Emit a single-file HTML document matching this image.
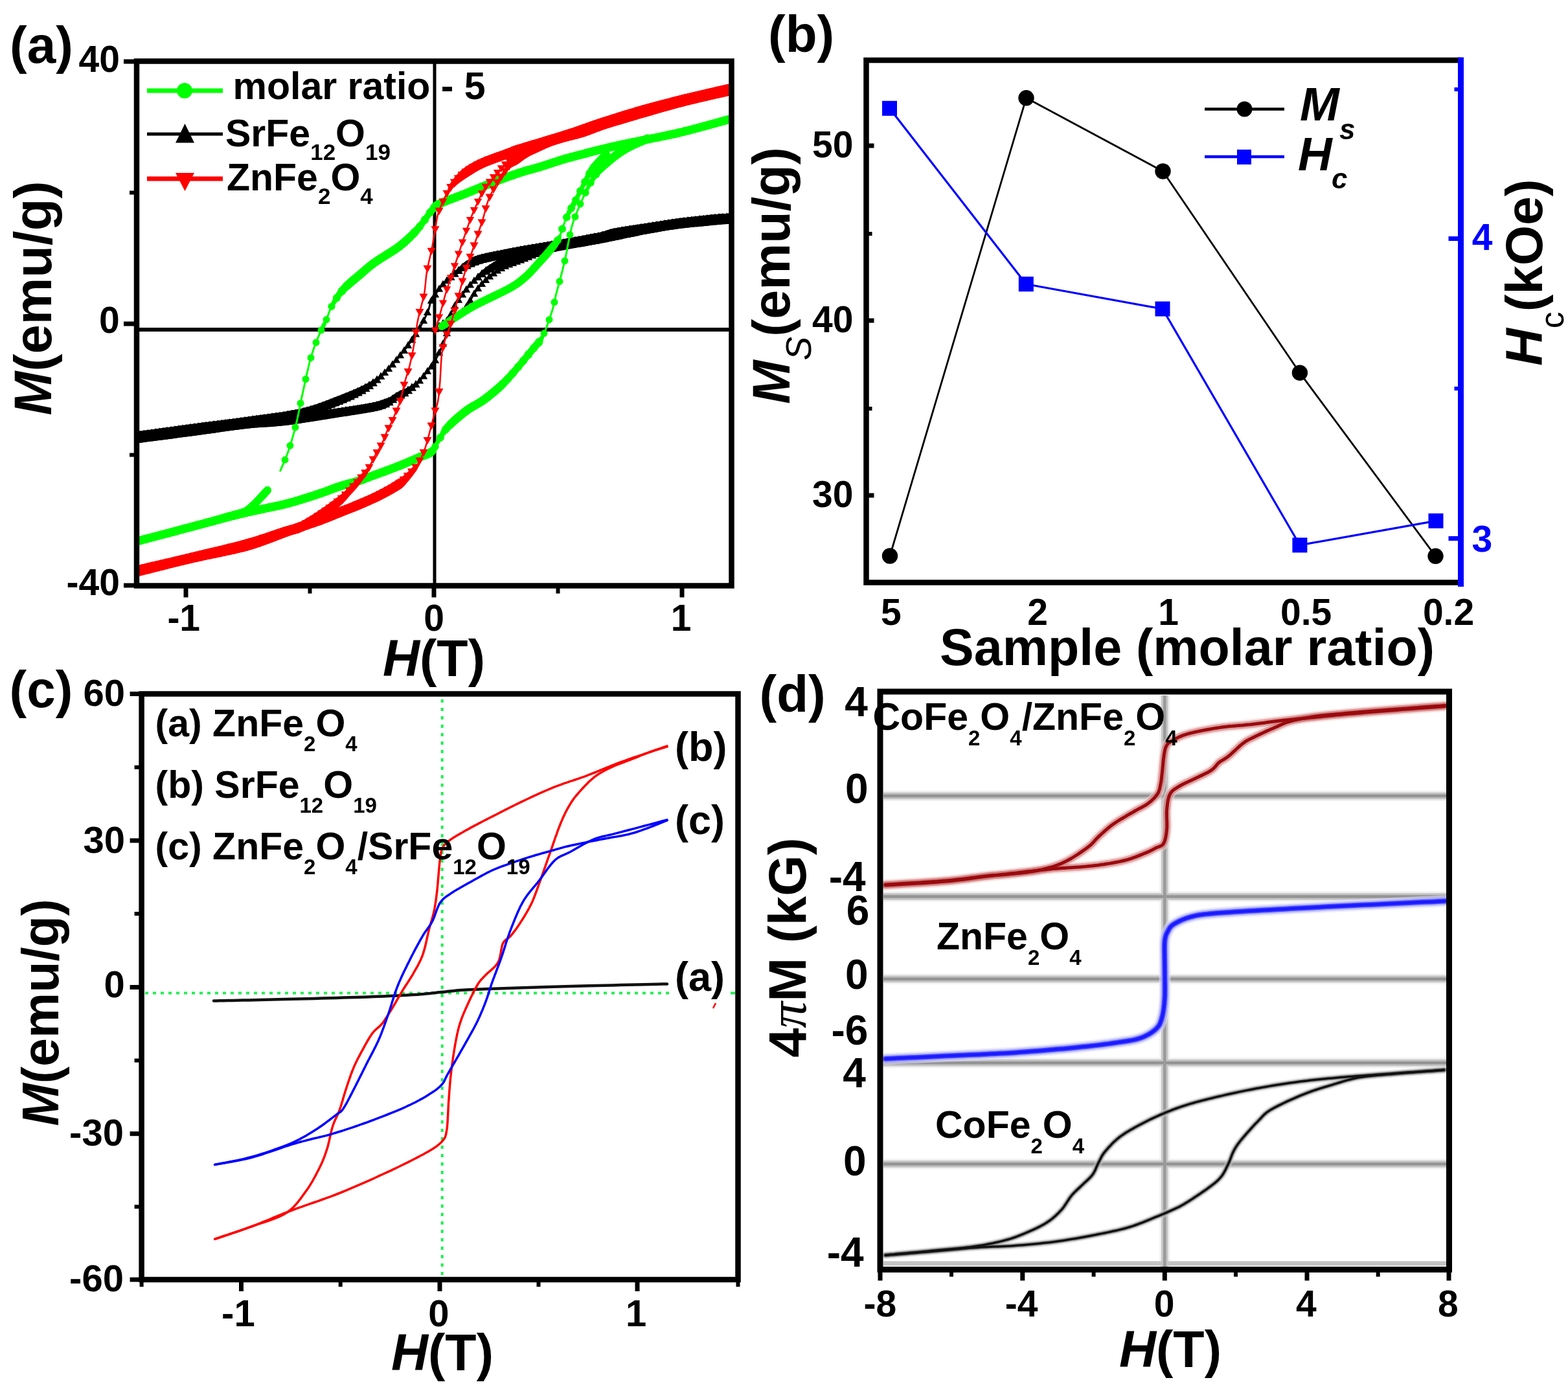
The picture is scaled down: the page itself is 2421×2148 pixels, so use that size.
<!DOCTYPE html>
<html><head><meta charset="utf-8"><title>Magnetic hysteresis figure</title>
<style>
html,body{margin:0;padding:0;background:#fff;}
body{width:2421px;height:2148px;overflow:hidden;}
svg{display:block;}
text{font-family:'Liberation Sans',Arial,sans-serif;font-weight:bold;}
</style></head><body>
<svg width="2421" height="2148" viewBox="0 0 2421 2148">
<rect width="2421" height="2148" fill="#fff"/>
<line x1="671.0" y1="94.5" x2="671.0" y2="904.5" stroke="#000" stroke-width="5" />
<line x1="211.0" y1="509.0" x2="1129.5" y2="509.0" stroke="#000" stroke-width="6" />
<defs><clipPath id="ca"><rect x="211" y="94.5" width="918.5" height="810"/></clipPath></defs><g clip-path="url(#ca)">
<path d="M1127.0,336.5 L1125.8,336.6 L1124.3,336.7 L1122.7,336.8 L1120.9,336.9 L1118.8,337.0 L1116.6,337.2 L1114.2,337.3 L1111.7,337.5 L1109.0,337.7 L1106.1,337.9 L1103.1,338.2 L1100.0,338.5 L1096.6,338.8 L1093.0,339.2 L1089.1,339.6 L1085.0,340.0 L1080.8,340.4 L1076.4,340.9 L1072.0,341.4 L1067.5,341.9 L1063.0,342.4 L1058.6,342.9 L1054.2,343.5 L1050.0,344.0 L1045.8,344.6 L1041.7,345.1 L1037.5,345.7 L1033.3,346.4 L1029.2,347.0 L1025.0,347.6 L1020.8,348.3 L1016.7,349.0 L1012.5,349.6 L1008.3,350.3 L1004.2,350.9 L1000.0,351.6 L995.8,352.3 L991.4,352.9 L986.9,353.6 L982.4,354.3 L977.9,354.9 L973.4,355.6 L969.0,356.3 L964.7,357.0 L960.7,357.6 L956.8,358.3 L953.3,358.9 L950.0,359.5 L947.2,360.1 L945.0,360.6 L943.2,361.1 L941.6,361.6 L940.3,362.0 L939.0,362.5 L937.7,363.0 L936.1,363.5 L934.3,364.0 L932.1,364.6 L929.4,365.3 L926.0,366.0 L921.9,366.8 L917.2,367.7 L912.1,368.7 L906.5,369.7 L900.7,370.8 L894.6,371.9 L888.5,373.0 L882.4,374.1 L876.4,375.1 L870.6,376.1 L865.1,377.1 L860.0,378.0 L855.2,378.8 L850.6,379.6 L846.0,380.4 L841.6,381.2 L837.2,381.9 L833.0,382.6 L828.9,383.3 L824.9,383.9 L821.0,384.6 L817.2,385.2 L813.6,385.9 L810.0,386.5 L806.6,387.1 L803.4,387.7 L800.4,388.3 L797.4,388.8 L794.6,389.3 L791.9,389.8 L789.3,390.4 L786.7,390.9 L784.1,391.4 L781.4,391.9 L778.7,392.4 L776.0,393.0 L773.2,393.6 L770.3,394.1 L767.3,394.7 L764.3,395.3 L761.3,395.9 L758.4,396.5 L755.5,397.1 L752.7,397.7 L750.1,398.3 L747.5,398.9 L745.2,399.4 L743.0,400.0 L741.0,400.5 L739.3,401.1 L737.7,401.6 L736.3,402.1 L735.0,402.6 L733.7,403.1 L732.5,403.6 L731.4,404.1 L730.2,404.6 L729.1,405.2 L727.8,405.8 L726.5,406.5 L725.2,407.2 L723.8,407.8 L722.6,408.5 L721.3,409.1 L720.1,409.8 L718.8,410.5 L717.5,411.3 L716.1,412.1 L714.7,413.0 L713.2,414.0 L711.7,415.2 L710.0,416.4 L708.2,417.8 L706.2,419.4 L704.0,421.1 L701.8,423.0 L699.5,424.9 L697.2,426.9 L694.9,428.9 L692.7,430.9 L690.5,432.8 L688.5,434.6 L686.6,436.4 L685.0,438.0 L683.5,439.5 L682.2,440.9 L681.1,442.3 L680.0,443.6 L679.0,444.8 L678.1,446.0 L677.3,447.2 L676.5,448.4 L675.7,449.5 L674.9,450.7 L674.1,451.8 L673.3,453.0 L672.5,454.2 L671.7,455.3 L670.9,456.4 L670.1,457.5 L669.4,458.6 L668.7,459.7 L668.0,460.8 L667.3,461.9 L666.7,463.0 L666.1,464.1 L665.5,465.2 L665.0,466.3 L664.5,467.4 L664.2,468.5 L663.9,469.5 L663.6,470.5 L663.4,471.5 L663.2,472.6 L662.9,473.6 L662.7,474.8 L662.4,475.9 L662.0,477.2 L661.6,478.5 L661.0,480.0 L660.3,481.6 L659.6,483.3 L658.8,485.0 L658.0,486.9 L657.1,488.8 L656.1,490.8 L655.2,492.8 L654.2,494.8 L653.2,496.8 L652.1,498.8 L651.1,500.8 L650.0,502.7 L648.9,504.6 L647.8,506.5 L646.7,508.4 L645.5,510.3 L644.4,512.2 L643.2,514.1 L642.0,515.9 L640.7,517.8 L639.5,519.7 L638.2,521.6 L636.9,523.5 L635.6,525.4 L634.3,527.3 L633.0,529.1 L631.7,530.9 L630.4,532.7 L629.1,534.5 L627.8,536.3 L626.4,538.2 L625.0,540.0 L623.5,541.9 L622.0,543.9 L620.3,545.9 L618.6,548.0 L616.8,550.2 L614.9,552.5 L612.9,554.9 L610.8,557.3 L608.7,559.8 L606.5,562.3 L604.3,564.8 L602.1,567.2 L599.8,569.7 L597.5,572.0 L595.3,574.3 L593.0,576.5 L590.8,578.6 L588.6,580.6 L586.5,582.6 L584.3,584.5 L582.1,586.4 L579.9,588.3 L577.6,590.1 L575.3,591.9 L572.9,593.7 L570.3,595.5 L567.6,597.2 L564.7,599.0 L561.7,600.8 L558.6,602.5 L555.4,604.2 L552.1,605.9 L548.7,607.6 L545.1,609.2 L541.5,610.9 L537.8,612.5 L534.0,614.1 L530.1,615.8 L526.1,617.4 L522.0,619.0 L517.8,620.6 L513.7,622.3 L509.4,624.0 L505.1,625.6 L500.7,627.3 L496.1,628.9 L491.5,630.6 L486.6,632.1 L481.6,633.7 L476.3,635.2 L470.8,636.6 L465.0,638.0 L458.9,639.3 L452.5,640.5 L445.7,641.7 L438.7,642.9 L431.6,643.9 L424.2,645.0 L416.8,646.0 L409.4,647.0 L401.9,648.0 L394.5,649.0 L387.2,650.0 L380.0,651.0 L372.9,652.0 L365.8,652.9 L358.6,653.9 L351.5,654.8 L344.3,655.7 L337.2,656.6 L330.1,657.5 L323.0,658.4 L315.9,659.3 L308.9,660.2 L301.9,661.1 L295.0,662.0 L287.9,663.0 L280.5,664.0 L272.8,665.0 L265.0,666.1 L257.3,667.1 L249.7,668.2 L242.4,669.2 L235.6,670.1 L229.3,671.0 L223.6,671.8 L218.8,672.5 L215.0,673.0" fill="none" stroke="#000000" stroke-width="3" stroke-linejoin="round" stroke-linecap="round" />
<g stroke="#000000" stroke-linecap="round"><line x1="1127.0" y1="336.5" x2="1125.8" y2="336.6" stroke-width="14.0"/><line x1="1125.8" y1="336.6" x2="1124.3" y2="336.7" stroke-width="14.0"/><line x1="1124.3" y1="336.7" x2="1122.7" y2="336.8" stroke-width="14.0"/><line x1="1122.7" y1="336.8" x2="1120.9" y2="336.9" stroke-width="14.0"/><line x1="1120.9" y1="336.9" x2="1118.8" y2="337.0" stroke-width="14.0"/><line x1="1118.8" y1="337.0" x2="1116.6" y2="337.2" stroke-width="14.0"/><line x1="1116.6" y1="337.2" x2="1114.2" y2="337.3" stroke-width="14.0"/><line x1="1114.2" y1="337.3" x2="1111.7" y2="337.5" stroke-width="14.0"/><line x1="1111.7" y1="337.5" x2="1109.0" y2="337.7" stroke-width="14.0"/><line x1="1109.0" y1="337.7" x2="1106.1" y2="337.9" stroke-width="14.0"/><line x1="1106.1" y1="337.9" x2="1103.1" y2="338.2" stroke-width="14.0"/><line x1="1103.1" y1="338.2" x2="1100.0" y2="338.5" stroke-width="14.0"/><line x1="1100.0" y1="338.5" x2="1096.6" y2="338.8" stroke-width="14.0"/><line x1="1096.6" y1="338.8" x2="1093.0" y2="339.2" stroke-width="14.0"/><line x1="1093.0" y1="339.2" x2="1089.1" y2="339.6" stroke-width="14.0"/><line x1="1089.1" y1="339.6" x2="1085.0" y2="340.0" stroke-width="14.0"/><line x1="1085.0" y1="340.0" x2="1080.8" y2="340.4" stroke-width="14.0"/><line x1="1080.8" y1="340.4" x2="1076.4" y2="340.9" stroke-width="14.0"/><line x1="1076.4" y1="340.9" x2="1072.0" y2="341.4" stroke-width="14.0"/><line x1="1072.0" y1="341.4" x2="1067.5" y2="341.9" stroke-width="14.0"/><line x1="1067.5" y1="341.9" x2="1063.0" y2="342.4" stroke-width="14.0"/><line x1="1063.0" y1="342.4" x2="1058.6" y2="342.9" stroke-width="14.0"/><line x1="1058.6" y1="342.9" x2="1054.2" y2="343.5" stroke-width="14.0"/><line x1="1054.2" y1="343.5" x2="1050.0" y2="344.0" stroke-width="14.0"/><line x1="1050.0" y1="344.0" x2="1045.8" y2="344.6" stroke-width="14.0"/><line x1="1045.8" y1="344.6" x2="1041.7" y2="345.1" stroke-width="14.0"/><line x1="1041.7" y1="345.1" x2="1037.5" y2="345.7" stroke-width="14.0"/><line x1="1037.5" y1="345.7" x2="1033.3" y2="346.4" stroke-width="14.0"/><line x1="1033.3" y1="346.4" x2="1029.2" y2="347.0" stroke-width="14.0"/><line x1="1029.2" y1="347.0" x2="1025.0" y2="347.6" stroke-width="14.0"/><line x1="1025.0" y1="347.6" x2="1020.8" y2="348.3" stroke-width="14.0"/><line x1="1020.8" y1="348.3" x2="1016.7" y2="349.0" stroke-width="14.0"/><line x1="1016.7" y1="349.0" x2="1012.5" y2="349.6" stroke-width="14.0"/><line x1="1012.5" y1="349.6" x2="1008.3" y2="350.3" stroke-width="14.0"/><line x1="1008.3" y1="350.3" x2="1004.2" y2="350.9" stroke-width="14.0"/><line x1="1004.2" y1="350.9" x2="1000.0" y2="351.6" stroke-width="14.0"/><line x1="1000.0" y1="351.6" x2="995.8" y2="352.3" stroke-width="14.0"/><line x1="995.8" y1="352.3" x2="991.4" y2="352.9" stroke-width="14.0"/><line x1="991.4" y1="352.9" x2="986.9" y2="353.6" stroke-width="14.0"/><line x1="986.9" y1="353.6" x2="982.4" y2="354.3" stroke-width="14.0"/><line x1="982.4" y1="354.3" x2="977.9" y2="354.9" stroke-width="14.0"/><line x1="977.9" y1="354.9" x2="973.4" y2="355.6" stroke-width="14.0"/><line x1="973.4" y1="355.6" x2="969.0" y2="356.3" stroke-width="14.0"/><line x1="969.0" y1="356.3" x2="964.7" y2="357.0" stroke-width="14.0"/><line x1="964.7" y1="357.0" x2="960.7" y2="357.6" stroke-width="14.0"/><line x1="960.7" y1="357.6" x2="956.8" y2="358.3" stroke-width="14.0"/><line x1="956.8" y1="358.3" x2="953.3" y2="358.9" stroke-width="14.0"/><line x1="953.3" y1="358.9" x2="950.0" y2="359.5" stroke-width="14.0"/><line x1="950.0" y1="359.5" x2="947.2" y2="360.1" stroke-width="14.0"/><line x1="947.2" y1="360.1" x2="945.0" y2="360.6" stroke-width="14.0"/><line x1="945.0" y1="360.6" x2="943.2" y2="361.1" stroke-width="14.0"/><line x1="943.2" y1="361.1" x2="941.6" y2="361.6" stroke-width="14.0"/><line x1="941.6" y1="361.6" x2="940.3" y2="362.0" stroke-width="14.0"/><line x1="940.3" y1="362.0" x2="939.0" y2="362.5" stroke-width="14.0"/><line x1="939.0" y1="362.5" x2="937.7" y2="363.0" stroke-width="14.0"/><line x1="937.7" y1="363.0" x2="936.1" y2="363.5" stroke-width="14.0"/><line x1="936.1" y1="363.5" x2="934.3" y2="364.0" stroke-width="14.0"/><line x1="934.3" y1="364.0" x2="932.1" y2="364.6" stroke-width="14.0"/><line x1="932.1" y1="364.6" x2="929.4" y2="365.3" stroke-width="14.0"/><line x1="929.4" y1="365.3" x2="926.0" y2="366.0" stroke-width="14.0"/><line x1="926.0" y1="366.0" x2="921.9" y2="366.8" stroke-width="14.0"/><line x1="921.9" y1="366.8" x2="917.2" y2="367.7" stroke-width="14.0"/><line x1="917.2" y1="367.7" x2="912.1" y2="368.7" stroke-width="14.0"/><line x1="912.1" y1="368.7" x2="906.5" y2="369.7" stroke-width="14.0"/><line x1="906.5" y1="369.7" x2="900.7" y2="370.8" stroke-width="14.0"/><line x1="900.7" y1="370.8" x2="894.6" y2="371.9" stroke-width="14.0"/><line x1="894.6" y1="371.9" x2="888.5" y2="373.0" stroke-width="14.0"/><line x1="888.5" y1="373.0" x2="882.4" y2="374.1" stroke-width="14.0"/><line x1="882.4" y1="374.1" x2="876.4" y2="375.1" stroke-width="14.0"/><line x1="876.4" y1="375.1" x2="870.6" y2="376.1" stroke-width="14.0"/><line x1="870.6" y1="376.1" x2="865.1" y2="377.1" stroke-width="14.0"/><line x1="865.1" y1="377.1" x2="860.0" y2="378.0" stroke-width="14.0"/><line x1="860.0" y1="378.0" x2="855.2" y2="378.8" stroke-width="14.0"/><line x1="855.2" y1="378.8" x2="850.6" y2="379.6" stroke-width="14.0"/><line x1="850.6" y1="379.6" x2="846.0" y2="380.4" stroke-width="14.0"/><line x1="846.0" y1="380.4" x2="841.6" y2="381.2" stroke-width="14.0"/><line x1="841.6" y1="381.2" x2="837.2" y2="381.9" stroke-width="14.0"/><line x1="837.2" y1="381.9" x2="833.0" y2="382.6" stroke-width="14.0"/><line x1="833.0" y1="382.6" x2="828.9" y2="383.3" stroke-width="14.0"/><line x1="828.9" y1="383.3" x2="824.9" y2="383.9" stroke-width="14.0"/><line x1="824.9" y1="383.9" x2="821.0" y2="384.6" stroke-width="14.0"/><line x1="821.0" y1="384.6" x2="817.2" y2="385.2" stroke-width="14.0"/><line x1="817.2" y1="385.2" x2="813.6" y2="385.9" stroke-width="14.0"/><line x1="813.6" y1="385.9" x2="810.0" y2="386.5" stroke-width="14.0"/><line x1="810.0" y1="386.5" x2="806.6" y2="387.1" stroke-width="14.0"/><line x1="806.6" y1="387.1" x2="803.4" y2="387.7" stroke-width="14.0"/><line x1="803.4" y1="387.7" x2="800.4" y2="388.3" stroke-width="14.0"/><line x1="800.4" y1="388.3" x2="797.4" y2="388.8" stroke-width="14.0"/><line x1="797.4" y1="388.8" x2="794.6" y2="389.3" stroke-width="14.0"/><line x1="794.6" y1="389.3" x2="791.9" y2="389.8" stroke-width="14.0"/><line x1="791.9" y1="389.8" x2="789.3" y2="390.4" stroke-width="14.0"/><line x1="789.3" y1="390.4" x2="786.7" y2="390.9" stroke-width="14.0"/><line x1="786.7" y1="390.9" x2="784.1" y2="391.4" stroke-width="14.0"/><line x1="784.1" y1="391.4" x2="781.4" y2="391.9" stroke-width="14.0"/><line x1="781.4" y1="391.9" x2="778.7" y2="392.4" stroke-width="14.0"/><line x1="778.7" y1="392.4" x2="776.0" y2="393.0" stroke-width="14.0"/><line x1="776.0" y1="393.0" x2="773.2" y2="393.6" stroke-width="14.0"/><line x1="773.2" y1="393.6" x2="770.3" y2="394.1" stroke-width="14.0"/><line x1="770.3" y1="394.1" x2="767.3" y2="394.7" stroke-width="14.0"/><line x1="767.3" y1="394.7" x2="764.3" y2="395.3" stroke-width="14.0"/><line x1="764.3" y1="395.3" x2="761.3" y2="395.9" stroke-width="14.0"/><line x1="761.3" y1="395.9" x2="758.4" y2="396.5" stroke-width="14.0"/><line x1="758.4" y1="396.5" x2="755.5" y2="397.1" stroke-width="14.0"/><line x1="755.5" y1="397.1" x2="752.7" y2="397.7" stroke-width="14.0"/><line x1="752.7" y1="397.7" x2="750.1" y2="398.3" stroke-width="14.0"/><line x1="750.1" y1="398.3" x2="747.5" y2="398.9" stroke-width="14.0"/><line x1="747.5" y1="398.9" x2="745.2" y2="399.4" stroke-width="14.0"/><line x1="745.2" y1="399.4" x2="743.0" y2="400.0" stroke-width="14.0"/><line x1="743.0" y1="400.0" x2="741.0" y2="400.5" stroke-width="14.0"/><line x1="741.0" y1="400.5" x2="739.3" y2="401.1" stroke-width="14.0"/><line x1="739.3" y1="401.1" x2="737.7" y2="401.6" stroke-width="14.0"/><line x1="737.7" y1="401.6" x2="736.3" y2="402.1" stroke-width="14.0"/><line x1="736.3" y1="402.1" x2="735.0" y2="402.6" stroke-width="14.0"/><line x1="735.0" y1="402.6" x2="733.7" y2="403.1" stroke-width="14.0"/><line x1="733.7" y1="403.1" x2="732.5" y2="403.6" stroke-width="13.6"/><line x1="732.5" y1="403.6" x2="731.4" y2="404.1" stroke-width="13.2"/><line x1="731.4" y1="404.1" x2="730.2" y2="404.6" stroke-width="12.8"/><line x1="730.2" y1="404.6" x2="729.1" y2="405.2" stroke-width="12.6"/><line x1="729.1" y1="405.2" x2="727.8" y2="405.8" stroke-width="12.4"/><line x1="727.8" y1="405.8" x2="726.5" y2="406.5" stroke-width="12.3"/><line x1="726.5" y1="406.5" x2="725.2" y2="407.2" stroke-width="12.2"/><line x1="725.2" y1="407.2" x2="723.8" y2="407.8" stroke-width="12.0"/><line x1="723.8" y1="407.8" x2="722.6" y2="408.5" stroke-width="11.9"/><line x1="722.6" y1="408.5" x2="721.3" y2="409.1" stroke-width="11.6"/><line x1="721.3" y1="409.1" x2="720.1" y2="409.8" stroke-width="11.3"/><line x1="720.1" y1="409.8" x2="718.8" y2="410.5" stroke-width="10.9"/><line x1="718.8" y1="410.5" x2="717.5" y2="411.3" stroke-width="10.4"/><line x1="717.5" y1="411.3" x2="716.1" y2="412.1" stroke-width="9.8"/><line x1="716.1" y1="412.1" x2="714.7" y2="413.0" stroke-width="9.3"/><line x1="714.7" y1="413.0" x2="713.2" y2="414.0" stroke-width="8.7"/><line x1="713.2" y1="414.0" x2="711.7" y2="415.2" stroke-width="8.2"/><line x1="711.7" y1="415.2" x2="710.0" y2="416.4" stroke-width="7.7"/><line x1="710.0" y1="416.4" x2="708.2" y2="417.8" stroke-width="7.2"/><line x1="708.2" y1="417.8" x2="706.2" y2="419.4" stroke-width="6.8"/><line x1="706.2" y1="419.4" x2="704.0" y2="421.1" stroke-width="6.5"/><line x1="704.0" y1="421.1" x2="701.8" y2="423.0" stroke-width="6.2"/><line x1="701.8" y1="423.0" x2="699.5" y2="424.9" stroke-width="5.9"/><line x1="699.5" y1="424.9" x2="697.2" y2="426.9" stroke-width="5.7"/><line x1="697.2" y1="426.9" x2="694.9" y2="428.9" stroke-width="5.4"/><line x1="694.9" y1="428.9" x2="692.7" y2="430.9" stroke-width="5.1"/><line x1="692.7" y1="430.9" x2="690.5" y2="432.8" stroke-width="4.8"/><line x1="690.5" y1="432.8" x2="688.5" y2="434.6" stroke-width="4.4"/><line x1="688.5" y1="434.6" x2="686.6" y2="436.4" stroke-width="3.9"/><line x1="686.6" y1="436.4" x2="685.0" y2="438.0" stroke-width="3.3"/><line x1="593.0" y1="576.5" x2="590.8" y2="578.6" stroke-width="3.7"/><line x1="590.8" y1="578.6" x2="588.6" y2="580.6" stroke-width="4.2"/><line x1="588.6" y1="580.6" x2="586.5" y2="582.6" stroke-width="4.6"/><line x1="586.5" y1="582.6" x2="584.3" y2="584.5" stroke-width="5.1"/><line x1="584.3" y1="584.5" x2="582.1" y2="586.4" stroke-width="5.6"/><line x1="582.1" y1="586.4" x2="579.9" y2="588.3" stroke-width="6.1"/><line x1="579.9" y1="588.3" x2="577.6" y2="590.1" stroke-width="6.8"/><line x1="577.6" y1="590.1" x2="575.3" y2="591.9" stroke-width="7.4"/><line x1="575.3" y1="591.9" x2="572.9" y2="593.7" stroke-width="8.1"/><line x1="572.9" y1="593.7" x2="570.3" y2="595.5" stroke-width="8.8"/><line x1="570.3" y1="595.5" x2="567.6" y2="597.2" stroke-width="9.4"/><line x1="567.6" y1="597.2" x2="564.7" y2="599.0" stroke-width="10.0"/><line x1="564.7" y1="599.0" x2="561.7" y2="600.8" stroke-width="10.6"/><line x1="561.7" y1="600.8" x2="558.6" y2="602.5" stroke-width="11.1"/><line x1="558.6" y1="602.5" x2="555.4" y2="604.2" stroke-width="11.5"/><line x1="555.4" y1="604.2" x2="552.1" y2="605.9" stroke-width="11.9"/><line x1="552.1" y1="605.9" x2="548.7" y2="607.6" stroke-width="12.3"/><line x1="548.7" y1="607.6" x2="545.1" y2="609.2" stroke-width="12.6"/><line x1="545.1" y1="609.2" x2="541.5" y2="610.9" stroke-width="12.9"/><line x1="541.5" y1="610.9" x2="537.8" y2="612.5" stroke-width="13.2"/><line x1="537.8" y1="612.5" x2="534.0" y2="614.1" stroke-width="13.5"/><line x1="534.0" y1="614.1" x2="530.1" y2="615.8" stroke-width="13.7"/><line x1="530.1" y1="615.8" x2="526.1" y2="617.4" stroke-width="13.8"/><line x1="526.1" y1="617.4" x2="522.0" y2="619.0" stroke-width="13.9"/><line x1="522.0" y1="619.0" x2="517.8" y2="620.6" stroke-width="14.0"/><line x1="517.8" y1="620.6" x2="513.7" y2="622.3" stroke-width="14.0"/><line x1="513.7" y1="622.3" x2="509.4" y2="624.0" stroke-width="14.0"/><line x1="509.4" y1="624.0" x2="505.1" y2="625.6" stroke-width="14.0"/><line x1="505.1" y1="625.6" x2="500.7" y2="627.3" stroke-width="14.0"/><line x1="500.7" y1="627.3" x2="496.1" y2="628.9" stroke-width="14.0"/><line x1="496.1" y1="628.9" x2="491.5" y2="630.6" stroke-width="14.0"/><line x1="491.5" y1="630.6" x2="486.6" y2="632.1" stroke-width="14.0"/><line x1="486.6" y1="632.1" x2="481.6" y2="633.7" stroke-width="14.0"/><line x1="481.6" y1="633.7" x2="476.3" y2="635.2" stroke-width="14.0"/><line x1="476.3" y1="635.2" x2="470.8" y2="636.6" stroke-width="14.0"/><line x1="470.8" y1="636.6" x2="465.0" y2="638.0" stroke-width="14.0"/><line x1="465.0" y1="638.0" x2="458.9" y2="639.3" stroke-width="14.0"/><line x1="458.9" y1="639.3" x2="452.5" y2="640.5" stroke-width="14.0"/><line x1="452.5" y1="640.5" x2="445.7" y2="641.7" stroke-width="14.0"/><line x1="445.7" y1="641.7" x2="438.7" y2="642.9" stroke-width="14.0"/><line x1="438.7" y1="642.9" x2="431.6" y2="643.9" stroke-width="14.0"/><line x1="431.6" y1="643.9" x2="424.2" y2="645.0" stroke-width="14.0"/><line x1="424.2" y1="645.0" x2="416.8" y2="646.0" stroke-width="14.0"/><line x1="416.8" y1="646.0" x2="409.4" y2="647.0" stroke-width="14.0"/><line x1="409.4" y1="647.0" x2="401.9" y2="648.0" stroke-width="14.0"/><line x1="401.9" y1="648.0" x2="394.5" y2="649.0" stroke-width="14.0"/><line x1="394.5" y1="649.0" x2="387.2" y2="650.0" stroke-width="14.0"/><line x1="387.2" y1="650.0" x2="380.0" y2="651.0" stroke-width="14.0"/><line x1="380.0" y1="651.0" x2="372.9" y2="652.0" stroke-width="14.0"/><line x1="372.9" y1="652.0" x2="365.8" y2="652.9" stroke-width="14.0"/><line x1="365.8" y1="652.9" x2="358.6" y2="653.9" stroke-width="14.0"/><line x1="358.6" y1="653.9" x2="351.5" y2="654.8" stroke-width="14.0"/><line x1="351.5" y1="654.8" x2="344.3" y2="655.7" stroke-width="14.0"/><line x1="344.3" y1="655.7" x2="337.2" y2="656.6" stroke-width="14.0"/><line x1="337.2" y1="656.6" x2="330.1" y2="657.5" stroke-width="14.0"/><line x1="330.1" y1="657.5" x2="323.0" y2="658.4" stroke-width="14.0"/><line x1="323.0" y1="658.4" x2="315.9" y2="659.3" stroke-width="14.0"/><line x1="315.9" y1="659.3" x2="308.9" y2="660.2" stroke-width="14.0"/><line x1="308.9" y1="660.2" x2="301.9" y2="661.1" stroke-width="14.0"/><line x1="301.9" y1="661.1" x2="295.0" y2="662.0" stroke-width="14.0"/><line x1="295.0" y1="662.0" x2="287.9" y2="663.0" stroke-width="14.0"/><line x1="287.9" y1="663.0" x2="280.5" y2="664.0" stroke-width="14.0"/><line x1="280.5" y1="664.0" x2="272.8" y2="665.0" stroke-width="14.0"/><line x1="272.8" y1="665.0" x2="265.0" y2="666.1" stroke-width="14.0"/><line x1="265.0" y1="666.1" x2="257.3" y2="667.1" stroke-width="14.0"/><line x1="257.3" y1="667.1" x2="249.7" y2="668.2" stroke-width="14.0"/><line x1="249.7" y1="668.2" x2="242.4" y2="669.2" stroke-width="14.0"/><line x1="242.4" y1="669.2" x2="235.6" y2="670.1" stroke-width="14.0"/><line x1="235.6" y1="670.1" x2="229.3" y2="671.0" stroke-width="14.0"/><line x1="229.3" y1="671.0" x2="223.6" y2="671.8" stroke-width="14.0"/><line x1="223.6" y1="671.8" x2="218.8" y2="672.5" stroke-width="14.0"/><line x1="218.8" y1="672.5" x2="215.0" y2="673.0" stroke-width="14.0"/></g>
<path d="M1122.0,328.3L1130.1,342.8L1113.9,342.8zM1116.0,328.7L1124.1,343.1L1107.9,343.1zM1110.0,329.1L1118.1,343.6L1101.9,343.6zM1104.0,329.6L1112.1,344.1L1095.9,344.1zM1098.0,330.2L1106.1,344.6L1089.9,344.6zM1092.0,330.8L1100.1,345.2L1083.9,345.2zM1086.0,331.4L1094.1,345.8L1077.9,345.8zM1080.0,332.0L1088.1,346.5L1071.9,346.5zM1074.0,332.7L1082.1,347.1L1065.9,347.1zM1068.0,333.3L1076.1,347.8L1059.9,347.8zM1062.0,334.0L1070.1,348.5L1053.9,348.5zM1056.0,334.7L1064.1,349.2L1047.9,349.2zM1050.0,335.5L1058.1,349.9L1041.9,349.9zM1044.0,336.3L1052.1,350.8L1035.9,350.8zM1038.0,337.2L1046.1,351.6L1029.9,351.6zM1032.0,338.1L1040.1,352.5L1023.9,352.5zM1026.0,339.0L1034.1,353.4L1017.9,353.4zM1020.0,339.9L1028.1,354.4L1011.9,354.4zM1014.0,340.9L1022.1,355.3L1005.9,355.3zM1008.0,341.8L1016.1,356.3L999.9,356.3zM1002.0,342.8L1010.1,357.2L993.9,357.2zM996.0,343.7L1004.1,358.2L987.9,358.2zM990.0,344.6L998.1,359.1L981.9,359.1zM984.0,345.5L992.1,360.0L975.9,360.0zM978.0,346.4L986.1,360.9L969.9,360.9zM972.0,347.3L980.1,361.8L963.9,361.8zM966.0,348.3L974.1,362.7L957.9,362.7zM960.0,349.2L968.1,363.7L951.9,363.7zM954.0,350.3L962.1,364.7L945.9,364.7zM948.0,351.4L956.1,365.9L939.9,365.9zM942.0,352.9L950.1,367.4L933.9,367.4zM936.0,355.0L944.1,369.5L927.9,369.5zM930.0,356.6L938.1,371.1L921.9,371.1zM924.0,357.9L932.1,372.4L915.9,372.4zM918.0,359.1L926.1,373.5L909.9,373.5zM912.0,360.2L920.1,374.7L903.9,374.7zM906.0,361.3L914.1,375.8L897.9,375.8zM900.0,362.4L908.1,376.9L891.9,376.9zM894.0,363.5L902.1,377.9L885.9,377.9zM888.0,364.6L896.1,379.0L879.9,379.0zM882.0,365.6L890.1,380.1L873.9,380.1zM876.0,366.7L884.1,381.1L867.9,381.1zM870.0,367.7L878.1,382.2L861.9,382.2zM864.0,368.8L872.1,383.2L855.9,383.2zM858.0,369.9L866.1,384.3L849.9,384.3zM852.0,370.9L860.1,385.3L843.9,385.3zM846.0,371.9L854.1,386.4L837.9,386.4zM840.0,372.9L848.1,387.4L831.9,387.4zM834.0,373.9L842.1,388.4L825.9,388.4zM828.0,374.9L836.1,389.4L819.9,389.4zM822.0,375.9L830.1,390.4L813.9,390.4zM816.0,376.9L824.1,391.4L807.9,391.4zM810.0,378.0L818.1,392.4L801.9,392.4zM804.0,379.1L812.1,393.5L795.9,393.5zM798.0,380.2L806.1,394.6L789.9,394.6zM792.0,381.3L800.1,395.8L783.9,395.8zM786.0,382.5L794.1,397.0L777.9,397.0zM780.0,383.7L788.1,398.1L771.9,398.1zM774.0,384.9L782.1,399.4L765.9,399.4zM768.0,386.1L776.1,400.5L759.9,400.5zM762.0,387.3L770.1,401.7L753.9,401.7zM756.0,388.5L764.1,402.9L747.9,402.9zM750.0,389.8L758.1,404.2L741.9,404.2zM744.0,391.2L752.1,405.7L735.9,405.7zM738.0,393.0L746.1,407.4L729.9,407.4zM732.0,395.5L739.9,409.7L724.1,409.7zM726.0,398.6L733.8,412.5L718.2,412.5zM720.0,401.8L727.6,415.4L712.4,415.4zM714.0,405.9L721.2,418.8L706.8,418.8zM708.0,410.7L714.9,423.0L701.1,423.0zM702.0,415.8L708.7,427.8L695.3,427.8zM696.0,421.0L702.6,432.8L689.4,432.8zM690.0,426.5L696.4,438.0L683.6,438.0zM684.0,432.5L690.2,443.6L677.8,443.6zM678.0,439.7L684.2,450.7L671.8,450.7zM672.0,448.3L678.2,459.4L665.8,459.4zM666.0,457.8L672.2,468.8L659.8,468.8zM660.0,475.9L666.2,486.9L653.8,486.9zM654.0,488.7L660.2,499.7L647.8,499.7zM648.0,499.7L654.2,510.7L641.8,510.7zM642.0,509.4L648.2,520.4L635.8,520.4zM636.0,518.3L642.2,529.4L629.8,529.4zM630.0,526.8L636.2,537.9L623.8,537.9zM624.0,534.8L630.2,545.9L617.8,545.9zM618.0,542.2L624.2,553.3L611.8,553.3zM612.0,549.4L618.2,560.4L605.8,560.4zM606.0,556.3L612.2,567.4L599.8,567.4zM600.0,562.9L606.2,574.0L593.8,574.0zM594.0,569.0L600.2,580.1L587.8,580.1zM588.0,574.4L594.4,585.9L581.6,585.9zM582.0,579.5L588.7,591.4L575.3,591.4zM576.0,584.1L582.9,596.5L569.1,596.5zM570.0,588.1L577.2,601.0L562.8,601.0zM564.0,591.6L571.5,604.9L556.5,604.9zM558.0,594.8L565.6,608.4L550.4,608.4zM552.0,597.8L559.7,611.6L544.3,611.6zM546.0,600.5L553.9,614.6L538.1,614.6zM540.0,603.2L547.9,617.4L532.1,617.4zM534.0,605.7L542.0,620.0L526.0,620.0zM528.0,608.1L536.1,622.5L519.9,622.5zM522.0,610.5L530.1,624.9L513.9,624.9zM516.0,612.9L524.1,627.3L507.9,627.3zM510.0,615.2L518.1,629.7L501.9,629.7zM504.0,617.5L512.1,632.0L495.9,632.0zM498.0,619.8L506.1,634.2L489.9,634.2zM492.0,621.9L500.1,636.3L483.9,636.3zM486.0,623.8L494.1,638.3L477.9,638.3zM480.0,625.6L488.1,640.1L471.9,640.1zM474.0,627.3L482.1,641.7L465.9,641.7zM468.0,628.8L476.1,643.3L459.9,643.3zM462.0,630.2L470.1,644.6L453.9,644.6zM456.0,631.4L464.1,645.8L447.9,645.8zM450.0,632.5L458.1,646.9L441.9,646.9zM444.0,633.5L452.1,648.0L435.9,648.0zM438.0,634.5L446.1,648.9L429.9,648.9zM432.0,635.4L440.1,649.8L423.9,649.8zM426.0,636.2L434.1,650.7L417.9,650.7zM420.0,637.1L428.1,651.5L411.9,651.5zM414.0,637.9L422.1,652.4L405.9,652.4zM408.0,638.7L416.1,653.2L399.9,653.2zM402.0,639.5L410.1,654.0L393.9,654.0zM396.0,640.3L404.1,654.8L387.9,654.8zM390.0,641.1L398.1,655.6L381.9,655.6zM384.0,641.9L392.1,656.4L375.9,656.4zM378.0,642.8L386.1,657.2L369.9,657.2zM372.0,643.6L380.1,658.1L363.9,658.1zM366.0,644.4L374.1,658.9L357.9,658.9zM360.0,645.2L368.1,659.7L351.9,659.7zM354.0,646.0L362.1,660.4L345.9,660.4zM348.0,646.8L356.1,661.2L339.9,661.2zM342.0,647.5L350.1,662.0L333.9,662.0zM336.0,648.3L344.1,662.7L327.9,662.7zM330.0,649.0L338.1,663.5L321.9,663.5zM324.0,649.8L332.1,664.2L315.9,664.2zM318.0,650.5L326.1,665.0L309.9,665.0zM312.0,651.3L320.1,665.7L303.9,665.7zM306.0,652.1L314.1,666.5L297.9,666.5zM300.0,652.8L308.1,667.3L291.9,667.3zM294.0,653.6L302.1,668.1L285.9,668.1zM288.0,654.4L296.1,668.9L279.9,668.9zM282.0,655.3L290.1,669.7L273.9,669.7zM276.0,656.1L284.1,670.5L267.9,670.5zM270.0,656.9L278.1,671.3L261.9,671.3zM264.0,657.7L272.1,672.2L255.9,672.2zM258.0,658.5L266.1,673.0L249.9,673.0zM252.0,659.4L260.1,673.8L243.9,673.8zM246.0,660.2L254.1,674.6L237.9,674.6zM240.0,661.0L248.1,675.5L231.9,675.5zM234.0,661.9L242.1,676.3L225.9,676.3zM228.0,662.7L236.1,677.1L219.9,677.1zM222.0,663.5L230.1,678.0L213.9,678.0zM216.0,664.4L224.1,678.8L207.9,678.8z" fill="#000000" stroke="none"/>
<path d="M215.0,677.0 L218.8,676.5 L223.6,675.9 L229.3,675.1 L235.6,674.3 L242.4,673.4 L249.7,672.5 L257.3,671.5 L265.0,670.5 L272.8,669.4 L280.5,668.4 L287.9,667.4 L295.0,666.5 L302.0,665.6 L309.2,664.6 L316.5,663.5 L323.9,662.5 L331.3,661.5 L338.8,660.4 L346.1,659.4 L353.3,658.4 L360.4,657.4 L367.2,656.6 L373.8,655.7 L380.0,655.0 L385.8,654.4 L391.3,653.9 L396.5,653.4 L401.4,653.1 L406.2,652.8 L410.8,652.5 L415.4,652.2 L420.1,651.9 L424.8,651.5 L429.6,651.1 L434.7,650.6 L440.0,650.0 L445.6,649.3 L451.3,648.5 L457.1,647.7 L463.0,646.8 L469.0,645.9 L475.1,644.9 L481.2,644.0 L487.3,643.0 L493.4,642.0 L499.5,641.0 L505.6,640.0 L511.6,639.0 L517.7,638.0 L524.0,637.1 L530.5,636.1 L537.0,635.2 L543.6,634.2 L550.1,633.2 L556.4,632.2 L562.5,631.2 L568.3,630.2 L573.8,629.2 L578.8,628.1 L583.3,627.0 L587.3,625.9 L590.8,624.7 L594.0,623.4 L596.8,622.2 L599.3,620.9 L601.6,619.6 L603.7,618.3 L605.6,617.1 L607.5,615.8 L609.3,614.7 L611.1,613.5 L613.0,612.5 L614.9,611.5 L616.6,610.7 L618.1,609.9 L619.6,609.1 L621.0,608.4 L622.3,607.7 L623.6,607.0 L624.8,606.3 L626.0,605.6 L627.3,604.8 L628.6,603.9 L630.0,603.0 L631.4,602.0 L632.9,601.0 L634.3,599.9 L635.8,598.8 L637.2,597.6 L638.7,596.5 L640.1,595.3 L641.6,594.1 L643.0,592.8 L644.3,591.6 L645.7,590.3 L647.0,589.0 L648.3,587.7 L649.6,586.3 L650.8,584.8 L652.1,583.4 L653.3,581.9 L654.5,580.4 L655.7,578.9 L656.8,577.4 L657.9,576.0 L659.0,574.6 L660.0,573.3 L661.0,572.0 L661.9,570.9 L662.8,569.8 L663.6,568.9 L664.3,568.0 L665.0,567.2 L665.7,566.3 L666.4,565.5 L667.0,564.6 L667.7,563.6 L668.4,562.5 L669.2,561.3 L670.0,560.0 L670.8,558.5 L671.7,557.0 L672.6,555.4 L673.5,553.7 L674.4,551.9 L675.4,550.1 L676.3,548.2 L677.3,546.3 L678.2,544.3 L679.1,542.2 L680.1,540.1 L681.0,538.0 L681.9,535.8 L682.9,533.5 L683.9,531.1 L684.9,528.7 L685.8,526.1 L686.8,523.6 L687.8,521.0 L688.7,518.5 L689.6,515.9 L690.5,513.4 L691.3,510.8 L692.0,508.4 L692.6,506.0 L693.1,503.6 L693.5,501.3 L693.9,498.9 L694.1,496.6 L694.4,494.2 L694.8,491.9 L695.1,489.6 L695.6,487.2 L696.2,484.8 L697.0,482.4 L698.0,480.0 L699.2,477.5 L700.5,475.0 L702.0,472.4 L703.6,469.7 L705.3,467.1 L707.1,464.4 L709.0,461.8 L710.8,459.2 L712.7,456.7 L714.5,454.3 L716.3,451.9 L718.0,449.7 L719.7,447.6 L721.3,445.5 L723.0,443.5 L724.6,441.6 L726.2,439.7 L727.9,437.9 L729.5,436.1 L731.2,434.4 L732.9,432.8 L734.6,431.1 L736.3,429.5 L738.0,428.0 L739.7,426.5 L741.5,425.1 L743.3,423.7 L745.0,422.4 L746.8,421.1 L748.6,419.9 L750.4,418.7 L752.2,417.5 L754.1,416.3 L756.0,415.2 L757.9,414.1 L759.8,413.0 L761.8,411.9 L763.8,410.9 L765.8,409.8 L767.9,408.8 L769.9,407.9 L772.0,406.9 L774.1,406.0 L776.3,405.1 L778.4,404.2 L780.5,403.3 L782.6,402.4 L784.7,401.5 L786.7,400.6 L788.6,399.8 L790.4,399.0 L792.2,398.2 L794.0,397.5 L795.8,396.7 L797.7,396.0 L799.7,395.2 L801.9,394.4 L804.3,393.6 L807.0,392.8 L810.0,392.0 L813.3,391.1 L816.7,390.3 L820.4,389.4 L824.2,388.5 L828.3,387.6 L832.5,386.7 L836.8,385.7 L841.2,384.8 L845.8,383.9 L850.5,382.9 L855.2,382.0 L860.0,381.0 L864.9,380.0 L870.0,379.1 L875.2,378.1 L880.5,377.2 L886.0,376.2 L891.5,375.2 L897.1,374.3 L902.8,373.3 L908.6,372.2 L914.4,371.2 L920.2,370.1 L926.0,369.0 L932.0,367.8 L938.1,366.6 L944.5,365.3 L951.0,364.0 L957.5,362.6 L964.0,361.2 L970.5,359.9 L976.8,358.6 L983.0,357.3 L989.0,356.1 L994.6,355.0 L1000.0,354.0 L1004.9,353.1 L1009.4,352.3 L1013.6,351.5 L1017.4,350.8 L1021.2,350.1 L1024.8,349.5 L1028.5,348.9 L1032.2,348.4 L1036.2,347.8 L1040.4,347.2 L1045.0,346.6 L1050.0,346.0 L1055.7,345.3 L1062.2,344.6 L1069.2,343.9 L1076.5,343.2 L1084.1,342.5 L1091.6,341.8 L1099.0,341.1 L1106.0,340.4 L1112.5,339.8 L1118.3,339.3 L1123.2,338.9 L1127.0,338.5" fill="none" stroke="#000000" stroke-width="3" stroke-linejoin="round" stroke-linecap="round" />
<g stroke="#000000" stroke-linecap="round"><line x1="215.0" y1="677.0" x2="218.8" y2="676.5" stroke-width="14.0"/><line x1="218.8" y1="676.5" x2="223.6" y2="675.9" stroke-width="14.0"/><line x1="223.6" y1="675.9" x2="229.3" y2="675.1" stroke-width="14.0"/><line x1="229.3" y1="675.1" x2="235.6" y2="674.3" stroke-width="14.0"/><line x1="235.6" y1="674.3" x2="242.4" y2="673.4" stroke-width="14.0"/><line x1="242.4" y1="673.4" x2="249.7" y2="672.5" stroke-width="14.0"/><line x1="249.7" y1="672.5" x2="257.3" y2="671.5" stroke-width="14.0"/><line x1="257.3" y1="671.5" x2="265.0" y2="670.5" stroke-width="14.0"/><line x1="265.0" y1="670.5" x2="272.8" y2="669.4" stroke-width="14.0"/><line x1="272.8" y1="669.4" x2="280.5" y2="668.4" stroke-width="14.0"/><line x1="280.5" y1="668.4" x2="287.9" y2="667.4" stroke-width="14.0"/><line x1="287.9" y1="667.4" x2="295.0" y2="666.5" stroke-width="14.0"/><line x1="295.0" y1="666.5" x2="302.0" y2="665.6" stroke-width="14.0"/><line x1="302.0" y1="665.6" x2="309.2" y2="664.6" stroke-width="14.0"/><line x1="309.2" y1="664.6" x2="316.5" y2="663.5" stroke-width="14.0"/><line x1="316.5" y1="663.5" x2="323.9" y2="662.5" stroke-width="14.0"/><line x1="323.9" y1="662.5" x2="331.3" y2="661.5" stroke-width="14.0"/><line x1="331.3" y1="661.5" x2="338.8" y2="660.4" stroke-width="14.0"/><line x1="338.8" y1="660.4" x2="346.1" y2="659.4" stroke-width="14.0"/><line x1="346.1" y1="659.4" x2="353.3" y2="658.4" stroke-width="14.0"/><line x1="353.3" y1="658.4" x2="360.4" y2="657.4" stroke-width="14.0"/><line x1="360.4" y1="657.4" x2="367.2" y2="656.6" stroke-width="14.0"/><line x1="367.2" y1="656.6" x2="373.8" y2="655.7" stroke-width="14.0"/><line x1="373.8" y1="655.7" x2="380.0" y2="655.0" stroke-width="14.0"/><line x1="380.0" y1="655.0" x2="385.8" y2="654.4" stroke-width="14.0"/><line x1="385.8" y1="654.4" x2="391.3" y2="653.9" stroke-width="14.0"/><line x1="391.3" y1="653.9" x2="396.5" y2="653.4" stroke-width="14.0"/><line x1="396.5" y1="653.4" x2="401.4" y2="653.1" stroke-width="14.0"/><line x1="401.4" y1="653.1" x2="406.2" y2="652.8" stroke-width="14.0"/><line x1="406.2" y1="652.8" x2="410.8" y2="652.5" stroke-width="14.0"/><line x1="410.8" y1="652.5" x2="415.4" y2="652.2" stroke-width="14.0"/><line x1="415.4" y1="652.2" x2="420.1" y2="651.9" stroke-width="14.0"/><line x1="420.1" y1="651.9" x2="424.8" y2="651.5" stroke-width="14.0"/><line x1="424.8" y1="651.5" x2="429.6" y2="651.1" stroke-width="14.0"/><line x1="429.6" y1="651.1" x2="434.7" y2="650.6" stroke-width="14.0"/><line x1="434.7" y1="650.6" x2="440.0" y2="650.0" stroke-width="14.0"/><line x1="440.0" y1="650.0" x2="445.6" y2="649.3" stroke-width="14.0"/><line x1="445.6" y1="649.3" x2="451.3" y2="648.5" stroke-width="14.0"/><line x1="451.3" y1="648.5" x2="457.1" y2="647.7" stroke-width="14.0"/><line x1="457.1" y1="647.7" x2="463.0" y2="646.8" stroke-width="14.0"/><line x1="463.0" y1="646.8" x2="469.0" y2="645.9" stroke-width="14.0"/><line x1="469.0" y1="645.9" x2="475.1" y2="644.9" stroke-width="14.0"/><line x1="475.1" y1="644.9" x2="481.2" y2="644.0" stroke-width="14.0"/><line x1="481.2" y1="644.0" x2="487.3" y2="643.0" stroke-width="14.0"/><line x1="487.3" y1="643.0" x2="493.4" y2="642.0" stroke-width="14.0"/><line x1="493.4" y1="642.0" x2="499.5" y2="641.0" stroke-width="14.0"/><line x1="499.5" y1="641.0" x2="505.6" y2="640.0" stroke-width="14.0"/><line x1="505.6" y1="640.0" x2="511.6" y2="639.0" stroke-width="14.0"/><line x1="511.6" y1="639.0" x2="517.7" y2="638.0" stroke-width="14.0"/><line x1="517.7" y1="638.0" x2="524.0" y2="637.1" stroke-width="14.0"/><line x1="524.0" y1="637.1" x2="530.5" y2="636.1" stroke-width="14.0"/><line x1="530.5" y1="636.1" x2="537.0" y2="635.2" stroke-width="14.0"/><line x1="537.0" y1="635.2" x2="543.6" y2="634.2" stroke-width="14.0"/><line x1="543.6" y1="634.2" x2="550.1" y2="633.2" stroke-width="14.0"/><line x1="550.1" y1="633.2" x2="556.4" y2="632.2" stroke-width="14.0"/><line x1="556.4" y1="632.2" x2="562.5" y2="631.2" stroke-width="14.0"/><line x1="562.5" y1="631.2" x2="568.3" y2="630.2" stroke-width="14.0"/><line x1="568.3" y1="630.2" x2="573.8" y2="629.2" stroke-width="14.0"/><line x1="573.8" y1="629.2" x2="578.8" y2="628.1" stroke-width="14.0"/><line x1="578.8" y1="628.1" x2="583.3" y2="627.0" stroke-width="14.0"/><line x1="583.3" y1="627.0" x2="587.3" y2="625.9" stroke-width="14.0"/><line x1="587.3" y1="625.9" x2="590.8" y2="624.7" stroke-width="14.0"/><line x1="590.8" y1="624.7" x2="594.0" y2="623.4" stroke-width="14.0"/><line x1="594.0" y1="623.4" x2="596.8" y2="622.2" stroke-width="13.5"/><line x1="596.8" y1="622.2" x2="599.3" y2="620.9" stroke-width="12.5"/><line x1="599.3" y1="620.9" x2="601.6" y2="619.6" stroke-width="11.6"/><line x1="601.6" y1="619.6" x2="603.7" y2="618.3" stroke-width="10.8"/><line x1="603.7" y1="618.3" x2="605.6" y2="617.1" stroke-width="10.3"/><line x1="605.6" y1="617.1" x2="607.5" y2="615.8" stroke-width="10.1"/><line x1="607.5" y1="615.8" x2="609.3" y2="614.7" stroke-width="10.2"/><line x1="609.3" y1="614.7" x2="611.1" y2="613.5" stroke-width="10.5"/><line x1="611.1" y1="613.5" x2="613.0" y2="612.5" stroke-width="10.8"/><line x1="613.0" y1="612.5" x2="614.9" y2="611.5" stroke-width="11.2"/><line x1="614.9" y1="611.5" x2="616.6" y2="610.7" stroke-width="11.6"/><line x1="616.6" y1="610.7" x2="618.1" y2="609.9" stroke-width="11.8"/><line x1="618.1" y1="609.9" x2="619.6" y2="609.1" stroke-width="11.8"/><line x1="619.6" y1="609.1" x2="621.0" y2="608.4" stroke-width="11.7"/><line x1="621.0" y1="608.4" x2="622.3" y2="607.7" stroke-width="11.5"/><line x1="622.3" y1="607.7" x2="623.6" y2="607.0" stroke-width="11.2"/><line x1="623.6" y1="607.0" x2="624.8" y2="606.3" stroke-width="10.8"/><line x1="624.8" y1="606.3" x2="626.0" y2="605.6" stroke-width="10.3"/><line x1="626.0" y1="605.6" x2="627.3" y2="604.8" stroke-width="9.9"/><line x1="627.3" y1="604.8" x2="628.6" y2="603.9" stroke-width="9.4"/><line x1="628.6" y1="603.9" x2="630.0" y2="603.0" stroke-width="8.9"/><line x1="630.0" y1="603.0" x2="631.4" y2="602.0" stroke-width="8.5"/><line x1="631.4" y1="602.0" x2="632.9" y2="601.0" stroke-width="8.1"/><line x1="632.9" y1="601.0" x2="634.3" y2="599.9" stroke-width="7.7"/><line x1="634.3" y1="599.9" x2="635.8" y2="598.8" stroke-width="7.3"/><line x1="635.8" y1="598.8" x2="637.2" y2="597.6" stroke-width="7.0"/><line x1="637.2" y1="597.6" x2="638.7" y2="596.5" stroke-width="6.5"/><line x1="638.7" y1="596.5" x2="640.1" y2="595.3" stroke-width="6.1"/><line x1="640.1" y1="595.3" x2="641.6" y2="594.1" stroke-width="5.6"/><line x1="641.6" y1="594.1" x2="643.0" y2="592.8" stroke-width="5.1"/><line x1="643.0" y1="592.8" x2="644.3" y2="591.6" stroke-width="4.5"/><line x1="644.3" y1="591.6" x2="645.7" y2="590.3" stroke-width="3.9"/><line x1="732.9" y1="432.8" x2="734.6" y2="431.1" stroke-width="3.7"/><line x1="734.6" y1="431.1" x2="736.3" y2="429.5" stroke-width="4.4"/><line x1="736.3" y1="429.5" x2="738.0" y2="428.0" stroke-width="5.0"/><line x1="738.0" y1="428.0" x2="739.7" y2="426.5" stroke-width="5.7"/><line x1="739.7" y1="426.5" x2="741.5" y2="425.1" stroke-width="6.3"/><line x1="741.5" y1="425.1" x2="743.3" y2="423.7" stroke-width="6.9"/><line x1="743.3" y1="423.7" x2="745.0" y2="422.4" stroke-width="7.5"/><line x1="745.0" y1="422.4" x2="746.8" y2="421.1" stroke-width="8.1"/><line x1="746.8" y1="421.1" x2="748.6" y2="419.9" stroke-width="8.6"/><line x1="748.6" y1="419.9" x2="750.4" y2="418.7" stroke-width="9.1"/><line x1="750.4" y1="418.7" x2="752.2" y2="417.5" stroke-width="9.5"/><line x1="752.2" y1="417.5" x2="754.1" y2="416.3" stroke-width="9.9"/><line x1="754.1" y1="416.3" x2="756.0" y2="415.2" stroke-width="10.3"/><line x1="756.0" y1="415.2" x2="757.9" y2="414.1" stroke-width="10.6"/><line x1="757.9" y1="414.1" x2="759.8" y2="413.0" stroke-width="11.0"/><line x1="759.8" y1="413.0" x2="761.8" y2="411.9" stroke-width="11.3"/><line x1="761.8" y1="411.9" x2="763.8" y2="410.9" stroke-width="11.7"/><line x1="763.8" y1="410.9" x2="765.8" y2="409.8" stroke-width="12.0"/><line x1="765.8" y1="409.8" x2="767.9" y2="408.8" stroke-width="12.3"/><line x1="767.9" y1="408.8" x2="769.9" y2="407.9" stroke-width="12.7"/><line x1="769.9" y1="407.9" x2="772.0" y2="406.9" stroke-width="12.9"/><line x1="772.0" y1="406.9" x2="774.1" y2="406.0" stroke-width="13.1"/><line x1="774.1" y1="406.0" x2="776.3" y2="405.1" stroke-width="13.3"/><line x1="776.3" y1="405.1" x2="778.4" y2="404.2" stroke-width="13.4"/><line x1="778.4" y1="404.2" x2="780.5" y2="403.3" stroke-width="13.5"/><line x1="780.5" y1="403.3" x2="782.6" y2="402.4" stroke-width="13.5"/><line x1="782.6" y1="402.4" x2="784.7" y2="401.5" stroke-width="13.5"/><line x1="784.7" y1="401.5" x2="786.7" y2="400.6" stroke-width="13.5"/><line x1="786.7" y1="400.6" x2="788.6" y2="399.8" stroke-width="13.5"/><line x1="788.6" y1="399.8" x2="790.4" y2="399.0" stroke-width="13.5"/><line x1="790.4" y1="399.0" x2="792.2" y2="398.2" stroke-width="13.5"/><line x1="792.2" y1="398.2" x2="794.0" y2="397.5" stroke-width="13.7"/><line x1="794.0" y1="397.5" x2="795.8" y2="396.7" stroke-width="13.9"/><line x1="795.8" y1="396.7" x2="797.7" y2="396.0" stroke-width="14.0"/><line x1="797.7" y1="396.0" x2="799.7" y2="395.2" stroke-width="14.0"/><line x1="799.7" y1="395.2" x2="801.9" y2="394.4" stroke-width="14.0"/><line x1="801.9" y1="394.4" x2="804.3" y2="393.6" stroke-width="14.0"/><line x1="804.3" y1="393.6" x2="807.0" y2="392.8" stroke-width="14.0"/><line x1="807.0" y1="392.8" x2="810.0" y2="392.0" stroke-width="14.0"/><line x1="810.0" y1="392.0" x2="813.3" y2="391.1" stroke-width="14.0"/><line x1="813.3" y1="391.1" x2="816.7" y2="390.3" stroke-width="14.0"/><line x1="816.7" y1="390.3" x2="820.4" y2="389.4" stroke-width="14.0"/><line x1="820.4" y1="389.4" x2="824.2" y2="388.5" stroke-width="14.0"/><line x1="824.2" y1="388.5" x2="828.3" y2="387.6" stroke-width="14.0"/><line x1="828.3" y1="387.6" x2="832.5" y2="386.7" stroke-width="14.0"/><line x1="832.5" y1="386.7" x2="836.8" y2="385.7" stroke-width="14.0"/><line x1="836.8" y1="385.7" x2="841.2" y2="384.8" stroke-width="14.0"/><line x1="841.2" y1="384.8" x2="845.8" y2="383.9" stroke-width="14.0"/><line x1="845.8" y1="383.9" x2="850.5" y2="382.9" stroke-width="14.0"/><line x1="850.5" y1="382.9" x2="855.2" y2="382.0" stroke-width="14.0"/><line x1="855.2" y1="382.0" x2="860.0" y2="381.0" stroke-width="14.0"/><line x1="860.0" y1="381.0" x2="864.9" y2="380.0" stroke-width="14.0"/><line x1="864.9" y1="380.0" x2="870.0" y2="379.1" stroke-width="14.0"/><line x1="870.0" y1="379.1" x2="875.2" y2="378.1" stroke-width="14.0"/><line x1="875.2" y1="378.1" x2="880.5" y2="377.2" stroke-width="14.0"/><line x1="880.5" y1="377.2" x2="886.0" y2="376.2" stroke-width="14.0"/><line x1="886.0" y1="376.2" x2="891.5" y2="375.2" stroke-width="14.0"/><line x1="891.5" y1="375.2" x2="897.1" y2="374.3" stroke-width="14.0"/><line x1="897.1" y1="374.3" x2="902.8" y2="373.3" stroke-width="14.0"/><line x1="902.8" y1="373.3" x2="908.6" y2="372.2" stroke-width="14.0"/><line x1="908.6" y1="372.2" x2="914.4" y2="371.2" stroke-width="14.0"/><line x1="914.4" y1="371.2" x2="920.2" y2="370.1" stroke-width="14.0"/><line x1="920.2" y1="370.1" x2="926.0" y2="369.0" stroke-width="14.0"/><line x1="926.0" y1="369.0" x2="932.0" y2="367.8" stroke-width="14.0"/><line x1="932.0" y1="367.8" x2="938.1" y2="366.6" stroke-width="14.0"/><line x1="938.1" y1="366.6" x2="944.5" y2="365.3" stroke-width="14.0"/><line x1="944.5" y1="365.3" x2="951.0" y2="364.0" stroke-width="14.0"/><line x1="951.0" y1="364.0" x2="957.5" y2="362.6" stroke-width="14.0"/><line x1="957.5" y1="362.6" x2="964.0" y2="361.2" stroke-width="14.0"/><line x1="964.0" y1="361.2" x2="970.5" y2="359.9" stroke-width="14.0"/><line x1="970.5" y1="359.9" x2="976.8" y2="358.6" stroke-width="14.0"/><line x1="976.8" y1="358.6" x2="983.0" y2="357.3" stroke-width="14.0"/><line x1="983.0" y1="357.3" x2="989.0" y2="356.1" stroke-width="14.0"/><line x1="989.0" y1="356.1" x2="994.6" y2="355.0" stroke-width="14.0"/><line x1="994.6" y1="355.0" x2="1000.0" y2="354.0" stroke-width="14.0"/><line x1="1000.0" y1="354.0" x2="1004.9" y2="353.1" stroke-width="14.0"/><line x1="1004.9" y1="353.1" x2="1009.4" y2="352.3" stroke-width="14.0"/><line x1="1009.4" y1="352.3" x2="1013.6" y2="351.5" stroke-width="14.0"/><line x1="1013.6" y1="351.5" x2="1017.4" y2="350.8" stroke-width="14.0"/><line x1="1017.4" y1="350.8" x2="1021.2" y2="350.1" stroke-width="14.0"/><line x1="1021.2" y1="350.1" x2="1024.8" y2="349.5" stroke-width="14.0"/><line x1="1024.8" y1="349.5" x2="1028.5" y2="348.9" stroke-width="14.0"/><line x1="1028.5" y1="348.9" x2="1032.2" y2="348.4" stroke-width="14.0"/><line x1="1032.2" y1="348.4" x2="1036.2" y2="347.8" stroke-width="14.0"/><line x1="1036.2" y1="347.8" x2="1040.4" y2="347.2" stroke-width="14.0"/><line x1="1040.4" y1="347.2" x2="1045.0" y2="346.6" stroke-width="14.0"/><line x1="1045.0" y1="346.6" x2="1050.0" y2="346.0" stroke-width="14.0"/><line x1="1050.0" y1="346.0" x2="1055.7" y2="345.3" stroke-width="14.0"/><line x1="1055.7" y1="345.3" x2="1062.2" y2="344.6" stroke-width="14.0"/><line x1="1062.2" y1="344.6" x2="1069.2" y2="343.9" stroke-width="14.0"/><line x1="1069.2" y1="343.9" x2="1076.5" y2="343.2" stroke-width="14.0"/><line x1="1076.5" y1="343.2" x2="1084.1" y2="342.5" stroke-width="14.0"/><line x1="1084.1" y1="342.5" x2="1091.6" y2="341.8" stroke-width="14.0"/><line x1="1091.6" y1="341.8" x2="1099.0" y2="341.1" stroke-width="14.0"/><line x1="1099.0" y1="341.1" x2="1106.0" y2="340.4" stroke-width="14.0"/><line x1="1106.0" y1="340.4" x2="1112.5" y2="339.8" stroke-width="14.0"/><line x1="1112.5" y1="339.8" x2="1118.3" y2="339.3" stroke-width="14.0"/><line x1="1118.3" y1="339.3" x2="1123.2" y2="338.9" stroke-width="14.0"/><line x1="1123.2" y1="338.9" x2="1127.0" y2="338.5" stroke-width="14.0"/></g>
<path d="M216.0,668.4L224.1,682.8L207.9,682.8zM222.0,667.6L230.1,682.0L213.9,682.0zM228.0,666.8L236.1,681.3L219.9,681.3zM234.0,666.0L242.1,680.5L225.9,680.5zM240.0,665.2L248.1,679.7L231.9,679.7zM246.0,664.5L254.1,678.9L237.9,678.9zM252.0,663.7L260.1,678.1L243.9,678.1zM258.0,662.9L266.1,677.3L249.9,677.3zM264.0,662.1L272.1,676.5L255.9,676.5zM270.0,661.3L278.1,675.8L261.9,675.8zM276.0,660.5L284.1,675.0L267.9,675.0zM282.0,659.7L290.1,674.2L273.9,674.2zM288.0,658.9L296.1,673.4L279.9,673.4zM294.0,658.1L302.1,672.6L285.9,672.6zM300.0,657.3L308.1,671.8L291.9,671.8zM306.0,656.5L314.1,671.0L297.9,671.0zM312.0,655.7L320.1,670.1L303.9,670.1zM318.0,654.8L326.1,669.3L309.9,669.3zM324.0,654.0L332.1,668.4L315.9,668.4zM330.0,653.1L338.1,667.6L321.9,667.6zM336.0,652.3L344.1,666.7L327.9,666.7zM342.0,651.5L350.1,665.9L333.9,665.9zM348.0,650.6L356.1,665.1L339.9,665.1zM354.0,649.8L362.1,664.2L345.9,664.2zM360.0,649.0L368.1,663.4L351.9,663.4zM366.0,648.2L374.1,662.7L357.9,662.7zM372.0,647.5L380.1,661.9L363.9,661.9zM378.0,646.7L386.1,661.2L369.9,661.2zM384.0,646.1L392.1,660.5L375.9,660.5zM390.0,645.5L398.1,659.9L381.9,659.9zM396.0,645.0L404.1,659.4L387.9,659.4zM402.0,644.5L410.1,659.0L393.9,659.0zM408.0,644.1L416.1,658.6L399.9,658.6zM414.0,643.8L422.1,658.2L405.9,658.2zM420.0,643.4L428.1,657.8L411.9,657.8zM426.0,642.9L434.1,657.4L417.9,657.4zM432.0,642.4L440.1,656.8L423.9,656.8zM438.0,641.7L446.1,656.2L429.9,656.2zM444.0,641.0L452.1,655.4L435.9,655.4zM450.0,640.2L458.1,654.6L441.9,654.6zM456.0,639.4L464.1,653.8L447.9,653.8zM462.0,638.5L470.1,652.9L453.9,652.9zM468.0,637.5L476.1,652.0L459.9,652.0zM474.0,636.6L482.1,651.1L465.9,651.1zM480.0,635.6L488.1,650.1L471.9,650.1zM486.0,634.7L494.1,649.1L477.9,649.1zM492.0,633.7L500.1,648.1L483.9,648.1zM498.0,632.7L506.1,647.2L489.9,647.2zM504.0,631.7L512.1,646.2L495.9,646.2zM510.0,630.8L518.1,645.2L501.9,645.2zM516.0,629.8L524.1,644.3L507.9,644.3zM522.0,628.9L530.1,643.3L513.9,643.3zM528.0,628.0L536.1,642.4L519.9,642.4zM534.0,627.1L542.1,641.6L525.9,641.6zM540.0,626.2L548.1,640.7L531.9,640.7zM546.0,625.3L554.1,639.8L537.9,639.8zM552.0,624.4L560.1,638.9L543.9,638.9zM558.0,623.5L566.1,637.9L549.9,637.9zM564.0,622.5L572.1,636.9L555.9,636.9zM570.0,621.4L578.1,635.8L561.9,635.8zM576.0,620.2L584.1,634.6L567.9,634.6zM582.0,618.8L590.1,633.3L573.9,633.3zM588.0,617.1L596.1,631.6L579.9,631.6zM594.0,615.0L602.0,629.3L586.0,629.3zM600.0,612.4L607.7,626.2L592.3,626.2zM606.0,609.1L613.3,622.2L598.7,622.2zM612.0,605.1L619.6,618.6L604.4,618.6zM618.0,601.8L625.7,615.6L610.3,615.6zM624.0,598.9L631.5,612.3L616.5,612.3zM630.0,595.4L637.2,608.3L622.8,608.3zM630.0,595.5L637.1,608.3L622.9,608.3zM636.0,591.3L642.9,603.7L629.1,603.7zM642.0,586.7L648.6,598.5L635.4,598.5zM648.0,581.5L654.2,592.5L641.8,592.5zM654.0,574.5L660.2,585.6L647.8,585.6zM660.0,566.8L666.2,577.8L653.8,577.8zM666.0,559.4L672.2,570.5L659.8,570.5zM672.0,550.0L678.2,561.0L665.8,561.0zM678.0,538.2L684.2,549.3L671.8,549.3zM684.0,524.3L690.2,535.3L677.8,535.3zM690.0,508.2L696.2,519.3L683.8,519.3zM696.0,479.2L702.2,490.3L689.8,490.3zM702.0,465.9L708.2,476.9L695.8,476.9zM708.0,456.7L714.2,467.7L701.8,467.7zM714.0,448.4L720.2,459.5L707.8,459.5zM720.0,440.6L726.2,451.7L713.8,451.7zM726.0,433.5L732.2,444.5L719.8,444.5zM732.0,427.1L738.2,438.2L725.8,438.2zM738.0,421.1L744.5,432.8L731.5,432.8zM738.0,421.0L744.6,432.9L731.4,432.9zM744.0,415.8L750.9,428.2L737.1,428.2zM750.0,411.3L757.3,424.3L742.7,424.3zM756.0,407.4L763.5,420.7L748.5,420.7zM762.0,403.8L769.6,417.4L754.4,417.4zM768.0,400.5L775.8,414.5L760.2,414.5zM774.0,397.7L781.9,411.9L766.1,411.9zM780.0,395.0L788.0,409.4L772.0,409.4zM786.0,392.5L794.0,406.8L778.0,406.8zM792.0,389.9L800.0,404.2L784.0,404.2zM798.0,387.3L806.1,401.8L789.9,401.8zM804.0,385.3L812.1,399.7L795.9,399.7zM810.0,383.5L818.1,397.9L801.9,397.9zM810.0,383.5L818.1,397.9L801.9,397.9zM816.0,381.9L824.1,396.4L807.9,396.4zM822.0,380.5L830.1,395.0L813.9,395.0zM828.0,379.1L836.1,393.6L819.9,393.6zM834.0,377.8L842.1,392.3L825.9,392.3zM840.0,376.6L848.1,391.0L831.9,391.0zM846.0,375.3L854.1,389.8L837.9,389.8zM852.0,374.1L860.1,388.5L843.9,388.5zM858.0,372.9L866.1,387.3L849.9,387.3zM864.0,371.7L872.1,386.2L855.9,386.2zM870.0,370.6L878.1,385.0L861.9,385.0zM876.0,369.5L884.1,383.9L867.9,383.9zM882.0,368.4L890.1,382.9L873.9,382.9zM888.0,367.4L896.1,381.8L879.9,381.8zM894.0,366.3L902.1,380.8L885.9,380.8zM900.0,365.3L908.1,379.7L891.9,379.7zM906.0,364.2L914.1,378.6L897.9,378.6zM912.0,363.1L920.1,377.6L903.9,377.6zM918.0,362.0L926.1,376.5L909.9,376.5zM924.0,360.9L932.1,375.3L915.9,375.3zM930.0,359.7L938.1,374.2L921.9,374.2zM936.0,358.5L944.1,373.0L927.9,373.0zM942.0,357.3L950.1,371.8L933.9,371.8zM948.0,356.1L956.1,370.5L939.9,370.5zM954.0,354.8L962.1,369.3L945.9,369.3zM960.0,353.6L968.1,368.0L951.9,368.0zM966.0,352.3L974.1,366.8L957.9,366.8zM972.0,351.1L980.1,365.5L963.9,365.5zM978.0,349.8L986.1,364.3L969.9,364.3zM984.0,348.6L992.1,363.1L975.9,363.1zM990.0,347.4L998.1,361.9L981.9,361.9zM996.0,346.3L1004.1,360.7L987.9,360.7zM1002.0,345.1L1010.1,359.6L993.9,359.6zM1008.0,344.0L1016.1,358.5L999.9,358.5zM1014.0,342.9L1022.1,357.4L1005.9,357.4zM1020.0,341.8L1028.1,356.3L1011.9,356.3zM1026.0,340.8L1034.1,355.3L1017.9,355.3zM1032.0,339.9L1040.1,354.4L1023.9,354.4zM1038.0,339.0L1046.1,353.5L1029.9,353.5zM1044.0,338.3L1052.1,352.7L1035.9,352.7zM1050.0,337.5L1058.1,351.9L1041.9,351.9zM1050.0,337.5L1058.1,351.9L1041.9,351.9zM1056.0,336.8L1064.1,351.3L1047.9,351.3zM1062.0,336.2L1070.1,350.6L1053.9,350.6zM1068.0,335.5L1076.1,350.0L1059.9,350.0zM1074.0,334.9L1082.1,349.4L1065.9,349.4zM1080.0,334.3L1088.1,348.8L1071.9,348.8zM1086.0,333.8L1094.1,348.2L1077.9,348.2zM1092.0,333.2L1100.1,347.7L1083.9,347.7zM1098.0,332.7L1106.1,347.1L1089.9,347.1zM1104.0,332.1L1112.1,346.6L1095.9,346.6zM1110.0,331.6L1118.1,346.0L1101.9,346.0zM1116.0,331.0L1124.1,345.5L1107.9,345.5zM1122.0,330.5L1130.1,344.9L1113.9,344.9z" fill="#000000" stroke="none"/>
<path d="M671.0,509.0 L671.9,508.3 L673.0,507.5 L674.3,506.5 L675.7,505.4 L677.3,504.2 L678.9,502.9 L680.7,501.6 L682.5,500.3 L684.4,498.9 L686.3,497.6 L688.1,496.2 L690.0,495.0 L691.9,493.8 L693.9,492.7 L696.0,491.7 L698.1,490.6 L700.3,489.6 L702.4,488.5 L704.6,487.4 L706.8,486.2 L709.0,484.8 L711.1,483.4 L713.1,481.8 L715.0,480.0 L716.8,478.0 L718.6,475.7 L720.4,473.3 L722.0,470.7 L723.7,467.9 L725.3,465.2 L726.9,462.4 L728.5,459.6 L730.1,456.9 L731.7,454.3 L733.2,451.9 L734.8,449.7 L736.4,447.7 L737.9,445.7 L739.3,443.9 L740.8,442.1 L742.2,440.5 L743.7,438.9 L745.1,437.3 L746.6,435.7 L748.1,434.2 L749.7,432.7 L751.3,431.2 L753.0,429.7 L754.7,428.2 L756.5,426.7 L758.3,425.2 L760.0,423.8 L761.9,422.3 L763.8,420.9 L765.7,419.5 L767.7,418.2 L769.7,416.9 L771.9,415.5 L774.1,414.3 L776.4,413.0 L778.8,411.8 L781.4,410.6 L784.0,409.5 L786.8,408.3 L789.6,407.3 L792.4,406.2 L795.3,405.1 L798.2,404.1 L801.1,403.0 L804.0,402.0 L806.9,400.9 L809.7,399.8 L812.5,398.7 L815.3,397.6 L818.0,396.4 L820.8,395.3 L823.6,394.1 L826.4,393.0 L829.1,391.8 L831.9,390.7 L834.7,389.6 L837.5,388.6 L840.2,387.5 L843.0,386.5 L845.7,385.5 L848.3,384.6 L850.9,383.6 L853.4,382.7 L855.9,381.8 L858.5,380.9 L861.1,380.1 L863.8,379.2 L866.6,378.4 L869.5,377.6 L872.7,376.8 L876.0,376.0 L879.7,375.2 L883.9,374.4 L888.5,373.6 L893.3,372.9 L898.2,372.1 L903.1,371.3 L907.9,370.6 L912.4,370.0 L916.6,369.4 L920.4,368.8 L923.5,368.4 L926.0,368.0" fill="none" stroke="#000000" stroke-width="3" stroke-linejoin="round" stroke-linecap="round" />
<path d="M672.0,501.7L678.2,512.8L665.8,512.8zM678.0,497.1L684.2,508.2L671.8,508.2zM684.0,492.7L690.2,503.7L677.8,503.7zM690.0,488.5L696.2,499.6L683.8,499.6zM690.0,488.5L696.2,499.6L683.8,499.6zM696.0,485.2L702.2,496.2L689.8,496.2zM702.0,482.2L708.2,493.3L695.8,493.3zM708.0,479.0L714.2,490.0L701.8,490.0zM714.0,474.5L720.2,485.5L707.8,485.5zM720.0,467.3L726.2,478.3L713.8,478.3zM726.0,457.5L732.2,468.5L719.8,468.5zM732.0,447.3L738.2,458.3L725.8,458.3zM738.0,439.1L744.2,450.1L731.8,450.1zM744.0,432.0L750.2,443.0L737.8,443.0zM750.0,425.9L756.2,437.0L743.8,437.0zM756.0,420.6L762.2,431.6L749.8,431.6zM762.0,415.7L768.2,426.8L755.8,426.8zM768.0,411.5L774.2,422.5L761.8,422.5zM774.0,407.8L780.2,418.9L767.8,418.9zM780.0,404.7L786.2,415.8L773.8,415.8zM786.0,402.2L792.2,413.2L779.8,413.2zM792.0,399.8L798.2,410.9L785.8,410.9zM798.0,397.7L804.2,408.7L791.8,408.7zM804.0,395.5L810.2,406.5L797.8,406.5zM810.0,393.2L816.2,404.2L803.8,404.2zM816.0,390.8L822.2,401.8L809.8,401.8zM822.0,388.3L828.2,399.3L815.8,399.3zM828.0,385.8L834.2,396.9L821.8,396.9zM834.0,383.4L840.2,394.5L827.8,394.5zM840.0,381.1L846.2,392.1L833.8,392.1zM846.0,378.9L852.2,390.0L839.8,390.0zM852.0,376.7L858.2,387.8L845.8,387.8zM858.0,374.6L864.2,385.6L851.8,385.6zM864.0,372.6L870.2,383.7L857.8,383.7zM870.0,370.9L876.2,382.0L863.8,382.0zM876.0,369.5L882.2,380.6L869.8,380.6zM876.0,369.5L882.2,380.6L869.8,380.6zM882.0,368.3L888.2,379.3L875.8,379.3zM888.0,367.2L894.2,378.3L881.8,378.3zM894.0,366.2L900.2,377.3L887.8,377.3zM900.0,365.3L906.2,376.4L893.8,376.4zM906.0,364.4L912.2,375.5L899.8,375.5zM912.0,363.5L918.2,374.6L905.8,374.6zM918.0,362.7L924.2,373.7L911.8,373.7zM924.0,361.8L930.2,372.9L917.8,372.9z" fill="#000000" stroke="none"/>
<path d="M682.0,504.0 L684.3,502.5 L687.1,500.7 L690.4,498.5 L694.1,496.0 L698.1,493.4 L702.4,490.5 L706.9,487.6 L711.6,484.6 L716.2,481.7 L720.9,478.8 L725.5,476.1 L730.0,473.5 L734.5,471.0 L739.3,468.5 L744.4,466.0 L749.5,463.5 L754.7,461.0 L759.9,458.5 L765.1,456.0 L770.0,453.6 L774.8,451.3 L779.2,449.1 L783.3,447.0 L787.0,445.0 L790.2,443.1 L793.1,441.4 L795.7,439.8 L798.0,438.3 L800.0,436.8 L801.9,435.4 L803.7,434.0 L805.4,432.7 L807.0,431.3 L808.6,429.9 L810.3,428.5 L812.0,427.0 L813.8,425.4 L815.4,423.9 L817.0,422.3 L818.6,420.7 L820.1,419.1 L821.5,417.5 L823.0,415.9 L824.4,414.3 L825.8,412.7 L827.2,411.1 L828.6,409.6 L830.0,408.0 L831.4,406.5 L832.8,404.9 L834.2,403.4 L835.6,401.9 L837.0,400.5 L838.3,399.0 L839.7,397.5 L841.0,396.0 L842.3,394.5 L843.7,392.9 L845.0,391.4 L846.3,389.8 L847.6,388.2 L849.0,386.6 L850.4,384.9 L851.8,383.3 L853.2,381.6 L854.5,379.9 L855.9,378.2 L857.2,376.5 L858.4,374.8 L859.6,373.2 L860.7,371.5 L861.7,369.8 L862.6,368.1 L863.4,366.4 L864.2,364.7 L864.8,363.1 L865.5,361.4 L866.0,359.7 L866.6,358.0 L867.1,356.3 L867.7,354.6 L868.2,353.0 L868.8,351.3 L869.4,349.7 L870.0,348.1 L870.6,346.6 L871.2,345.0 L871.8,343.5 L872.3,342.0 L872.9,340.5 L873.5,339.0 L874.1,337.5 L874.8,335.9 L875.5,334.3 L876.2,332.7 L877.0,331.0 L877.9,329.2 L878.8,327.4 L879.8,325.5 L880.9,323.6 L881.9,321.7 L883.0,319.7 L884.2,317.7 L885.3,315.7 L886.4,313.8 L887.5,311.8 L888.5,309.9 L889.5,308.0 L890.5,306.1 L891.4,304.3 L892.3,302.5 L893.2,300.6 L894.1,298.8 L895.0,297.0 L895.9,295.2 L896.8,293.4 L897.6,291.7 L898.5,289.9 L899.4,288.1 L900.3,286.4 L901.2,284.7 L902.1,282.9 L902.9,281.2 L903.8,279.4 L904.7,277.7 L905.5,276.0 L906.4,274.3 L907.3,272.7 L908.2,271.0 L909.1,269.4 L910.0,267.9 L911.0,266.4 L912.0,264.9 L913.0,263.5 L914.0,262.2 L915.0,260.8 L916.1,259.5 L917.1,258.3 L918.2,257.0 L919.3,255.8 L920.3,254.6 L921.4,253.4 L922.5,252.2 L923.5,251.0 L924.6,249.8 L925.7,248.5 L926.9,247.3 L928.1,246.0 L929.3,244.8 L930.5,243.5 L931.7,242.4 L932.8,241.3 L933.8,240.3 L934.6,239.4 L935.4,238.6 L936.0,238.0" fill="none" stroke="#00ff00" stroke-width="3" stroke-linejoin="round" stroke-linecap="round" />
<g stroke="#00ff00" stroke-linecap="round"><line x1="682.0" y1="504.0" x2="684.3" y2="502.5" stroke-width="12.0"/><line x1="684.3" y1="502.5" x2="687.1" y2="500.7" stroke-width="12.0"/><line x1="687.1" y1="500.7" x2="690.4" y2="498.5" stroke-width="12.0"/><line x1="690.4" y1="498.5" x2="694.1" y2="496.0" stroke-width="12.0"/><line x1="694.1" y1="496.0" x2="698.1" y2="493.4" stroke-width="12.0"/><line x1="698.1" y1="493.4" x2="702.4" y2="490.5" stroke-width="12.0"/><line x1="702.4" y1="490.5" x2="706.9" y2="487.6" stroke-width="12.0"/><line x1="706.9" y1="487.6" x2="711.6" y2="484.6" stroke-width="12.0"/><line x1="711.6" y1="484.6" x2="716.2" y2="481.7" stroke-width="12.0"/><line x1="716.2" y1="481.7" x2="720.9" y2="478.8" stroke-width="12.0"/><line x1="720.9" y1="478.8" x2="725.5" y2="476.1" stroke-width="12.0"/><line x1="725.5" y1="476.1" x2="730.0" y2="473.5" stroke-width="12.0"/><line x1="730.0" y1="473.5" x2="734.5" y2="471.0" stroke-width="12.0"/><line x1="734.5" y1="471.0" x2="739.3" y2="468.5" stroke-width="12.0"/><line x1="739.3" y1="468.5" x2="744.4" y2="466.0" stroke-width="12.0"/><line x1="744.4" y1="466.0" x2="749.5" y2="463.5" stroke-width="12.0"/><line x1="749.5" y1="463.5" x2="754.7" y2="461.0" stroke-width="12.0"/><line x1="754.7" y1="461.0" x2="759.9" y2="458.5" stroke-width="12.0"/><line x1="759.9" y1="458.5" x2="765.1" y2="456.0" stroke-width="12.0"/><line x1="765.1" y1="456.0" x2="770.0" y2="453.6" stroke-width="12.0"/><line x1="770.0" y1="453.6" x2="774.8" y2="451.3" stroke-width="12.0"/><line x1="774.8" y1="451.3" x2="779.2" y2="449.1" stroke-width="12.0"/><line x1="779.2" y1="449.1" x2="783.3" y2="447.0" stroke-width="12.0"/><line x1="783.3" y1="447.0" x2="787.0" y2="445.0" stroke-width="12.0"/><line x1="787.0" y1="445.0" x2="790.2" y2="443.1" stroke-width="12.0"/><line x1="790.2" y1="443.1" x2="793.1" y2="441.4" stroke-width="12.0"/><line x1="793.1" y1="441.4" x2="795.7" y2="439.8" stroke-width="12.0"/><line x1="795.7" y1="439.8" x2="798.0" y2="438.3" stroke-width="12.0"/><line x1="798.0" y1="438.3" x2="800.0" y2="436.8" stroke-width="12.0"/><line x1="800.0" y1="436.8" x2="801.9" y2="435.4" stroke-width="12.0"/><line x1="801.9" y1="435.4" x2="803.7" y2="434.0" stroke-width="12.0"/><line x1="803.7" y1="434.0" x2="805.4" y2="432.7" stroke-width="12.0"/><line x1="805.4" y1="432.7" x2="807.0" y2="431.3" stroke-width="12.0"/><line x1="807.0" y1="431.3" x2="808.6" y2="429.9" stroke-width="12.0"/><line x1="808.6" y1="429.9" x2="810.3" y2="428.5" stroke-width="12.0"/><line x1="810.3" y1="428.5" x2="812.0" y2="427.0" stroke-width="12.0"/><line x1="812.0" y1="427.0" x2="813.8" y2="425.4" stroke-width="12.0"/><line x1="813.8" y1="425.4" x2="815.4" y2="423.9" stroke-width="12.0"/><line x1="815.4" y1="423.9" x2="817.0" y2="422.3" stroke-width="12.0"/><line x1="817.0" y1="422.3" x2="818.6" y2="420.7" stroke-width="12.0"/><line x1="818.6" y1="420.7" x2="820.1" y2="419.1" stroke-width="12.0"/><line x1="820.1" y1="419.1" x2="821.5" y2="417.5" stroke-width="12.0"/><line x1="821.5" y1="417.5" x2="823.0" y2="415.9" stroke-width="12.0"/><line x1="823.0" y1="415.9" x2="824.4" y2="414.3" stroke-width="12.0"/><line x1="824.4" y1="414.3" x2="825.8" y2="412.7" stroke-width="12.0"/><line x1="825.8" y1="412.7" x2="827.2" y2="411.1" stroke-width="12.0"/><line x1="827.2" y1="411.1" x2="828.6" y2="409.6" stroke-width="12.0"/><line x1="828.6" y1="409.6" x2="830.0" y2="408.0" stroke-width="12.0"/><line x1="830.0" y1="408.0" x2="831.4" y2="406.5" stroke-width="12.0"/><line x1="831.4" y1="406.5" x2="832.8" y2="404.9" stroke-width="12.0"/><line x1="832.8" y1="404.9" x2="834.2" y2="403.4" stroke-width="12.0"/><line x1="834.2" y1="403.4" x2="835.6" y2="401.9" stroke-width="12.0"/><line x1="835.6" y1="401.9" x2="837.0" y2="400.5" stroke-width="12.0"/><line x1="837.0" y1="400.5" x2="838.3" y2="399.0" stroke-width="12.0"/><line x1="838.3" y1="399.0" x2="839.7" y2="397.5" stroke-width="12.0"/><line x1="839.7" y1="397.5" x2="841.0" y2="396.0" stroke-width="12.0"/><line x1="841.0" y1="396.0" x2="842.3" y2="394.5" stroke-width="12.0"/><line x1="842.3" y1="394.5" x2="843.7" y2="392.9" stroke-width="12.0"/><line x1="843.7" y1="392.9" x2="845.0" y2="391.4" stroke-width="12.0"/><line x1="845.0" y1="391.4" x2="846.3" y2="389.8" stroke-width="12.0"/><line x1="846.3" y1="389.8" x2="847.6" y2="388.2" stroke-width="12.0"/><line x1="847.6" y1="388.2" x2="849.0" y2="386.6" stroke-width="12.0"/><line x1="849.0" y1="386.6" x2="850.4" y2="384.9" stroke-width="12.0"/><line x1="850.4" y1="384.9" x2="851.8" y2="383.3" stroke-width="11.9"/><line x1="851.8" y1="383.3" x2="853.2" y2="381.6" stroke-width="11.8"/><line x1="853.2" y1="381.6" x2="854.5" y2="379.9" stroke-width="11.7"/><line x1="854.5" y1="379.9" x2="855.9" y2="378.2" stroke-width="11.4"/><line x1="855.9" y1="378.2" x2="857.2" y2="376.5" stroke-width="11.1"/><line x1="857.2" y1="376.5" x2="858.4" y2="374.8" stroke-width="10.7"/><line x1="858.4" y1="374.8" x2="859.6" y2="373.2" stroke-width="10.2"/><line x1="859.6" y1="373.2" x2="860.7" y2="371.5" stroke-width="9.5"/><line x1="860.7" y1="371.5" x2="861.7" y2="369.8" stroke-width="8.6"/><line x1="861.7" y1="369.8" x2="862.6" y2="368.1" stroke-width="7.6"/><line x1="862.6" y1="368.1" x2="863.4" y2="366.4" stroke-width="6.4"/><line x1="863.4" y1="366.4" x2="864.2" y2="364.7" stroke-width="5.0"/><line x1="864.2" y1="364.7" x2="864.8" y2="363.1" stroke-width="3.6"/><line x1="873.5" y1="339.0" x2="874.1" y2="337.5" stroke-width="3.4"/><line x1="874.1" y1="337.5" x2="874.8" y2="335.9" stroke-width="4.0"/><line x1="874.8" y1="335.9" x2="875.5" y2="334.3" stroke-width="4.6"/><line x1="875.5" y1="334.3" x2="876.2" y2="332.7" stroke-width="5.2"/><line x1="876.2" y1="332.7" x2="877.0" y2="331.0" stroke-width="5.8"/><line x1="877.0" y1="331.0" x2="877.9" y2="329.2" stroke-width="6.3"/><line x1="877.9" y1="329.2" x2="878.8" y2="327.4" stroke-width="6.8"/><line x1="878.8" y1="327.4" x2="879.8" y2="325.5" stroke-width="7.2"/><line x1="879.8" y1="325.5" x2="880.9" y2="323.6" stroke-width="7.5"/><line x1="880.9" y1="323.6" x2="881.9" y2="321.7" stroke-width="7.7"/><line x1="881.9" y1="321.7" x2="883.0" y2="319.7" stroke-width="7.8"/><line x1="883.0" y1="319.7" x2="884.2" y2="317.7" stroke-width="7.9"/><line x1="884.2" y1="317.7" x2="885.3" y2="315.7" stroke-width="7.9"/><line x1="885.3" y1="315.7" x2="886.4" y2="313.8" stroke-width="7.8"/><line x1="886.4" y1="313.8" x2="887.5" y2="311.8" stroke-width="7.7"/><line x1="887.5" y1="311.8" x2="888.5" y2="309.9" stroke-width="7.5"/><line x1="888.5" y1="309.9" x2="889.5" y2="308.0" stroke-width="7.3"/><line x1="889.5" y1="308.0" x2="890.5" y2="306.1" stroke-width="7.1"/><line x1="890.5" y1="306.1" x2="891.4" y2="304.3" stroke-width="6.8"/><line x1="891.4" y1="304.3" x2="892.3" y2="302.5" stroke-width="6.6"/><line x1="892.3" y1="302.5" x2="893.2" y2="300.6" stroke-width="6.5"/><line x1="893.2" y1="300.6" x2="894.1" y2="298.8" stroke-width="6.4"/><line x1="894.1" y1="298.8" x2="895.0" y2="297.0" stroke-width="6.3"/><line x1="895.0" y1="297.0" x2="895.9" y2="295.2" stroke-width="6.3"/><line x1="895.9" y1="295.2" x2="896.8" y2="293.4" stroke-width="6.3"/><line x1="896.8" y1="293.4" x2="897.6" y2="291.7" stroke-width="6.4"/><line x1="897.6" y1="291.7" x2="898.5" y2="289.9" stroke-width="6.5"/><line x1="898.5" y1="289.9" x2="899.4" y2="288.1" stroke-width="6.5"/><line x1="899.4" y1="288.1" x2="900.3" y2="286.4" stroke-width="6.6"/><line x1="900.3" y1="286.4" x2="901.2" y2="284.7" stroke-width="6.6"/><line x1="901.2" y1="284.7" x2="902.1" y2="282.9" stroke-width="6.6"/><line x1="902.1" y1="282.9" x2="902.9" y2="281.2" stroke-width="6.6"/><line x1="902.9" y1="281.2" x2="903.8" y2="279.4" stroke-width="6.6"/><line x1="903.8" y1="279.4" x2="904.7" y2="277.7" stroke-width="6.7"/><line x1="904.7" y1="277.7" x2="905.5" y2="276.0" stroke-width="6.9"/><line x1="905.5" y1="276.0" x2="906.4" y2="274.3" stroke-width="7.2"/><line x1="906.4" y1="274.3" x2="907.3" y2="272.7" stroke-width="7.5"/><line x1="907.3" y1="272.7" x2="908.2" y2="271.0" stroke-width="7.9"/><line x1="908.2" y1="271.0" x2="909.1" y2="269.4" stroke-width="8.4"/><line x1="909.1" y1="269.4" x2="910.0" y2="267.9" stroke-width="8.9"/><line x1="910.0" y1="267.9" x2="911.0" y2="266.4" stroke-width="9.5"/><line x1="911.0" y1="266.4" x2="912.0" y2="264.9" stroke-width="10.0"/><line x1="912.0" y1="264.9" x2="913.0" y2="263.5" stroke-width="10.5"/><line x1="913.0" y1="263.5" x2="914.0" y2="262.2" stroke-width="10.9"/><line x1="914.0" y1="262.2" x2="915.0" y2="260.8" stroke-width="11.3"/><line x1="915.0" y1="260.8" x2="916.1" y2="259.5" stroke-width="11.6"/><line x1="916.1" y1="259.5" x2="917.1" y2="258.3" stroke-width="11.9"/><line x1="917.1" y1="258.3" x2="918.2" y2="257.0" stroke-width="12.0"/><line x1="918.2" y1="257.0" x2="919.3" y2="255.8" stroke-width="12.0"/><line x1="919.3" y1="255.8" x2="920.3" y2="254.6" stroke-width="12.0"/><line x1="920.3" y1="254.6" x2="921.4" y2="253.4" stroke-width="12.0"/><line x1="921.4" y1="253.4" x2="922.5" y2="252.2" stroke-width="12.0"/><line x1="922.5" y1="252.2" x2="923.5" y2="251.0" stroke-width="12.0"/><line x1="923.5" y1="251.0" x2="924.6" y2="249.8" stroke-width="12.0"/><line x1="924.6" y1="249.8" x2="925.7" y2="248.5" stroke-width="12.0"/><line x1="925.7" y1="248.5" x2="926.9" y2="247.3" stroke-width="12.0"/><line x1="926.9" y1="247.3" x2="928.1" y2="246.0" stroke-width="12.0"/><line x1="928.1" y1="246.0" x2="929.3" y2="244.8" stroke-width="12.0"/><line x1="929.3" y1="244.8" x2="930.5" y2="243.5" stroke-width="12.0"/><line x1="930.5" y1="243.5" x2="931.7" y2="242.4" stroke-width="12.0"/><line x1="931.7" y1="242.4" x2="932.8" y2="241.3" stroke-width="12.0"/><line x1="932.8" y1="241.3" x2="933.8" y2="240.3" stroke-width="12.0"/><line x1="933.8" y1="240.3" x2="934.6" y2="239.4" stroke-width="12.0"/><line x1="934.6" y1="239.4" x2="935.4" y2="238.6" stroke-width="12.0"/><line x1="935.4" y1="238.6" x2="936.0" y2="238.0" stroke-width="12.0"/></g>
<path d="M680.0,501.4a6.00,6.00 0 1,0 12.00,0a6.00,6.00 0 1,0 -12.00,0zM687.0,496.8a6.00,6.00 0 1,0 12.00,0a6.00,6.00 0 1,0 -12.00,0zM694.0,492.1a6.00,6.00 0 1,0 12.00,0a6.00,6.00 0 1,0 -12.00,0zM701.0,487.6a6.00,6.00 0 1,0 12.00,0a6.00,6.00 0 1,0 -12.00,0zM708.0,483.1a6.00,6.00 0 1,0 12.00,0a6.00,6.00 0 1,0 -12.00,0zM715.0,478.8a6.00,6.00 0 1,0 12.00,0a6.00,6.00 0 1,0 -12.00,0zM722.0,474.6a6.00,6.00 0 1,0 12.00,0a6.00,6.00 0 1,0 -12.00,0zM729.0,470.8a6.00,6.00 0 1,0 12.00,0a6.00,6.00 0 1,0 -12.00,0zM736.0,467.2a6.00,6.00 0 1,0 12.00,0a6.00,6.00 0 1,0 -12.00,0zM743.0,463.7a6.00,6.00 0 1,0 12.00,0a6.00,6.00 0 1,0 -12.00,0zM750.0,460.3a6.00,6.00 0 1,0 12.00,0a6.00,6.00 0 1,0 -12.00,0zM757.0,457.0a6.00,6.00 0 1,0 12.00,0a6.00,6.00 0 1,0 -12.00,0zM764.0,453.7a6.00,6.00 0 1,0 12.00,0a6.00,6.00 0 1,0 -12.00,0zM771.0,450.2a6.00,6.00 0 1,0 12.00,0a6.00,6.00 0 1,0 -12.00,0zM778.0,446.6a6.00,6.00 0 1,0 12.00,0a6.00,6.00 0 1,0 -12.00,0zM785.0,442.7a6.00,6.00 0 1,0 12.00,0a6.00,6.00 0 1,0 -12.00,0zM792.0,438.2a6.00,6.00 0 1,0 12.00,0a6.00,6.00 0 1,0 -12.00,0zM799.0,433.0a6.00,6.00 0 1,0 12.00,0a6.00,6.00 0 1,0 -12.00,0zM806.0,427.0a6.00,6.00 0 1,0 12.00,0a6.00,6.00 0 1,0 -12.00,0zM806.0,427.0a6.00,6.00 0 1,0 12.00,0a6.00,6.00 0 1,0 -12.00,0zM813.0,420.3a6.00,6.00 0 1,0 12.00,0a6.00,6.00 0 1,0 -12.00,0zM820.0,412.5a6.00,6.00 0 1,0 12.00,0a6.00,6.00 0 1,0 -12.00,0zM827.0,404.8a6.00,6.00 0 1,0 12.00,0a6.00,6.00 0 1,0 -12.00,0zM834.0,397.1a6.00,6.00 0 1,0 12.00,0a6.00,6.00 0 1,0 -12.00,0zM841.0,389.0a6.00,6.00 0 1,0 12.00,0a6.00,6.00 0 1,0 -12.00,0zM848.0,380.6a6.00,6.00 0 1,0 12.00,0a6.00,6.00 0 1,0 -12.00,0zM855.0,371.0a6.00,6.00 0 1,0 12.00,0a6.00,6.00 0 1,0 -12.00,0zM862.0,353.6a6.00,6.00 0 1,0 12.00,0a6.00,6.00 0 1,0 -12.00,0zM869.0,335.4a6.00,6.00 0 1,0 12.00,0a6.00,6.00 0 1,0 -12.00,0zM876.0,321.6a6.00,6.00 0 1,0 12.00,0a6.00,6.00 0 1,0 -12.00,0zM883.0,308.9a6.00,6.00 0 1,0 12.00,0a6.00,6.00 0 1,0 -12.00,0zM890.0,295.0a6.00,6.00 0 1,0 12.00,0a6.00,6.00 0 1,0 -12.00,0zM897.0,281.1a6.00,6.00 0 1,0 12.00,0a6.00,6.00 0 1,0 -12.00,0zM904.0,268.0a6.00,6.00 0 1,0 12.00,0a6.00,6.00 0 1,0 -12.00,0zM911.0,258.4a6.00,6.00 0 1,0 12.00,0a6.00,6.00 0 1,0 -12.00,0zM918.0,250.4a6.00,6.00 0 1,0 12.00,0a6.00,6.00 0 1,0 -12.00,0zM925.0,243.1a6.00,6.00 0 1,0 12.00,0a6.00,6.00 0 1,0 -12.00,0z" fill="#00ff00" stroke="none"/>
<path d="M1127.0,184.0 L1123.3,185.0 L1118.6,186.3 L1113.2,187.8 L1107.1,189.5 L1100.5,191.3 L1093.5,193.3 L1086.1,195.3 L1078.6,197.3 L1071.1,199.3 L1063.7,201.2 L1056.4,203.0 L1049.5,204.7 L1042.6,206.3 L1035.4,207.9 L1028.1,209.4 L1020.5,211.0 L1013.0,212.5 L1005.5,214.0 L998.1,215.5 L990.9,216.9 L984.0,218.3 L977.5,219.6 L971.5,220.8 L966.0,222.0 L961.0,223.1 L956.5,224.1 L952.4,225.0 L948.6,225.9 L945.1,226.7 L941.8,227.4 L938.8,228.1 L935.9,228.8 L933.1,229.5 L930.4,230.2 L927.7,230.8 L925.0,231.5 L922.4,232.1 L920.0,232.7 L917.7,233.3 L915.7,233.8 L913.7,234.3 L911.8,234.8 L910.0,235.3 L908.1,235.8 L906.2,236.3 L904.3,236.9 L902.2,237.4 L900.0,238.0 L897.7,238.6 L895.3,239.2 L892.9,239.8 L890.5,240.4 L888.1,241.1 L885.6,241.7 L883.0,242.4 L880.5,243.1 L877.9,243.8 L875.3,244.5 L872.7,245.2 L870.0,246.0 L867.3,246.8 L864.6,247.7 L861.8,248.6 L859.0,249.5 L856.2,250.4 L853.4,251.3 L850.5,252.3 L847.6,253.3 L844.7,254.2 L841.8,255.2 L838.9,256.1 L836.0,257.0 L833.1,257.9 L830.2,258.7 L827.3,259.5 L824.4,260.4 L821.4,261.2 L818.5,262.0 L815.5,262.8 L812.5,263.6 L809.5,264.5 L806.4,265.5 L803.2,266.5 L800.0,267.5 L796.7,268.6 L793.3,269.8 L789.9,271.0 L786.4,272.2 L782.9,273.5 L779.4,274.8 L775.8,276.2 L772.2,277.5 L768.6,278.9 L765.1,280.3 L761.5,281.6 L758.0,283.0 L754.5,284.4 L750.9,285.8 L747.4,287.2 L743.8,288.6 L740.2,290.1 L736.7,291.6 L733.1,293.0 L729.6,294.5 L726.1,295.9 L722.7,297.3 L719.3,298.7 L716.0,300.0 L712.7,301.3 L709.3,302.6 L705.8,303.9 L702.4,305.2 L699.0,306.5 L695.6,307.7 L692.4,309.0 L689.3,310.2 L686.4,311.3 L683.7,312.5 L681.2,313.6 L679.0,314.6 L677.1,315.6 L675.6,316.4 L674.3,317.2 L673.2,317.9 L672.4,318.6 L671.6,319.3 L670.9,320.0 L670.3,320.7 L669.6,321.5 L668.9,322.4 L668.0,323.5 L667.0,324.6 L665.9,325.9 L664.7,327.3 L663.5,328.9 L662.3,330.5 L661.0,332.2 L659.8,334.0 L658.5,335.8 L657.3,337.5 L656.0,339.2 L654.8,340.9 L653.6,342.5 L652.5,344.0 L651.4,345.4 L650.4,346.7 L649.5,347.9 L648.6,349.1 L647.7,350.2 L646.9,351.3 L645.9,352.5 L645.0,353.6 L643.9,354.9 L642.7,356.1 L641.4,357.5 L640.0,359.0 L638.4,360.6 L636.8,362.2 L635.1,364.0 L633.3,365.7 L631.4,367.6 L629.4,369.4 L627.4,371.3 L625.2,373.3 L623.0,375.2 L620.7,377.1 L618.3,379.1 L615.8,381.0 L613.1,382.9 L610.3,384.9 L607.2,387.0 L604.0,389.0 L600.7,391.1 L597.4,393.1 L594.1,395.2 L590.8,397.2 L587.6,399.2 L584.6,401.2 L581.7,403.1 L579.0,405.0 L576.5,406.8 L574.2,408.5 L572.1,410.2 L570.0,411.9 L568.0,413.5 L566.1,415.1 L564.2,416.7 L562.4,418.3 L560.5,420.0 L558.6,421.6 L556.7,423.3 L554.7,425.0 L552.6,426.8 L550.5,428.5 L548.4,430.3 L546.2,432.1 L544.0,433.9 L541.9,435.7 L539.8,437.6 L537.7,439.4 L535.6,441.3 L533.7,443.2 L531.8,445.1 L530.0,447.0 L528.3,448.9 L526.6,450.9 L525.0,452.9 L523.5,454.9 L522.0,457.0 L520.6,459.0 L519.2,461.1 L517.9,463.2 L516.6,465.2 L515.3,467.3 L514.1,469.4 L513.0,471.4 L511.9,473.5 L510.9,475.6 L509.9,477.8 L509.0,480.0 L508.2,482.3 L507.3,484.4 L506.6,486.6 L505.8,488.7 L505.1,490.7 L504.4,492.6 L503.7,494.4 L503.0,496.0 L502.4,497.4 L501.8,498.6 L501.3,499.6 L500.8,500.4 L500.3,501.2 L499.9,502.0 L499.5,502.7 L499.0,503.5 L498.5,504.5 L497.9,505.5 L497.3,506.8 L496.6,508.4 L495.8,510.2 L494.9,512.2 L494.0,514.4 L493.0,516.7 L492.0,519.1 L490.9,521.6 L489.9,524.2 L488.8,526.8 L487.8,529.3 L486.8,531.9 L485.9,534.4 L485.0,536.8 L484.2,539.1 L483.5,541.2 L482.8,543.3 L482.1,545.4 L481.5,547.4 L480.8,549.5 L480.2,551.6 L479.6,553.9 L478.9,556.4 L478.2,559.0 L477.5,561.9 L476.7,565.0 L475.9,568.5 L475.0,572.3 L474.0,576.4 L473.0,580.7 L472.1,585.2 L471.1,589.8 L470.1,594.4 L469.1,599.0 L468.1,603.5 L467.2,607.9 L466.2,612.1 L465.4,616.0 L464.6,619.7 L463.9,623.3 L463.2,626.8 L462.5,630.2 L461.9,633.5 L461.2,636.7 L460.6,639.9 L459.9,643.1 L459.2,646.3 L458.5,649.5 L457.8,652.7 L457.0,656.0 L456.2,659.3 L455.3,662.7 L454.4,666.1 L453.4,669.6 L452.5,673.0 L451.5,676.4 L450.5,679.8 L449.5,683.1 L448.5,686.4 L447.5,689.6 L446.5,692.7 L445.5,695.7 L444.4,698.7 L443.3,701.8 L442.1,704.8 L440.9,707.9 L439.7,710.9 L438.4,713.8 L437.3,716.6 L436.1,719.2 L435.1,721.6 L434.2,723.7 L433.4,725.5 L432.8,727.0" fill="none" stroke="#00ff00" stroke-width="3" stroke-linejoin="round" stroke-linecap="round" />
<g stroke="#00ff00" stroke-linecap="round"><line x1="1127.0" y1="184.0" x2="1123.3" y2="185.0" stroke-width="13.0"/><line x1="1123.3" y1="185.0" x2="1118.6" y2="186.3" stroke-width="13.0"/><line x1="1118.6" y1="186.3" x2="1113.2" y2="187.8" stroke-width="13.0"/><line x1="1113.2" y1="187.8" x2="1107.1" y2="189.5" stroke-width="13.0"/><line x1="1107.1" y1="189.5" x2="1100.5" y2="191.3" stroke-width="13.0"/><line x1="1100.5" y1="191.3" x2="1093.5" y2="193.3" stroke-width="13.0"/><line x1="1093.5" y1="193.3" x2="1086.1" y2="195.3" stroke-width="13.0"/><line x1="1086.1" y1="195.3" x2="1078.6" y2="197.3" stroke-width="13.0"/><line x1="1078.6" y1="197.3" x2="1071.1" y2="199.3" stroke-width="13.0"/><line x1="1071.1" y1="199.3" x2="1063.7" y2="201.2" stroke-width="13.0"/><line x1="1063.7" y1="201.2" x2="1056.4" y2="203.0" stroke-width="13.0"/><line x1="1056.4" y1="203.0" x2="1049.5" y2="204.7" stroke-width="13.0"/><line x1="1049.5" y1="204.7" x2="1042.6" y2="206.3" stroke-width="13.0"/><line x1="1042.6" y1="206.3" x2="1035.4" y2="207.9" stroke-width="13.0"/><line x1="1035.4" y1="207.9" x2="1028.1" y2="209.4" stroke-width="13.0"/><line x1="1028.1" y1="209.4" x2="1020.5" y2="211.0" stroke-width="13.0"/><line x1="1020.5" y1="211.0" x2="1013.0" y2="212.5" stroke-width="13.0"/><line x1="1013.0" y1="212.5" x2="1005.5" y2="214.0" stroke-width="13.0"/><line x1="1005.5" y1="214.0" x2="998.1" y2="215.5" stroke-width="13.0"/><line x1="998.1" y1="215.5" x2="990.9" y2="216.9" stroke-width="13.0"/><line x1="990.9" y1="216.9" x2="984.0" y2="218.3" stroke-width="13.0"/><line x1="984.0" y1="218.3" x2="977.5" y2="219.6" stroke-width="13.0"/><line x1="977.5" y1="219.6" x2="971.5" y2="220.8" stroke-width="13.0"/><line x1="971.5" y1="220.8" x2="966.0" y2="222.0" stroke-width="13.0"/><line x1="966.0" y1="222.0" x2="961.0" y2="223.1" stroke-width="13.0"/><line x1="961.0" y1="223.1" x2="956.5" y2="224.1" stroke-width="13.0"/><line x1="956.5" y1="224.1" x2="952.4" y2="225.0" stroke-width="13.0"/><line x1="952.4" y1="225.0" x2="948.6" y2="225.9" stroke-width="13.0"/><line x1="948.6" y1="225.9" x2="945.1" y2="226.7" stroke-width="13.0"/><line x1="945.1" y1="226.7" x2="941.8" y2="227.4" stroke-width="13.0"/><line x1="941.8" y1="227.4" x2="938.8" y2="228.1" stroke-width="13.0"/><line x1="938.8" y1="228.1" x2="935.9" y2="228.8" stroke-width="13.0"/><line x1="935.9" y1="228.8" x2="933.1" y2="229.5" stroke-width="13.0"/><line x1="933.1" y1="229.5" x2="930.4" y2="230.2" stroke-width="13.0"/><line x1="930.4" y1="230.2" x2="927.7" y2="230.8" stroke-width="13.0"/><line x1="927.7" y1="230.8" x2="925.0" y2="231.5" stroke-width="13.0"/><line x1="925.0" y1="231.5" x2="922.4" y2="232.1" stroke-width="13.0"/><line x1="922.4" y1="232.1" x2="920.0" y2="232.7" stroke-width="13.0"/><line x1="920.0" y1="232.7" x2="917.7" y2="233.3" stroke-width="13.0"/><line x1="917.7" y1="233.3" x2="915.7" y2="233.8" stroke-width="13.0"/><line x1="915.7" y1="233.8" x2="913.7" y2="234.3" stroke-width="13.0"/><line x1="913.7" y1="234.3" x2="911.8" y2="234.8" stroke-width="13.0"/><line x1="911.8" y1="234.8" x2="910.0" y2="235.3" stroke-width="13.0"/><line x1="910.0" y1="235.3" x2="908.1" y2="235.8" stroke-width="13.0"/><line x1="908.1" y1="235.8" x2="906.2" y2="236.3" stroke-width="13.0"/><line x1="906.2" y1="236.3" x2="904.3" y2="236.9" stroke-width="13.0"/><line x1="904.3" y1="236.9" x2="902.2" y2="237.4" stroke-width="13.0"/><line x1="902.2" y1="237.4" x2="900.0" y2="238.0" stroke-width="13.0"/><line x1="900.0" y1="238.0" x2="897.7" y2="238.6" stroke-width="13.0"/><line x1="897.7" y1="238.6" x2="895.3" y2="239.2" stroke-width="13.0"/><line x1="895.3" y1="239.2" x2="892.9" y2="239.8" stroke-width="13.0"/><line x1="892.9" y1="239.8" x2="890.5" y2="240.4" stroke-width="13.0"/><line x1="890.5" y1="240.4" x2="888.1" y2="241.1" stroke-width="13.0"/><line x1="888.1" y1="241.1" x2="885.6" y2="241.7" stroke-width="13.0"/><line x1="885.6" y1="241.7" x2="883.0" y2="242.4" stroke-width="13.0"/><line x1="883.0" y1="242.4" x2="880.5" y2="243.1" stroke-width="13.0"/><line x1="880.5" y1="243.1" x2="877.9" y2="243.8" stroke-width="13.0"/><line x1="877.9" y1="243.8" x2="875.3" y2="244.5" stroke-width="13.0"/><line x1="875.3" y1="244.5" x2="872.7" y2="245.2" stroke-width="13.0"/><line x1="872.7" y1="245.2" x2="870.0" y2="246.0" stroke-width="13.0"/><line x1="870.0" y1="246.0" x2="867.3" y2="246.8" stroke-width="13.0"/><line x1="867.3" y1="246.8" x2="864.6" y2="247.7" stroke-width="13.0"/><line x1="864.6" y1="247.7" x2="861.8" y2="248.6" stroke-width="13.0"/><line x1="861.8" y1="248.6" x2="859.0" y2="249.5" stroke-width="13.0"/><line x1="859.0" y1="249.5" x2="856.2" y2="250.4" stroke-width="13.0"/><line x1="856.2" y1="250.4" x2="853.4" y2="251.3" stroke-width="13.0"/><line x1="853.4" y1="251.3" x2="850.5" y2="252.3" stroke-width="13.0"/><line x1="850.5" y1="252.3" x2="847.6" y2="253.3" stroke-width="13.0"/><line x1="847.6" y1="253.3" x2="844.7" y2="254.2" stroke-width="13.0"/><line x1="844.7" y1="254.2" x2="841.8" y2="255.2" stroke-width="13.0"/><line x1="841.8" y1="255.2" x2="838.9" y2="256.1" stroke-width="13.0"/><line x1="838.9" y1="256.1" x2="836.0" y2="257.0" stroke-width="13.0"/><line x1="836.0" y1="257.0" x2="833.1" y2="257.9" stroke-width="13.0"/><line x1="833.1" y1="257.9" x2="830.2" y2="258.7" stroke-width="13.0"/><line x1="830.2" y1="258.7" x2="827.3" y2="259.5" stroke-width="13.0"/><line x1="827.3" y1="259.5" x2="824.4" y2="260.4" stroke-width="13.0"/><line x1="824.4" y1="260.4" x2="821.4" y2="261.2" stroke-width="13.0"/><line x1="821.4" y1="261.2" x2="818.5" y2="262.0" stroke-width="13.0"/><line x1="818.5" y1="262.0" x2="815.5" y2="262.8" stroke-width="13.0"/><line x1="815.5" y1="262.8" x2="812.5" y2="263.6" stroke-width="13.0"/><line x1="812.5" y1="263.6" x2="809.5" y2="264.5" stroke-width="13.0"/><line x1="809.5" y1="264.5" x2="806.4" y2="265.5" stroke-width="13.0"/><line x1="806.4" y1="265.5" x2="803.2" y2="266.5" stroke-width="13.0"/><line x1="803.2" y1="266.5" x2="800.0" y2="267.5" stroke-width="13.0"/><line x1="800.0" y1="267.5" x2="796.7" y2="268.6" stroke-width="13.0"/><line x1="796.7" y1="268.6" x2="793.3" y2="269.8" stroke-width="13.0"/><line x1="793.3" y1="269.8" x2="789.9" y2="271.0" stroke-width="13.0"/><line x1="789.9" y1="271.0" x2="786.4" y2="272.2" stroke-width="13.0"/><line x1="786.4" y1="272.2" x2="782.9" y2="273.5" stroke-width="13.0"/><line x1="782.9" y1="273.5" x2="779.4" y2="274.8" stroke-width="13.0"/><line x1="779.4" y1="274.8" x2="775.8" y2="276.2" stroke-width="13.0"/><line x1="775.8" y1="276.2" x2="772.2" y2="277.5" stroke-width="13.0"/><line x1="772.2" y1="277.5" x2="768.6" y2="278.9" stroke-width="13.0"/><line x1="768.6" y1="278.9" x2="765.1" y2="280.3" stroke-width="13.0"/><line x1="765.1" y1="280.3" x2="761.5" y2="281.6" stroke-width="13.0"/><line x1="761.5" y1="281.6" x2="758.0" y2="283.0" stroke-width="13.0"/><line x1="758.0" y1="283.0" x2="754.5" y2="284.4" stroke-width="13.0"/><line x1="754.5" y1="284.4" x2="750.9" y2="285.8" stroke-width="13.0"/><line x1="750.9" y1="285.8" x2="747.4" y2="287.2" stroke-width="13.0"/><line x1="747.4" y1="287.2" x2="743.8" y2="288.6" stroke-width="13.0"/><line x1="743.8" y1="288.6" x2="740.2" y2="290.1" stroke-width="13.0"/><line x1="740.2" y1="290.1" x2="736.7" y2="291.6" stroke-width="13.0"/><line x1="736.7" y1="291.6" x2="733.1" y2="293.0" stroke-width="13.0"/><line x1="733.1" y1="293.0" x2="729.6" y2="294.5" stroke-width="13.0"/><line x1="729.6" y1="294.5" x2="726.1" y2="295.9" stroke-width="13.0"/><line x1="726.1" y1="295.9" x2="722.7" y2="297.3" stroke-width="13.0"/><line x1="722.7" y1="297.3" x2="719.3" y2="298.7" stroke-width="13.0"/><line x1="719.3" y1="298.7" x2="716.0" y2="300.0" stroke-width="13.0"/><line x1="716.0" y1="300.0" x2="712.7" y2="301.3" stroke-width="13.0"/><line x1="712.7" y1="301.3" x2="709.3" y2="302.6" stroke-width="13.0"/><line x1="709.3" y1="302.6" x2="705.8" y2="303.9" stroke-width="13.0"/><line x1="705.8" y1="303.9" x2="702.4" y2="305.2" stroke-width="13.0"/><line x1="702.4" y1="305.2" x2="699.0" y2="306.5" stroke-width="13.0"/><line x1="699.0" y1="306.5" x2="695.6" y2="307.7" stroke-width="13.0"/><line x1="695.6" y1="307.7" x2="692.4" y2="309.0" stroke-width="13.0"/><line x1="692.4" y1="309.0" x2="689.3" y2="310.2" stroke-width="13.0"/><line x1="689.3" y1="310.2" x2="686.4" y2="311.3" stroke-width="13.0"/><line x1="686.4" y1="311.3" x2="683.7" y2="312.5" stroke-width="13.0"/><line x1="683.7" y1="312.5" x2="681.2" y2="313.6" stroke-width="13.0"/><line x1="681.2" y1="313.6" x2="679.0" y2="314.6" stroke-width="13.0"/><line x1="679.0" y1="314.6" x2="677.1" y2="315.6" stroke-width="13.0"/><line x1="677.1" y1="315.6" x2="675.6" y2="316.4" stroke-width="13.0"/><line x1="675.6" y1="316.4" x2="674.3" y2="317.2" stroke-width="13.0"/><line x1="674.3" y1="317.2" x2="673.2" y2="317.9" stroke-width="13.0"/><line x1="673.2" y1="317.9" x2="672.4" y2="318.6" stroke-width="13.0"/><line x1="672.4" y1="318.6" x2="671.6" y2="319.3" stroke-width="13.0"/><line x1="671.6" y1="319.3" x2="670.9" y2="320.0" stroke-width="12.5"/><line x1="670.9" y1="320.0" x2="670.3" y2="320.7" stroke-width="11.8"/><line x1="670.3" y1="320.7" x2="669.6" y2="321.5" stroke-width="11.3"/><line x1="669.6" y1="321.5" x2="668.9" y2="322.4" stroke-width="11.0"/><line x1="668.9" y1="322.4" x2="668.0" y2="323.5" stroke-width="10.8"/><line x1="668.0" y1="323.5" x2="667.0" y2="324.6" stroke-width="10.6"/><line x1="667.0" y1="324.6" x2="665.9" y2="325.9" stroke-width="10.5"/><line x1="665.9" y1="325.9" x2="664.7" y2="327.3" stroke-width="10.3"/><line x1="664.7" y1="327.3" x2="663.5" y2="328.9" stroke-width="10.1"/><line x1="663.5" y1="328.9" x2="662.3" y2="330.5" stroke-width="9.8"/><line x1="662.3" y1="330.5" x2="661.0" y2="332.2" stroke-width="9.5"/><line x1="661.0" y1="332.2" x2="659.8" y2="334.0" stroke-width="9.4"/><line x1="659.8" y1="334.0" x2="658.5" y2="335.8" stroke-width="9.3"/><line x1="658.5" y1="335.8" x2="657.3" y2="337.5" stroke-width="9.3"/><line x1="657.3" y1="337.5" x2="656.0" y2="339.2" stroke-width="9.3"/><line x1="656.0" y1="339.2" x2="654.8" y2="340.9" stroke-width="9.4"/><line x1="654.8" y1="340.9" x2="653.6" y2="342.5" stroke-width="9.5"/><line x1="653.6" y1="342.5" x2="652.5" y2="344.0" stroke-width="9.6"/><line x1="652.5" y1="344.0" x2="651.4" y2="345.4" stroke-width="9.7"/><line x1="651.4" y1="345.4" x2="650.4" y2="346.7" stroke-width="9.8"/><line x1="650.4" y1="346.7" x2="649.5" y2="347.9" stroke-width="9.9"/><line x1="649.5" y1="347.9" x2="648.6" y2="349.1" stroke-width="10.0"/><line x1="648.6" y1="349.1" x2="647.7" y2="350.2" stroke-width="10.1"/><line x1="647.7" y1="350.2" x2="646.9" y2="351.3" stroke-width="10.3"/><line x1="646.9" y1="351.3" x2="645.9" y2="352.5" stroke-width="10.6"/><line x1="645.9" y1="352.5" x2="645.0" y2="353.6" stroke-width="10.9"/><line x1="645.0" y1="353.6" x2="643.9" y2="354.9" stroke-width="11.2"/><line x1="643.9" y1="354.9" x2="642.7" y2="356.1" stroke-width="11.5"/><line x1="642.7" y1="356.1" x2="641.4" y2="357.5" stroke-width="11.7"/><line x1="641.4" y1="357.5" x2="640.0" y2="359.0" stroke-width="11.9"/><line x1="640.0" y1="359.0" x2="638.4" y2="360.6" stroke-width="12.1"/><line x1="638.4" y1="360.6" x2="636.8" y2="362.2" stroke-width="12.2"/><line x1="636.8" y1="362.2" x2="635.1" y2="364.0" stroke-width="12.3"/><line x1="635.1" y1="364.0" x2="633.3" y2="365.7" stroke-width="12.4"/><line x1="633.3" y1="365.7" x2="631.4" y2="367.6" stroke-width="12.5"/><line x1="631.4" y1="367.6" x2="629.4" y2="369.4" stroke-width="12.7"/><line x1="629.4" y1="369.4" x2="627.4" y2="371.3" stroke-width="12.9"/><line x1="627.4" y1="371.3" x2="625.2" y2="373.3" stroke-width="13.0"/><line x1="625.2" y1="373.3" x2="623.0" y2="375.2" stroke-width="13.0"/><line x1="623.0" y1="375.2" x2="620.7" y2="377.1" stroke-width="13.0"/><line x1="620.7" y1="377.1" x2="618.3" y2="379.1" stroke-width="13.0"/><line x1="618.3" y1="379.1" x2="615.8" y2="381.0" stroke-width="13.0"/><line x1="615.8" y1="381.0" x2="613.1" y2="382.9" stroke-width="13.0"/><line x1="613.1" y1="382.9" x2="610.3" y2="384.9" stroke-width="13.0"/><line x1="610.3" y1="384.9" x2="607.2" y2="387.0" stroke-width="13.0"/><line x1="607.2" y1="387.0" x2="604.0" y2="389.0" stroke-width="13.0"/><line x1="604.0" y1="389.0" x2="600.7" y2="391.1" stroke-width="13.0"/><line x1="600.7" y1="391.1" x2="597.4" y2="393.1" stroke-width="13.0"/><line x1="597.4" y1="393.1" x2="594.1" y2="395.2" stroke-width="13.0"/><line x1="594.1" y1="395.2" x2="590.8" y2="397.2" stroke-width="13.0"/><line x1="590.8" y1="397.2" x2="587.6" y2="399.2" stroke-width="13.0"/><line x1="587.6" y1="399.2" x2="584.6" y2="401.2" stroke-width="13.0"/><line x1="584.6" y1="401.2" x2="581.7" y2="403.1" stroke-width="13.0"/><line x1="581.7" y1="403.1" x2="579.0" y2="405.0" stroke-width="13.0"/><line x1="579.0" y1="405.0" x2="576.5" y2="406.8" stroke-width="13.0"/><line x1="576.5" y1="406.8" x2="574.2" y2="408.5" stroke-width="13.0"/><line x1="574.2" y1="408.5" x2="572.1" y2="410.2" stroke-width="13.0"/><line x1="572.1" y1="410.2" x2="570.0" y2="411.9" stroke-width="13.0"/><line x1="570.0" y1="411.9" x2="568.0" y2="413.5" stroke-width="13.0"/><line x1="568.0" y1="413.5" x2="566.1" y2="415.1" stroke-width="13.0"/><line x1="566.1" y1="415.1" x2="564.2" y2="416.7" stroke-width="13.0"/><line x1="564.2" y1="416.7" x2="562.4" y2="418.3" stroke-width="13.0"/><line x1="562.4" y1="418.3" x2="560.5" y2="420.0" stroke-width="13.0"/><line x1="560.5" y1="420.0" x2="558.6" y2="421.6" stroke-width="13.0"/><line x1="558.6" y1="421.6" x2="556.7" y2="423.3" stroke-width="13.0"/><line x1="556.7" y1="423.3" x2="554.7" y2="425.0" stroke-width="13.0"/><line x1="554.7" y1="425.0" x2="552.6" y2="426.8" stroke-width="13.0"/><line x1="552.6" y1="426.8" x2="550.5" y2="428.5" stroke-width="13.0"/><line x1="550.5" y1="428.5" x2="548.4" y2="430.3" stroke-width="13.0"/><line x1="548.4" y1="430.3" x2="546.2" y2="432.1" stroke-width="13.0"/><line x1="546.2" y1="432.1" x2="544.0" y2="433.9" stroke-width="13.0"/><line x1="544.0" y1="433.9" x2="541.9" y2="435.7" stroke-width="13.0"/><line x1="541.9" y1="435.7" x2="539.8" y2="437.6" stroke-width="13.0"/><line x1="539.8" y1="437.6" x2="537.7" y2="439.4" stroke-width="13.0"/><line x1="537.7" y1="439.4" x2="535.6" y2="441.3" stroke-width="12.8"/><line x1="535.6" y1="441.3" x2="533.7" y2="443.2" stroke-width="12.4"/><line x1="533.7" y1="443.2" x2="531.8" y2="445.1" stroke-width="12.1"/><line x1="531.8" y1="445.1" x2="530.0" y2="447.0" stroke-width="11.7"/><line x1="530.0" y1="447.0" x2="528.3" y2="448.9" stroke-width="11.3"/><line x1="528.3" y1="448.9" x2="526.6" y2="450.9" stroke-width="10.8"/><line x1="526.6" y1="450.9" x2="525.0" y2="452.9" stroke-width="10.3"/><line x1="525.0" y1="452.9" x2="523.5" y2="454.9" stroke-width="9.9"/><line x1="523.5" y1="454.9" x2="522.0" y2="457.0" stroke-width="9.4"/><line x1="522.0" y1="457.0" x2="520.6" y2="459.0" stroke-width="9.0"/><line x1="520.6" y1="459.0" x2="519.2" y2="461.1" stroke-width="8.5"/><line x1="519.2" y1="461.1" x2="517.9" y2="463.2" stroke-width="8.1"/><line x1="517.9" y1="463.2" x2="516.6" y2="465.2" stroke-width="7.6"/><line x1="516.6" y1="465.2" x2="515.3" y2="467.3" stroke-width="7.1"/><line x1="515.3" y1="467.3" x2="514.1" y2="469.4" stroke-width="6.5"/><line x1="514.1" y1="469.4" x2="513.0" y2="471.4" stroke-width="5.7"/><line x1="513.0" y1="471.4" x2="511.9" y2="473.5" stroke-width="4.9"/><line x1="511.9" y1="473.5" x2="510.9" y2="475.6" stroke-width="3.9"/><line x1="502.4" y1="497.4" x2="501.8" y2="498.6" stroke-width="3.5"/><line x1="501.8" y1="498.6" x2="501.3" y2="499.6" stroke-width="4.5"/><line x1="501.3" y1="499.6" x2="500.8" y2="500.4" stroke-width="5.4"/><line x1="500.8" y1="500.4" x2="500.3" y2="501.2" stroke-width="6.0"/><line x1="500.3" y1="501.2" x2="499.9" y2="502.0" stroke-width="6.2"/><line x1="499.9" y1="502.0" x2="499.5" y2="502.7" stroke-width="6.2"/><line x1="499.5" y1="502.7" x2="499.0" y2="503.5" stroke-width="5.8"/><line x1="499.0" y1="503.5" x2="498.5" y2="504.5" stroke-width="5.2"/><line x1="498.5" y1="504.5" x2="497.9" y2="505.5" stroke-width="4.4"/><line x1="497.9" y1="505.5" x2="497.3" y2="506.8" stroke-width="3.8"/></g>
<path d="M1113.5,185.9a6.50,6.50 0 1,0 13.00,0a6.50,6.50 0 1,0 -13.00,0zM1105.5,188.1a6.50,6.50 0 1,0 13.00,0a6.50,6.50 0 1,0 -13.00,0zM1097.5,190.4a6.50,6.50 0 1,0 13.00,0a6.50,6.50 0 1,0 -13.00,0zM1089.5,192.6a6.50,6.50 0 1,0 13.00,0a6.50,6.50 0 1,0 -13.00,0zM1081.5,194.8a6.50,6.50 0 1,0 13.00,0a6.50,6.50 0 1,0 -13.00,0zM1073.5,196.9a6.50,6.50 0 1,0 13.00,0a6.50,6.50 0 1,0 -13.00,0zM1065.5,199.0a6.50,6.50 0 1,0 13.00,0a6.50,6.50 0 1,0 -13.00,0zM1057.5,201.1a6.50,6.50 0 1,0 13.00,0a6.50,6.50 0 1,0 -13.00,0zM1049.5,203.1a6.50,6.50 0 1,0 13.00,0a6.50,6.50 0 1,0 -13.00,0zM1041.5,205.0a6.50,6.50 0 1,0 13.00,0a6.50,6.50 0 1,0 -13.00,0zM1033.5,206.9a6.50,6.50 0 1,0 13.00,0a6.50,6.50 0 1,0 -13.00,0zM1025.5,208.6a6.50,6.50 0 1,0 13.00,0a6.50,6.50 0 1,0 -13.00,0zM1017.5,210.3a6.50,6.50 0 1,0 13.00,0a6.50,6.50 0 1,0 -13.00,0zM1009.5,211.9a6.50,6.50 0 1,0 13.00,0a6.50,6.50 0 1,0 -13.00,0zM1001.5,213.5a6.50,6.50 0 1,0 13.00,0a6.50,6.50 0 1,0 -13.00,0zM993.5,215.1a6.50,6.50 0 1,0 13.00,0a6.50,6.50 0 1,0 -13.00,0zM985.5,216.7a6.50,6.50 0 1,0 13.00,0a6.50,6.50 0 1,0 -13.00,0zM977.5,218.3a6.50,6.50 0 1,0 13.00,0a6.50,6.50 0 1,0 -13.00,0zM969.5,219.9a6.50,6.50 0 1,0 13.00,0a6.50,6.50 0 1,0 -13.00,0zM961.5,221.6a6.50,6.50 0 1,0 13.00,0a6.50,6.50 0 1,0 -13.00,0zM953.5,223.3a6.50,6.50 0 1,0 13.00,0a6.50,6.50 0 1,0 -13.00,0zM945.5,225.1a6.50,6.50 0 1,0 13.00,0a6.50,6.50 0 1,0 -13.00,0zM937.5,226.9a6.50,6.50 0 1,0 13.00,0a6.50,6.50 0 1,0 -13.00,0zM929.5,228.8a6.50,6.50 0 1,0 13.00,0a6.50,6.50 0 1,0 -13.00,0zM921.5,230.8a6.50,6.50 0 1,0 13.00,0a6.50,6.50 0 1,0 -13.00,0zM913.5,232.7a6.50,6.50 0 1,0 13.00,0a6.50,6.50 0 1,0 -13.00,0zM905.5,234.8a6.50,6.50 0 1,0 13.00,0a6.50,6.50 0 1,0 -13.00,0zM897.5,236.9a6.50,6.50 0 1,0 13.00,0a6.50,6.50 0 1,0 -13.00,0zM889.5,239.0a6.50,6.50 0 1,0 13.00,0a6.50,6.50 0 1,0 -13.00,0zM881.5,241.1a6.50,6.50 0 1,0 13.00,0a6.50,6.50 0 1,0 -13.00,0zM873.5,243.2a6.50,6.50 0 1,0 13.00,0a6.50,6.50 0 1,0 -13.00,0zM865.5,245.4a6.50,6.50 0 1,0 13.00,0a6.50,6.50 0 1,0 -13.00,0zM857.5,247.9a6.50,6.50 0 1,0 13.00,0a6.50,6.50 0 1,0 -13.00,0zM849.5,250.5a6.50,6.50 0 1,0 13.00,0a6.50,6.50 0 1,0 -13.00,0zM841.5,253.1a6.50,6.50 0 1,0 13.00,0a6.50,6.50 0 1,0 -13.00,0zM833.5,255.7a6.50,6.50 0 1,0 13.00,0a6.50,6.50 0 1,0 -13.00,0zM825.5,258.2a6.50,6.50 0 1,0 13.00,0a6.50,6.50 0 1,0 -13.00,0zM817.5,260.5a6.50,6.50 0 1,0 13.00,0a6.50,6.50 0 1,0 -13.00,0zM809.5,262.7a6.50,6.50 0 1,0 13.00,0a6.50,6.50 0 1,0 -13.00,0zM801.5,265.0a6.50,6.50 0 1,0 13.00,0a6.50,6.50 0 1,0 -13.00,0zM793.5,267.5a6.50,6.50 0 1,0 13.00,0a6.50,6.50 0 1,0 -13.00,0zM785.5,270.3a6.50,6.50 0 1,0 13.00,0a6.50,6.50 0 1,0 -13.00,0zM777.5,273.1a6.50,6.50 0 1,0 13.00,0a6.50,6.50 0 1,0 -13.00,0zM769.5,276.1a6.50,6.50 0 1,0 13.00,0a6.50,6.50 0 1,0 -13.00,0zM761.5,279.1a6.50,6.50 0 1,0 13.00,0a6.50,6.50 0 1,0 -13.00,0zM753.5,282.2a6.50,6.50 0 1,0 13.00,0a6.50,6.50 0 1,0 -13.00,0zM745.5,285.4a6.50,6.50 0 1,0 13.00,0a6.50,6.50 0 1,0 -13.00,0zM737.5,288.6a6.50,6.50 0 1,0 13.00,0a6.50,6.50 0 1,0 -13.00,0zM729.5,291.8a6.50,6.50 0 1,0 13.00,0a6.50,6.50 0 1,0 -13.00,0zM721.5,295.1a6.50,6.50 0 1,0 13.00,0a6.50,6.50 0 1,0 -13.00,0zM713.5,298.4a6.50,6.50 0 1,0 13.00,0a6.50,6.50 0 1,0 -13.00,0zM705.5,301.6a6.50,6.50 0 1,0 13.00,0a6.50,6.50 0 1,0 -13.00,0zM697.5,304.6a6.50,6.50 0 1,0 13.00,0a6.50,6.50 0 1,0 -13.00,0zM689.5,307.6a6.50,6.50 0 1,0 13.00,0a6.50,6.50 0 1,0 -13.00,0zM681.5,310.7a6.50,6.50 0 1,0 13.00,0a6.50,6.50 0 1,0 -13.00,0zM673.5,314.1a6.50,6.50 0 1,0 13.00,0a6.50,6.50 0 1,0 -13.00,0zM665.5,318.9a6.50,6.50 0 1,0 13.00,0a6.50,6.50 0 1,0 -13.00,0zM657.8,328.2a6.20,6.20 0 1,0 12.40,0a6.20,6.20 0 1,0 -12.40,0zM649.9,339.3a6.14,6.14 0 1,0 12.27,0a6.14,6.14 0 1,0 -12.27,0zM641.8,349.9a6.20,6.20 0 1,0 12.40,0a6.20,6.20 0 1,0 -12.40,0zM633.6,359.0a6.40,6.40 0 1,0 12.79,0a6.40,6.40 0 1,0 -12.79,0zM625.5,367.0a6.45,6.45 0 1,0 12.90,0a6.45,6.45 0 1,0 -12.90,0zM617.5,374.3a6.50,6.50 0 1,0 13.00,0a6.50,6.50 0 1,0 -13.00,0zM609.5,380.8a6.50,6.50 0 1,0 13.00,0a6.50,6.50 0 1,0 -13.00,0zM601.5,386.4a6.50,6.50 0 1,0 13.00,0a6.50,6.50 0 1,0 -13.00,0zM593.5,391.5a6.50,6.50 0 1,0 13.00,0a6.50,6.50 0 1,0 -13.00,0zM585.5,396.5a6.50,6.50 0 1,0 13.00,0a6.50,6.50 0 1,0 -13.00,0zM577.5,401.6a6.50,6.50 0 1,0 13.00,0a6.50,6.50 0 1,0 -13.00,0zM569.5,407.2a6.50,6.50 0 1,0 13.00,0a6.50,6.50 0 1,0 -13.00,0zM561.5,413.5a6.50,6.50 0 1,0 13.00,0a6.50,6.50 0 1,0 -13.00,0zM553.5,420.4a6.50,6.50 0 1,0 13.00,0a6.50,6.50 0 1,0 -13.00,0zM545.5,427.3a6.50,6.50 0 1,0 13.00,0a6.50,6.50 0 1,0 -13.00,0zM537.5,433.9a6.50,6.50 0 1,0 13.00,0a6.50,6.50 0 1,0 -13.00,0zM529.5,441.0a6.47,6.47 0 1,0 12.95,0a6.47,6.47 0 1,0 -12.95,0zM521.7,449.3a6.31,6.31 0 1,0 12.61,0a6.31,6.31 0 1,0 -12.61,0zM513.9,459.9a6.06,6.06 0 1,0 12.12,0a6.06,6.06 0 1,0 -12.12,0zM506.3,473.3a5.65,5.65 0 1,0 11.31,0a5.65,5.65 0 1,0 -11.31,0zM498.5,493.6a5.50,5.50 0 1,0 11.00,0a5.50,5.50 0 1,0 -11.00,0zM490.5,509.8a5.50,5.50 0 1,0 11.00,0a5.50,5.50 0 1,0 -11.00,0zM482.5,528.8a5.50,5.50 0 1,0 11.00,0a5.50,5.50 0 1,0 -11.00,0zM474.5,552.4a5.50,5.50 0 1,0 11.00,0a5.50,5.50 0 1,0 -11.00,0zM466.5,585.5a5.50,5.50 0 1,0 11.00,0a5.50,5.50 0 1,0 -11.00,0zM458.5,622.7a5.50,5.50 0 1,0 11.00,0a5.50,5.50 0 1,0 -11.00,0zM450.5,659.9a5.50,5.50 0 1,0 11.00,0a5.50,5.50 0 1,0 -11.00,0zM442.5,688.1a5.50,5.50 0 1,0 11.00,0a5.50,5.50 0 1,0 -11.00,0zM434.5,710.1a5.50,5.50 0 1,0 11.00,0a5.50,5.50 0 1,0 -11.00,0z" fill="#00ff00" stroke="none"/>
<path d="M413.0,757.0 L412.4,757.7 L411.6,758.6 L410.6,759.6 L409.5,760.8 L408.4,762.0 L407.1,763.4 L405.9,764.7 L404.6,766.1 L403.3,767.5 L402.1,768.7 L401.0,769.9 L400.0,771.0 L399.1,772.0 L398.2,772.9 L397.3,773.8 L396.5,774.7 L395.7,775.5 L394.9,776.3 L394.2,777.1 L393.4,777.9 L392.6,778.7 L391.7,779.4 L390.9,780.2 L390.0,781.0 L389.1,781.8 L388.3,782.6 L387.5,783.4 L386.7,784.1 L385.9,784.9 L385.0,785.7 L384.1,786.4 L383.1,787.1 L382.0,787.9 L380.8,788.6 L379.5,789.3 L378.0,790.0 L376.4,790.6 L374.8,791.2 L373.2,791.8 L371.5,792.3 L369.7,792.8 L367.8,793.3 L365.7,793.8 L363.5,794.4 L361.0,795.0 L358.3,795.7 L355.3,796.6 L352.0,797.5 L348.4,798.5 L344.6,799.7 L340.5,800.9 L336.1,802.2 L331.6,803.5 L326.9,804.9 L322.0,806.4 L316.9,807.9 L311.6,809.4 L306.2,810.9 L300.7,812.5 L295.0,814.0 L288.9,815.6 L282.1,817.4 L274.7,819.3 L267.1,821.3 L259.2,823.3 L251.4,825.3 L243.8,827.2 L236.6,829.0 L229.9,830.7 L224.0,832.2 L218.9,833.5 L215.0,834.5" fill="none" stroke="#00ff00" stroke-width="3" stroke-linejoin="round" stroke-linecap="round" />
<g stroke="#00ff00" stroke-linecap="round"><line x1="413.0" y1="757.0" x2="412.4" y2="757.7" stroke-width="12.0"/><line x1="412.4" y1="757.7" x2="411.6" y2="758.6" stroke-width="12.0"/><line x1="411.6" y1="758.6" x2="410.6" y2="759.6" stroke-width="12.0"/><line x1="410.6" y1="759.6" x2="409.5" y2="760.8" stroke-width="12.0"/><line x1="409.5" y1="760.8" x2="408.4" y2="762.0" stroke-width="12.0"/><line x1="408.4" y1="762.0" x2="407.1" y2="763.4" stroke-width="12.0"/><line x1="407.1" y1="763.4" x2="405.9" y2="764.7" stroke-width="12.0"/><line x1="405.9" y1="764.7" x2="404.6" y2="766.1" stroke-width="12.0"/><line x1="404.6" y1="766.1" x2="403.3" y2="767.5" stroke-width="12.0"/><line x1="403.3" y1="767.5" x2="402.1" y2="768.7" stroke-width="12.0"/><line x1="402.1" y1="768.7" x2="401.0" y2="769.9" stroke-width="12.0"/><line x1="401.0" y1="769.9" x2="400.0" y2="771.0" stroke-width="12.0"/><line x1="400.0" y1="771.0" x2="399.1" y2="772.0" stroke-width="12.0"/><line x1="399.1" y1="772.0" x2="398.2" y2="772.9" stroke-width="12.0"/><line x1="398.2" y1="772.9" x2="397.3" y2="773.8" stroke-width="12.0"/><line x1="397.3" y1="773.8" x2="396.5" y2="774.7" stroke-width="12.0"/><line x1="396.5" y1="774.7" x2="395.7" y2="775.5" stroke-width="12.0"/><line x1="395.7" y1="775.5" x2="394.9" y2="776.3" stroke-width="12.0"/><line x1="394.9" y1="776.3" x2="394.2" y2="777.1" stroke-width="12.0"/><line x1="394.2" y1="777.1" x2="393.4" y2="777.9" stroke-width="12.0"/><line x1="393.4" y1="777.9" x2="392.6" y2="778.7" stroke-width="12.0"/><line x1="392.6" y1="778.7" x2="391.7" y2="779.4" stroke-width="12.0"/><line x1="391.7" y1="779.4" x2="390.9" y2="780.2" stroke-width="12.0"/><line x1="390.9" y1="780.2" x2="390.0" y2="781.0" stroke-width="12.0"/><line x1="390.0" y1="781.0" x2="389.1" y2="781.8" stroke-width="12.0"/><line x1="389.1" y1="781.8" x2="388.3" y2="782.6" stroke-width="12.0"/><line x1="388.3" y1="782.6" x2="387.5" y2="783.4" stroke-width="12.0"/><line x1="387.5" y1="783.4" x2="386.7" y2="784.1" stroke-width="12.0"/><line x1="386.7" y1="784.1" x2="385.9" y2="784.9" stroke-width="12.0"/><line x1="385.9" y1="784.9" x2="385.0" y2="785.7" stroke-width="12.0"/><line x1="385.0" y1="785.7" x2="384.1" y2="786.4" stroke-width="12.0"/><line x1="384.1" y1="786.4" x2="383.1" y2="787.1" stroke-width="12.0"/><line x1="383.1" y1="787.1" x2="382.0" y2="787.9" stroke-width="12.0"/><line x1="382.0" y1="787.9" x2="380.8" y2="788.6" stroke-width="12.0"/><line x1="380.8" y1="788.6" x2="379.5" y2="789.3" stroke-width="12.0"/><line x1="379.5" y1="789.3" x2="378.0" y2="790.0" stroke-width="12.0"/><line x1="378.0" y1="790.0" x2="376.4" y2="790.6" stroke-width="12.0"/><line x1="376.4" y1="790.6" x2="374.8" y2="791.2" stroke-width="12.0"/><line x1="374.8" y1="791.2" x2="373.2" y2="791.8" stroke-width="12.0"/><line x1="373.2" y1="791.8" x2="371.5" y2="792.3" stroke-width="12.0"/><line x1="371.5" y1="792.3" x2="369.7" y2="792.8" stroke-width="12.0"/><line x1="369.7" y1="792.8" x2="367.8" y2="793.3" stroke-width="12.0"/><line x1="367.8" y1="793.3" x2="365.7" y2="793.8" stroke-width="12.0"/><line x1="365.7" y1="793.8" x2="363.5" y2="794.4" stroke-width="12.0"/><line x1="363.5" y1="794.4" x2="361.0" y2="795.0" stroke-width="12.0"/><line x1="361.0" y1="795.0" x2="358.3" y2="795.7" stroke-width="12.0"/><line x1="358.3" y1="795.7" x2="355.3" y2="796.6" stroke-width="12.0"/><line x1="355.3" y1="796.6" x2="352.0" y2="797.5" stroke-width="12.0"/><line x1="352.0" y1="797.5" x2="348.4" y2="798.5" stroke-width="12.0"/><line x1="348.4" y1="798.5" x2="344.6" y2="799.7" stroke-width="12.0"/><line x1="344.6" y1="799.7" x2="340.5" y2="800.9" stroke-width="12.0"/><line x1="340.5" y1="800.9" x2="336.1" y2="802.2" stroke-width="12.0"/><line x1="336.1" y1="802.2" x2="331.6" y2="803.5" stroke-width="12.0"/><line x1="331.6" y1="803.5" x2="326.9" y2="804.9" stroke-width="12.0"/><line x1="326.9" y1="804.9" x2="322.0" y2="806.4" stroke-width="12.0"/><line x1="322.0" y1="806.4" x2="316.9" y2="807.9" stroke-width="12.0"/><line x1="316.9" y1="807.9" x2="311.6" y2="809.4" stroke-width="12.0"/><line x1="311.6" y1="809.4" x2="306.2" y2="810.9" stroke-width="12.0"/><line x1="306.2" y1="810.9" x2="300.7" y2="812.5" stroke-width="12.0"/><line x1="300.7" y1="812.5" x2="295.0" y2="814.0" stroke-width="12.0"/><line x1="295.0" y1="814.0" x2="288.9" y2="815.6" stroke-width="12.0"/><line x1="288.9" y1="815.6" x2="282.1" y2="817.4" stroke-width="12.0"/><line x1="282.1" y1="817.4" x2="274.7" y2="819.3" stroke-width="12.0"/><line x1="274.7" y1="819.3" x2="267.1" y2="821.3" stroke-width="12.0"/><line x1="267.1" y1="821.3" x2="259.2" y2="823.3" stroke-width="12.0"/><line x1="259.2" y1="823.3" x2="251.4" y2="825.3" stroke-width="12.0"/><line x1="251.4" y1="825.3" x2="243.8" y2="827.2" stroke-width="12.0"/><line x1="243.8" y1="827.2" x2="236.6" y2="829.0" stroke-width="12.0"/><line x1="236.6" y1="829.0" x2="229.9" y2="830.7" stroke-width="12.0"/><line x1="229.9" y1="830.7" x2="224.0" y2="832.2" stroke-width="12.0"/><line x1="224.0" y1="832.2" x2="218.9" y2="833.5" stroke-width="12.0"/><line x1="218.9" y1="833.5" x2="215.0" y2="834.5" stroke-width="12.0"/></g>
<path d="M402.0,762.4a6.00,6.00 0 1,0 12.00,0a6.00,6.00 0 1,0 -12.00,0zM396.0,768.9a6.00,6.00 0 1,0 12.00,0a6.00,6.00 0 1,0 -12.00,0zM390.0,775.2a6.00,6.00 0 1,0 12.00,0a6.00,6.00 0 1,0 -12.00,0zM384.0,781.0a6.00,6.00 0 1,0 12.00,0a6.00,6.00 0 1,0 -12.00,0zM378.0,786.5a6.00,6.00 0 1,0 12.00,0a6.00,6.00 0 1,0 -12.00,0zM372.0,790.0a6.00,6.00 0 1,0 12.00,0a6.00,6.00 0 1,0 -12.00,0zM366.0,792.1a6.00,6.00 0 1,0 12.00,0a6.00,6.00 0 1,0 -12.00,0zM360.0,793.7a6.00,6.00 0 1,0 12.00,0a6.00,6.00 0 1,0 -12.00,0zM354.0,795.3a6.00,6.00 0 1,0 12.00,0a6.00,6.00 0 1,0 -12.00,0zM348.0,796.9a6.00,6.00 0 1,0 12.00,0a6.00,6.00 0 1,0 -12.00,0zM342.0,798.7a6.00,6.00 0 1,0 12.00,0a6.00,6.00 0 1,0 -12.00,0zM336.0,800.4a6.00,6.00 0 1,0 12.00,0a6.00,6.00 0 1,0 -12.00,0zM330.0,802.2a6.00,6.00 0 1,0 12.00,0a6.00,6.00 0 1,0 -12.00,0zM324.0,804.0a6.00,6.00 0 1,0 12.00,0a6.00,6.00 0 1,0 -12.00,0zM318.0,805.8a6.00,6.00 0 1,0 12.00,0a6.00,6.00 0 1,0 -12.00,0zM312.0,807.5a6.00,6.00 0 1,0 12.00,0a6.00,6.00 0 1,0 -12.00,0zM306.0,809.3a6.00,6.00 0 1,0 12.00,0a6.00,6.00 0 1,0 -12.00,0zM300.0,811.0a6.00,6.00 0 1,0 12.00,0a6.00,6.00 0 1,0 -12.00,0zM294.0,812.6a6.00,6.00 0 1,0 12.00,0a6.00,6.00 0 1,0 -12.00,0zM288.0,814.3a6.00,6.00 0 1,0 12.00,0a6.00,6.00 0 1,0 -12.00,0zM282.0,815.9a6.00,6.00 0 1,0 12.00,0a6.00,6.00 0 1,0 -12.00,0zM276.0,817.4a6.00,6.00 0 1,0 12.00,0a6.00,6.00 0 1,0 -12.00,0zM270.0,819.0a6.00,6.00 0 1,0 12.00,0a6.00,6.00 0 1,0 -12.00,0zM264.0,820.5a6.00,6.00 0 1,0 12.00,0a6.00,6.00 0 1,0 -12.00,0zM258.0,822.1a6.00,6.00 0 1,0 12.00,0a6.00,6.00 0 1,0 -12.00,0zM252.0,823.6a6.00,6.00 0 1,0 12.00,0a6.00,6.00 0 1,0 -12.00,0zM246.0,825.1a6.00,6.00 0 1,0 12.00,0a6.00,6.00 0 1,0 -12.00,0zM240.0,826.7a6.00,6.00 0 1,0 12.00,0a6.00,6.00 0 1,0 -12.00,0zM234.0,828.2a6.00,6.00 0 1,0 12.00,0a6.00,6.00 0 1,0 -12.00,0zM228.0,829.7a6.00,6.00 0 1,0 12.00,0a6.00,6.00 0 1,0 -12.00,0zM222.0,831.2a6.00,6.00 0 1,0 12.00,0a6.00,6.00 0 1,0 -12.00,0zM216.0,832.7a6.00,6.00 0 1,0 12.00,0a6.00,6.00 0 1,0 -12.00,0zM210.0,834.2a6.00,6.00 0 1,0 12.00,0a6.00,6.00 0 1,0 -12.00,0z" fill="#00ff00" stroke="none"/>
<path d="M215.0,835.0 L219.0,833.9 L224.0,832.6 L230.0,831.0 L236.8,829.2 L244.1,827.3 L251.8,825.2 L259.7,823.2 L267.5,821.1 L275.3,819.0 L282.6,817.0 L289.5,815.2 L295.6,813.6 L301.2,812.1 L306.7,810.6 L312.0,809.2 L317.2,807.8 L322.2,806.5 L327.0,805.2 L331.7,803.9 L336.1,802.7 L340.4,801.6 L344.5,800.5 L348.3,799.5 L352.0,798.5 L355.4,797.6 L358.4,796.8 L361.2,796.1 L363.7,795.5 L366.0,794.9 L368.2,794.3 L370.3,793.8 L372.3,793.3 L374.4,792.9 L376.5,792.4 L378.7,791.8 L381.0,791.3 L383.4,790.7 L385.8,790.2 L388.2,789.7 L390.6,789.1 L393.0,788.6 L395.4,788.1 L397.8,787.6 L400.3,787.1 L402.7,786.6 L405.1,786.1 L407.5,785.5 L410.0,785.0 L412.5,784.5 L415.0,783.9 L417.5,783.4 L420.0,782.9 L422.6,782.4 L425.1,781.8 L427.7,781.3 L430.2,780.8 L432.7,780.2 L435.2,779.7 L437.6,779.1 L440.0,778.5 L442.3,777.9 L444.6,777.3 L446.9,776.7 L449.1,776.1 L451.3,775.5 L453.5,774.9 L455.7,774.2 L457.9,773.6 L460.1,772.9 L462.4,772.2 L464.7,771.5 L467.0,770.8 L469.4,770.1 L471.8,769.3 L474.3,768.5 L476.8,767.7 L479.3,766.9 L481.9,766.1 L484.4,765.2 L487.0,764.4 L489.5,763.5 L492.0,762.7 L494.5,761.8 L497.0,761.0 L499.5,760.1 L501.9,759.3 L504.4,758.4 L506.8,757.4 L509.3,756.5 L511.7,755.6 L514.1,754.7 L516.6,753.8 L518.9,752.9 L521.3,752.1 L523.7,751.3 L526.0,750.5 L528.3,749.8 L530.7,749.1 L533.0,748.4 L535.4,747.7 L537.7,747.1 L540.0,746.5 L542.3,745.9 L544.5,745.3 L546.6,744.7 L548.7,744.1 L550.6,743.6 L552.5,743.0 L554.1,742.5 L555.5,742.0 L556.7,741.6 L557.8,741.3 L558.7,740.9 L559.7,740.5 L560.8,740.1 L561.9,739.7 L563.2,739.2 L564.8,738.6 L566.7,737.8 L569.0,737.0 L571.7,736.0 L574.7,734.9 L578.1,733.7 L581.6,732.4 L585.4,731.0 L589.3,729.6 L593.3,728.1 L597.2,726.6 L601.1,725.2 L604.9,723.7 L608.6,722.3 L612.0,721.0 L615.3,719.7 L618.6,718.4 L621.9,717.0 L625.1,715.7 L628.3,714.4 L631.4,713.0 L634.5,711.7 L637.4,710.5 L640.2,709.3 L642.9,708.1 L645.4,707.0 L647.8,706.0 L650.0,705.1 L652.0,704.3 L653.9,703.6 L655.6,702.9 L657.2,702.3 L658.7,701.8 L660.1,701.2 L661.5,700.6 L662.8,699.9 L664.0,699.2 L665.2,698.3 L666.4,697.4 L667.5,696.4 L668.5,695.3 L669.4,694.1 L670.2,692.9 L671.0,691.6 L671.7,690.3 L672.4,689.0 L673.1,687.6 L673.8,686.1 L674.6,684.7 L675.4,683.1 L676.4,681.6 L677.4,680.0 L678.4,678.4 L679.3,676.7 L680.3,675.0 L681.3,673.2 L682.4,671.4 L683.5,669.6 L684.7,667.7 L686.1,665.8 L687.5,663.9 L689.1,662.0 L690.8,660.0 L692.7,658.0 L694.8,655.9 L697.1,653.7 L699.4,651.5 L701.9,649.2 L704.5,646.9 L707.1,644.7 L709.7,642.5 L712.4,640.3 L715.0,638.2 L717.5,636.2 L720.0,634.3 L722.4,632.5 L724.8,630.9 L727.2,629.5 L729.5,628.0 L731.9,626.7 L734.3,625.4 L736.6,624.0 L739.0,622.6 L741.5,621.2 L743.9,619.6 L746.4,617.9 L749.0,616.0 L751.6,614.0 L754.2,612.0 L756.8,609.9 L759.4,607.8 L762.1,605.6 L764.8,603.3 L767.6,600.9 L770.3,598.4 L773.2,595.8 L776.0,593.0 L779.0,590.1 L782.0,587.0 L785.2,583.6 L788.5,579.9 L792.1,575.9 L795.7,571.7 L799.4,567.4 L803.1,563.0 L806.7,558.7 L810.2,554.4 L813.5,550.3 L816.6,546.5 L819.5,543.1 L822.0,540.0 L824.2,537.4 L826.1,535.2 L827.7,533.3 L829.2,531.7 L830.4,530.3 L831.6,529.0 L832.7,527.7 L833.7,526.4 L834.7,524.9 L835.7,523.2 L836.8,521.3 L838.0,519.0 L839.3,516.3 L840.6,513.4 L841.9,510.2 L843.3,506.8 L844.6,503.3 L845.9,499.8 L847.1,496.2 L848.3,492.7 L849.5,489.2 L850.6,485.9 L851.6,482.8 L852.5,480.0 L853.3,477.4 L854.0,475.0 L854.6,472.6 L855.2,470.4 L855.6,468.3 L856.1,466.3 L856.5,464.3 L856.9,462.4 L857.3,460.5 L857.7,458.5 L858.1,456.6 L858.6,454.6 L859.1,452.6 L859.6,450.7 L860.1,448.8 L860.6,447.0 L861.1,445.2 L861.6,443.4 L862.1,441.6 L862.6,439.7 L863.1,437.8 L863.7,435.8 L864.2,433.7 L864.8,431.5 L865.4,429.2 L866.0,426.7 L866.7,424.1 L867.4,421.5 L868.1,418.8 L868.8,416.1 L869.4,413.3 L870.1,410.6 L870.8,408.0 L871.4,405.4 L872.0,402.9 L872.5,400.6 L873.0,398.4 L873.4,396.3 L873.8,394.3 L874.2,392.3 L874.6,390.4 L874.9,388.6 L875.3,386.7 L875.6,384.9 L875.9,383.1 L876.3,381.3 L876.6,379.4 L877.0,377.5 L877.4,375.5 L877.8,373.5 L878.2,371.5 L878.6,369.5 L879.0,367.4 L879.4,365.4 L879.8,363.4 L880.2,361.5 L880.6,359.5 L881.0,357.7 L881.4,356.0 L881.8,354.3 L882.2,352.8 L882.5,351.4 L882.9,350.1 L883.2,348.9 L883.5,347.8 L883.8,346.7 L884.2,345.5 L884.5,344.4 L884.9,343.2 L885.4,341.9 L885.9,340.5 L886.4,339.0 L887.0,337.3 L887.6,335.6 L888.3,333.8 L889.0,331.9 L889.8,330.0 L890.6,328.0 L891.4,326.0 L892.2,324.0 L893.1,321.9 L893.9,319.8 L894.8,317.8 L895.7,315.7 L896.6,313.6 L897.5,311.5 L898.5,309.3 L899.5,307.1 L900.5,304.9 L901.5,302.7 L902.5,300.5 L903.6,298.2 L904.6,296.0 L905.7,293.8 L906.9,291.6 L908.0,289.5 L909.2,287.4 L910.3,285.3 L911.5,283.1 L912.6,281.0 L913.8,278.9 L915.1,276.9 L916.3,274.8 L917.7,272.7 L919.0,270.7 L920.4,268.7 L921.9,266.7 L923.5,264.8 L925.2,262.9 L926.9,260.9 L928.7,259.0 L930.6,257.1 L932.6,255.3 L934.6,253.4 L936.6,251.6 L938.6,249.8 L940.6,248.1 L942.7,246.4 L944.6,244.8 L946.6,243.2 L948.5,241.7 L950.4,240.3 L952.2,238.9 L954.1,237.5 L955.9,236.3 L957.8,235.0 L959.6,233.8 L961.5,232.6 L963.5,231.4 L965.5,230.2 L967.6,229.0 L969.8,227.8 L972.2,226.6 L974.8,225.2 L977.6,223.9 L980.5,222.6 L983.4,221.2 L986.3,219.9 L989.2,218.7 L991.9,217.5 L994.4,216.4 L996.6,215.5 L998.5,214.7 L1000.0,214.0" fill="none" stroke="#00ff00" stroke-width="3" stroke-linejoin="round" stroke-linecap="round" />
<g stroke="#00ff00" stroke-linecap="round"><line x1="215.0" y1="835.0" x2="219.0" y2="833.9" stroke-width="13.0"/><line x1="219.0" y1="833.9" x2="224.0" y2="832.6" stroke-width="13.0"/><line x1="224.0" y1="832.6" x2="230.0" y2="831.0" stroke-width="13.0"/><line x1="230.0" y1="831.0" x2="236.8" y2="829.2" stroke-width="13.0"/><line x1="236.8" y1="829.2" x2="244.1" y2="827.3" stroke-width="13.0"/><line x1="244.1" y1="827.3" x2="251.8" y2="825.2" stroke-width="13.0"/><line x1="251.8" y1="825.2" x2="259.7" y2="823.2" stroke-width="13.0"/><line x1="259.7" y1="823.2" x2="267.5" y2="821.1" stroke-width="13.0"/><line x1="267.5" y1="821.1" x2="275.3" y2="819.0" stroke-width="13.0"/><line x1="275.3" y1="819.0" x2="282.6" y2="817.0" stroke-width="13.0"/><line x1="282.6" y1="817.0" x2="289.5" y2="815.2" stroke-width="13.0"/><line x1="289.5" y1="815.2" x2="295.6" y2="813.6" stroke-width="13.0"/><line x1="295.6" y1="813.6" x2="301.2" y2="812.1" stroke-width="13.0"/><line x1="301.2" y1="812.1" x2="306.7" y2="810.6" stroke-width="13.0"/><line x1="306.7" y1="810.6" x2="312.0" y2="809.2" stroke-width="13.0"/><line x1="312.0" y1="809.2" x2="317.2" y2="807.8" stroke-width="13.0"/><line x1="317.2" y1="807.8" x2="322.2" y2="806.5" stroke-width="13.0"/><line x1="322.2" y1="806.5" x2="327.0" y2="805.2" stroke-width="13.0"/><line x1="327.0" y1="805.2" x2="331.7" y2="803.9" stroke-width="13.0"/><line x1="331.7" y1="803.9" x2="336.1" y2="802.7" stroke-width="13.0"/><line x1="336.1" y1="802.7" x2="340.4" y2="801.6" stroke-width="13.0"/><line x1="340.4" y1="801.6" x2="344.5" y2="800.5" stroke-width="13.0"/><line x1="344.5" y1="800.5" x2="348.3" y2="799.5" stroke-width="13.0"/><line x1="348.3" y1="799.5" x2="352.0" y2="798.5" stroke-width="13.0"/><line x1="352.0" y1="798.5" x2="355.4" y2="797.6" stroke-width="13.0"/><line x1="355.4" y1="797.6" x2="358.4" y2="796.8" stroke-width="13.0"/><line x1="358.4" y1="796.8" x2="361.2" y2="796.1" stroke-width="13.0"/><line x1="361.2" y1="796.1" x2="363.7" y2="795.5" stroke-width="13.0"/><line x1="363.7" y1="795.5" x2="366.0" y2="794.9" stroke-width="13.0"/><line x1="366.0" y1="794.9" x2="368.2" y2="794.3" stroke-width="13.0"/><line x1="368.2" y1="794.3" x2="370.3" y2="793.8" stroke-width="13.0"/><line x1="370.3" y1="793.8" x2="372.3" y2="793.3" stroke-width="13.0"/><line x1="372.3" y1="793.3" x2="374.4" y2="792.9" stroke-width="13.0"/><line x1="374.4" y1="792.9" x2="376.5" y2="792.4" stroke-width="13.0"/><line x1="376.5" y1="792.4" x2="378.7" y2="791.8" stroke-width="13.0"/><line x1="378.7" y1="791.8" x2="381.0" y2="791.3" stroke-width="13.0"/><line x1="381.0" y1="791.3" x2="383.4" y2="790.7" stroke-width="13.0"/><line x1="383.4" y1="790.7" x2="385.8" y2="790.2" stroke-width="13.0"/><line x1="385.8" y1="790.2" x2="388.2" y2="789.7" stroke-width="13.0"/><line x1="388.2" y1="789.7" x2="390.6" y2="789.1" stroke-width="13.0"/><line x1="390.6" y1="789.1" x2="393.0" y2="788.6" stroke-width="13.0"/><line x1="393.0" y1="788.6" x2="395.4" y2="788.1" stroke-width="13.0"/><line x1="395.4" y1="788.1" x2="397.8" y2="787.6" stroke-width="13.0"/><line x1="397.8" y1="787.6" x2="400.3" y2="787.1" stroke-width="13.0"/><line x1="400.3" y1="787.1" x2="402.7" y2="786.6" stroke-width="13.0"/><line x1="402.7" y1="786.6" x2="405.1" y2="786.1" stroke-width="13.0"/><line x1="405.1" y1="786.1" x2="407.5" y2="785.5" stroke-width="13.0"/><line x1="407.5" y1="785.5" x2="410.0" y2="785.0" stroke-width="13.0"/><line x1="410.0" y1="785.0" x2="412.5" y2="784.5" stroke-width="13.0"/><line x1="412.5" y1="784.5" x2="415.0" y2="783.9" stroke-width="13.0"/><line x1="415.0" y1="783.9" x2="417.5" y2="783.4" stroke-width="13.0"/><line x1="417.5" y1="783.4" x2="420.0" y2="782.9" stroke-width="13.0"/><line x1="420.0" y1="782.9" x2="422.6" y2="782.4" stroke-width="13.0"/><line x1="422.6" y1="782.4" x2="425.1" y2="781.8" stroke-width="13.0"/><line x1="425.1" y1="781.8" x2="427.7" y2="781.3" stroke-width="13.0"/><line x1="427.7" y1="781.3" x2="430.2" y2="780.8" stroke-width="13.0"/><line x1="430.2" y1="780.8" x2="432.7" y2="780.2" stroke-width="13.0"/><line x1="432.7" y1="780.2" x2="435.2" y2="779.7" stroke-width="13.0"/><line x1="435.2" y1="779.7" x2="437.6" y2="779.1" stroke-width="13.0"/><line x1="437.6" y1="779.1" x2="440.0" y2="778.5" stroke-width="13.0"/><line x1="440.0" y1="778.5" x2="442.3" y2="777.9" stroke-width="13.0"/><line x1="442.3" y1="777.9" x2="444.6" y2="777.3" stroke-width="13.0"/><line x1="444.6" y1="777.3" x2="446.9" y2="776.7" stroke-width="13.0"/><line x1="446.9" y1="776.7" x2="449.1" y2="776.1" stroke-width="13.0"/><line x1="449.1" y1="776.1" x2="451.3" y2="775.5" stroke-width="13.0"/><line x1="451.3" y1="775.5" x2="453.5" y2="774.9" stroke-width="13.0"/><line x1="453.5" y1="774.9" x2="455.7" y2="774.2" stroke-width="13.0"/><line x1="455.7" y1="774.2" x2="457.9" y2="773.6" stroke-width="13.0"/><line x1="457.9" y1="773.6" x2="460.1" y2="772.9" stroke-width="13.0"/><line x1="460.1" y1="772.9" x2="462.4" y2="772.2" stroke-width="13.0"/><line x1="462.4" y1="772.2" x2="464.7" y2="771.5" stroke-width="13.0"/><line x1="464.7" y1="771.5" x2="467.0" y2="770.8" stroke-width="13.0"/><line x1="467.0" y1="770.8" x2="469.4" y2="770.1" stroke-width="13.0"/><line x1="469.4" y1="770.1" x2="471.8" y2="769.3" stroke-width="13.0"/><line x1="471.8" y1="769.3" x2="474.3" y2="768.5" stroke-width="13.0"/><line x1="474.3" y1="768.5" x2="476.8" y2="767.7" stroke-width="13.0"/><line x1="476.8" y1="767.7" x2="479.3" y2="766.9" stroke-width="13.0"/><line x1="479.3" y1="766.9" x2="481.9" y2="766.1" stroke-width="13.0"/><line x1="481.9" y1="766.1" x2="484.4" y2="765.2" stroke-width="13.0"/><line x1="484.4" y1="765.2" x2="487.0" y2="764.4" stroke-width="13.0"/><line x1="487.0" y1="764.4" x2="489.5" y2="763.5" stroke-width="13.0"/><line x1="489.5" y1="763.5" x2="492.0" y2="762.7" stroke-width="13.0"/><line x1="492.0" y1="762.7" x2="494.5" y2="761.8" stroke-width="13.0"/><line x1="494.5" y1="761.8" x2="497.0" y2="761.0" stroke-width="13.0"/><line x1="497.0" y1="761.0" x2="499.5" y2="760.1" stroke-width="13.0"/><line x1="499.5" y1="760.1" x2="501.9" y2="759.3" stroke-width="13.0"/><line x1="501.9" y1="759.3" x2="504.4" y2="758.4" stroke-width="13.0"/><line x1="504.4" y1="758.4" x2="506.8" y2="757.4" stroke-width="13.0"/><line x1="506.8" y1="757.4" x2="509.3" y2="756.5" stroke-width="13.0"/><line x1="509.3" y1="756.5" x2="511.7" y2="755.6" stroke-width="13.0"/><line x1="511.7" y1="755.6" x2="514.1" y2="754.7" stroke-width="13.0"/><line x1="514.1" y1="754.7" x2="516.6" y2="753.8" stroke-width="13.0"/><line x1="516.6" y1="753.8" x2="518.9" y2="752.9" stroke-width="13.0"/><line x1="518.9" y1="752.9" x2="521.3" y2="752.1" stroke-width="13.0"/><line x1="521.3" y1="752.1" x2="523.7" y2="751.3" stroke-width="13.0"/><line x1="523.7" y1="751.3" x2="526.0" y2="750.5" stroke-width="13.0"/><line x1="526.0" y1="750.5" x2="528.3" y2="749.8" stroke-width="13.0"/><line x1="528.3" y1="749.8" x2="530.7" y2="749.1" stroke-width="13.0"/><line x1="530.7" y1="749.1" x2="533.0" y2="748.4" stroke-width="13.0"/><line x1="533.0" y1="748.4" x2="535.4" y2="747.7" stroke-width="13.0"/><line x1="535.4" y1="747.7" x2="537.7" y2="747.1" stroke-width="13.0"/><line x1="537.7" y1="747.1" x2="540.0" y2="746.5" stroke-width="13.0"/><line x1="540.0" y1="746.5" x2="542.3" y2="745.9" stroke-width="13.0"/><line x1="542.3" y1="745.9" x2="544.5" y2="745.3" stroke-width="13.0"/><line x1="544.5" y1="745.3" x2="546.6" y2="744.7" stroke-width="13.0"/><line x1="546.6" y1="744.7" x2="548.7" y2="744.1" stroke-width="13.0"/><line x1="548.7" y1="744.1" x2="550.6" y2="743.6" stroke-width="13.0"/><line x1="550.6" y1="743.6" x2="552.5" y2="743.0" stroke-width="13.0"/><line x1="552.5" y1="743.0" x2="554.1" y2="742.5" stroke-width="13.0"/><line x1="554.1" y1="742.5" x2="555.5" y2="742.0" stroke-width="13.0"/><line x1="555.5" y1="742.0" x2="556.7" y2="741.6" stroke-width="13.0"/><line x1="556.7" y1="741.6" x2="557.8" y2="741.3" stroke-width="13.0"/><line x1="557.8" y1="741.3" x2="558.7" y2="740.9" stroke-width="13.0"/><line x1="558.7" y1="740.9" x2="559.7" y2="740.5" stroke-width="13.0"/><line x1="559.7" y1="740.5" x2="560.8" y2="740.1" stroke-width="13.0"/><line x1="560.8" y1="740.1" x2="561.9" y2="739.7" stroke-width="13.0"/><line x1="561.9" y1="739.7" x2="563.2" y2="739.2" stroke-width="13.0"/><line x1="563.2" y1="739.2" x2="564.8" y2="738.6" stroke-width="13.0"/><line x1="564.8" y1="738.6" x2="566.7" y2="737.8" stroke-width="13.0"/><line x1="566.7" y1="737.8" x2="569.0" y2="737.0" stroke-width="13.0"/><line x1="569.0" y1="737.0" x2="571.7" y2="736.0" stroke-width="13.0"/><line x1="571.7" y1="736.0" x2="574.7" y2="734.9" stroke-width="13.0"/><line x1="574.7" y1="734.9" x2="578.1" y2="733.7" stroke-width="13.0"/><line x1="578.1" y1="733.7" x2="581.6" y2="732.4" stroke-width="13.0"/><line x1="581.6" y1="732.4" x2="585.4" y2="731.0" stroke-width="13.0"/><line x1="585.4" y1="731.0" x2="589.3" y2="729.6" stroke-width="13.0"/><line x1="589.3" y1="729.6" x2="593.3" y2="728.1" stroke-width="13.0"/><line x1="593.3" y1="728.1" x2="597.2" y2="726.6" stroke-width="13.0"/><line x1="597.2" y1="726.6" x2="601.1" y2="725.2" stroke-width="13.0"/><line x1="601.1" y1="725.2" x2="604.9" y2="723.7" stroke-width="13.0"/><line x1="604.9" y1="723.7" x2="608.6" y2="722.3" stroke-width="13.0"/><line x1="608.6" y1="722.3" x2="612.0" y2="721.0" stroke-width="13.0"/><line x1="612.0" y1="721.0" x2="615.3" y2="719.7" stroke-width="13.0"/><line x1="615.3" y1="719.7" x2="618.6" y2="718.4" stroke-width="13.0"/><line x1="618.6" y1="718.4" x2="621.9" y2="717.0" stroke-width="13.0"/><line x1="621.9" y1="717.0" x2="625.1" y2="715.7" stroke-width="13.0"/><line x1="625.1" y1="715.7" x2="628.3" y2="714.4" stroke-width="13.0"/><line x1="628.3" y1="714.4" x2="631.4" y2="713.0" stroke-width="13.0"/><line x1="631.4" y1="713.0" x2="634.5" y2="711.7" stroke-width="13.0"/><line x1="634.5" y1="711.7" x2="637.4" y2="710.5" stroke-width="13.0"/><line x1="637.4" y1="710.5" x2="640.2" y2="709.3" stroke-width="13.0"/><line x1="640.2" y1="709.3" x2="642.9" y2="708.1" stroke-width="13.0"/><line x1="642.9" y1="708.1" x2="645.4" y2="707.0" stroke-width="13.0"/><line x1="645.4" y1="707.0" x2="647.8" y2="706.0" stroke-width="13.0"/><line x1="647.8" y1="706.0" x2="650.0" y2="705.1" stroke-width="13.0"/><line x1="650.0" y1="705.1" x2="652.0" y2="704.3" stroke-width="13.0"/><line x1="652.0" y1="704.3" x2="653.9" y2="703.6" stroke-width="13.0"/><line x1="653.9" y1="703.6" x2="655.6" y2="702.9" stroke-width="13.0"/><line x1="655.6" y1="702.9" x2="657.2" y2="702.3" stroke-width="13.0"/><line x1="657.2" y1="702.3" x2="658.7" y2="701.8" stroke-width="13.0"/><line x1="658.7" y1="701.8" x2="660.1" y2="701.2" stroke-width="13.0"/><line x1="660.1" y1="701.2" x2="661.5" y2="700.6" stroke-width="13.0"/><line x1="661.5" y1="700.6" x2="662.8" y2="699.9" stroke-width="13.0"/><line x1="662.8" y1="699.9" x2="664.0" y2="699.2" stroke-width="13.0"/><line x1="664.0" y1="699.2" x2="665.2" y2="698.3" stroke-width="13.0"/><line x1="665.2" y1="698.3" x2="666.4" y2="697.4" stroke-width="13.0"/><line x1="666.4" y1="697.4" x2="667.5" y2="696.4" stroke-width="12.7"/><line x1="667.5" y1="696.4" x2="668.5" y2="695.3" stroke-width="11.6"/><line x1="668.5" y1="695.3" x2="669.4" y2="694.1" stroke-width="10.3"/><line x1="669.4" y1="694.1" x2="670.2" y2="692.9" stroke-width="9.0"/><line x1="670.2" y1="692.9" x2="671.0" y2="691.6" stroke-width="7.7"/><line x1="671.0" y1="691.6" x2="671.7" y2="690.3" stroke-width="6.6"/><line x1="671.7" y1="690.3" x2="672.4" y2="689.0" stroke-width="5.9"/><line x1="672.4" y1="689.0" x2="673.1" y2="687.6" stroke-width="5.6"/><line x1="673.1" y1="687.6" x2="673.8" y2="686.1" stroke-width="5.8"/><line x1="673.8" y1="686.1" x2="674.6" y2="684.7" stroke-width="6.1"/><line x1="674.6" y1="684.7" x2="675.4" y2="683.1" stroke-width="6.4"/><line x1="675.4" y1="683.1" x2="676.4" y2="681.6" stroke-width="6.6"/><line x1="676.4" y1="681.6" x2="677.4" y2="680.0" stroke-width="6.8"/><line x1="677.4" y1="680.0" x2="678.4" y2="678.4" stroke-width="6.9"/><line x1="678.4" y1="678.4" x2="679.3" y2="676.7" stroke-width="7.0"/><line x1="679.3" y1="676.7" x2="680.3" y2="675.0" stroke-width="7.0"/><line x1="680.3" y1="675.0" x2="681.3" y2="673.2" stroke-width="7.0"/><line x1="681.3" y1="673.2" x2="682.4" y2="671.4" stroke-width="7.3"/><line x1="682.4" y1="671.4" x2="683.5" y2="669.6" stroke-width="7.8"/><line x1="683.5" y1="669.6" x2="684.7" y2="667.7" stroke-width="8.5"/><line x1="684.7" y1="667.7" x2="686.1" y2="665.8" stroke-width="9.2"/><line x1="686.1" y1="665.8" x2="687.5" y2="663.9" stroke-width="9.9"/><line x1="687.5" y1="663.9" x2="689.1" y2="662.0" stroke-width="10.6"/><line x1="689.1" y1="662.0" x2="690.8" y2="660.0" stroke-width="11.2"/><line x1="690.8" y1="660.0" x2="692.7" y2="658.0" stroke-width="11.7"/><line x1="692.7" y1="658.0" x2="694.8" y2="655.9" stroke-width="12.1"/><line x1="694.8" y1="655.9" x2="697.1" y2="653.7" stroke-width="12.4"/><line x1="697.1" y1="653.7" x2="699.4" y2="651.5" stroke-width="12.7"/><line x1="699.4" y1="651.5" x2="701.9" y2="649.2" stroke-width="12.9"/><line x1="701.9" y1="649.2" x2="704.5" y2="646.9" stroke-width="13.0"/><line x1="704.5" y1="646.9" x2="707.1" y2="644.7" stroke-width="13.0"/><line x1="707.1" y1="644.7" x2="709.7" y2="642.5" stroke-width="13.0"/><line x1="709.7" y1="642.5" x2="712.4" y2="640.3" stroke-width="13.0"/><line x1="712.4" y1="640.3" x2="715.0" y2="638.2" stroke-width="13.0"/><line x1="715.0" y1="638.2" x2="717.5" y2="636.2" stroke-width="13.0"/><line x1="717.5" y1="636.2" x2="720.0" y2="634.3" stroke-width="13.0"/><line x1="720.0" y1="634.3" x2="722.4" y2="632.5" stroke-width="13.0"/><line x1="722.4" y1="632.5" x2="724.8" y2="630.9" stroke-width="13.0"/><line x1="724.8" y1="630.9" x2="727.2" y2="629.5" stroke-width="13.0"/><line x1="727.2" y1="629.5" x2="729.5" y2="628.0" stroke-width="13.0"/><line x1="729.5" y1="628.0" x2="731.9" y2="626.7" stroke-width="13.0"/><line x1="731.9" y1="626.7" x2="734.3" y2="625.4" stroke-width="13.0"/><line x1="734.3" y1="625.4" x2="736.6" y2="624.0" stroke-width="13.0"/><line x1="736.6" y1="624.0" x2="739.0" y2="622.6" stroke-width="13.0"/><line x1="739.0" y1="622.6" x2="741.5" y2="621.2" stroke-width="13.0"/><line x1="741.5" y1="621.2" x2="743.9" y2="619.6" stroke-width="13.0"/><line x1="743.9" y1="619.6" x2="746.4" y2="617.9" stroke-width="13.0"/><line x1="746.4" y1="617.9" x2="749.0" y2="616.0" stroke-width="13.0"/><line x1="749.0" y1="616.0" x2="751.6" y2="614.0" stroke-width="13.0"/><line x1="751.6" y1="614.0" x2="754.2" y2="612.0" stroke-width="13.0"/><line x1="754.2" y1="612.0" x2="756.8" y2="609.9" stroke-width="13.0"/><line x1="756.8" y1="609.9" x2="759.4" y2="607.8" stroke-width="13.0"/><line x1="759.4" y1="607.8" x2="762.1" y2="605.6" stroke-width="13.0"/><line x1="762.1" y1="605.6" x2="764.8" y2="603.3" stroke-width="13.0"/><line x1="764.8" y1="603.3" x2="767.6" y2="600.9" stroke-width="13.0"/><line x1="767.6" y1="600.9" x2="770.3" y2="598.4" stroke-width="13.0"/><line x1="770.3" y1="598.4" x2="773.2" y2="595.8" stroke-width="12.7"/><line x1="773.2" y1="595.8" x2="776.0" y2="593.0" stroke-width="12.5"/><line x1="776.0" y1="593.0" x2="779.0" y2="590.1" stroke-width="12.2"/><line x1="779.0" y1="590.1" x2="782.0" y2="587.0" stroke-width="12.0"/><line x1="782.0" y1="587.0" x2="785.2" y2="583.6" stroke-width="11.7"/><line x1="785.2" y1="583.6" x2="788.5" y2="579.9" stroke-width="11.5"/><line x1="788.5" y1="579.9" x2="792.1" y2="575.9" stroke-width="11.3"/><line x1="792.1" y1="575.9" x2="795.7" y2="571.7" stroke-width="11.1"/><line x1="795.7" y1="571.7" x2="799.4" y2="567.4" stroke-width="10.9"/><line x1="799.4" y1="567.4" x2="803.1" y2="563.0" stroke-width="10.8"/><line x1="803.1" y1="563.0" x2="806.7" y2="558.7" stroke-width="10.7"/><line x1="806.7" y1="558.7" x2="810.2" y2="554.4" stroke-width="10.7"/><line x1="810.2" y1="554.4" x2="813.5" y2="550.3" stroke-width="10.6"/><line x1="813.5" y1="550.3" x2="816.6" y2="546.5" stroke-width="10.6"/><line x1="816.6" y1="546.5" x2="819.5" y2="543.1" stroke-width="10.6"/><line x1="819.5" y1="543.1" x2="822.0" y2="540.0" stroke-width="10.7"/><line x1="822.0" y1="540.0" x2="824.2" y2="537.4" stroke-width="10.8"/><line x1="824.2" y1="537.4" x2="826.1" y2="535.2" stroke-width="10.9"/><line x1="826.1" y1="535.2" x2="827.7" y2="533.3" stroke-width="11.0"/><line x1="827.7" y1="533.3" x2="829.2" y2="531.7" stroke-width="11.0"/><line x1="829.2" y1="531.7" x2="830.4" y2="530.3" stroke-width="11.0"/><line x1="830.4" y1="530.3" x2="831.6" y2="529.0" stroke-width="10.7"/><line x1="831.6" y1="529.0" x2="832.7" y2="527.7" stroke-width="10.2"/><line x1="832.7" y1="527.7" x2="833.7" y2="526.4" stroke-width="9.4"/><line x1="833.7" y1="526.4" x2="834.7" y2="524.9" stroke-width="8.4"/><line x1="834.7" y1="524.9" x2="835.7" y2="523.2" stroke-width="7.3"/><line x1="835.7" y1="523.2" x2="836.8" y2="521.3" stroke-width="6.1"/><line x1="836.8" y1="521.3" x2="838.0" y2="519.0" stroke-width="4.9"/><line x1="838.0" y1="519.0" x2="839.3" y2="516.3" stroke-width="3.7"/><line x1="901.5" y1="302.7" x2="902.5" y2="300.5" stroke-width="3.5"/><line x1="902.5" y1="300.5" x2="903.6" y2="298.2" stroke-width="3.8"/><line x1="903.6" y1="298.2" x2="904.6" y2="296.0" stroke-width="4.2"/><line x1="904.6" y1="296.0" x2="905.7" y2="293.8" stroke-width="4.6"/><line x1="905.7" y1="293.8" x2="906.9" y2="291.6" stroke-width="5.0"/><line x1="906.9" y1="291.6" x2="908.0" y2="289.5" stroke-width="5.3"/><line x1="908.0" y1="289.5" x2="909.2" y2="287.4" stroke-width="5.6"/><line x1="909.2" y1="287.4" x2="910.3" y2="285.3" stroke-width="5.8"/><line x1="910.3" y1="285.3" x2="911.5" y2="283.1" stroke-width="6.1"/><line x1="911.5" y1="283.1" x2="912.6" y2="281.0" stroke-width="6.4"/><line x1="912.6" y1="281.0" x2="913.8" y2="278.9" stroke-width="6.7"/><line x1="913.8" y1="278.9" x2="915.1" y2="276.9" stroke-width="7.1"/><line x1="915.1" y1="276.9" x2="916.3" y2="274.8" stroke-width="7.5"/><line x1="916.3" y1="274.8" x2="917.7" y2="272.7" stroke-width="8.1"/><line x1="917.7" y1="272.7" x2="919.0" y2="270.7" stroke-width="8.7"/><line x1="919.0" y1="270.7" x2="920.4" y2="268.7" stroke-width="9.3"/><line x1="920.4" y1="268.7" x2="921.9" y2="266.7" stroke-width="9.8"/><line x1="921.9" y1="266.7" x2="923.5" y2="264.8" stroke-width="10.4"/><line x1="923.5" y1="264.8" x2="925.2" y2="262.9" stroke-width="10.9"/><line x1="925.2" y1="262.9" x2="926.9" y2="260.9" stroke-width="11.4"/><line x1="926.9" y1="260.9" x2="928.7" y2="259.0" stroke-width="11.8"/><line x1="928.7" y1="259.0" x2="930.6" y2="257.1" stroke-width="12.2"/><line x1="930.6" y1="257.1" x2="932.6" y2="255.3" stroke-width="12.5"/><line x1="932.6" y1="255.3" x2="934.6" y2="253.4" stroke-width="12.7"/><line x1="934.6" y1="253.4" x2="936.6" y2="251.6" stroke-width="12.9"/><line x1="936.6" y1="251.6" x2="938.6" y2="249.8" stroke-width="13.0"/><line x1="938.6" y1="249.8" x2="940.6" y2="248.1" stroke-width="13.0"/><line x1="940.6" y1="248.1" x2="942.7" y2="246.4" stroke-width="13.0"/><line x1="942.7" y1="246.4" x2="944.6" y2="244.8" stroke-width="13.0"/><line x1="944.6" y1="244.8" x2="946.6" y2="243.2" stroke-width="13.0"/><line x1="946.6" y1="243.2" x2="948.5" y2="241.7" stroke-width="13.0"/><line x1="948.5" y1="241.7" x2="950.4" y2="240.3" stroke-width="13.0"/><line x1="950.4" y1="240.3" x2="952.2" y2="238.9" stroke-width="13.0"/><line x1="952.2" y1="238.9" x2="954.1" y2="237.5" stroke-width="13.0"/><line x1="954.1" y1="237.5" x2="955.9" y2="236.3" stroke-width="13.0"/><line x1="955.9" y1="236.3" x2="957.8" y2="235.0" stroke-width="13.0"/><line x1="957.8" y1="235.0" x2="959.6" y2="233.8" stroke-width="13.0"/><line x1="959.6" y1="233.8" x2="961.5" y2="232.6" stroke-width="13.0"/><line x1="961.5" y1="232.6" x2="963.5" y2="231.4" stroke-width="13.0"/><line x1="963.5" y1="231.4" x2="965.5" y2="230.2" stroke-width="13.0"/><line x1="965.5" y1="230.2" x2="967.6" y2="229.0" stroke-width="13.0"/><line x1="967.6" y1="229.0" x2="969.8" y2="227.8" stroke-width="13.0"/><line x1="969.8" y1="227.8" x2="972.2" y2="226.6" stroke-width="13.0"/><line x1="972.2" y1="226.6" x2="974.8" y2="225.2" stroke-width="13.0"/><line x1="974.8" y1="225.2" x2="977.6" y2="223.9" stroke-width="13.0"/><line x1="977.6" y1="223.9" x2="980.5" y2="222.6" stroke-width="13.0"/><line x1="980.5" y1="222.6" x2="983.4" y2="221.2" stroke-width="13.0"/><line x1="983.4" y1="221.2" x2="986.3" y2="219.9" stroke-width="13.0"/><line x1="986.3" y1="219.9" x2="989.2" y2="218.7" stroke-width="13.0"/><line x1="989.2" y1="218.7" x2="991.9" y2="217.5" stroke-width="13.0"/><line x1="991.9" y1="217.5" x2="994.4" y2="216.4" stroke-width="13.0"/><line x1="994.4" y1="216.4" x2="996.6" y2="215.5" stroke-width="13.0"/><line x1="996.6" y1="215.5" x2="998.5" y2="214.7" stroke-width="13.0"/><line x1="998.5" y1="214.7" x2="1000.0" y2="214.0" stroke-width="13.0"/></g>
<path d="M209.5,834.7a6.50,6.50 0 1,0 13.00,0a6.50,6.50 0 1,0 -13.00,0zM217.5,832.6a6.50,6.50 0 1,0 13.00,0a6.50,6.50 0 1,0 -13.00,0zM225.5,830.5a6.50,6.50 0 1,0 13.00,0a6.50,6.50 0 1,0 -13.00,0zM233.5,828.4a6.50,6.50 0 1,0 13.00,0a6.50,6.50 0 1,0 -13.00,0zM241.5,826.2a6.50,6.50 0 1,0 13.00,0a6.50,6.50 0 1,0 -13.00,0zM249.5,824.1a6.50,6.50 0 1,0 13.00,0a6.50,6.50 0 1,0 -13.00,0zM257.5,822.0a6.50,6.50 0 1,0 13.00,0a6.50,6.50 0 1,0 -13.00,0zM265.5,819.9a6.50,6.50 0 1,0 13.00,0a6.50,6.50 0 1,0 -13.00,0zM273.5,817.7a6.50,6.50 0 1,0 13.00,0a6.50,6.50 0 1,0 -13.00,0zM281.5,815.6a6.50,6.50 0 1,0 13.00,0a6.50,6.50 0 1,0 -13.00,0zM289.5,813.5a6.50,6.50 0 1,0 13.00,0a6.50,6.50 0 1,0 -13.00,0zM297.5,811.4a6.50,6.50 0 1,0 13.00,0a6.50,6.50 0 1,0 -13.00,0zM305.5,809.2a6.50,6.50 0 1,0 13.00,0a6.50,6.50 0 1,0 -13.00,0zM313.5,807.1a6.50,6.50 0 1,0 13.00,0a6.50,6.50 0 1,0 -13.00,0zM321.5,804.9a6.50,6.50 0 1,0 13.00,0a6.50,6.50 0 1,0 -13.00,0zM329.5,802.7a6.50,6.50 0 1,0 13.00,0a6.50,6.50 0 1,0 -13.00,0zM337.5,800.6a6.50,6.50 0 1,0 13.00,0a6.50,6.50 0 1,0 -13.00,0zM345.5,798.5a6.50,6.50 0 1,0 13.00,0a6.50,6.50 0 1,0 -13.00,0zM345.5,798.5a6.50,6.50 0 1,0 13.00,0a6.50,6.50 0 1,0 -13.00,0zM353.5,796.4a6.50,6.50 0 1,0 13.00,0a6.50,6.50 0 1,0 -13.00,0zM361.5,794.4a6.50,6.50 0 1,0 13.00,0a6.50,6.50 0 1,0 -13.00,0zM369.5,792.5a6.50,6.50 0 1,0 13.00,0a6.50,6.50 0 1,0 -13.00,0zM377.5,790.6a6.50,6.50 0 1,0 13.00,0a6.50,6.50 0 1,0 -13.00,0zM385.5,788.8a6.50,6.50 0 1,0 13.00,0a6.50,6.50 0 1,0 -13.00,0zM393.5,787.1a6.50,6.50 0 1,0 13.00,0a6.50,6.50 0 1,0 -13.00,0zM401.5,785.4a6.50,6.50 0 1,0 13.00,0a6.50,6.50 0 1,0 -13.00,0zM409.5,783.7a6.50,6.50 0 1,0 13.00,0a6.50,6.50 0 1,0 -13.00,0zM417.5,782.1a6.50,6.50 0 1,0 13.00,0a6.50,6.50 0 1,0 -13.00,0zM425.5,780.4a6.50,6.50 0 1,0 13.00,0a6.50,6.50 0 1,0 -13.00,0zM433.5,778.5a6.50,6.50 0 1,0 13.00,0a6.50,6.50 0 1,0 -13.00,0zM433.5,778.5a6.50,6.50 0 1,0 13.00,0a6.50,6.50 0 1,0 -13.00,0zM441.5,776.4a6.50,6.50 0 1,0 13.00,0a6.50,6.50 0 1,0 -13.00,0zM449.5,774.1a6.50,6.50 0 1,0 13.00,0a6.50,6.50 0 1,0 -13.00,0zM457.5,771.7a6.50,6.50 0 1,0 13.00,0a6.50,6.50 0 1,0 -13.00,0zM465.5,769.2a6.50,6.50 0 1,0 13.00,0a6.50,6.50 0 1,0 -13.00,0zM473.5,766.7a6.50,6.50 0 1,0 13.00,0a6.50,6.50 0 1,0 -13.00,0zM481.5,764.1a6.50,6.50 0 1,0 13.00,0a6.50,6.50 0 1,0 -13.00,0zM489.5,761.3a6.50,6.50 0 1,0 13.00,0a6.50,6.50 0 1,0 -13.00,0zM497.5,758.5a6.50,6.50 0 1,0 13.00,0a6.50,6.50 0 1,0 -13.00,0zM505.5,755.5a6.50,6.50 0 1,0 13.00,0a6.50,6.50 0 1,0 -13.00,0zM513.5,752.6a6.50,6.50 0 1,0 13.00,0a6.50,6.50 0 1,0 -13.00,0zM521.5,749.9a6.50,6.50 0 1,0 13.00,0a6.50,6.50 0 1,0 -13.00,0zM529.5,747.6a6.50,6.50 0 1,0 13.00,0a6.50,6.50 0 1,0 -13.00,0zM537.5,745.4a6.50,6.50 0 1,0 13.00,0a6.50,6.50 0 1,0 -13.00,0zM545.5,743.2a6.50,6.50 0 1,0 13.00,0a6.50,6.50 0 1,0 -13.00,0zM553.5,740.4a6.50,6.50 0 1,0 13.00,0a6.50,6.50 0 1,0 -13.00,0zM561.5,737.4a6.50,6.50 0 1,0 13.00,0a6.50,6.50 0 1,0 -13.00,0zM569.5,734.4a6.50,6.50 0 1,0 13.00,0a6.50,6.50 0 1,0 -13.00,0zM577.5,731.5a6.50,6.50 0 1,0 13.00,0a6.50,6.50 0 1,0 -13.00,0zM585.5,728.6a6.50,6.50 0 1,0 13.00,0a6.50,6.50 0 1,0 -13.00,0zM593.5,725.6a6.50,6.50 0 1,0 13.00,0a6.50,6.50 0 1,0 -13.00,0zM601.5,722.6a6.50,6.50 0 1,0 13.00,0a6.50,6.50 0 1,0 -13.00,0zM609.5,719.4a6.50,6.50 0 1,0 13.00,0a6.50,6.50 0 1,0 -13.00,0zM617.5,716.1a6.50,6.50 0 1,0 13.00,0a6.50,6.50 0 1,0 -13.00,0zM625.5,712.8a6.50,6.50 0 1,0 13.00,0a6.50,6.50 0 1,0 -13.00,0zM633.5,709.4a6.50,6.50 0 1,0 13.00,0a6.50,6.50 0 1,0 -13.00,0zM641.5,705.9a6.50,6.50 0 1,0 13.00,0a6.50,6.50 0 1,0 -13.00,0zM649.5,702.8a6.50,6.50 0 1,0 13.00,0a6.50,6.50 0 1,0 -13.00,0zM657.5,699.2a6.50,6.50 0 1,0 13.00,0a6.50,6.50 0 1,0 -13.00,0zM666.2,689.7a5.76,5.76 0 1,0 11.53,0a5.76,5.76 0 1,0 -11.53,0zM674.1,675.6a5.88,5.88 0 1,0 11.75,0a5.88,5.88 0 1,0 -11.75,0zM681.7,663.3a6.25,6.25 0 1,0 12.51,0a6.25,6.25 0 1,0 -12.51,0zM689.5,654.7a6.45,6.45 0 1,0 12.90,0a6.45,6.45 0 1,0 -12.90,0zM697.5,647.4a6.50,6.50 0 1,0 13.00,0a6.50,6.50 0 1,0 -13.00,0zM705.5,640.6a6.50,6.50 0 1,0 13.00,0a6.50,6.50 0 1,0 -13.00,0zM713.5,634.3a6.50,6.50 0 1,0 13.00,0a6.50,6.50 0 1,0 -13.00,0zM713.5,634.3a6.50,6.50 0 1,0 13.00,0a6.50,6.50 0 1,0 -13.00,0zM721.5,629.0a6.50,6.50 0 1,0 13.00,0a6.50,6.50 0 1,0 -13.00,0zM729.5,624.4a6.50,6.50 0 1,0 13.00,0a6.50,6.50 0 1,0 -13.00,0zM737.5,619.5a6.50,6.50 0 1,0 13.00,0a6.50,6.50 0 1,0 -13.00,0zM745.5,613.7a6.50,6.50 0 1,0 13.00,0a6.50,6.50 0 1,0 -13.00,0zM753.5,607.3a6.50,6.50 0 1,0 13.00,0a6.50,6.50 0 1,0 -13.00,0zM761.5,600.5a6.50,6.50 0 1,0 13.00,0a6.50,6.50 0 1,0 -13.00,0zM769.6,593.0a6.44,6.44 0 1,0 12.88,0a6.44,6.44 0 1,0 -12.88,0zM777.6,584.9a6.36,6.36 0 1,0 12.72,0a6.36,6.36 0 1,0 -12.72,0zM785.7,576.0a6.32,6.32 0 1,0 12.64,0a6.32,6.32 0 1,0 -12.64,0zM793.7,566.6a6.28,6.28 0 1,0 12.57,0a6.28,6.28 0 1,0 -12.57,0zM801.7,557.1a6.26,6.26 0 1,0 12.53,0a6.26,6.26 0 1,0 -12.53,0zM809.7,547.3a6.26,6.26 0 1,0 12.51,0a6.26,6.26 0 1,0 -12.51,0zM817.7,537.6a6.28,6.28 0 1,0 12.56,0a6.28,6.28 0 1,0 -12.56,0zM825.8,528.5a6.25,6.25 0 1,0 12.49,0a6.25,6.25 0 1,0 -12.49,0zM834.5,514.8a5.50,5.50 0 1,0 11.00,0a5.50,5.50 0 1,0 -11.00,0zM842.5,493.7a5.50,5.50 0 1,0 11.00,0a5.50,5.50 0 1,0 -11.00,0zM850.5,466.6a5.50,5.50 0 1,0 11.00,0a5.50,5.50 0 1,0 -11.00,0zM858.5,434.6a5.50,5.50 0 1,0 11.00,0a5.50,5.50 0 1,0 -11.00,0zM866.5,402.8a5.50,5.50 0 1,0 11.00,0a5.50,5.50 0 1,0 -11.00,0zM874.5,362.4a5.50,5.50 0 1,0 11.00,0a5.50,5.50 0 1,0 -11.00,0zM882.5,334.7a5.50,5.50 0 1,0 11.00,0a5.50,5.50 0 1,0 -11.00,0zM890.5,315.0a5.50,5.50 0 1,0 11.00,0a5.50,5.50 0 1,0 -11.00,0zM898.4,297.3a5.63,5.63 0 1,0 11.25,0a5.63,5.63 0 1,0 -11.25,0zM906.2,282.2a5.82,5.82 0 1,0 11.64,0a5.82,5.82 0 1,0 -11.64,0zM913.9,269.3a6.14,6.14 0 1,0 12.29,0a6.14,6.14 0 1,0 -12.29,0zM921.6,259.8a6.39,6.39 0 1,0 12.78,0a6.39,6.39 0 1,0 -12.78,0zM929.5,252.1a6.50,6.50 0 1,0 13.00,0a6.50,6.50 0 1,0 -13.00,0zM937.5,245.3a6.50,6.50 0 1,0 13.00,0a6.50,6.50 0 1,0 -13.00,0zM945.5,239.0a6.50,6.50 0 1,0 13.00,0a6.50,6.50 0 1,0 -13.00,0zM953.5,233.6a6.50,6.50 0 1,0 13.00,0a6.50,6.50 0 1,0 -13.00,0zM961.5,228.8a6.50,6.50 0 1,0 13.00,0a6.50,6.50 0 1,0 -13.00,0zM969.5,224.7a6.50,6.50 0 1,0 13.00,0a6.50,6.50 0 1,0 -13.00,0zM977.5,221.0a6.50,6.50 0 1,0 13.00,0a6.50,6.50 0 1,0 -13.00,0zM985.5,217.5a6.50,6.50 0 1,0 13.00,0a6.50,6.50 0 1,0 -13.00,0zM993.5,214.0a6.50,6.50 0 1,0 13.00,0a6.50,6.50 0 1,0 -13.00,0z" fill="#00ff00" stroke="none"/>
<path d="M672.0,510.0 L672.4,508.7 L672.9,507.1 L673.4,505.2 L674.1,503.1 L674.7,500.8 L675.5,498.4 L676.2,495.8 L677.0,493.2 L677.8,490.5 L678.5,487.9 L679.3,485.3 L680.0,482.8 L680.7,480.3 L681.4,477.8 L682.1,475.2 L682.8,472.6 L683.4,470.0 L684.2,467.4 L684.9,464.7 L685.6,462.0 L686.3,459.3 L687.1,456.7 L687.8,454.0 L688.6,451.4 L689.4,448.8 L690.2,446.3 L691.0,443.8 L691.8,441.3 L692.7,438.8 L693.5,436.2 L694.4,433.7 L695.3,431.1 L696.2,428.5 L697.1,425.7 L698.0,422.9 L699.0,420.0 L700.0,417.0 L701.0,413.8 L702.0,410.6 L703.1,407.3 L704.2,403.9 L705.3,400.5 L706.4,397.1 L707.5,393.7 L708.6,390.2 L709.8,386.8 L710.9,383.4 L712.0,380.0 L713.1,376.6 L714.3,373.2 L715.5,369.6 L716.7,366.1 L717.9,362.6 L719.1,359.1 L720.2,355.6 L721.4,352.2 L722.6,348.9 L723.7,345.8 L724.8,342.8 L725.8,340.0 L726.8,337.4 L727.7,334.9 L728.6,332.7 L729.5,330.5 L730.3,328.4 L731.2,326.5 L732.0,324.6 L732.8,322.7 L733.7,320.8 L734.5,318.9 L735.4,317.0 L736.3,315.0 L737.2,313.0 L738.2,310.9 L739.1,308.8 L740.1,306.7 L741.1,304.7 L742.1,302.6 L743.1,300.6 L744.0,298.7 L745.0,296.8 L746.0,294.9 L747.0,293.2 L748.0,291.5 L749.0,290.0 L749.9,288.5 L750.8,287.2 L751.7,286.0 L752.6,284.8 L753.5,283.7 L754.5,282.6 L755.4,281.4 L756.4,280.2 L757.5,279.0 L758.6,277.7 L759.8,276.3 L761.1,274.8 L762.4,273.2 L763.8,271.5 L765.2,269.8 L766.7,268.1 L768.2,266.3 L769.8,264.5 L771.3,262.8 L772.9,261.1 L774.4,259.4 L775.9,257.8 L777.4,256.3 L778.9,254.8 L780.3,253.4 L781.8,252.1 L783.3,250.7 L784.7,249.4 L786.2,248.1 L787.7,246.9 L789.1,245.7 L790.6,244.5 L792.1,243.3 L793.5,242.1 L795.0,241.0 L796.5,239.9 L797.9,238.8 L799.4,237.7 L800.9,236.7 L802.3,235.6 L803.8,234.7 L805.3,233.7 L806.7,232.7 L808.2,231.8 L809.7,231.0 L811.1,230.1 L812.6,229.3 L814.0,228.5 L815.5,227.8 L816.9,227.1 L818.3,226.5 L819.7,225.9 L821.2,225.3 L822.6,224.7 L824.0,224.2 L825.5,223.6 L827.0,223.1 L828.5,222.5 L830.0,222.0 L831.6,221.4 L833.4,220.9 L835.3,220.3 L837.2,219.7 L839.2,219.1 L841.1,218.5 L843.0,218.0 L844.7,217.5 L846.3,217.0 L847.8,216.6 L849.0,216.3 L850.0,216.0" fill="none" stroke="#ff0000" stroke-width="2.5" stroke-linejoin="round" stroke-linecap="round" />
<path d="M672.0,516.5L678.2,505.4L665.8,505.4zM678.0,496.2L684.2,485.2L671.8,485.2zM684.0,474.4L690.2,463.4L677.8,463.4zM690.0,453.4L696.2,442.3L683.8,442.3zM696.0,435.5L702.2,424.4L689.8,424.4zM702.0,417.3L708.2,406.2L695.8,406.2zM708.0,398.6L714.2,387.6L701.8,387.6zM714.0,380.5L720.2,369.5L707.8,369.5zM720.0,362.8L726.2,351.8L713.8,351.8zM726.0,346.0L732.2,334.9L719.8,334.9zM732.0,331.1L738.2,320.0L725.8,320.0zM738.0,317.8L744.2,306.7L731.8,306.7zM744.0,305.3L750.2,294.2L737.8,294.2zM750.0,294.9L756.2,283.8L743.8,283.8zM756.0,287.3L762.2,276.2L749.8,276.2zM762.0,280.2L768.2,269.1L755.8,269.1zM768.0,273.1L774.2,262.0L761.8,262.0zM774.0,266.3L780.2,255.3L767.8,255.3zM780.0,260.3L786.2,249.2L773.8,249.2zM786.0,254.8L792.2,243.8L779.8,243.8zM792.0,249.8L798.2,238.8L785.8,238.8zM798.0,245.2L804.2,234.2L791.8,234.2zM804.0,241.0L810.2,230.0L797.8,230.0zM810.0,237.3L816.2,226.2L803.8,226.2zM816.0,234.1L822.2,223.0L809.8,223.0zM822.0,231.5L828.2,220.4L815.8,220.4zM828.0,229.2L834.2,218.2L821.8,218.2zM834.0,227.2L840.2,216.1L827.8,216.1zM840.0,225.4L846.2,214.3L833.8,214.3zM846.0,223.6L852.2,212.6L839.8,212.6z" fill="#ff0000" stroke="none"/>
<path d="M1127.0,137.0 L1125.8,137.3 L1124.3,137.6 L1122.7,137.9 L1120.9,138.3 L1118.9,138.8 L1116.7,139.2 L1114.3,139.8 L1111.7,140.3 L1109.0,140.9 L1106.2,141.6 L1103.2,142.3 L1100.0,143.0 L1096.6,143.8 L1092.9,144.6 L1089.0,145.6 L1084.9,146.5 L1080.6,147.5 L1076.2,148.6 L1071.7,149.6 L1067.1,150.7 L1062.6,151.8 L1058.1,152.9 L1053.7,153.9 L1049.5,155.0 L1045.3,156.1 L1041.0,157.1 L1036.7,158.2 L1032.4,159.4 L1028.0,160.5 L1023.7,161.6 L1019.5,162.7 L1015.3,163.9 L1011.3,164.9 L1007.3,166.0 L1003.6,167.0 L1000.0,168.0 L996.6,168.9 L993.5,169.8 L990.6,170.6 L987.8,171.4 L985.1,172.2 L982.5,173.0 L979.9,173.8 L977.3,174.6 L974.6,175.4 L971.9,176.2 L969.0,177.1 L966.0,178.0 L962.8,179.0 L959.6,180.0 L956.3,181.0 L952.9,182.1 L949.5,183.1 L946.0,184.2 L942.5,185.3 L939.0,186.4 L935.5,187.6 L932.0,188.7 L928.5,189.9 L925.0,191.0 L921.5,192.2 L918.0,193.4 L914.5,194.6 L911.0,195.8 L907.5,197.1 L903.9,198.3 L900.4,199.6 L896.9,200.8 L893.4,202.1 L889.9,203.3 L886.4,204.5 L883.0,205.6 L879.6,206.7 L876.3,207.8 L872.9,208.8 L869.6,209.9 L866.3,210.9 L863.1,211.9 L859.8,212.9 L856.5,213.9 L853.2,214.9 L849.8,215.9 L846.4,217.0 L843.0,218.0 L839.4,219.1 L835.7,220.2 L831.8,221.4 L827.8,222.6 L823.8,223.8 L819.8,225.0 L815.9,226.1 L812.2,227.2 L808.7,228.3 L805.5,229.3 L802.5,230.2 L800.0,231.0 L798.0,231.7 L796.4,232.2 L795.3,232.6 L794.5,232.9 L794.0,233.1 L793.5,233.3 L793.0,233.5 L792.4,233.8 L791.6,234.2 L790.5,234.6 L789.0,235.2 L787.0,236.0 L784.4,236.9 L781.5,238.0 L778.1,239.2 L774.5,240.5 L770.7,241.8 L766.7,243.2 L762.7,244.7 L758.7,246.2 L754.8,247.7 L751.1,249.1 L747.6,250.6 L744.5,252.0 L741.6,253.4 L738.8,254.7 L736.2,256.1 L733.6,257.5 L731.2,258.9 L728.8,260.2 L726.6,261.7 L724.4,263.1 L722.2,264.5 L720.1,266.0 L718.0,267.5 L716.0,269.0 L714.0,270.6 L712.1,272.2 L710.2,273.8 L708.4,275.4 L706.6,277.1 L704.9,278.8 L703.3,280.5 L701.7,282.2 L700.2,283.9 L698.7,285.6 L697.3,287.3 L696.0,289.0 L694.8,290.7 L693.6,292.3 L692.6,293.9 L691.6,295.6 L690.7,297.2 L689.8,298.8 L689.0,300.5 L688.2,302.1 L687.4,303.8 L686.6,305.5 L685.8,307.2 L685.0,309.0 L684.2,310.8 L683.3,312.6 L682.5,314.5 L681.7,316.3 L680.9,318.2 L680.1,320.1 L679.3,322.1 L678.6,324.0 L677.9,325.9 L677.2,327.8 L676.6,329.7 L676.0,331.6 L675.5,333.4 L675.1,335.2 L674.7,337.0 L674.4,338.7 L674.1,340.5 L673.8,342.2 L673.5,344.0 L673.3,345.9 L673.0,347.8 L672.7,349.7 L672.4,351.8 L672.0,354.0 L671.6,356.3 L671.2,358.7 L670.8,361.2 L670.3,363.7 L669.9,366.3 L669.4,369.0 L668.9,371.7 L668.5,374.4 L668.0,377.2 L667.5,380.0 L666.9,382.7 L666.4,385.5 L665.8,388.3 L665.2,391.1 L664.6,393.9 L663.9,396.8 L663.3,399.7 L662.6,402.6 L661.9,405.5 L661.3,408.5 L660.7,411.4 L660.1,414.3 L659.5,417.2 L659.0,420.0 L658.6,422.8 L658.2,425.6 L657.9,428.4 L657.6,431.2 L657.3,434.0 L657.1,436.8 L656.8,439.6 L656.5,442.4 L656.2,445.1 L655.9,447.9 L655.5,450.7 L655.0,453.5 L654.4,456.3 L653.8,459.2 L653.1,462.1 L652.4,465.1 L651.6,468.0 L650.9,470.9 L650.1,473.8 L649.3,476.6 L648.6,479.4 L647.9,482.0 L647.3,484.6 L646.7,487.0 L646.2,489.3 L645.8,491.4 L645.4,493.4 L645.0,495.3 L644.7,497.1 L644.3,498.9 L644.0,500.6 L643.7,502.4 L643.5,504.2 L643.2,506.0 L642.8,508.0 L642.5,510.0 L642.2,512.1 L641.8,514.3 L641.5,516.5 L641.2,518.7 L640.9,521.0 L640.5,523.2 L640.2,525.6 L639.9,527.9 L639.5,530.2 L639.1,532.6 L638.7,534.9 L638.3,537.3 L637.8,539.7 L637.4,542.2 L636.9,544.7 L636.4,547.3 L635.8,549.8 L635.3,552.4 L634.7,554.9 L634.2,557.5 L633.6,559.9 L633.1,562.3 L632.5,564.5 L632.0,566.7 L631.5,568.7 L631.0,570.5 L630.5,572.3 L630.0,573.9 L629.5,575.4 L629.0,577.0 L628.4,578.5 L627.9,580.1 L627.4,581.8 L626.8,583.5 L626.3,585.5 L625.7,587.6 L625.1,590.0 L624.4,592.5 L623.8,595.3 L623.1,598.2 L622.4,601.2 L621.7,604.2 L621.0,607.2 L620.3,610.1 L619.6,612.9 L618.9,615.5 L618.3,617.9 L617.7,620.0 L617.1,621.8 L616.6,623.4 L616.1,624.8 L615.7,626.0 L615.2,627.1 L614.8,628.1 L614.4,629.1 L613.9,630.0 L613.5,630.9 L613.0,632.0 L612.5,633.1 L612.0,634.3 L611.5,635.6 L610.9,637.0 L610.3,638.5 L609.7,639.9 L609.1,641.4 L608.5,642.9 L607.9,644.4 L607.3,645.9 L606.6,647.3 L606.0,648.8 L605.4,650.2 L604.8,651.5 L604.2,652.8 L603.6,654.1 L603.0,655.3 L602.3,656.5 L601.7,657.7 L601.1,658.9 L600.5,660.0 L599.9,661.2 L599.3,662.4 L598.7,663.5 L598.1,664.7 L597.6,665.9 L597.1,667.1 L596.6,668.3 L596.1,669.5 L595.6,670.7 L595.2,671.9 L594.8,673.1 L594.3,674.2 L593.9,675.4 L593.4,676.6 L592.9,677.8 L592.4,679.0 L591.9,680.2 L591.4,681.4 L590.8,682.6 L590.2,683.8 L589.6,685.1 L589.0,686.3 L588.4,687.5 L587.8,688.7 L587.1,689.9 L586.5,691.1 L585.9,692.3 L585.3,693.4 L584.7,694.5 L584.1,695.5 L583.5,696.5 L583.0,697.4 L582.4,698.3 L581.8,699.2 L581.2,700.1 L580.7,700.9 L580.1,701.8 L579.5,702.8 L578.9,703.8 L578.2,704.9 L577.6,706.0 L577.0,707.2 L576.3,708.5 L575.7,709.9 L575.1,711.3 L574.4,712.7 L573.8,714.2 L573.1,715.6 L572.4,717.2 L571.6,718.7 L570.8,720.2 L569.9,721.7 L569.0,723.2 L568.0,724.7 L566.9,726.3 L565.8,727.8 L564.6,729.4 L563.4,731.0 L562.2,732.6 L560.9,734.2 L559.6,735.8 L558.3,737.3 L557.1,738.8 L555.8,740.3 L554.6,741.8 L553.4,743.2 L552.2,744.6 L551.0,746.0 L549.8,747.3 L548.6,748.7 L547.4,750.0 L546.3,751.3 L545.1,752.5 L543.9,753.8 L542.7,755.1 L541.5,756.3 L540.3,757.6 L539.1,758.8 L538.0,760.0 L536.9,761.2 L535.8,762.4 L534.7,763.5 L533.6,764.7 L532.5,765.8 L531.3,767.0 L530.1,768.2 L528.8,769.4 L527.4,770.6 L526.0,771.9 L524.5,773.2 L522.8,774.6 L521.1,776.0 L519.4,777.5 L517.6,779.0 L515.7,780.4 L513.8,781.9 L511.9,783.4 L510.0,784.8 L508.2,786.3 L506.3,787.7 L504.5,789.0 L502.7,790.3 L500.9,791.6 L499.1,792.9 L497.3,794.1 L495.5,795.3 L493.8,796.5 L492.0,797.7 L490.2,798.9 L488.4,800.1 L486.6,801.2 L484.8,802.3 L483.0,803.4 L481.2,804.5 L479.4,805.6 L477.6,806.6 L475.8,807.7 L474.0,808.7 L472.2,809.7 L470.5,810.7 L468.7,811.7 L466.9,812.6 L465.1,813.4 L463.3,814.2 L461.5,815.0 L459.8,815.7 L458.4,816.2 L457.0,816.6 L455.7,816.9 L454.4,817.2 L453.1,817.5 L451.6,817.9 L449.9,818.2 L448.0,818.7 L445.8,819.3 L443.1,820.1 L440.0,821.0 L436.5,822.1 L432.6,823.4 L428.5,824.8 L424.1,826.3 L419.4,827.9 L414.5,829.6 L409.4,831.3 L404.0,833.0 L398.5,834.8 L392.8,836.6 L387.0,838.3 L381.0,840.0 L374.8,841.7 L368.2,843.4 L361.4,845.2 L354.3,846.9 L347.0,848.7 L339.6,850.5 L332.2,852.3 L324.7,854.1 L317.2,855.8 L309.9,857.6 L302.6,859.3 L295.6,861.0 L288.5,862.7 L281.0,864.5 L273.2,866.3 L265.4,868.2 L257.6,870.0 L250.0,871.8 L242.6,873.5 L235.7,875.1 L229.4,876.6 L223.7,878.0 L218.9,879.1 L215.0,880.0" fill="none" stroke="#ff0000" stroke-width="2.5" stroke-linejoin="round" stroke-linecap="round" />
<g stroke="#ff0000" stroke-linecap="round"><line x1="1127.0" y1="137.0" x2="1125.8" y2="137.3" stroke-width="15.0"/><line x1="1125.8" y1="137.3" x2="1124.3" y2="137.6" stroke-width="15.0"/><line x1="1124.3" y1="137.6" x2="1122.7" y2="137.9" stroke-width="15.0"/><line x1="1122.7" y1="137.9" x2="1120.9" y2="138.3" stroke-width="15.0"/><line x1="1120.9" y1="138.3" x2="1118.9" y2="138.8" stroke-width="15.0"/><line x1="1118.9" y1="138.8" x2="1116.7" y2="139.2" stroke-width="15.0"/><line x1="1116.7" y1="139.2" x2="1114.3" y2="139.8" stroke-width="15.0"/><line x1="1114.3" y1="139.8" x2="1111.7" y2="140.3" stroke-width="15.0"/><line x1="1111.7" y1="140.3" x2="1109.0" y2="140.9" stroke-width="15.0"/><line x1="1109.0" y1="140.9" x2="1106.2" y2="141.6" stroke-width="15.0"/><line x1="1106.2" y1="141.6" x2="1103.2" y2="142.3" stroke-width="15.0"/><line x1="1103.2" y1="142.3" x2="1100.0" y2="143.0" stroke-width="15.0"/><line x1="1100.0" y1="143.0" x2="1096.6" y2="143.8" stroke-width="15.0"/><line x1="1096.6" y1="143.8" x2="1092.9" y2="144.6" stroke-width="15.0"/><line x1="1092.9" y1="144.6" x2="1089.0" y2="145.6" stroke-width="15.0"/><line x1="1089.0" y1="145.6" x2="1084.9" y2="146.5" stroke-width="15.0"/><line x1="1084.9" y1="146.5" x2="1080.6" y2="147.5" stroke-width="15.0"/><line x1="1080.6" y1="147.5" x2="1076.2" y2="148.6" stroke-width="15.0"/><line x1="1076.2" y1="148.6" x2="1071.7" y2="149.6" stroke-width="15.0"/><line x1="1071.7" y1="149.6" x2="1067.1" y2="150.7" stroke-width="15.0"/><line x1="1067.1" y1="150.7" x2="1062.6" y2="151.8" stroke-width="15.0"/><line x1="1062.6" y1="151.8" x2="1058.1" y2="152.9" stroke-width="15.0"/><line x1="1058.1" y1="152.9" x2="1053.7" y2="153.9" stroke-width="15.0"/><line x1="1053.7" y1="153.9" x2="1049.5" y2="155.0" stroke-width="15.0"/><line x1="1049.5" y1="155.0" x2="1045.3" y2="156.1" stroke-width="15.0"/><line x1="1045.3" y1="156.1" x2="1041.0" y2="157.1" stroke-width="15.0"/><line x1="1041.0" y1="157.1" x2="1036.7" y2="158.2" stroke-width="15.0"/><line x1="1036.7" y1="158.2" x2="1032.4" y2="159.4" stroke-width="15.0"/><line x1="1032.4" y1="159.4" x2="1028.0" y2="160.5" stroke-width="15.0"/><line x1="1028.0" y1="160.5" x2="1023.7" y2="161.6" stroke-width="15.0"/><line x1="1023.7" y1="161.6" x2="1019.5" y2="162.7" stroke-width="15.0"/><line x1="1019.5" y1="162.7" x2="1015.3" y2="163.9" stroke-width="15.0"/><line x1="1015.3" y1="163.9" x2="1011.3" y2="164.9" stroke-width="15.0"/><line x1="1011.3" y1="164.9" x2="1007.3" y2="166.0" stroke-width="15.0"/><line x1="1007.3" y1="166.0" x2="1003.6" y2="167.0" stroke-width="15.0"/><line x1="1003.6" y1="167.0" x2="1000.0" y2="168.0" stroke-width="15.0"/><line x1="1000.0" y1="168.0" x2="996.6" y2="168.9" stroke-width="15.0"/><line x1="996.6" y1="168.9" x2="993.5" y2="169.8" stroke-width="15.0"/><line x1="993.5" y1="169.8" x2="990.6" y2="170.6" stroke-width="15.0"/><line x1="990.6" y1="170.6" x2="987.8" y2="171.4" stroke-width="15.0"/><line x1="987.8" y1="171.4" x2="985.1" y2="172.2" stroke-width="15.0"/><line x1="985.1" y1="172.2" x2="982.5" y2="173.0" stroke-width="15.0"/><line x1="982.5" y1="173.0" x2="979.9" y2="173.8" stroke-width="15.0"/><line x1="979.9" y1="173.8" x2="977.3" y2="174.6" stroke-width="15.0"/><line x1="977.3" y1="174.6" x2="974.6" y2="175.4" stroke-width="15.0"/><line x1="974.6" y1="175.4" x2="971.9" y2="176.2" stroke-width="15.0"/><line x1="971.9" y1="176.2" x2="969.0" y2="177.1" stroke-width="15.0"/><line x1="969.0" y1="177.1" x2="966.0" y2="178.0" stroke-width="15.0"/><line x1="966.0" y1="178.0" x2="962.8" y2="179.0" stroke-width="15.0"/><line x1="962.8" y1="179.0" x2="959.6" y2="180.0" stroke-width="15.0"/><line x1="959.6" y1="180.0" x2="956.3" y2="181.0" stroke-width="15.0"/><line x1="956.3" y1="181.0" x2="952.9" y2="182.1" stroke-width="15.0"/><line x1="952.9" y1="182.1" x2="949.5" y2="183.1" stroke-width="15.0"/><line x1="949.5" y1="183.1" x2="946.0" y2="184.2" stroke-width="15.0"/><line x1="946.0" y1="184.2" x2="942.5" y2="185.3" stroke-width="15.0"/><line x1="942.5" y1="185.3" x2="939.0" y2="186.4" stroke-width="15.0"/><line x1="939.0" y1="186.4" x2="935.5" y2="187.6" stroke-width="15.0"/><line x1="935.5" y1="187.6" x2="932.0" y2="188.7" stroke-width="15.0"/><line x1="932.0" y1="188.7" x2="928.5" y2="189.9" stroke-width="15.0"/><line x1="928.5" y1="189.9" x2="925.0" y2="191.0" stroke-width="15.0"/><line x1="925.0" y1="191.0" x2="921.5" y2="192.2" stroke-width="15.0"/><line x1="921.5" y1="192.2" x2="918.0" y2="193.4" stroke-width="15.0"/><line x1="918.0" y1="193.4" x2="914.5" y2="194.6" stroke-width="15.0"/><line x1="914.5" y1="194.6" x2="911.0" y2="195.8" stroke-width="15.0"/><line x1="911.0" y1="195.8" x2="907.5" y2="197.1" stroke-width="15.0"/><line x1="907.5" y1="197.1" x2="903.9" y2="198.3" stroke-width="15.0"/><line x1="903.9" y1="198.3" x2="900.4" y2="199.6" stroke-width="15.0"/><line x1="900.4" y1="199.6" x2="896.9" y2="200.8" stroke-width="15.0"/><line x1="896.9" y1="200.8" x2="893.4" y2="202.1" stroke-width="15.0"/><line x1="893.4" y1="202.1" x2="889.9" y2="203.3" stroke-width="15.0"/><line x1="889.9" y1="203.3" x2="886.4" y2="204.5" stroke-width="15.0"/><line x1="886.4" y1="204.5" x2="883.0" y2="205.6" stroke-width="15.0"/><line x1="883.0" y1="205.6" x2="879.6" y2="206.7" stroke-width="15.0"/><line x1="879.6" y1="206.7" x2="876.3" y2="207.8" stroke-width="15.0"/><line x1="876.3" y1="207.8" x2="872.9" y2="208.8" stroke-width="15.0"/><line x1="872.9" y1="208.8" x2="869.6" y2="209.9" stroke-width="15.0"/><line x1="869.6" y1="209.9" x2="866.3" y2="210.9" stroke-width="15.0"/><line x1="866.3" y1="210.9" x2="863.1" y2="211.9" stroke-width="15.0"/><line x1="863.1" y1="211.9" x2="859.8" y2="212.9" stroke-width="15.0"/><line x1="859.8" y1="212.9" x2="856.5" y2="213.9" stroke-width="15.0"/><line x1="856.5" y1="213.9" x2="853.2" y2="214.9" stroke-width="15.0"/><line x1="853.2" y1="214.9" x2="849.8" y2="215.9" stroke-width="15.0"/><line x1="849.8" y1="215.9" x2="846.4" y2="217.0" stroke-width="15.0"/><line x1="846.4" y1="217.0" x2="843.0" y2="218.0" stroke-width="15.0"/><line x1="843.0" y1="218.0" x2="839.4" y2="219.1" stroke-width="15.0"/><line x1="839.4" y1="219.1" x2="835.7" y2="220.2" stroke-width="15.0"/><line x1="835.7" y1="220.2" x2="831.8" y2="221.4" stroke-width="15.0"/><line x1="831.8" y1="221.4" x2="827.8" y2="222.6" stroke-width="15.0"/><line x1="827.8" y1="222.6" x2="823.8" y2="223.8" stroke-width="15.0"/><line x1="823.8" y1="223.8" x2="819.8" y2="225.0" stroke-width="15.0"/><line x1="819.8" y1="225.0" x2="815.9" y2="226.1" stroke-width="15.0"/><line x1="815.9" y1="226.1" x2="812.2" y2="227.2" stroke-width="15.0"/><line x1="812.2" y1="227.2" x2="808.7" y2="228.3" stroke-width="15.0"/><line x1="808.7" y1="228.3" x2="805.5" y2="229.3" stroke-width="15.0"/><line x1="805.5" y1="229.3" x2="802.5" y2="230.2" stroke-width="15.0"/><line x1="802.5" y1="230.2" x2="800.0" y2="231.0" stroke-width="15.0"/><line x1="800.0" y1="231.0" x2="798.0" y2="231.7" stroke-width="15.0"/><line x1="798.0" y1="231.7" x2="796.4" y2="232.2" stroke-width="15.0"/><line x1="796.4" y1="232.2" x2="795.3" y2="232.6" stroke-width="15.0"/><line x1="795.3" y1="232.6" x2="794.5" y2="232.9" stroke-width="15.0"/><line x1="794.5" y1="232.9" x2="794.0" y2="233.1" stroke-width="15.0"/><line x1="794.0" y1="233.1" x2="793.5" y2="233.3" stroke-width="15.0"/><line x1="793.5" y1="233.3" x2="793.0" y2="233.5" stroke-width="15.0"/><line x1="793.0" y1="233.5" x2="792.4" y2="233.8" stroke-width="15.0"/><line x1="792.4" y1="233.8" x2="791.6" y2="234.2" stroke-width="15.0"/><line x1="791.6" y1="234.2" x2="790.5" y2="234.6" stroke-width="15.0"/><line x1="790.5" y1="234.6" x2="789.0" y2="235.2" stroke-width="15.0"/><line x1="789.0" y1="235.2" x2="787.0" y2="236.0" stroke-width="15.0"/><line x1="787.0" y1="236.0" x2="784.4" y2="236.9" stroke-width="15.0"/><line x1="784.4" y1="236.9" x2="781.5" y2="238.0" stroke-width="15.0"/><line x1="781.5" y1="238.0" x2="778.1" y2="239.2" stroke-width="15.0"/><line x1="778.1" y1="239.2" x2="774.5" y2="240.5" stroke-width="15.0"/><line x1="774.5" y1="240.5" x2="770.7" y2="241.8" stroke-width="15.0"/><line x1="770.7" y1="241.8" x2="766.7" y2="243.2" stroke-width="15.0"/><line x1="766.7" y1="243.2" x2="762.7" y2="244.7" stroke-width="15.0"/><line x1="762.7" y1="244.7" x2="758.7" y2="246.2" stroke-width="15.0"/><line x1="758.7" y1="246.2" x2="754.8" y2="247.7" stroke-width="15.0"/><line x1="754.8" y1="247.7" x2="751.1" y2="249.1" stroke-width="15.0"/><line x1="751.1" y1="249.1" x2="747.6" y2="250.6" stroke-width="15.0"/><line x1="747.6" y1="250.6" x2="744.5" y2="252.0" stroke-width="15.0"/><line x1="744.5" y1="252.0" x2="741.6" y2="253.4" stroke-width="15.0"/><line x1="741.6" y1="253.4" x2="738.8" y2="254.7" stroke-width="15.0"/><line x1="738.8" y1="254.7" x2="736.2" y2="256.1" stroke-width="15.0"/><line x1="736.2" y1="256.1" x2="733.6" y2="257.5" stroke-width="15.0"/><line x1="733.6" y1="257.5" x2="731.2" y2="258.9" stroke-width="15.0"/><line x1="731.2" y1="258.9" x2="728.8" y2="260.2" stroke-width="15.0"/><line x1="728.8" y1="260.2" x2="726.6" y2="261.7" stroke-width="15.0"/><line x1="726.6" y1="261.7" x2="724.4" y2="263.1" stroke-width="15.0"/><line x1="724.4" y1="263.1" x2="722.2" y2="264.5" stroke-width="15.0"/><line x1="722.2" y1="264.5" x2="720.1" y2="266.0" stroke-width="15.0"/><line x1="720.1" y1="266.0" x2="718.0" y2="267.5" stroke-width="14.7"/><line x1="718.0" y1="267.5" x2="716.0" y2="269.0" stroke-width="14.2"/><line x1="716.0" y1="269.0" x2="714.0" y2="270.6" stroke-width="13.7"/><line x1="714.0" y1="270.6" x2="712.1" y2="272.2" stroke-width="13.3"/><line x1="712.1" y1="272.2" x2="710.2" y2="273.8" stroke-width="12.7"/><line x1="710.2" y1="273.8" x2="708.4" y2="275.4" stroke-width="12.2"/><line x1="708.4" y1="275.4" x2="706.6" y2="277.1" stroke-width="11.6"/><line x1="706.6" y1="277.1" x2="704.9" y2="278.8" stroke-width="11.0"/><line x1="704.9" y1="278.8" x2="703.3" y2="280.5" stroke-width="10.4"/><line x1="703.3" y1="280.5" x2="701.7" y2="282.2" stroke-width="9.8"/><line x1="701.7" y1="282.2" x2="700.2" y2="283.9" stroke-width="9.2"/><line x1="700.2" y1="283.9" x2="698.7" y2="285.6" stroke-width="8.5"/><line x1="698.7" y1="285.6" x2="697.3" y2="287.3" stroke-width="7.7"/><line x1="697.3" y1="287.3" x2="696.0" y2="289.0" stroke-width="6.9"/><line x1="696.0" y1="289.0" x2="694.8" y2="290.7" stroke-width="5.9"/><line x1="694.8" y1="290.7" x2="693.6" y2="292.3" stroke-width="4.7"/><line x1="693.6" y1="292.3" x2="692.6" y2="293.9" stroke-width="3.4"/><line x1="582.4" y1="698.3" x2="581.8" y2="699.2" stroke-width="3.0"/><line x1="581.8" y1="699.2" x2="581.2" y2="700.1" stroke-width="3.2"/><line x1="581.2" y1="700.1" x2="580.7" y2="700.9" stroke-width="3.1"/><line x1="580.7" y1="700.9" x2="580.1" y2="701.8" stroke-width="2.8"/><line x1="569.0" y1="723.2" x2="568.0" y2="724.7" stroke-width="3.3"/><line x1="568.0" y1="724.7" x2="566.9" y2="726.3" stroke-width="4.4"/><line x1="566.9" y1="726.3" x2="565.8" y2="727.8" stroke-width="5.3"/><line x1="565.8" y1="727.8" x2="564.6" y2="729.4" stroke-width="5.9"/><line x1="564.6" y1="729.4" x2="563.4" y2="731.0" stroke-width="6.4"/><line x1="563.4" y1="731.0" x2="562.2" y2="732.6" stroke-width="6.9"/><line x1="562.2" y1="732.6" x2="560.9" y2="734.2" stroke-width="7.2"/><line x1="560.9" y1="734.2" x2="559.6" y2="735.8" stroke-width="7.5"/><line x1="559.6" y1="735.8" x2="558.3" y2="737.3" stroke-width="7.7"/><line x1="558.3" y1="737.3" x2="557.1" y2="738.8" stroke-width="7.8"/><line x1="557.1" y1="738.8" x2="555.8" y2="740.3" stroke-width="8.0"/><line x1="555.8" y1="740.3" x2="554.6" y2="741.8" stroke-width="8.2"/><line x1="554.6" y1="741.8" x2="553.4" y2="743.2" stroke-width="8.4"/><line x1="553.4" y1="743.2" x2="552.2" y2="744.6" stroke-width="8.6"/><line x1="552.2" y1="744.6" x2="551.0" y2="746.0" stroke-width="8.8"/><line x1="551.0" y1="746.0" x2="549.8" y2="747.3" stroke-width="9.0"/><line x1="549.8" y1="747.3" x2="548.6" y2="748.7" stroke-width="9.2"/><line x1="548.6" y1="748.7" x2="547.4" y2="750.0" stroke-width="9.4"/><line x1="547.4" y1="750.0" x2="546.3" y2="751.3" stroke-width="9.6"/><line x1="546.3" y1="751.3" x2="545.1" y2="752.5" stroke-width="9.7"/><line x1="545.1" y1="752.5" x2="543.9" y2="753.8" stroke-width="9.8"/><line x1="543.9" y1="753.8" x2="542.7" y2="755.1" stroke-width="9.9"/><line x1="542.7" y1="755.1" x2="541.5" y2="756.3" stroke-width="10.0"/><line x1="541.5" y1="756.3" x2="540.3" y2="757.6" stroke-width="10.0"/><line x1="540.3" y1="757.6" x2="539.1" y2="758.8" stroke-width="10.0"/><line x1="539.1" y1="758.8" x2="538.0" y2="760.0" stroke-width="10.0"/><line x1="538.0" y1="760.0" x2="536.9" y2="761.2" stroke-width="10.1"/><line x1="536.9" y1="761.2" x2="535.8" y2="762.4" stroke-width="10.1"/><line x1="535.8" y1="762.4" x2="534.7" y2="763.5" stroke-width="10.3"/><line x1="534.7" y1="763.5" x2="533.6" y2="764.7" stroke-width="10.5"/><line x1="533.6" y1="764.7" x2="532.5" y2="765.8" stroke-width="10.7"/><line x1="532.5" y1="765.8" x2="531.3" y2="767.0" stroke-width="11.0"/><line x1="531.3" y1="767.0" x2="530.1" y2="768.2" stroke-width="11.4"/><line x1="530.1" y1="768.2" x2="528.8" y2="769.4" stroke-width="11.7"/><line x1="528.8" y1="769.4" x2="527.4" y2="770.6" stroke-width="12.0"/><line x1="527.4" y1="770.6" x2="526.0" y2="771.9" stroke-width="12.3"/><line x1="526.0" y1="771.9" x2="524.5" y2="773.2" stroke-width="12.6"/><line x1="524.5" y1="773.2" x2="522.8" y2="774.6" stroke-width="12.9"/><line x1="522.8" y1="774.6" x2="521.1" y2="776.0" stroke-width="13.1"/><line x1="521.1" y1="776.0" x2="519.4" y2="777.5" stroke-width="13.3"/><line x1="519.4" y1="777.5" x2="517.6" y2="779.0" stroke-width="13.5"/><line x1="517.6" y1="779.0" x2="515.7" y2="780.4" stroke-width="13.6"/><line x1="515.7" y1="780.4" x2="513.8" y2="781.9" stroke-width="13.8"/><line x1="513.8" y1="781.9" x2="511.9" y2="783.4" stroke-width="13.9"/><line x1="511.9" y1="783.4" x2="510.0" y2="784.8" stroke-width="14.0"/><line x1="510.0" y1="784.8" x2="508.2" y2="786.3" stroke-width="14.2"/><line x1="508.2" y1="786.3" x2="506.3" y2="787.7" stroke-width="14.3"/><line x1="506.3" y1="787.7" x2="504.5" y2="789.0" stroke-width="14.5"/><line x1="504.5" y1="789.0" x2="502.7" y2="790.3" stroke-width="14.6"/><line x1="502.7" y1="790.3" x2="500.9" y2="791.6" stroke-width="14.8"/><line x1="500.9" y1="791.6" x2="499.1" y2="792.9" stroke-width="14.9"/><line x1="499.1" y1="792.9" x2="497.3" y2="794.1" stroke-width="15.0"/><line x1="497.3" y1="794.1" x2="495.5" y2="795.3" stroke-width="15.0"/><line x1="495.5" y1="795.3" x2="493.8" y2="796.5" stroke-width="15.0"/><line x1="493.8" y1="796.5" x2="492.0" y2="797.7" stroke-width="15.0"/><line x1="492.0" y1="797.7" x2="490.2" y2="798.9" stroke-width="15.0"/><line x1="490.2" y1="798.9" x2="488.4" y2="800.1" stroke-width="15.0"/><line x1="488.4" y1="800.1" x2="486.6" y2="801.2" stroke-width="15.0"/><line x1="486.6" y1="801.2" x2="484.8" y2="802.3" stroke-width="15.0"/><line x1="484.8" y1="802.3" x2="483.0" y2="803.4" stroke-width="15.0"/><line x1="483.0" y1="803.4" x2="481.2" y2="804.5" stroke-width="15.0"/><line x1="481.2" y1="804.5" x2="479.4" y2="805.6" stroke-width="15.0"/><line x1="479.4" y1="805.6" x2="477.6" y2="806.6" stroke-width="15.0"/><line x1="477.6" y1="806.6" x2="475.8" y2="807.7" stroke-width="15.0"/><line x1="475.8" y1="807.7" x2="474.0" y2="808.7" stroke-width="15.0"/><line x1="474.0" y1="808.7" x2="472.2" y2="809.7" stroke-width="15.0"/><line x1="472.2" y1="809.7" x2="470.5" y2="810.7" stroke-width="15.0"/><line x1="470.5" y1="810.7" x2="468.7" y2="811.7" stroke-width="15.0"/><line x1="468.7" y1="811.7" x2="466.9" y2="812.6" stroke-width="15.0"/><line x1="466.9" y1="812.6" x2="465.1" y2="813.4" stroke-width="15.0"/><line x1="465.1" y1="813.4" x2="463.3" y2="814.2" stroke-width="15.0"/><line x1="463.3" y1="814.2" x2="461.5" y2="815.0" stroke-width="15.0"/><line x1="461.5" y1="815.0" x2="459.8" y2="815.7" stroke-width="15.0"/><line x1="459.8" y1="815.7" x2="458.4" y2="816.2" stroke-width="15.0"/><line x1="458.4" y1="816.2" x2="457.0" y2="816.6" stroke-width="15.0"/><line x1="457.0" y1="816.6" x2="455.7" y2="816.9" stroke-width="15.0"/><line x1="455.7" y1="816.9" x2="454.4" y2="817.2" stroke-width="15.0"/><line x1="454.4" y1="817.2" x2="453.1" y2="817.5" stroke-width="15.0"/><line x1="453.1" y1="817.5" x2="451.6" y2="817.9" stroke-width="15.0"/><line x1="451.6" y1="817.9" x2="449.9" y2="818.2" stroke-width="15.0"/><line x1="449.9" y1="818.2" x2="448.0" y2="818.7" stroke-width="15.0"/><line x1="448.0" y1="818.7" x2="445.8" y2="819.3" stroke-width="15.0"/><line x1="445.8" y1="819.3" x2="443.1" y2="820.1" stroke-width="15.0"/><line x1="443.1" y1="820.1" x2="440.0" y2="821.0" stroke-width="15.0"/><line x1="440.0" y1="821.0" x2="436.5" y2="822.1" stroke-width="15.0"/><line x1="436.5" y1="822.1" x2="432.6" y2="823.4" stroke-width="15.0"/><line x1="432.6" y1="823.4" x2="428.5" y2="824.8" stroke-width="15.0"/><line x1="428.5" y1="824.8" x2="424.1" y2="826.3" stroke-width="15.0"/><line x1="424.1" y1="826.3" x2="419.4" y2="827.9" stroke-width="15.0"/><line x1="419.4" y1="827.9" x2="414.5" y2="829.6" stroke-width="15.0"/><line x1="414.5" y1="829.6" x2="409.4" y2="831.3" stroke-width="15.0"/><line x1="409.4" y1="831.3" x2="404.0" y2="833.0" stroke-width="15.0"/><line x1="404.0" y1="833.0" x2="398.5" y2="834.8" stroke-width="15.0"/><line x1="398.5" y1="834.8" x2="392.8" y2="836.6" stroke-width="15.0"/><line x1="392.8" y1="836.6" x2="387.0" y2="838.3" stroke-width="15.0"/><line x1="387.0" y1="838.3" x2="381.0" y2="840.0" stroke-width="15.0"/><line x1="381.0" y1="840.0" x2="374.8" y2="841.7" stroke-width="15.0"/><line x1="374.8" y1="841.7" x2="368.2" y2="843.4" stroke-width="15.0"/><line x1="368.2" y1="843.4" x2="361.4" y2="845.2" stroke-width="15.0"/><line x1="361.4" y1="845.2" x2="354.3" y2="846.9" stroke-width="15.0"/><line x1="354.3" y1="846.9" x2="347.0" y2="848.7" stroke-width="15.0"/><line x1="347.0" y1="848.7" x2="339.6" y2="850.5" stroke-width="15.0"/><line x1="339.6" y1="850.5" x2="332.2" y2="852.3" stroke-width="15.0"/><line x1="332.2" y1="852.3" x2="324.7" y2="854.1" stroke-width="15.0"/><line x1="324.7" y1="854.1" x2="317.2" y2="855.8" stroke-width="15.0"/><line x1="317.2" y1="855.8" x2="309.9" y2="857.6" stroke-width="15.0"/><line x1="309.9" y1="857.6" x2="302.6" y2="859.3" stroke-width="15.0"/><line x1="302.6" y1="859.3" x2="295.6" y2="861.0" stroke-width="15.0"/><line x1="295.6" y1="861.0" x2="288.5" y2="862.7" stroke-width="15.0"/><line x1="288.5" y1="862.7" x2="281.0" y2="864.5" stroke-width="15.0"/><line x1="281.0" y1="864.5" x2="273.2" y2="866.3" stroke-width="15.0"/><line x1="273.2" y1="866.3" x2="265.4" y2="868.2" stroke-width="15.0"/><line x1="265.4" y1="868.2" x2="257.6" y2="870.0" stroke-width="15.0"/><line x1="257.6" y1="870.0" x2="250.0" y2="871.8" stroke-width="15.0"/><line x1="250.0" y1="871.8" x2="242.6" y2="873.5" stroke-width="15.0"/><line x1="242.6" y1="873.5" x2="235.7" y2="875.1" stroke-width="15.0"/><line x1="235.7" y1="875.1" x2="229.4" y2="876.6" stroke-width="15.0"/><line x1="229.4" y1="876.6" x2="223.7" y2="878.0" stroke-width="15.0"/><line x1="223.7" y1="878.0" x2="218.9" y2="879.1" stroke-width="15.0"/><line x1="218.9" y1="879.1" x2="215.0" y2="880.0" stroke-width="15.0"/></g>
<path d="M1122.0,146.1L1129.6,132.5L1114.4,132.5zM1116.0,147.4L1123.6,133.8L1108.4,133.8zM1110.0,148.7L1117.6,135.1L1102.4,135.1zM1104.0,150.1L1111.6,136.5L1096.4,136.5zM1098.0,151.5L1105.6,137.9L1090.4,137.9zM1092.0,152.9L1099.6,139.3L1084.4,139.3zM1086.0,154.3L1093.6,140.7L1078.4,140.7zM1080.0,155.7L1087.6,142.1L1072.4,142.1zM1074.0,157.1L1081.6,143.5L1066.4,143.5zM1068.0,158.5L1075.6,144.9L1060.4,144.9zM1062.0,159.9L1069.6,146.3L1054.4,146.3zM1056.0,161.4L1063.6,147.8L1048.4,147.8zM1050.0,162.9L1057.6,149.3L1042.4,149.3zM1044.0,164.4L1051.6,150.8L1036.4,150.8zM1038.0,165.9L1045.6,152.3L1030.4,152.3zM1032.0,167.5L1039.6,153.9L1024.4,153.9zM1026.0,169.0L1033.6,155.4L1018.4,155.4zM1020.0,170.6L1027.6,157.0L1012.4,157.0zM1014.0,172.2L1021.6,158.6L1006.4,158.6zM1008.0,173.8L1015.6,160.2L1000.4,160.2zM1002.0,175.5L1009.6,161.9L994.4,161.9zM996.0,177.1L1003.6,163.5L988.4,163.5zM990.0,178.8L997.6,165.2L982.4,165.2zM984.0,180.5L991.6,166.9L976.4,166.9zM978.0,182.3L985.6,168.7L970.4,168.7zM972.0,184.2L979.6,170.6L964.4,170.6zM966.0,186.0L973.6,172.4L958.4,172.4zM960.0,187.8L967.6,174.2L952.4,174.2zM954.0,189.7L961.6,176.1L946.4,176.1zM948.0,191.6L955.6,178.0L940.4,178.0zM942.0,193.5L949.6,179.9L934.4,179.9zM936.0,195.4L943.6,181.8L928.4,181.8zM930.0,197.4L937.6,183.8L922.4,183.8zM924.0,199.3L931.6,185.7L916.4,185.7zM918.0,201.4L925.6,187.8L910.4,187.8zM912.0,203.5L919.6,189.9L904.4,189.9zM906.0,205.6L913.6,192.0L898.4,192.0zM900.0,207.7L907.6,194.1L892.4,194.1zM894.0,209.9L901.6,196.3L886.4,196.3zM888.0,211.9L895.6,198.3L880.4,198.3zM882.0,213.9L889.6,200.3L874.4,200.3zM876.0,215.9L883.6,202.3L868.4,202.3zM870.0,217.8L877.6,204.2L862.4,204.2zM864.0,219.6L871.6,206.0L856.4,206.0zM858.0,221.4L865.6,207.8L850.4,207.8zM852.0,223.3L859.6,209.7L844.4,209.7zM846.0,225.1L853.6,211.5L838.4,211.5zM840.0,226.9L847.6,213.3L832.4,213.3zM834.0,228.7L841.6,215.1L826.4,215.1zM828.0,230.5L835.6,216.9L820.4,216.9zM822.0,232.3L829.6,218.7L814.4,218.7zM816.0,234.1L823.6,220.5L808.4,220.5zM810.0,235.9L817.6,222.3L802.4,222.3zM804.0,237.7L811.6,224.1L796.4,224.1zM798.0,239.6L805.6,226.0L790.4,226.0zM792.0,242.0L799.6,228.4L784.4,228.4zM786.0,244.4L793.6,230.8L778.4,230.8zM780.0,246.5L787.6,232.9L772.4,232.9zM774.0,248.7L781.6,235.1L766.4,235.1zM768.0,250.8L775.6,237.2L760.4,237.2zM762.0,253.0L769.6,239.4L754.4,239.4zM756.0,255.2L763.6,241.6L748.4,241.6zM750.0,257.6L757.6,244.0L742.4,244.0zM744.0,260.2L751.6,246.6L736.4,246.6zM738.0,263.2L745.6,249.6L730.4,249.6zM732.0,266.4L739.6,252.8L724.4,252.8zM726.0,270.0L733.6,256.4L718.4,256.4zM720.0,274.0L727.6,260.5L712.4,260.5zM714.0,278.4L721.5,265.1L706.5,265.1zM708.0,283.5L715.3,270.4L700.7,270.4zM702.0,289.4L709.1,276.6L694.9,276.6zM696.0,296.2L702.8,284.0L689.2,284.0zM690.0,305.3L696.5,293.7L683.5,293.7zM684.0,317.9L690.5,306.4L677.5,306.4zM678.0,332.3L684.5,320.7L671.5,320.7zM672.0,360.8L678.5,349.2L665.5,349.2zM666.0,394.3L672.5,382.7L659.5,382.7zM660.0,421.4L666.5,409.8L653.5,409.8zM654.0,465.2L660.5,453.6L647.5,453.6zM648.0,488.4L654.5,476.9L641.5,476.9zM642.0,519.9L648.5,508.4L635.5,508.4zM636.0,555.8L642.5,544.2L629.5,544.2zM630.0,580.6L636.5,569.0L623.5,569.0zM624.0,601.1L630.5,589.6L617.5,589.6zM618.0,625.8L624.5,614.2L611.5,614.2zM612.0,641.1L618.5,629.5L605.5,629.5zM606.0,655.6L612.5,644.0L599.5,644.0zM600.0,667.8L606.5,656.2L593.5,656.2zM594.0,681.9L600.5,670.3L587.5,670.3zM588.0,695.1L594.5,683.5L581.5,683.5zM582.0,705.8L588.5,694.1L575.5,694.1zM576.0,716.0L582.5,704.4L569.5,704.4zM570.0,728.4L576.5,716.8L563.5,716.8zM564.0,737.4L570.8,725.2L557.2,725.2zM558.0,745.0L564.9,732.6L551.1,732.6zM552.0,752.2L559.0,739.7L545.0,739.7zM546.0,759.0L553.1,746.3L538.9,746.3zM540.0,765.4L547.1,752.7L532.9,752.7zM534.0,771.8L541.2,759.0L526.8,759.0zM528.0,777.8L535.3,764.7L520.7,764.7zM522.0,783.1L529.4,769.8L514.6,769.8zM516.0,788.1L523.5,774.7L508.5,774.7zM510.0,792.8L517.5,779.3L502.5,779.3zM504.0,797.3L511.6,783.8L496.4,783.8zM498.0,801.6L505.6,788.0L490.4,788.0zM492.0,805.7L499.6,792.1L484.4,792.1zM486.0,809.6L493.6,796.0L478.4,796.0zM480.0,813.2L487.6,799.6L472.4,799.6zM474.0,816.7L481.6,803.1L466.4,803.1zM468.0,820.0L475.6,806.4L460.4,806.4zM462.0,822.8L469.6,809.2L454.4,809.2zM456.0,824.9L463.6,811.3L448.4,811.3zM450.0,826.2L457.6,812.6L442.4,812.6zM444.0,827.8L451.6,814.2L436.4,814.2zM438.0,829.6L445.6,816.0L430.4,816.0zM432.0,831.6L439.6,818.0L424.4,818.0zM426.0,833.6L433.6,820.0L418.4,820.0zM420.0,835.7L427.6,822.1L412.4,822.1zM414.0,837.7L421.6,824.1L406.4,824.1zM408.0,839.7L415.6,826.1L400.4,826.1zM402.0,841.7L409.6,828.1L394.4,828.1zM396.0,843.6L403.6,830.0L388.4,830.0zM390.0,845.4L397.6,831.8L382.4,831.8zM384.0,847.2L391.6,833.6L376.4,833.6zM378.0,848.8L385.6,835.2L370.4,835.2zM372.0,850.4L379.6,836.8L364.4,836.8zM366.0,852.0L373.6,838.4L358.4,838.4zM360.0,853.5L367.6,839.9L352.4,839.9zM354.0,855.0L361.6,841.4L346.4,841.4zM348.0,856.5L355.6,842.9L340.4,842.9zM342.0,857.9L349.6,844.3L334.4,844.3zM336.0,859.4L343.6,845.8L328.4,845.8zM330.0,860.8L337.6,847.2L322.4,847.2zM324.0,862.2L331.6,848.6L316.4,848.6zM318.0,863.7L325.6,850.1L310.4,850.1zM312.0,865.1L319.6,851.5L304.4,851.5zM306.0,866.5L313.6,852.9L298.4,852.9zM300.0,867.9L307.6,854.3L292.4,854.3zM294.0,869.4L301.6,855.8L286.4,855.8zM288.0,870.8L295.6,857.2L280.4,857.2zM282.0,872.3L289.6,858.7L274.4,858.7zM276.0,873.7L283.6,860.1L268.4,860.1zM270.0,875.1L277.6,861.5L262.4,861.5zM264.0,876.5L271.6,862.9L256.4,862.9zM258.0,877.9L265.6,864.3L250.4,864.3zM252.0,879.3L259.6,865.7L244.4,865.7zM246.0,880.7L253.6,867.1L238.4,867.1zM240.0,882.1L247.6,868.5L232.4,868.5zM234.0,883.6L241.6,870.0L226.4,870.0zM228.0,885.0L235.6,871.4L220.4,871.4zM222.0,886.4L229.6,872.8L214.4,872.8zM216.0,887.8L223.6,874.2L208.4,874.2z" fill="#ff0000" stroke="none"/>
<path d="M215.0,882.0 L218.9,881.0 L223.7,879.8 L229.4,878.4 L235.7,876.8 L242.6,875.0 L250.0,873.2 L257.6,871.3 L265.4,869.3 L273.2,867.4 L281.0,865.5 L288.5,863.7 L295.6,862.0 L302.6,860.4 L309.9,858.8 L317.2,857.2 L324.7,855.7 L332.2,854.1 L339.7,852.6 L347.0,851.0 L354.3,849.4 L361.4,847.9 L368.2,846.3 L374.8,844.7 L381.0,843.0 L386.9,841.3 L392.7,839.5 L398.3,837.6 L403.7,835.7 L409.0,833.8 L414.0,831.9 L418.9,830.1 L423.6,828.3 L428.0,826.5 L432.2,824.9 L436.2,823.4 L440.0,822.0 L443.5,820.8 L446.5,819.7 L449.3,818.7 L451.8,817.9 L454.1,817.1 L456.2,816.3 L458.3,815.6 L460.3,814.9 L462.2,814.2 L464.3,813.5 L466.4,812.8 L468.7,812.0 L471.1,811.2 L473.5,810.4 L475.9,809.5 L478.2,808.7 L480.6,807.9 L483.0,807.1 L485.4,806.3 L487.8,805.4 L490.1,804.6 L492.5,803.8 L494.9,802.9 L497.3,802.0 L499.7,801.1 L502.1,800.2 L504.5,799.2 L506.9,798.3 L509.3,797.3 L511.7,796.3 L514.0,795.4 L516.4,794.4 L518.8,793.4 L521.2,792.4 L523.6,791.5 L526.0,790.5 L528.4,789.5 L530.8,788.6 L533.2,787.7 L535.5,786.7 L537.9,785.8 L540.3,784.8 L542.7,783.9 L545.1,782.9 L547.4,782.0 L549.8,781.0 L552.2,780.0 L554.6,779.0 L557.0,778.0 L559.4,777.0 L561.8,776.0 L564.2,774.9 L566.6,773.9 L568.9,772.9 L571.3,771.8 L573.7,770.7 L576.1,769.6 L578.5,768.5 L580.9,767.4 L583.3,766.2 L585.7,765.0 L588.2,763.7 L590.8,762.4 L593.4,761.0 L596.0,759.6 L598.6,758.2 L601.1,756.8 L603.5,755.5 L605.8,754.1 L608.0,752.8 L610.1,751.6 L612.0,750.4 L613.7,749.3 L615.2,748.3 L616.6,747.3 L617.8,746.4 L619.0,745.6 L620.0,744.7 L621.1,743.8 L622.1,743.0 L623.1,742.1 L624.1,741.1 L625.2,740.1 L626.3,739.0 L627.5,737.8 L628.8,736.6 L630.0,735.3 L631.3,733.9 L632.6,732.5 L633.9,731.1 L635.1,729.7 L636.4,728.3 L637.5,727.0 L638.6,725.6 L639.7,724.4 L640.6,723.2 L641.4,722.1 L642.2,721.1 L642.9,720.1 L643.5,719.2 L644.1,718.3 L644.6,717.4 L645.2,716.6 L645.7,715.7 L646.2,714.8 L646.7,713.8 L647.2,712.8 L647.8,711.7 L648.4,710.5 L649.0,709.4 L649.6,708.1 L650.3,706.9 L650.9,705.6 L651.5,704.3 L652.1,703.0 L652.7,701.6 L653.3,700.2 L653.9,698.8 L654.5,697.4 L655.0,696.0 L655.5,694.6 L656.0,693.1 L656.5,691.6 L657.0,690.1 L657.5,688.6 L657.9,687.0 L658.4,685.4 L658.9,683.9 L659.3,682.2 L659.8,680.6 L660.2,679.0 L660.7,677.3 L661.2,675.6 L661.7,673.9 L662.1,672.1 L662.6,670.3 L663.1,668.5 L663.6,666.7 L664.0,664.9 L664.5,663.1 L665.0,661.2 L665.5,659.4 L665.9,657.6 L666.4,655.8 L666.9,654.0 L667.4,652.2 L667.8,650.3 L668.3,648.4 L668.8,646.6 L669.3,644.7 L669.8,642.9 L670.2,641.1 L670.7,639.3 L671.1,637.6 L671.6,635.9 L672.0,634.3 L672.4,632.8 L672.8,631.4 L673.2,630.2 L673.6,629.0 L674.0,627.9 L674.4,626.7 L674.7,625.5 L675.1,624.3 L675.4,622.9 L675.8,621.5 L676.1,619.8 L676.4,618.0 L676.7,616.0 L677.0,613.9 L677.3,611.7 L677.5,609.3 L677.8,606.9 L678.0,604.4 L678.3,601.8 L678.5,599.1 L678.8,596.3 L679.0,593.5 L679.3,590.6 L679.5,587.6 L679.7,584.5 L679.9,581.1 L680.1,577.5 L680.3,573.9 L680.5,570.1 L680.7,566.3 L680.9,562.5 L681.1,558.8 L681.4,555.3 L681.6,551.8 L681.9,548.6 L682.3,545.7 L682.7,543.0 L683.1,540.4 L683.6,538.0 L684.1,535.8 L684.7,533.6 L685.2,531.6 L685.8,529.6 L686.4,527.7 L686.9,525.9 L687.5,524.1 L688.1,522.3 L688.6,520.6 L689.1,518.9 L689.6,517.4 L690.2,515.9 L690.7,514.5 L691.2,513.2 L691.7,511.9 L692.2,510.7 L692.7,509.4 L693.3,508.1 L693.8,506.7 L694.3,505.3 L694.8,503.8 L695.3,502.2 L695.8,500.7 L696.3,499.1 L696.8,497.5 L697.3,495.9 L697.8,494.2 L698.3,492.5 L698.8,490.7 L699.3,488.9 L699.8,487.0 L700.4,484.9 L701.0,482.8 L701.6,480.5 L702.3,478.2 L703.0,475.7 L703.7,473.1 L704.4,470.5 L705.1,467.8 L705.8,465.0 L706.6,462.3 L707.3,459.5 L708.1,456.8 L708.8,454.0 L709.5,451.4 L710.2,448.8 L710.9,446.2 L711.5,443.6 L712.2,441.1 L712.9,438.5 L713.5,435.9 L714.2,433.3 L714.9,430.7 L715.6,428.1 L716.4,425.4 L717.2,422.7 L718.0,420.0 L718.9,417.2 L719.8,414.5 L720.7,411.7 L721.6,409.0 L722.6,406.2 L723.6,403.4 L724.6,400.5 L725.6,397.5 L726.7,394.5 L727.8,391.5 L728.9,388.3 L730.0,385.0 L731.2,381.6 L732.4,377.9 L733.7,374.1 L735.0,370.2 L736.3,366.2 L737.7,362.2 L739.0,358.3 L740.3,354.3 L741.6,350.5 L742.8,346.8 L744.0,343.3 L745.0,340.0 L746.0,336.9 L746.8,333.9 L747.6,331.1 L748.3,328.3 L749.0,325.7 L749.7,323.1 L750.4,320.7 L751.0,318.2 L751.7,315.9 L752.4,313.6 L753.2,311.3 L754.0,309.0 L754.9,306.8 L755.8,304.6 L756.7,302.5 L757.7,300.5 L758.7,298.5 L759.7,296.5 L760.7,294.6 L761.7,292.8 L762.7,291.0 L763.7,289.2 L764.7,287.4 L765.7,285.7 L766.7,284.0 L767.7,282.4 L768.6,280.8 L769.6,279.3 L770.6,277.8 L771.6,276.3 L772.5,274.9 L773.5,273.5 L774.5,272.1 L775.5,270.7 L776.4,269.4 L777.4,268.0 L778.4,266.6 L779.3,265.3 L780.3,263.9 L781.3,262.5 L782.2,261.2 L783.2,259.9 L784.1,258.6 L785.1,257.3 L786.1,256.1 L787.0,255.0 L788.0,253.9 L789.0,252.8 L790.0,251.8 L791.0,250.9 L792.0,250.0 L793.0,249.2 L794.0,248.4 L795.0,247.7 L796.0,246.9 L797.0,246.2 L798.0,245.5 L799.0,244.8 L800.0,244.1 L801.0,243.4 L802.0,242.7 L802.9,242.0 L803.8,241.3 L804.7,240.6 L805.6,239.9 L806.5,239.2 L807.4,238.6 L808.3,237.9 L809.3,237.2 L810.3,236.6 L811.4,235.9 L812.6,235.2 L813.8,234.5 L815.2,233.8 L816.5,233.1 L817.9,232.5 L819.4,231.8 L820.9,231.1 L822.4,230.4 L823.9,229.7 L825.5,229.0 L827.0,228.4 L828.5,227.7 L830.0,227.0 L831.5,226.3 L832.9,225.6 L834.4,225.0 L835.8,224.3 L837.3,223.6 L838.7,222.9 L840.2,222.3 L841.7,221.6 L843.2,220.9 L844.8,220.3 L846.4,219.6 L848.0,219.0 L849.7,218.4 L851.3,217.8 L853.0,217.2 L854.7,216.6 L856.5,216.1 L858.2,215.5 L860.1,214.9 L861.9,214.4 L863.8,213.8 L865.8,213.2 L867.9,212.6 L870.0,212.0 L872.2,211.4 L874.5,210.8 L876.9,210.1 L879.4,209.5 L881.9,208.9 L884.5,208.2 L887.1,207.6 L889.7,206.9 L892.3,206.2 L894.9,205.5 L897.5,204.8 L900.0,204.0 L902.5,203.2 L904.9,202.3 L907.4,201.5 L909.8,200.6 L912.2,199.6 L914.6,198.7 L917.1,197.7 L919.6,196.8 L922.1,195.8 L924.7,194.9 L927.3,193.9 L930.0,193.0 L932.8,192.1 L935.7,191.2 L938.6,190.2 L941.6,189.3 L944.7,188.4 L947.8,187.4 L950.8,186.5 L953.9,185.6 L957.0,184.7 L960.0,183.8 L963.1,182.9 L966.0,182.0 L968.9,181.1 L971.6,180.3 L974.3,179.5 L976.9,178.7 L979.5,178.0 L982.1,177.2 L984.8,176.4 L987.6,175.6 L990.4,174.8 L993.4,173.9 L996.6,173.0 L1000.0,172.0 L1003.6,171.0 L1007.4,169.9 L1011.4,168.7 L1015.5,167.6 L1019.7,166.3 L1024.0,165.1 L1028.4,163.9 L1032.7,162.7 L1037.1,161.5 L1041.5,160.3 L1045.8,159.1 L1050.0,158.0 L1054.2,156.9 L1058.6,155.8 L1063.0,154.7 L1067.5,153.6 L1072.0,152.6 L1076.4,151.5 L1080.8,150.5 L1085.0,149.5 L1089.1,148.5 L1093.0,147.6 L1096.6,146.8 L1100.0,146.0 L1103.1,145.3 L1106.1,144.6 L1109.0,143.9 L1111.7,143.3 L1114.2,142.8 L1116.6,142.2 L1118.8,141.8 L1120.9,141.3 L1122.7,140.9 L1124.3,140.6 L1125.8,140.3 L1127.0,140.0" fill="none" stroke="#ff0000" stroke-width="2.5" stroke-linejoin="round" stroke-linecap="round" />
<g stroke="#ff0000" stroke-linecap="round"><line x1="215.0" y1="882.0" x2="218.9" y2="881.0" stroke-width="15.0"/><line x1="218.9" y1="881.0" x2="223.7" y2="879.8" stroke-width="15.0"/><line x1="223.7" y1="879.8" x2="229.4" y2="878.4" stroke-width="15.0"/><line x1="229.4" y1="878.4" x2="235.7" y2="876.8" stroke-width="15.0"/><line x1="235.7" y1="876.8" x2="242.6" y2="875.0" stroke-width="15.0"/><line x1="242.6" y1="875.0" x2="250.0" y2="873.2" stroke-width="15.0"/><line x1="250.0" y1="873.2" x2="257.6" y2="871.3" stroke-width="15.0"/><line x1="257.6" y1="871.3" x2="265.4" y2="869.3" stroke-width="15.0"/><line x1="265.4" y1="869.3" x2="273.2" y2="867.4" stroke-width="15.0"/><line x1="273.2" y1="867.4" x2="281.0" y2="865.5" stroke-width="15.0"/><line x1="281.0" y1="865.5" x2="288.5" y2="863.7" stroke-width="15.0"/><line x1="288.5" y1="863.7" x2="295.6" y2="862.0" stroke-width="15.0"/><line x1="295.6" y1="862.0" x2="302.6" y2="860.4" stroke-width="15.0"/><line x1="302.6" y1="860.4" x2="309.9" y2="858.8" stroke-width="15.0"/><line x1="309.9" y1="858.8" x2="317.2" y2="857.2" stroke-width="15.0"/><line x1="317.2" y1="857.2" x2="324.7" y2="855.7" stroke-width="15.0"/><line x1="324.7" y1="855.7" x2="332.2" y2="854.1" stroke-width="15.0"/><line x1="332.2" y1="854.1" x2="339.7" y2="852.6" stroke-width="15.0"/><line x1="339.7" y1="852.6" x2="347.0" y2="851.0" stroke-width="15.0"/><line x1="347.0" y1="851.0" x2="354.3" y2="849.4" stroke-width="15.0"/><line x1="354.3" y1="849.4" x2="361.4" y2="847.9" stroke-width="15.0"/><line x1="361.4" y1="847.9" x2="368.2" y2="846.3" stroke-width="15.0"/><line x1="368.2" y1="846.3" x2="374.8" y2="844.7" stroke-width="15.0"/><line x1="374.8" y1="844.7" x2="381.0" y2="843.0" stroke-width="15.0"/><line x1="381.0" y1="843.0" x2="386.9" y2="841.3" stroke-width="15.0"/><line x1="386.9" y1="841.3" x2="392.7" y2="839.5" stroke-width="15.0"/><line x1="392.7" y1="839.5" x2="398.3" y2="837.6" stroke-width="15.0"/><line x1="398.3" y1="837.6" x2="403.7" y2="835.7" stroke-width="15.0"/><line x1="403.7" y1="835.7" x2="409.0" y2="833.8" stroke-width="15.0"/><line x1="409.0" y1="833.8" x2="414.0" y2="831.9" stroke-width="15.0"/><line x1="414.0" y1="831.9" x2="418.9" y2="830.1" stroke-width="15.0"/><line x1="418.9" y1="830.1" x2="423.6" y2="828.3" stroke-width="15.0"/><line x1="423.6" y1="828.3" x2="428.0" y2="826.5" stroke-width="15.0"/><line x1="428.0" y1="826.5" x2="432.2" y2="824.9" stroke-width="15.0"/><line x1="432.2" y1="824.9" x2="436.2" y2="823.4" stroke-width="15.0"/><line x1="436.2" y1="823.4" x2="440.0" y2="822.0" stroke-width="15.0"/><line x1="440.0" y1="822.0" x2="443.5" y2="820.8" stroke-width="15.0"/><line x1="443.5" y1="820.8" x2="446.5" y2="819.7" stroke-width="15.0"/><line x1="446.5" y1="819.7" x2="449.3" y2="818.7" stroke-width="15.0"/><line x1="449.3" y1="818.7" x2="451.8" y2="817.9" stroke-width="15.0"/><line x1="451.8" y1="817.9" x2="454.1" y2="817.1" stroke-width="15.0"/><line x1="454.1" y1="817.1" x2="456.2" y2="816.3" stroke-width="15.0"/><line x1="456.2" y1="816.3" x2="458.3" y2="815.6" stroke-width="15.0"/><line x1="458.3" y1="815.6" x2="460.3" y2="814.9" stroke-width="15.0"/><line x1="460.3" y1="814.9" x2="462.2" y2="814.2" stroke-width="15.0"/><line x1="462.2" y1="814.2" x2="464.3" y2="813.5" stroke-width="15.0"/><line x1="464.3" y1="813.5" x2="466.4" y2="812.8" stroke-width="15.0"/><line x1="466.4" y1="812.8" x2="468.7" y2="812.0" stroke-width="15.0"/><line x1="468.7" y1="812.0" x2="471.1" y2="811.2" stroke-width="15.0"/><line x1="471.1" y1="811.2" x2="473.5" y2="810.4" stroke-width="15.0"/><line x1="473.5" y1="810.4" x2="475.9" y2="809.5" stroke-width="15.0"/><line x1="475.9" y1="809.5" x2="478.2" y2="808.7" stroke-width="15.0"/><line x1="478.2" y1="808.7" x2="480.6" y2="807.9" stroke-width="15.0"/><line x1="480.6" y1="807.9" x2="483.0" y2="807.1" stroke-width="15.0"/><line x1="483.0" y1="807.1" x2="485.4" y2="806.3" stroke-width="15.0"/><line x1="485.4" y1="806.3" x2="487.8" y2="805.4" stroke-width="15.0"/><line x1="487.8" y1="805.4" x2="490.1" y2="804.6" stroke-width="15.0"/><line x1="490.1" y1="804.6" x2="492.5" y2="803.8" stroke-width="15.0"/><line x1="492.5" y1="803.8" x2="494.9" y2="802.9" stroke-width="15.0"/><line x1="494.9" y1="802.9" x2="497.3" y2="802.0" stroke-width="15.0"/><line x1="497.3" y1="802.0" x2="499.7" y2="801.1" stroke-width="15.0"/><line x1="499.7" y1="801.1" x2="502.1" y2="800.2" stroke-width="15.0"/><line x1="502.1" y1="800.2" x2="504.5" y2="799.2" stroke-width="15.0"/><line x1="504.5" y1="799.2" x2="506.9" y2="798.3" stroke-width="15.0"/><line x1="506.9" y1="798.3" x2="509.3" y2="797.3" stroke-width="15.0"/><line x1="509.3" y1="797.3" x2="511.7" y2="796.3" stroke-width="15.0"/><line x1="511.7" y1="796.3" x2="514.0" y2="795.4" stroke-width="15.0"/><line x1="514.0" y1="795.4" x2="516.4" y2="794.4" stroke-width="15.0"/><line x1="516.4" y1="794.4" x2="518.8" y2="793.4" stroke-width="15.0"/><line x1="518.8" y1="793.4" x2="521.2" y2="792.4" stroke-width="15.0"/><line x1="521.2" y1="792.4" x2="523.6" y2="791.5" stroke-width="15.0"/><line x1="523.6" y1="791.5" x2="526.0" y2="790.5" stroke-width="15.0"/><line x1="526.0" y1="790.5" x2="528.4" y2="789.5" stroke-width="15.0"/><line x1="528.4" y1="789.5" x2="530.8" y2="788.6" stroke-width="15.0"/><line x1="530.8" y1="788.6" x2="533.2" y2="787.7" stroke-width="15.0"/><line x1="533.2" y1="787.7" x2="535.5" y2="786.7" stroke-width="15.0"/><line x1="535.5" y1="786.7" x2="537.9" y2="785.8" stroke-width="15.0"/><line x1="537.9" y1="785.8" x2="540.3" y2="784.8" stroke-width="15.0"/><line x1="540.3" y1="784.8" x2="542.7" y2="783.9" stroke-width="15.0"/><line x1="542.7" y1="783.9" x2="545.1" y2="782.9" stroke-width="15.0"/><line x1="545.1" y1="782.9" x2="547.4" y2="782.0" stroke-width="15.0"/><line x1="547.4" y1="782.0" x2="549.8" y2="781.0" stroke-width="15.0"/><line x1="549.8" y1="781.0" x2="552.2" y2="780.0" stroke-width="15.0"/><line x1="552.2" y1="780.0" x2="554.6" y2="779.0" stroke-width="15.0"/><line x1="554.6" y1="779.0" x2="557.0" y2="778.0" stroke-width="15.0"/><line x1="557.0" y1="778.0" x2="559.4" y2="777.0" stroke-width="15.0"/><line x1="559.4" y1="777.0" x2="561.8" y2="776.0" stroke-width="15.0"/><line x1="561.8" y1="776.0" x2="564.2" y2="774.9" stroke-width="15.0"/><line x1="564.2" y1="774.9" x2="566.6" y2="773.9" stroke-width="15.0"/><line x1="566.6" y1="773.9" x2="568.9" y2="772.9" stroke-width="15.0"/><line x1="568.9" y1="772.9" x2="571.3" y2="771.8" stroke-width="15.0"/><line x1="571.3" y1="771.8" x2="573.7" y2="770.7" stroke-width="15.0"/><line x1="573.7" y1="770.7" x2="576.1" y2="769.6" stroke-width="15.0"/><line x1="576.1" y1="769.6" x2="578.5" y2="768.5" stroke-width="15.0"/><line x1="578.5" y1="768.5" x2="580.9" y2="767.4" stroke-width="15.0"/><line x1="580.9" y1="767.4" x2="583.3" y2="766.2" stroke-width="15.0"/><line x1="583.3" y1="766.2" x2="585.7" y2="765.0" stroke-width="15.0"/><line x1="585.7" y1="765.0" x2="588.2" y2="763.7" stroke-width="15.0"/><line x1="588.2" y1="763.7" x2="590.8" y2="762.4" stroke-width="15.0"/><line x1="590.8" y1="762.4" x2="593.4" y2="761.0" stroke-width="15.0"/><line x1="593.4" y1="761.0" x2="596.0" y2="759.6" stroke-width="15.0"/><line x1="596.0" y1="759.6" x2="598.6" y2="758.2" stroke-width="15.0"/><line x1="598.6" y1="758.2" x2="601.1" y2="756.8" stroke-width="15.0"/><line x1="601.1" y1="756.8" x2="603.5" y2="755.5" stroke-width="15.0"/><line x1="603.5" y1="755.5" x2="605.8" y2="754.1" stroke-width="15.0"/><line x1="605.8" y1="754.1" x2="608.0" y2="752.8" stroke-width="15.0"/><line x1="608.0" y1="752.8" x2="610.1" y2="751.6" stroke-width="15.0"/><line x1="610.1" y1="751.6" x2="612.0" y2="750.4" stroke-width="15.0"/><line x1="612.0" y1="750.4" x2="613.7" y2="749.3" stroke-width="15.0"/><line x1="613.7" y1="749.3" x2="615.2" y2="748.3" stroke-width="15.0"/><line x1="615.2" y1="748.3" x2="616.6" y2="747.3" stroke-width="15.0"/><line x1="616.6" y1="747.3" x2="617.8" y2="746.4" stroke-width="14.7"/><line x1="617.8" y1="746.4" x2="619.0" y2="745.6" stroke-width="14.2"/><line x1="619.0" y1="745.6" x2="620.0" y2="744.7" stroke-width="13.7"/><line x1="620.0" y1="744.7" x2="621.1" y2="743.8" stroke-width="13.2"/><line x1="621.1" y1="743.8" x2="622.1" y2="743.0" stroke-width="12.7"/><line x1="622.1" y1="743.0" x2="623.1" y2="742.1" stroke-width="12.3"/><line x1="623.1" y1="742.1" x2="624.1" y2="741.1" stroke-width="11.9"/><line x1="624.1" y1="741.1" x2="625.2" y2="740.1" stroke-width="11.6"/><line x1="625.2" y1="740.1" x2="626.3" y2="739.0" stroke-width="11.3"/><line x1="626.3" y1="739.0" x2="627.5" y2="737.8" stroke-width="11.0"/><line x1="627.5" y1="737.8" x2="628.8" y2="736.6" stroke-width="10.7"/><line x1="628.8" y1="736.6" x2="630.0" y2="735.3" stroke-width="10.4"/><line x1="630.0" y1="735.3" x2="631.3" y2="733.9" stroke-width="10.1"/><line x1="631.3" y1="733.9" x2="632.6" y2="732.5" stroke-width="9.8"/><line x1="632.6" y1="732.5" x2="633.9" y2="731.1" stroke-width="9.5"/><line x1="633.9" y1="731.1" x2="635.1" y2="729.7" stroke-width="9.2"/><line x1="635.1" y1="729.7" x2="636.4" y2="728.3" stroke-width="8.8"/><line x1="636.4" y1="728.3" x2="637.5" y2="727.0" stroke-width="8.5"/><line x1="637.5" y1="727.0" x2="638.6" y2="725.6" stroke-width="8.2"/><line x1="638.6" y1="725.6" x2="639.7" y2="724.4" stroke-width="7.8"/><line x1="639.7" y1="724.4" x2="640.6" y2="723.2" stroke-width="7.3"/><line x1="640.6" y1="723.2" x2="641.4" y2="722.1" stroke-width="6.8"/><line x1="641.4" y1="722.1" x2="642.2" y2="721.1" stroke-width="6.2"/><line x1="642.2" y1="721.1" x2="642.9" y2="720.1" stroke-width="5.4"/><line x1="642.9" y1="720.1" x2="643.5" y2="719.2" stroke-width="4.5"/><line x1="643.5" y1="719.2" x2="644.1" y2="718.3" stroke-width="3.6"/><line x1="769.6" y1="279.3" x2="770.6" y2="277.8" stroke-width="3.3"/><line x1="770.6" y1="277.8" x2="771.6" y2="276.3" stroke-width="3.8"/><line x1="771.6" y1="276.3" x2="772.5" y2="274.9" stroke-width="4.2"/><line x1="772.5" y1="274.9" x2="773.5" y2="273.5" stroke-width="4.5"/><line x1="773.5" y1="273.5" x2="774.5" y2="272.1" stroke-width="4.8"/><line x1="774.5" y1="272.1" x2="775.5" y2="270.7" stroke-width="4.9"/><line x1="775.5" y1="270.7" x2="776.4" y2="269.4" stroke-width="5.0"/><line x1="776.4" y1="269.4" x2="777.4" y2="268.0" stroke-width="5.0"/><line x1="777.4" y1="268.0" x2="778.4" y2="266.6" stroke-width="5.1"/><line x1="778.4" y1="266.6" x2="779.3" y2="265.3" stroke-width="5.1"/><line x1="779.3" y1="265.3" x2="780.3" y2="263.9" stroke-width="5.2"/><line x1="780.3" y1="263.9" x2="781.3" y2="262.5" stroke-width="5.4"/><line x1="781.3" y1="262.5" x2="782.2" y2="261.2" stroke-width="5.6"/><line x1="782.2" y1="261.2" x2="783.2" y2="259.9" stroke-width="5.9"/><line x1="783.2" y1="259.9" x2="784.1" y2="258.6" stroke-width="6.4"/><line x1="784.1" y1="258.6" x2="785.1" y2="257.3" stroke-width="6.9"/><line x1="785.1" y1="257.3" x2="786.1" y2="256.1" stroke-width="7.5"/><line x1="786.1" y1="256.1" x2="787.0" y2="255.0" stroke-width="8.3"/><line x1="787.0" y1="255.0" x2="788.0" y2="253.9" stroke-width="9.1"/><line x1="788.0" y1="253.9" x2="789.0" y2="252.8" stroke-width="9.9"/><line x1="789.0" y1="252.8" x2="790.0" y2="251.8" stroke-width="10.8"/><line x1="790.0" y1="251.8" x2="791.0" y2="250.9" stroke-width="11.6"/><line x1="791.0" y1="250.9" x2="792.0" y2="250.0" stroke-width="12.4"/><line x1="792.0" y1="250.0" x2="793.0" y2="249.2" stroke-width="13.1"/><line x1="793.0" y1="249.2" x2="794.0" y2="248.4" stroke-width="13.7"/><line x1="794.0" y1="248.4" x2="795.0" y2="247.7" stroke-width="14.2"/><line x1="795.0" y1="247.7" x2="796.0" y2="246.9" stroke-width="14.5"/><line x1="796.0" y1="246.9" x2="797.0" y2="246.2" stroke-width="14.7"/><line x1="797.0" y1="246.2" x2="798.0" y2="245.5" stroke-width="14.8"/><line x1="798.0" y1="245.5" x2="799.0" y2="244.8" stroke-width="14.8"/><line x1="799.0" y1="244.8" x2="800.0" y2="244.1" stroke-width="14.7"/><line x1="800.0" y1="244.1" x2="801.0" y2="243.4" stroke-width="14.5"/><line x1="801.0" y1="243.4" x2="802.0" y2="242.7" stroke-width="14.4"/><line x1="802.0" y1="242.7" x2="802.9" y2="242.0" stroke-width="14.3"/><line x1="802.9" y1="242.0" x2="803.8" y2="241.3" stroke-width="14.2"/><line x1="803.8" y1="241.3" x2="804.7" y2="240.6" stroke-width="14.2"/><line x1="804.7" y1="240.6" x2="805.6" y2="239.9" stroke-width="14.3"/><line x1="805.6" y1="239.9" x2="806.5" y2="239.2" stroke-width="14.5"/><line x1="806.5" y1="239.2" x2="807.4" y2="238.6" stroke-width="14.7"/><line x1="807.4" y1="238.6" x2="808.3" y2="237.9" stroke-width="15.0"/><line x1="808.3" y1="237.9" x2="809.3" y2="237.2" stroke-width="15.0"/><line x1="809.3" y1="237.2" x2="810.3" y2="236.6" stroke-width="15.0"/><line x1="810.3" y1="236.6" x2="811.4" y2="235.9" stroke-width="15.0"/><line x1="811.4" y1="235.9" x2="812.6" y2="235.2" stroke-width="15.0"/><line x1="812.6" y1="235.2" x2="813.8" y2="234.5" stroke-width="15.0"/><line x1="813.8" y1="234.5" x2="815.2" y2="233.8" stroke-width="15.0"/><line x1="815.2" y1="233.8" x2="816.5" y2="233.1" stroke-width="15.0"/><line x1="816.5" y1="233.1" x2="817.9" y2="232.5" stroke-width="15.0"/><line x1="817.9" y1="232.5" x2="819.4" y2="231.8" stroke-width="15.0"/><line x1="819.4" y1="231.8" x2="820.9" y2="231.1" stroke-width="15.0"/><line x1="820.9" y1="231.1" x2="822.4" y2="230.4" stroke-width="15.0"/><line x1="822.4" y1="230.4" x2="823.9" y2="229.7" stroke-width="15.0"/><line x1="823.9" y1="229.7" x2="825.5" y2="229.0" stroke-width="15.0"/><line x1="825.5" y1="229.0" x2="827.0" y2="228.4" stroke-width="15.0"/><line x1="827.0" y1="228.4" x2="828.5" y2="227.7" stroke-width="15.0"/><line x1="828.5" y1="227.7" x2="830.0" y2="227.0" stroke-width="15.0"/><line x1="830.0" y1="227.0" x2="831.5" y2="226.3" stroke-width="15.0"/><line x1="831.5" y1="226.3" x2="832.9" y2="225.6" stroke-width="15.0"/><line x1="832.9" y1="225.6" x2="834.4" y2="225.0" stroke-width="15.0"/><line x1="834.4" y1="225.0" x2="835.8" y2="224.3" stroke-width="15.0"/><line x1="835.8" y1="224.3" x2="837.3" y2="223.6" stroke-width="15.0"/><line x1="837.3" y1="223.6" x2="838.7" y2="222.9" stroke-width="15.0"/><line x1="838.7" y1="222.9" x2="840.2" y2="222.3" stroke-width="15.0"/><line x1="840.2" y1="222.3" x2="841.7" y2="221.6" stroke-width="15.0"/><line x1="841.7" y1="221.6" x2="843.2" y2="220.9" stroke-width="15.0"/><line x1="843.2" y1="220.9" x2="844.8" y2="220.3" stroke-width="15.0"/><line x1="844.8" y1="220.3" x2="846.4" y2="219.6" stroke-width="15.0"/><line x1="846.4" y1="219.6" x2="848.0" y2="219.0" stroke-width="15.0"/><line x1="848.0" y1="219.0" x2="849.7" y2="218.4" stroke-width="15.0"/><line x1="849.7" y1="218.4" x2="851.3" y2="217.8" stroke-width="15.0"/><line x1="851.3" y1="217.8" x2="853.0" y2="217.2" stroke-width="15.0"/><line x1="853.0" y1="217.2" x2="854.7" y2="216.6" stroke-width="15.0"/><line x1="854.7" y1="216.6" x2="856.5" y2="216.1" stroke-width="15.0"/><line x1="856.5" y1="216.1" x2="858.2" y2="215.5" stroke-width="15.0"/><line x1="858.2" y1="215.5" x2="860.1" y2="214.9" stroke-width="15.0"/><line x1="860.1" y1="214.9" x2="861.9" y2="214.4" stroke-width="15.0"/><line x1="861.9" y1="214.4" x2="863.8" y2="213.8" stroke-width="15.0"/><line x1="863.8" y1="213.8" x2="865.8" y2="213.2" stroke-width="15.0"/><line x1="865.8" y1="213.2" x2="867.9" y2="212.6" stroke-width="15.0"/><line x1="867.9" y1="212.6" x2="870.0" y2="212.0" stroke-width="15.0"/><line x1="870.0" y1="212.0" x2="872.2" y2="211.4" stroke-width="15.0"/><line x1="872.2" y1="211.4" x2="874.5" y2="210.8" stroke-width="15.0"/><line x1="874.5" y1="210.8" x2="876.9" y2="210.1" stroke-width="15.0"/><line x1="876.9" y1="210.1" x2="879.4" y2="209.5" stroke-width="15.0"/><line x1="879.4" y1="209.5" x2="881.9" y2="208.9" stroke-width="15.0"/><line x1="881.9" y1="208.9" x2="884.5" y2="208.2" stroke-width="15.0"/><line x1="884.5" y1="208.2" x2="887.1" y2="207.6" stroke-width="15.0"/><line x1="887.1" y1="207.6" x2="889.7" y2="206.9" stroke-width="15.0"/><line x1="889.7" y1="206.9" x2="892.3" y2="206.2" stroke-width="15.0"/><line x1="892.3" y1="206.2" x2="894.9" y2="205.5" stroke-width="15.0"/><line x1="894.9" y1="205.5" x2="897.5" y2="204.8" stroke-width="15.0"/><line x1="897.5" y1="204.8" x2="900.0" y2="204.0" stroke-width="15.0"/><line x1="900.0" y1="204.0" x2="902.5" y2="203.2" stroke-width="15.0"/><line x1="902.5" y1="203.2" x2="904.9" y2="202.3" stroke-width="15.0"/><line x1="904.9" y1="202.3" x2="907.4" y2="201.5" stroke-width="15.0"/><line x1="907.4" y1="201.5" x2="909.8" y2="200.6" stroke-width="15.0"/><line x1="909.8" y1="200.6" x2="912.2" y2="199.6" stroke-width="15.0"/><line x1="912.2" y1="199.6" x2="914.6" y2="198.7" stroke-width="15.0"/><line x1="914.6" y1="198.7" x2="917.1" y2="197.7" stroke-width="15.0"/><line x1="917.1" y1="197.7" x2="919.6" y2="196.8" stroke-width="15.0"/><line x1="919.6" y1="196.8" x2="922.1" y2="195.8" stroke-width="15.0"/><line x1="922.1" y1="195.8" x2="924.7" y2="194.9" stroke-width="15.0"/><line x1="924.7" y1="194.9" x2="927.3" y2="193.9" stroke-width="15.0"/><line x1="927.3" y1="193.9" x2="930.0" y2="193.0" stroke-width="15.0"/><line x1="930.0" y1="193.0" x2="932.8" y2="192.1" stroke-width="15.0"/><line x1="932.8" y1="192.1" x2="935.7" y2="191.2" stroke-width="15.0"/><line x1="935.7" y1="191.2" x2="938.6" y2="190.2" stroke-width="15.0"/><line x1="938.6" y1="190.2" x2="941.6" y2="189.3" stroke-width="15.0"/><line x1="941.6" y1="189.3" x2="944.7" y2="188.4" stroke-width="15.0"/><line x1="944.7" y1="188.4" x2="947.8" y2="187.4" stroke-width="15.0"/><line x1="947.8" y1="187.4" x2="950.8" y2="186.5" stroke-width="15.0"/><line x1="950.8" y1="186.5" x2="953.9" y2="185.6" stroke-width="15.0"/><line x1="953.9" y1="185.6" x2="957.0" y2="184.7" stroke-width="15.0"/><line x1="957.0" y1="184.7" x2="960.0" y2="183.8" stroke-width="15.0"/><line x1="960.0" y1="183.8" x2="963.1" y2="182.9" stroke-width="15.0"/><line x1="963.1" y1="182.9" x2="966.0" y2="182.0" stroke-width="15.0"/><line x1="966.0" y1="182.0" x2="968.9" y2="181.1" stroke-width="15.0"/><line x1="968.9" y1="181.1" x2="971.6" y2="180.3" stroke-width="15.0"/><line x1="971.6" y1="180.3" x2="974.3" y2="179.5" stroke-width="15.0"/><line x1="974.3" y1="179.5" x2="976.9" y2="178.7" stroke-width="15.0"/><line x1="976.9" y1="178.7" x2="979.5" y2="178.0" stroke-width="15.0"/><line x1="979.5" y1="178.0" x2="982.1" y2="177.2" stroke-width="15.0"/><line x1="982.1" y1="177.2" x2="984.8" y2="176.4" stroke-width="15.0"/><line x1="984.8" y1="176.4" x2="987.6" y2="175.6" stroke-width="15.0"/><line x1="987.6" y1="175.6" x2="990.4" y2="174.8" stroke-width="15.0"/><line x1="990.4" y1="174.8" x2="993.4" y2="173.9" stroke-width="15.0"/><line x1="993.4" y1="173.9" x2="996.6" y2="173.0" stroke-width="15.0"/><line x1="996.6" y1="173.0" x2="1000.0" y2="172.0" stroke-width="15.0"/><line x1="1000.0" y1="172.0" x2="1003.6" y2="171.0" stroke-width="15.0"/><line x1="1003.6" y1="171.0" x2="1007.4" y2="169.9" stroke-width="15.0"/><line x1="1007.4" y1="169.9" x2="1011.4" y2="168.7" stroke-width="15.0"/><line x1="1011.4" y1="168.7" x2="1015.5" y2="167.6" stroke-width="15.0"/><line x1="1015.5" y1="167.6" x2="1019.7" y2="166.3" stroke-width="15.0"/><line x1="1019.7" y1="166.3" x2="1024.0" y2="165.1" stroke-width="15.0"/><line x1="1024.0" y1="165.1" x2="1028.4" y2="163.9" stroke-width="15.0"/><line x1="1028.4" y1="163.9" x2="1032.7" y2="162.7" stroke-width="15.0"/><line x1="1032.7" y1="162.7" x2="1037.1" y2="161.5" stroke-width="15.0"/><line x1="1037.1" y1="161.5" x2="1041.5" y2="160.3" stroke-width="15.0"/><line x1="1041.5" y1="160.3" x2="1045.8" y2="159.1" stroke-width="15.0"/><line x1="1045.8" y1="159.1" x2="1050.0" y2="158.0" stroke-width="15.0"/><line x1="1050.0" y1="158.0" x2="1054.2" y2="156.9" stroke-width="15.0"/><line x1="1054.2" y1="156.9" x2="1058.6" y2="155.8" stroke-width="15.0"/><line x1="1058.6" y1="155.8" x2="1063.0" y2="154.7" stroke-width="15.0"/><line x1="1063.0" y1="154.7" x2="1067.5" y2="153.6" stroke-width="15.0"/><line x1="1067.5" y1="153.6" x2="1072.0" y2="152.6" stroke-width="15.0"/><line x1="1072.0" y1="152.6" x2="1076.4" y2="151.5" stroke-width="15.0"/><line x1="1076.4" y1="151.5" x2="1080.8" y2="150.5" stroke-width="15.0"/><line x1="1080.8" y1="150.5" x2="1085.0" y2="149.5" stroke-width="15.0"/><line x1="1085.0" y1="149.5" x2="1089.1" y2="148.5" stroke-width="15.0"/><line x1="1089.1" y1="148.5" x2="1093.0" y2="147.6" stroke-width="15.0"/><line x1="1093.0" y1="147.6" x2="1096.6" y2="146.8" stroke-width="15.0"/><line x1="1096.6" y1="146.8" x2="1100.0" y2="146.0" stroke-width="15.0"/><line x1="1100.0" y1="146.0" x2="1103.1" y2="145.3" stroke-width="15.0"/><line x1="1103.1" y1="145.3" x2="1106.1" y2="144.6" stroke-width="15.0"/><line x1="1106.1" y1="144.6" x2="1109.0" y2="143.9" stroke-width="15.0"/><line x1="1109.0" y1="143.9" x2="1111.7" y2="143.3" stroke-width="15.0"/><line x1="1111.7" y1="143.3" x2="1114.2" y2="142.8" stroke-width="15.0"/><line x1="1114.2" y1="142.8" x2="1116.6" y2="142.2" stroke-width="15.0"/><line x1="1116.6" y1="142.2" x2="1118.8" y2="141.8" stroke-width="15.0"/><line x1="1118.8" y1="141.8" x2="1120.9" y2="141.3" stroke-width="15.0"/><line x1="1120.9" y1="141.3" x2="1122.7" y2="140.9" stroke-width="15.0"/><line x1="1122.7" y1="140.9" x2="1124.3" y2="140.6" stroke-width="15.0"/><line x1="1124.3" y1="140.6" x2="1125.8" y2="140.3" stroke-width="15.0"/><line x1="1125.8" y1="140.3" x2="1127.0" y2="140.0" stroke-width="15.0"/></g>
<path d="M216.0,889.8L223.6,876.2L208.4,876.2zM222.0,888.2L229.6,874.6L214.4,874.6zM228.0,886.7L235.6,873.1L220.4,873.1zM234.0,885.2L241.6,871.6L226.4,871.6zM240.0,883.7L247.6,870.1L232.4,870.1zM246.0,882.2L253.6,868.6L238.4,868.6zM252.0,880.7L259.6,867.1L244.4,867.1zM258.0,879.2L265.6,865.6L250.4,865.6zM264.0,877.7L271.6,864.1L256.4,864.1zM270.0,876.2L277.6,862.6L262.4,862.6zM276.0,874.7L283.6,861.1L268.4,861.1zM282.0,873.3L289.6,859.7L274.4,859.7zM288.0,871.8L295.6,858.2L280.4,858.2zM294.0,870.4L301.6,856.8L286.4,856.8zM300.0,869.0L307.6,855.4L292.4,855.4zM306.0,867.6L313.6,854.0L298.4,854.0zM312.0,866.3L319.6,852.7L304.4,852.7zM318.0,865.1L325.6,851.5L310.4,851.5zM324.0,863.8L331.6,850.2L316.4,850.2zM330.0,862.6L337.6,849.0L322.4,849.0zM336.0,861.3L343.6,847.7L328.4,847.7zM342.0,860.1L349.6,846.5L334.4,846.5zM348.0,858.8L355.6,845.2L340.4,845.2zM354.0,857.5L361.6,843.9L346.4,843.9zM360.0,856.2L367.6,842.6L352.4,842.6zM366.0,854.8L373.6,841.2L358.4,841.2zM372.0,853.3L379.6,839.7L364.4,839.7zM378.0,851.8L385.6,838.2L370.4,838.2zM384.0,850.1L391.6,836.5L376.4,836.5zM390.0,848.3L397.6,834.7L382.4,834.7zM396.0,846.4L403.6,832.8L388.4,832.8zM402.0,844.4L409.6,830.8L394.4,830.8zM408.0,842.2L415.6,828.6L400.4,828.6zM414.0,840.0L421.6,826.4L406.4,826.4zM420.0,837.6L427.6,824.0L412.4,824.0zM426.0,835.3L433.6,821.7L418.4,821.7zM432.0,833.0L439.6,819.4L424.4,819.4zM438.0,830.7L445.6,817.1L430.4,817.1zM444.0,828.6L451.6,815.0L436.4,815.0zM450.0,826.5L457.6,812.9L442.4,812.9zM456.0,824.4L463.6,810.8L448.4,810.8zM462.0,822.3L469.6,808.7L454.4,808.7zM468.0,820.2L475.6,806.6L460.4,806.6zM474.0,818.2L481.6,804.6L466.4,804.6zM480.0,816.1L487.6,802.5L472.4,802.5zM486.0,814.1L493.6,800.5L478.4,800.5zM492.0,811.9L499.6,798.3L484.4,798.3zM498.0,809.7L505.6,796.1L490.4,796.1zM504.0,807.4L511.6,793.8L496.4,793.8zM510.0,805.0L517.6,791.4L502.4,791.4zM516.0,802.6L523.6,789.0L508.4,789.0zM522.0,800.1L529.6,786.5L514.4,786.5zM528.0,797.7L535.6,784.1L520.4,784.1zM534.0,795.3L541.6,781.7L526.4,781.7zM540.0,793.0L547.6,779.4L532.4,779.4zM546.0,790.6L553.6,777.0L538.4,777.0zM552.0,788.1L559.6,774.5L544.4,774.5zM558.0,785.6L565.6,772.0L550.4,772.0zM564.0,783.0L571.6,769.4L556.4,769.4zM570.0,780.4L577.6,766.8L562.4,766.8zM576.0,777.7L583.6,764.1L568.4,764.1zM582.0,774.8L589.6,761.2L574.4,761.2zM588.0,771.8L595.6,758.2L580.4,758.2zM594.0,768.7L601.6,755.1L586.4,755.1zM600.0,765.4L607.6,751.8L592.4,751.8zM606.0,762.0L613.6,748.4L598.4,748.4zM612.0,758.4L619.6,744.8L604.4,744.8zM612.0,758.4L619.6,744.8L604.4,744.8zM618.0,754.3L625.6,740.7L610.4,740.7zM624.0,748.9L631.3,735.8L616.7,735.8zM630.0,742.9L637.2,730.0L622.8,730.0zM636.0,736.1L643.0,723.5L629.0,723.5zM642.0,728.5L648.8,716.4L635.2,716.4zM648.0,718.1L654.5,706.6L641.5,706.6zM654.0,705.4L660.5,693.8L647.5,693.8zM660.0,686.6L666.5,675.0L653.5,675.0zM666.0,664.1L672.5,652.6L659.5,652.6zM672.0,641.1L678.5,629.5L665.5,629.5zM672.0,641.1L678.5,629.5L665.5,629.5zM678.0,611.7L684.5,600.1L671.5,600.1zM684.0,543.2L690.5,531.6L677.5,531.6zM690.0,523.2L696.5,511.6L683.5,511.6zM696.0,506.8L702.5,495.3L689.5,495.3zM702.0,486.0L708.5,474.4L695.5,474.4zM708.0,463.8L714.5,452.2L701.5,452.2zM714.0,440.9L720.5,429.4L707.5,429.4zM720.0,420.6L726.5,409.0L713.5,409.0zM726.0,403.3L732.5,391.8L719.5,391.8zM732.0,385.9L738.5,374.3L725.5,374.3zM738.0,368.1L744.5,356.6L731.5,356.6zM744.0,349.9L750.5,338.4L737.5,338.4zM750.0,328.8L756.5,317.3L743.5,317.3zM756.0,310.9L762.5,299.4L749.5,299.4zM762.0,299.0L768.5,287.5L755.5,287.5zM768.0,288.6L774.5,277.1L761.5,277.1zM774.0,279.8L780.7,267.9L767.3,267.9zM780.0,271.4L786.7,259.4L773.3,259.4zM786.0,263.5L792.9,251.1L779.1,251.1zM792.0,257.8L799.4,244.5L784.6,244.5zM798.0,253.5L805.6,239.9L790.4,239.9zM804.0,249.0L811.5,235.6L796.5,235.6zM810.0,244.8L817.6,231.2L802.4,231.2zM816.0,241.4L823.6,227.8L808.4,227.8zM822.0,238.6L829.6,225.0L814.4,225.0zM828.0,235.9L835.6,222.3L820.4,222.3zM834.0,233.1L841.6,219.5L826.4,219.5zM840.0,230.3L847.6,216.7L832.4,216.7zM846.0,227.8L853.6,214.2L838.4,214.2zM852.0,225.6L859.6,212.0L844.4,212.0zM858.0,223.6L865.6,210.0L850.4,210.0zM864.0,221.8L871.6,208.2L856.4,208.2zM870.0,220.0L877.6,206.4L862.4,206.4zM870.0,220.0L877.6,206.4L862.4,206.4zM876.0,218.4L883.6,204.8L868.4,204.8zM882.0,216.9L889.6,203.3L874.4,203.3zM888.0,215.4L895.6,201.8L880.4,201.8zM894.0,213.8L901.6,200.2L886.4,200.2zM900.0,212.0L907.6,198.4L892.4,198.4zM900.0,212.0L907.6,198.4L892.4,198.4zM906.0,210.0L913.6,196.4L898.4,196.4zM912.0,207.7L919.6,194.1L904.4,194.1zM918.0,205.4L925.6,191.8L910.4,191.8zM924.0,203.1L931.6,189.5L916.4,189.5zM930.0,201.0L937.6,187.4L922.4,187.4zM930.0,201.0L937.6,187.4L922.4,187.4zM936.0,199.1L943.6,185.5L928.4,185.5zM942.0,197.2L949.6,183.6L934.4,183.6zM948.0,195.4L955.6,181.8L940.4,181.8zM954.0,193.6L961.6,180.0L946.4,180.0zM960.0,191.8L967.6,178.2L952.4,178.2zM966.0,190.0L973.6,176.4L958.4,176.4zM966.0,190.0L973.6,176.4L958.4,176.4zM972.0,188.2L979.6,174.6L964.4,174.6zM978.0,186.4L985.6,172.8L970.4,172.8zM984.0,184.6L991.6,171.0L976.4,171.0zM990.0,182.9L997.6,169.3L982.4,169.3zM996.0,181.1L1003.6,167.5L988.4,167.5zM1002.0,179.4L1009.6,165.8L994.4,165.8zM1008.0,177.7L1015.6,164.1L1000.4,164.1zM1014.0,176.0L1021.6,162.4L1006.4,162.4zM1020.0,174.3L1027.6,160.7L1012.4,160.7zM1026.0,172.6L1033.6,159.0L1018.4,159.0zM1032.0,170.9L1039.6,157.3L1024.4,157.3zM1038.0,169.2L1045.6,155.6L1030.4,155.6zM1044.0,167.6L1051.6,154.0L1036.4,154.0zM1050.0,166.0L1057.6,152.4L1042.4,152.4zM1050.0,166.0L1057.6,152.4L1042.4,152.4zM1056.0,164.5L1063.6,150.9L1048.4,150.9zM1062.0,163.0L1069.6,149.4L1054.4,149.4zM1068.0,161.5L1075.6,147.9L1060.4,147.9zM1074.0,160.1L1081.6,146.5L1066.4,146.5zM1080.0,158.7L1087.6,145.1L1072.4,145.1zM1086.0,157.3L1093.6,143.7L1078.4,143.7zM1092.0,155.9L1099.6,142.3L1084.4,142.3zM1098.0,154.5L1105.6,140.9L1090.4,140.9zM1104.0,153.1L1111.6,139.5L1096.4,139.5zM1110.0,151.7L1117.6,138.1L1102.4,138.1zM1116.0,150.4L1123.6,136.8L1108.4,136.8zM1122.0,149.1L1129.6,135.5L1114.4,135.5z" fill="#ff0000" stroke="none"/>
</g>
<rect x="211" y="94.5" width="918.5" height="810.0" fill="none" stroke="#000" stroke-width="8.5"/>
<line x1="211.0" y1="95.0" x2="191.0" y2="95.0" stroke="#000" stroke-width="7" />
<line x1="211.0" y1="297.5" x2="200.0" y2="297.5" stroke="#000" stroke-width="6" />
<line x1="211.0" y1="500.0" x2="191.0" y2="500.0" stroke="#000" stroke-width="7" />
<line x1="211.0" y1="702.5" x2="200.0" y2="702.5" stroke="#000" stroke-width="6" />
<line x1="211.0" y1="904.0" x2="191.0" y2="904.0" stroke="#000" stroke-width="7" />
<line x1="287.0" y1="904.5" x2="287.0" y2="922.5" stroke="#000" stroke-width="7" />
<line x1="478.5" y1="904.5" x2="478.5" y2="916.5" stroke="#000" stroke-width="6" />
<line x1="670.0" y1="904.5" x2="670.0" y2="922.5" stroke="#000" stroke-width="7" />
<line x1="861.5" y1="904.5" x2="861.5" y2="916.5" stroke="#000" stroke-width="6" />
<line x1="1053.0" y1="904.5" x2="1053.0" y2="922.5" stroke="#000" stroke-width="7" />
<text x="121.5" y="111.0" style="font-size:57px" text-anchor="start" fill="#000" >40</text>
<text x="153.1" y="514.0" style="font-size:57px" text-anchor="start" fill="#000" >0</text>
<text x="102.5" y="919.0" style="font-size:57px" text-anchor="start" fill="#000" >-40</text>
<text x="258.4" y="974.0" style="font-size:57px" text-anchor="start" fill="#000" >-1</text>
<text x="654.2" y="974.0" style="font-size:57px" text-anchor="start" fill="#000" >0</text>
<text x="1035.8" y="974.0" style="font-size:57px" text-anchor="start" fill="#000" >1</text>
<text x="15.0" y="97.1" style="font-size:80px" text-anchor="start" fill="#000" >(a)</text>
<text x="591" y="1044" style="font-size:79px" ><tspan style="font-style:italic">H</tspan>(T)</text>
<text transform="translate(78.5,641.5) rotate(-90)" style="font-size:81.5px"><tspan style="font-style:italic">M</tspan>(emu/g)</text>
<line x1="227.0" y1="140.0" x2="344.0" y2="140.0" stroke="#00ff00" stroke-width="7" />
<circle cx="285" cy="140" r="12" fill="#00ff00"/>
<text x="359.5" y="152.9" style="font-size:59px" text-anchor="start" fill="#000" >molar ratio - 5</text>
<line x1="227.0" y1="207.0" x2="344.0" y2="207.0" stroke="#000000" stroke-width="5" />
<path d="M285.5,191 L300,220.5 L271,220.5 z" fill="#000"/>
<text x="348" y="225.5" style="font-size:59px">SrFe<tspan dy="21" style="font-size:35px">12</tspan><tspan dy="-21">O</tspan><tspan dy="21" style="font-size:35px">19</tspan></text>
<line x1="227.0" y1="276.0" x2="344.0" y2="276.0" stroke="#ff0000" stroke-width="7" />
<path d="M285.5,295 L300,267 L271,267 z" fill="#ff0000"/>
<text x="350" y="294" style="font-size:59px">ZnFe<tspan dy="21" style="font-size:35px">2</tspan><tspan dy="-21">O</tspan><tspan dy="21" style="font-size:35px">4</tspan></text>
<polyline points="1374,858.5 1584.5,151.3 1795.5,264.5 2006.9,575.7 2216.5,858.8" fill="none" stroke="#000" stroke-width="2.8" stroke-linejoin="round"/>
<polyline points="1373.5,167.3 1584.3,438.7 1795,477 2006.9,841.8 2217,804.3" fill="none" stroke="#0000ff" stroke-width="3.2" stroke-linejoin="round"/>
<circle cx="1374" cy="858.5" r="12.2" fill="#000"/>
<circle cx="1584.5" cy="151.3" r="12.2" fill="#000"/>
<circle cx="1795.5" cy="264.5" r="12.2" fill="#000"/>
<circle cx="2006.9" cy="575.7" r="12.2" fill="#000"/>
<circle cx="2216.5" cy="858.8" r="12.2" fill="#000"/>
<rect x="1362.0" y="155.8" width="23" height="23" fill="#0000ff"/>
<rect x="1572.8" y="427.2" width="23" height="23" fill="#0000ff"/>
<rect x="1783.5" y="465.5" width="23" height="23" fill="#0000ff"/>
<rect x="1995.4" y="830.3" width="23" height="23" fill="#0000ff"/>
<rect x="2205.5" y="792.8" width="23" height="23" fill="#0000ff"/>
<path d="M2255.5,93 L1337.5,93 L1337.5,899.5 L2255.5,899.5" fill="none" stroke="#000" stroke-width="8.5"/>
<line x1="2255.5" y1="88.5" x2="2255.5" y2="906.0" stroke="#0000ff" stroke-width="9" />
<line x1="1337.5" y1="225.0" x2="1349.5" y2="225.0" stroke="#000" stroke-width="7" />
<line x1="1337.5" y1="361.0" x2="1346.5" y2="361.0" stroke="#000" stroke-width="6" />
<line x1="1337.5" y1="495.0" x2="1349.5" y2="495.0" stroke="#000" stroke-width="7" />
<line x1="1337.5" y1="631.0" x2="1346.5" y2="631.0" stroke="#000" stroke-width="6" />
<line x1="1337.5" y1="765.0" x2="1349.5" y2="765.0" stroke="#000" stroke-width="7" />
<line x1="2255.5" y1="138.0" x2="2245.5" y2="138.0" stroke="#0000ff" stroke-width="6" />
<line x1="2255.5" y1="368.5" x2="2236.5" y2="368.5" stroke="#0000ff" stroke-width="7" />
<line x1="2255.5" y1="600.0" x2="2245.5" y2="600.0" stroke="#0000ff" stroke-width="6" />
<line x1="2255.5" y1="831.5" x2="2236.5" y2="831.5" stroke="#0000ff" stroke-width="7" />
<text x="1254.0" y="243.0" style="font-size:57px" text-anchor="start" fill="#000" >50</text>
<text x="1254.0" y="513.0" style="font-size:57px" text-anchor="start" fill="#000" >40</text>
<text x="1254.0" y="783.0" style="font-size:57px" text-anchor="start" fill="#000" >30</text>
<text x="2272.8" y="385.8" style="font-size:57px" text-anchor="start" fill="#0000ff" >4</text>
<text x="2272.4" y="851.5" style="font-size:57px" text-anchor="start" fill="#0000ff" >3</text>
<text x="1360.0" y="964.5" style="font-size:57px" text-anchor="start" fill="#000" >5</text>
<text x="1586.3" y="964.5" style="font-size:57px" text-anchor="start" fill="#000" >2</text>
<text x="1788.2" y="964.5" style="font-size:57px" text-anchor="start" fill="#000" >1</text>
<text x="1977.0" y="964.5" style="font-size:57px" text-anchor="start" fill="#000" >0.5</text>
<text x="2196.9" y="964.5" style="font-size:57px" text-anchor="start" fill="#000" >0.2</text>
<text x="1451.1" y="1027.0" style="font-size:79px" text-anchor="start" fill="#000" >Sample (molar ratio)</text>
<text x="1186.0" y="80.4" style="font-size:80px" text-anchor="start" fill="#000" >(b)</text>
<text transform="translate(1219,624) rotate(-90)" style="font-size:81px"><tspan style="font-style:italic">M</tspan><tspan dy="33" style="font-size:55px;font-style:italic;font-weight:normal">S</tspan><tspan dy="-33">(emu/g)</tspan></text>
<text transform="translate(2381,565) rotate(-90)" style="font-size:80px"><tspan style="font-style:italic">H</tspan><tspan dy="33" style="font-size:52px;font-weight:normal">c</tspan><tspan dy="-33">(kOe)</tspan></text>
<line x1="1860.0" y1="168.5" x2="1983.0" y2="168.5" stroke="#000" stroke-width="4.5" />
<circle cx="1921.5" cy="168.5" r="12" fill="#000"/>
<line x1="1860.0" y1="242.0" x2="1983.0" y2="242.0" stroke="#0000ff" stroke-width="4.5" />
<rect x="1910" y="231" width="22" height="23" fill="#0000ff"/>
<text x="2007" y="186" style="font-size:73px;font-style:italic">M</text>
<text x="2068" y="215" style="font-size:44px;font-style:italic">s</text>
<text x="2004" y="262.8" style="font-size:73px;font-style:italic">H</text>
<text x="2056" y="291" style="font-size:44px;font-style:italic">c</text>
<line x1="682.7" y1="1080.0" x2="682.7" y2="1972.0" stroke="#22ee55" stroke-width="4" stroke-dasharray="5 8"/>
<line x1="224.0" y1="1533.5" x2="1036.0" y2="1533.5" stroke="#22ee55" stroke-width="4" stroke-dasharray="5 7"/>
<line x1="1128.0" y1="1533.5" x2="1135.0" y2="1533.5" stroke="#22ee55" stroke-width="4" />
<line x1="1101.0" y1="1557.0" x2="1105.0" y2="1549.0" stroke="#ff0000" stroke-width="2.5" />
<path d="M330.0,1545.5 L334.2,1545.4 L339.3,1545.3 L345.2,1545.2 L351.9,1545.0 L359.1,1544.9 L366.9,1544.7 L375.1,1544.5 L383.7,1544.4 L392.6,1544.2 L401.6,1543.9 L410.8,1543.7 L420.0,1543.5 L429.6,1543.3 L439.8,1543.0 L450.6,1542.7 L461.9,1542.5 L473.4,1542.2 L485.0,1541.9 L496.6,1541.6 L508.1,1541.3 L519.4,1540.9 L530.2,1540.6 L540.4,1540.3 L550.0,1540.0 L559.1,1539.7 L567.9,1539.4 L576.4,1539.0 L584.7,1538.7 L592.8,1538.4 L600.5,1538.0 L607.9,1537.7 L615.0,1537.4 L621.8,1537.0 L628.2,1536.7 L634.3,1536.3 L640.0,1536.0 L645.2,1535.7 L649.8,1535.3 L654.0,1535.0 L657.7,1534.6 L661.1,1534.3 L664.2,1534.0 L667.2,1533.6 L670.1,1533.3 L672.9,1533.0 L675.8,1532.6 L678.8,1532.3 L682.0,1532.0 L685.2,1531.7 L688.1,1531.4 L690.8,1531.1 L693.4,1530.8 L696.0,1530.5 L698.6,1530.2 L701.4,1529.9 L704.4,1529.6 L707.6,1529.3 L711.3,1529.0 L715.4,1528.8 L720.0,1528.5 L725.1,1528.2 L730.7,1528.0 L736.6,1527.7 L742.8,1527.5 L749.3,1527.2 L756.1,1527.0 L763.1,1526.7 L770.3,1526.5 L777.6,1526.2 L785.0,1526.0 L792.5,1525.7 L800.0,1525.5 L807.5,1525.2 L815.2,1525.0 L822.9,1524.8 L830.7,1524.5 L838.7,1524.2 L846.9,1524.0 L855.2,1523.8 L863.7,1523.5 L872.4,1523.2 L881.4,1523.0 L890.6,1522.8 L900.0,1522.5 L910.2,1522.2 L921.4,1522.0 L933.4,1521.7 L945.9,1521.4 L958.6,1521.1 L971.2,1520.8 L983.5,1520.5 L995.2,1520.3 L1005.9,1520.0 L1015.5,1519.8 L1023.6,1519.6 L1030.0,1519.5" fill="none" stroke="#111" stroke-width="4.5" stroke-linejoin="round" stroke-linecap="round" />
<path d="M1030.0,1152.0 L1028.7,1152.4 L1027.3,1153.0 L1025.6,1153.5 L1023.7,1154.2 L1021.6,1154.9 L1019.3,1155.7 L1016.9,1156.6 L1014.3,1157.5 L1011.5,1158.4 L1008.6,1159.5 L1005.6,1160.5 L1002.5,1161.6 L999.2,1162.8 L995.6,1164.0 L991.8,1165.3 L987.8,1166.7 L983.6,1168.1 L979.3,1169.5 L975.0,1171.0 L970.6,1172.5 L966.2,1174.1 L961.9,1175.6 L957.6,1177.2 L953.5,1178.7 L949.4,1180.3 L945.3,1181.9 L941.3,1183.5 L937.2,1185.1 L933.1,1186.8 L929.0,1188.5 L925.0,1190.2 L920.9,1191.9 L916.8,1193.5 L912.7,1195.1 L908.7,1196.7 L904.6,1198.3 L900.5,1199.8 L896.5,1201.2 L892.4,1202.6 L888.3,1204.0 L884.2,1205.4 L880.2,1206.7 L876.1,1208.1 L872.0,1209.4 L867.9,1210.8 L863.9,1212.3 L859.8,1213.8 L855.7,1215.4 L851.6,1217.1 L847.6,1218.8 L843.5,1220.5 L839.4,1222.3 L835.3,1224.1 L831.3,1225.9 L827.2,1227.8 L823.1,1229.7 L819.0,1231.6 L815.0,1233.5 L810.9,1235.5 L806.8,1237.4 L802.7,1239.4 L798.5,1241.4 L794.3,1243.5 L790.0,1245.6 L785.8,1247.7 L781.5,1249.9 L777.4,1252.0 L773.2,1254.1 L769.2,1256.2 L765.3,1258.2 L761.5,1260.1 L757.8,1262.0 L754.3,1263.8 L750.8,1265.6 L747.5,1267.3 L744.2,1269.0 L741.1,1270.6 L738.0,1272.3 L734.9,1273.8 L732.0,1275.4 L729.2,1276.9 L726.4,1278.4 L723.6,1279.9 L721.0,1281.4 L718.4,1282.8 L715.9,1284.3 L713.4,1285.7 L711.0,1287.1 L708.6,1288.4 L706.4,1289.7 L704.2,1291.0 L702.2,1292.3 L700.2,1293.5 L698.3,1294.7 L696.6,1295.9 L695.0,1297.0 L693.5,1298.1 L692.2,1299.0 L691.0,1299.9 L690.0,1300.7 L689.0,1301.6 L688.2,1302.3 L687.4,1303.2 L686.6,1304.0 L685.9,1304.9 L685.3,1305.8 L684.6,1306.9 L684.0,1308.0 L683.4,1309.1 L682.9,1310.2 L682.4,1311.2 L682.0,1312.3 L681.7,1313.3 L681.4,1314.5 L681.1,1315.8 L680.8,1317.3 L680.5,1319.0 L680.2,1321.0 L679.9,1323.3 L679.5,1326.0 L679.1,1329.2 L678.7,1332.8 L678.3,1336.9 L677.9,1341.3 L677.5,1345.9 L677.1,1350.7 L676.7,1355.5 L676.3,1360.2 L675.9,1364.8 L675.5,1369.2 L675.1,1373.3 L674.7,1377.0 L674.3,1380.3 L673.9,1383.4 L673.5,1386.4 L673.2,1389.1 L672.8,1391.8 L672.4,1394.3 L672.0,1396.7 L671.6,1399.1 L671.2,1401.4 L670.8,1403.8 L670.3,1406.1 L669.8,1408.5 L669.3,1410.8 L668.8,1413.1 L668.2,1415.2 L667.6,1417.2 L667.0,1419.3 L666.5,1421.3 L665.8,1423.3 L665.2,1425.4 L664.5,1427.6 L663.9,1429.9 L663.2,1432.4 L662.5,1435.0 L661.8,1437.8 L661.1,1440.9 L660.4,1444.1 L659.6,1447.4 L658.9,1450.9 L658.1,1454.3 L657.3,1457.8 L656.5,1461.3 L655.6,1464.7 L654.7,1467.9 L653.8,1471.1 L652.8,1474.0 L651.8,1476.8 L650.7,1479.4 L649.6,1482.0 L648.4,1484.5 L647.2,1486.9 L646.0,1489.2 L644.8,1491.6 L643.5,1493.9 L642.2,1496.1 L640.9,1498.4 L639.6,1500.7 L638.3,1503.0 L637.0,1505.3 L635.6,1507.6 L634.2,1509.8 L632.8,1512.1 L631.4,1514.3 L630.0,1516.5 L628.5,1518.7 L627.1,1520.9 L625.6,1523.2 L624.2,1525.4 L622.7,1527.7 L621.3,1530.0 L619.9,1532.4 L618.4,1534.8 L617.0,1537.3 L615.5,1539.8 L614.1,1542.3 L612.6,1544.8 L611.2,1547.3 L609.8,1549.8 L608.4,1552.2 L607.0,1554.6 L605.6,1556.8 L604.3,1559.0 L603.0,1561.1 L601.7,1563.1 L600.5,1565.1 L599.3,1567.1 L598.1,1569.0 L596.9,1570.8 L595.7,1572.6 L594.5,1574.3 L593.4,1576.0 L592.2,1577.7 L591.0,1579.3 L589.8,1580.8 L588.6,1582.2 L587.4,1583.5 L586.2,1584.7 L584.9,1585.8 L583.7,1586.9 L582.5,1587.9 L581.3,1588.9 L580.1,1590.0 L578.8,1591.2 L577.6,1592.4 L576.4,1593.8 L575.2,1595.3 L574.0,1597.0 L572.8,1598.7 L571.6,1600.6 L570.4,1602.5 L569.2,1604.5 L568.0,1606.5 L566.8,1608.6 L565.5,1610.8 L564.3,1613.0 L563.1,1615.2 L561.9,1617.4 L560.7,1619.6 L559.5,1621.8 L558.2,1624.1 L557.0,1626.4 L555.7,1628.8 L554.5,1631.1 L553.2,1633.5 L551.9,1636.0 L550.7,1638.5 L549.5,1641.0 L548.3,1643.5 L547.1,1646.1 L546.0,1648.7 L544.9,1651.4 L543.8,1654.1 L542.8,1656.9 L541.7,1659.7 L540.7,1662.6 L539.7,1665.5 L538.7,1668.4 L537.7,1671.3 L536.8,1674.2 L535.8,1677.0 L534.9,1679.8 L534.0,1682.6 L533.1,1685.3 L532.3,1688.1 L531.4,1690.8 L530.6,1693.5 L529.8,1696.2 L529.1,1698.9 L528.3,1701.5 L527.5,1704.1 L526.7,1706.7 L525.9,1709.2 L525.1,1711.6 L524.3,1714.0 L523.4,1716.3 L522.6,1718.4 L521.7,1720.4 L520.8,1722.3 L519.9,1724.2 L519.0,1726.1 L518.1,1728.0 L517.2,1730.0 L516.3,1732.0 L515.5,1734.1 L514.6,1736.4 L513.8,1738.8 L513.0,1741.4 L512.2,1744.2 L511.5,1747.1 L510.8,1750.1 L510.1,1753.2 L509.4,1756.4 L508.7,1759.6 L508.0,1762.7 L507.2,1765.8 L506.5,1768.9 L505.7,1771.8 L504.8,1774.6 L503.9,1777.3 L503.1,1779.8 L502.2,1782.3 L501.3,1784.8 L500.5,1787.1 L499.5,1789.5 L498.6,1791.9 L497.6,1794.3 L496.5,1796.7 L495.3,1799.2 L494.1,1801.7 L492.8,1804.4 L491.4,1807.2 L489.9,1810.0 L488.4,1813.0 L486.9,1815.9 L485.2,1819.0 L483.5,1822.0 L481.8,1825.1 L479.9,1828.1 L478.1,1831.1 L476.1,1834.2 L474.1,1837.1 L472.0,1840.0 L469.9,1842.9 L467.8,1845.8 L465.7,1848.7 L463.6,1851.6 L461.3,1854.5 L459.1,1857.4 L456.6,1860.2 L454.1,1863.0 L451.4,1865.7 L448.5,1868.2 L445.4,1870.7 L442.0,1873.0 L438.4,1875.2 L434.5,1877.2 L430.3,1879.1 L426.0,1880.9 L421.5,1882.7 L416.9,1884.4 L412.1,1886.0 L407.4,1887.6 L402.6,1889.1 L397.8,1890.7 L393.1,1892.3 L388.4,1894.0 L383.6,1895.7 L378.5,1897.6 L373.1,1899.4 L367.6,1901.3 L362.1,1903.2 L356.7,1905.0 L351.5,1906.8 L346.5,1908.4 L342.0,1910.0 L337.9,1911.3 L334.4,1912.5 L331.7,1913.4" fill="none" stroke="#ff0000" stroke-width="3.5" stroke-linejoin="round" stroke-linecap="round" />
<path d="M331.7,1913.4 L334.4,1912.5 L337.8,1911.3 L341.8,1910.0 L346.3,1908.5 L351.2,1906.9 L356.3,1905.2 L361.7,1903.4 L367.2,1901.5 L372.7,1899.6 L378.1,1897.7 L383.4,1895.8 L388.4,1894.0 L393.2,1892.2 L398.0,1890.3 L402.7,1888.4 L407.5,1886.5 L412.3,1884.5 L417.1,1882.5 L421.9,1880.4 L426.9,1878.4 L432.0,1876.3 L437.2,1874.2 L442.5,1872.1 L448.0,1870.0 L453.7,1867.9 L459.6,1865.7 L465.6,1863.6 L471.8,1861.4 L478.1,1859.2 L484.4,1857.0 L490.8,1854.8 L497.2,1852.5 L503.7,1850.2 L510.1,1847.9 L516.4,1845.5 L522.7,1843.0 L529.0,1840.5 L535.3,1837.9 L541.7,1835.2 L548.1,1832.4 L554.5,1829.7 L560.9,1826.9 L567.3,1824.1 L573.5,1821.3 L579.7,1818.5 L585.7,1815.7 L591.6,1813.0 L597.3,1810.4 L602.9,1807.8 L608.5,1805.1 L614.1,1802.5 L619.6,1799.8 L625.0,1797.2 L630.2,1794.6 L635.3,1792.0 L640.2,1789.5 L644.8,1787.1 L649.2,1784.8 L653.3,1782.7 L657.0,1780.6 L660.4,1778.7 L663.4,1776.9 L666.2,1775.3 L668.7,1773.8 L670.9,1772.3 L673.0,1770.9 L674.8,1769.6 L676.5,1768.2 L678.1,1766.9 L679.6,1765.5 L681.0,1764.2 L682.4,1762.7 L683.7,1761.3 L684.7,1760.0 L685.6,1758.9 L686.4,1757.7 L687.0,1756.6 L687.5,1755.4 L687.9,1754.2 L688.3,1752.8 L688.7,1751.2 L689.0,1749.3 L689.4,1747.2 L689.8,1744.8 L690.2,1742.0 L690.5,1738.9 L690.8,1735.5 L691.1,1731.8 L691.3,1728.0 L691.5,1724.0 L691.7,1720.0 L691.9,1715.9 L692.1,1711.8 L692.3,1707.7 L692.5,1703.8 L692.8,1700.0 L693.1,1696.3 L693.3,1692.7 L693.6,1689.1 L693.8,1685.4 L694.1,1681.8 L694.4,1678.2 L694.7,1674.6 L695.0,1671.0 L695.3,1667.3 L695.7,1663.6 L696.1,1659.8 L696.5,1656.0 L697.0,1652.0 L697.5,1647.9 L698.1,1643.7 L698.7,1639.4 L699.3,1635.1 L699.9,1630.8 L700.6,1626.5 L701.2,1622.3 L701.9,1618.3 L702.5,1614.4 L703.2,1610.8 L703.8,1607.4 L704.4,1604.3 L705.0,1601.4 L705.5,1598.7 L706.0,1596.2 L706.6,1593.8 L707.1,1591.5 L707.7,1589.2 L708.2,1587.1 L708.9,1584.9 L709.5,1582.7 L710.2,1580.4 L711.0,1578.0 L711.8,1575.6 L712.7,1573.1 L713.6,1570.7 L714.5,1568.3 L715.5,1565.9 L716.5,1563.5 L717.6,1561.1 L718.6,1558.7 L719.7,1556.2 L720.8,1553.8 L721.9,1551.4 L723.0,1549.0 L724.1,1546.5 L725.3,1544.0 L726.5,1541.4 L727.8,1538.8 L729.1,1536.2 L730.3,1533.6 L731.6,1531.0 L732.9,1528.6 L734.1,1526.2 L735.4,1524.0 L736.6,1521.9 L737.7,1520.0 L738.8,1518.3 L739.8,1516.8 L740.8,1515.5 L741.7,1514.3 L742.6,1513.2 L743.5,1512.2 L744.5,1511.2 L745.4,1510.2 L746.4,1509.2 L747.5,1508.1 L748.6,1506.9 L749.9,1505.6 L751.3,1504.2 L752.8,1502.7 L754.5,1501.3 L756.2,1499.8 L758.0,1498.3 L759.7,1496.7 L761.5,1495.1 L763.2,1493.4 L764.9,1491.7 L766.4,1489.9 L767.8,1488.0 L769.0,1486.0 L770.0,1483.9 L770.9,1481.5 L771.6,1479.0 L772.2,1476.4 L772.7,1473.7 L773.2,1471.0 L773.6,1468.4 L774.1,1465.8 L774.6,1463.3 L775.1,1461.0 L775.7,1458.9 L776.5,1457.0 L777.3,1455.4 L778.2,1454.1 L779.2,1453.0 L780.1,1452.0 L781.1,1451.2 L782.2,1450.4 L783.2,1449.7 L784.3,1448.9 L785.4,1448.1 L786.5,1447.2 L787.6,1446.2 L788.7,1445.0 L789.8,1443.7 L790.9,1442.3 L792.1,1440.9 L793.2,1439.4 L794.4,1437.9 L795.6,1436.3 L796.7,1434.7 L798.0,1433.0 L799.2,1431.2 L800.4,1429.4 L801.7,1427.5 L803.0,1425.5 L804.3,1423.4 L805.7,1421.2 L807.2,1419.0 L808.6,1416.6 L810.1,1414.2 L811.6,1411.7 L813.1,1409.2 L814.6,1406.6 L816.0,1404.1 L817.4,1401.5 L818.7,1398.9 L820.0,1396.4 L821.2,1393.9 L822.3,1391.4 L823.4,1388.9 L824.4,1386.5 L825.3,1384.0 L826.3,1381.5 L827.2,1378.9 L828.2,1376.3 L829.2,1373.6 L830.2,1370.8 L831.2,1368.0 L832.3,1365.0 L833.4,1361.9 L834.6,1358.8 L835.7,1355.6 L836.8,1352.4 L838.0,1349.0 L839.2,1345.6 L840.4,1342.2 L841.7,1338.6 L842.9,1335.0 L844.2,1331.3 L845.5,1327.5 L846.9,1323.7 L848.3,1319.7 L849.8,1315.4 L851.4,1310.9 L853.0,1306.3 L854.6,1301.6 L856.2,1297.0 L857.8,1292.3 L859.5,1287.8 L861.0,1283.4 L862.6,1279.2 L864.1,1275.3 L865.5,1271.7 L866.9,1268.4 L868.2,1265.4 L869.4,1262.5 L870.6,1259.9 L871.8,1257.4 L873.0,1255.0 L874.1,1252.7 L875.3,1250.5 L876.5,1248.4 L877.6,1246.4 L878.8,1244.3 L880.0,1242.3 L881.2,1240.3 L882.4,1238.5 L883.5,1236.8 L884.6,1235.1 L885.8,1233.6 L886.9,1232.0 L888.1,1230.5 L889.3,1229.0 L890.6,1227.5 L891.9,1226.0 L893.3,1224.4 L894.8,1222.7 L896.4,1220.9 L898.0,1219.1 L899.7,1217.2 L901.5,1215.3 L903.3,1213.3 L905.2,1211.4 L907.1,1209.5 L909.0,1207.6 L911.0,1205.7 L912.9,1204.0 L914.9,1202.3 L916.8,1200.7 L918.7,1199.2 L920.6,1197.8 L922.5,1196.5 L924.3,1195.3 L926.2,1194.1 L928.1,1192.9 L930.1,1191.7 L932.1,1190.6 L934.3,1189.5 L936.5,1188.4 L938.8,1187.2 L941.3,1186.0 L944.0,1184.8 L946.9,1183.5 L949.9,1182.2 L953.1,1180.9 L956.3,1179.7 L959.6,1178.4 L963.0,1177.1 L966.2,1175.9 L969.4,1174.7 L972.4,1173.6 L975.3,1172.4 L978.0,1171.4 L980.5,1170.4 L982.8,1169.5 L984.9,1168.6 L987.0,1167.7 L988.9,1166.9 L990.8,1166.1 L992.7,1165.4 L994.6,1164.6 L996.4,1163.9 L998.4,1163.1 L1000.4,1162.4 L1002.5,1161.6 L1004.8,1160.8 L1007.2,1160.0 L1009.8,1159.2 L1012.5,1158.3 L1015.1,1157.5 L1017.8,1156.7 L1020.3,1155.9 L1022.8,1155.2 L1025.0,1154.5 L1027.0,1153.9 L1028.7,1153.4 L1030.0,1153.0" fill="none" stroke="#ff0000" stroke-width="3.5" stroke-linejoin="round" stroke-linecap="round" />
<path d="M1030.0,1267.0 L1027.5,1268.0 L1024.3,1269.2 L1020.6,1270.7 L1016.4,1272.4 L1011.9,1274.2 L1007.1,1276.0 L1002.1,1278.0 L997.0,1279.9 L992.0,1281.7 L987.1,1283.4 L982.4,1285.0 L978.0,1286.3 L973.8,1287.4 L969.7,1288.5 L965.5,1289.4 L961.4,1290.2 L957.4,1291.0 L953.3,1291.7 L949.3,1292.4 L945.2,1293.1 L941.2,1293.8 L937.1,1294.5 L933.1,1295.2 L929.0,1296.0 L924.8,1296.8 L920.6,1297.7 L916.2,1298.5 L911.8,1299.4 L907.5,1300.3 L903.1,1301.2 L898.8,1302.0 L894.7,1302.9 L890.7,1303.7 L886.9,1304.5 L883.3,1305.3 L880.0,1306.0 L877.0,1306.7 L874.3,1307.3 L871.9,1307.9 L869.7,1308.5 L867.6,1309.1 L865.7,1309.6 L863.8,1310.2 L861.9,1310.7 L859.9,1311.3 L857.8,1311.9 L855.6,1312.5 L853.2,1313.2 L850.6,1313.9 L848.0,1314.7 L845.2,1315.4 L842.4,1316.2 L839.6,1317.0 L836.7,1317.8 L833.8,1318.6 L830.9,1319.5 L827.9,1320.3 L824.9,1321.2 L822.0,1322.1 L819.0,1323.0 L816.0,1323.9 L812.9,1324.9 L809.7,1326.0 L806.5,1327.0 L803.3,1328.1 L800.0,1329.2 L796.9,1330.2 L793.7,1331.3 L790.7,1332.3 L787.7,1333.4 L784.9,1334.4 L782.3,1335.3 L779.9,1336.2 L777.6,1337.0 L775.5,1337.7 L773.5,1338.4 L771.6,1339.1 L769.7,1339.8 L767.9,1340.6 L766.1,1341.3 L764.2,1342.1 L762.2,1343.0 L760.1,1343.9 L757.8,1345.0 L755.4,1346.2 L752.9,1347.4 L750.3,1348.8 L747.6,1350.2 L744.9,1351.6 L742.2,1353.1 L739.4,1354.7 L736.7,1356.2 L733.9,1357.7 L731.2,1359.3 L728.6,1360.7 L726.0,1362.2 L723.4,1363.6 L720.8,1365.1 L718.2,1366.5 L715.6,1368.0 L713.0,1369.5 L710.4,1370.9 L707.9,1372.4 L705.5,1373.8 L703.1,1375.2 L700.8,1376.6 L698.7,1378.0 L696.7,1379.3 L694.8,1380.6 L693.1,1381.7 L691.5,1382.8 L689.9,1383.8 L688.5,1384.9 L687.1,1385.9 L685.8,1387.0 L684.5,1388.1 L683.2,1389.4 L682.0,1390.8 L680.8,1392.3 L679.6,1394.0 L678.4,1395.9 L677.3,1398.1 L676.3,1400.4 L675.3,1402.9 L674.3,1405.4 L673.3,1408.0 L672.4,1410.7 L671.5,1413.3 L670.5,1415.9 L669.5,1418.4 L668.5,1420.8 L667.4,1423.0 L666.3,1425.0 L665.2,1426.9 L664.0,1428.7 L662.9,1430.3 L661.7,1432.0 L660.5,1433.6 L659.3,1435.2 L658.1,1436.9 L656.8,1438.7 L655.5,1440.6 L654.2,1442.7 L652.8,1445.0 L651.4,1447.5 L649.8,1450.1 L648.3,1452.9 L646.7,1455.8 L645.1,1458.7 L643.4,1461.8 L641.7,1464.9 L640.0,1468.1 L638.4,1471.3 L636.7,1474.5 L635.0,1477.8 L633.4,1481.0 L631.8,1484.3 L630.1,1487.6 L628.4,1490.9 L626.8,1494.4 L625.1,1497.8 L623.4,1501.3 L621.7,1504.8 L620.1,1508.3 L618.5,1511.9 L616.9,1515.4 L615.4,1519.0 L614.0,1522.5 L612.6,1526.1 L611.3,1529.7 L610.0,1533.3 L608.8,1537.0 L607.6,1540.7 L606.4,1544.4 L605.3,1548.1 L604.2,1551.8 L603.0,1555.4 L601.9,1559.0 L600.7,1562.5 L599.5,1566.0 L598.3,1569.4 L597.1,1572.8 L596.0,1576.1 L594.9,1579.3 L593.7,1582.6 L592.6,1585.8 L591.4,1589.0 L590.2,1592.2 L589.0,1595.4 L587.7,1598.6 L586.4,1601.8 L585.0,1605.0 L583.6,1608.2 L582.0,1611.5 L580.5,1614.7 L578.9,1617.9 L577.2,1621.2 L575.6,1624.4 L573.9,1627.6 L572.2,1630.9 L570.5,1634.1 L568.8,1637.3 L567.1,1640.6 L565.5,1643.8 L563.9,1647.1 L562.2,1650.4 L560.5,1653.7 L558.9,1657.1 L557.2,1660.4 L555.5,1663.8 L553.9,1667.1 L552.2,1670.4 L550.6,1673.6 L549.0,1676.7 L547.5,1679.7 L546.0,1682.6 L544.5,1685.4 L543.1,1688.3 L541.6,1691.1 L540.2,1693.9 L538.8,1696.5 L537.4,1699.2 L536.1,1701.7 L534.8,1704.1 L533.5,1706.3 L532.3,1708.4 L531.1,1710.3 L530.0,1712.0 L529.0,1713.4 L528.2,1714.5 L527.5,1715.3 L527.0,1716.0 L526.4,1716.4 L525.9,1716.8 L525.3,1717.2 L524.6,1717.7 L523.7,1718.2 L522.6,1718.9 L521.3,1719.8 L519.7,1721.0 L517.8,1722.5 L515.6,1724.1 L513.2,1726.0 L510.7,1727.9 L508.0,1730.0 L505.1,1732.1 L502.2,1734.3 L499.2,1736.5 L496.1,1738.7 L493.1,1740.8 L490.0,1742.9 L487.0,1744.8 L484.0,1746.7 L481.1,1748.5 L478.2,1750.3 L475.2,1752.1 L472.2,1753.9 L469.2,1755.6 L466.0,1757.3 L462.8,1759.1 L459.3,1760.8 L455.8,1762.5 L452.0,1764.3 L448.0,1766.0 L443.7,1767.8 L439.2,1769.6 L434.5,1771.4 L429.6,1773.2 L424.5,1775.0 L419.3,1776.8 L414.1,1778.6 L408.8,1780.3 L403.6,1782.0 L398.4,1783.6 L393.3,1785.1 L388.4,1786.5 L383.4,1787.8 L378.1,1789.1 L372.7,1790.4 L367.2,1791.6 L361.7,1792.7 L356.3,1793.8 L351.2,1794.8 L346.3,1795.7 L341.8,1796.5 L337.8,1797.3 L334.4,1797.9 L331.7,1798.5" fill="none" stroke="#0000ff" stroke-width="3.5" stroke-linejoin="round" stroke-linecap="round" />
<path d="M331.7,1798.5 L334.4,1798.0 L337.8,1797.4 L341.8,1796.7 L346.3,1796.0 L351.2,1795.1 L356.3,1794.2 L361.7,1793.2 L367.2,1792.2 L372.7,1791.1 L378.1,1790.0 L383.4,1788.7 L388.4,1787.5 L393.4,1786.1 L398.5,1784.6 L403.8,1783.0 L409.1,1781.2 L414.5,1779.4 L419.9,1777.6 L425.1,1775.8 L430.2,1774.0 L435.1,1772.3 L439.7,1770.7 L444.1,1769.3 L448.0,1768.0 L451.5,1766.9 L454.6,1766.0 L457.4,1765.2 L460.0,1764.4 L462.3,1763.8 L464.5,1763.2 L466.6,1762.6 L468.7,1762.1 L470.8,1761.6 L473.0,1761.0 L475.4,1760.4 L478.0,1759.7 L480.7,1759.0 L483.4,1758.3 L486.1,1757.7 L488.8,1757.1 L491.6,1756.5 L494.4,1755.8 L497.3,1755.1 L500.3,1754.4 L503.5,1753.6 L506.7,1752.7 L510.2,1751.8 L513.8,1750.7 L517.6,1749.5 L521.6,1748.3 L525.8,1747.0 L530.2,1745.6 L534.6,1744.2 L539.2,1742.7 L543.8,1741.1 L548.5,1739.5 L553.2,1737.9 L558.0,1736.2 L562.8,1734.5 L567.5,1732.8 L572.3,1731.0 L577.4,1729.1 L582.5,1727.2 L587.8,1725.1 L593.1,1723.1 L598.4,1721.0 L603.6,1718.9 L608.7,1716.8 L613.7,1714.8 L618.4,1712.8 L622.9,1710.8 L627.0,1709.0 L630.8,1707.2 L634.5,1705.5 L637.9,1703.8 L641.2,1702.2 L644.3,1700.5 L647.2,1699.0 L650.1,1697.4 L652.7,1695.9 L655.3,1694.4 L657.8,1692.9 L660.2,1691.4 L662.5,1690.0 L664.7,1688.6 L666.8,1687.3 L668.7,1686.0 L670.6,1684.8 L672.3,1683.6 L673.9,1682.4 L675.4,1681.2 L676.8,1680.0 L678.2,1678.8 L679.5,1677.6 L680.8,1676.3 L682.0,1675.0 L683.1,1673.7 L684.1,1672.5 L684.9,1671.3 L685.6,1670.1 L686.2,1668.9 L686.8,1667.7 L687.4,1666.4 L688.0,1665.0 L688.7,1663.5 L689.5,1661.8 L690.5,1660.0 L691.6,1658.0 L692.9,1655.8 L694.2,1653.5 L695.6,1651.0 L697.2,1648.4 L698.7,1645.7 L700.4,1642.9 L702.1,1640.0 L703.8,1637.0 L705.6,1633.9 L707.4,1630.8 L709.2,1627.6 L711.0,1624.4 L712.9,1621.1 L714.9,1617.6 L717.0,1614.0 L719.1,1610.2 L721.3,1606.4 L723.4,1602.6 L725.6,1598.7 L727.7,1594.9 L729.8,1591.2 L731.8,1587.5 L733.6,1584.0 L735.3,1580.7 L736.9,1577.5 L738.4,1574.4 L739.7,1571.4 L741.1,1568.5 L742.3,1565.6 L743.5,1562.8 L744.7,1560.1 L745.8,1557.4 L746.8,1554.7 L747.9,1552.1 L748.9,1549.4 L749.9,1546.8 L750.9,1544.2 L751.7,1541.8 L752.6,1539.4 L753.3,1537.1 L754.1,1534.8 L754.8,1532.6 L755.5,1530.3 L756.2,1527.9 L757.0,1525.5 L757.8,1523.1 L758.6,1520.4 L759.6,1517.7 L760.6,1514.8 L761.7,1511.9 L762.9,1508.8 L764.0,1505.7 L765.3,1502.5 L766.5,1499.2 L767.7,1495.9 L769.0,1492.6 L770.3,1489.2 L771.5,1485.8 L772.8,1482.3 L774.0,1478.9 L775.2,1475.4 L776.4,1471.9 L777.5,1468.3 L778.7,1464.6 L779.9,1460.9 L781.0,1457.2 L782.2,1453.5 L783.4,1449.8 L784.7,1446.1 L786.0,1442.3 L787.3,1438.7 L788.7,1435.0 L790.1,1431.3 L791.6,1427.6 L793.1,1423.8 L794.6,1420.1 L796.2,1416.3 L797.8,1412.5 L799.4,1408.8 L801.0,1405.2 L802.7,1401.6 L804.4,1398.1 L806.2,1394.8 L808.0,1391.6 L809.8,1388.6 L811.8,1385.6 L813.7,1382.9 L815.7,1380.2 L817.8,1377.6 L819.8,1375.1 L821.9,1372.6 L824.0,1370.1 L826.1,1367.6 L828.2,1365.1 L830.3,1362.6 L832.3,1360.0 L834.3,1357.3 L836.4,1354.5 L838.4,1351.7 L840.4,1348.8 L842.5,1345.9 L844.5,1343.1 L846.5,1340.3 L848.6,1337.6 L850.6,1335.1 L852.6,1332.7 L854.6,1330.5 L856.6,1328.5 L858.5,1326.8 L860.4,1325.4 L862.2,1324.1 L864.0,1323.1 L865.7,1322.2 L867.5,1321.4 L869.3,1320.6 L871.2,1319.8 L873.2,1318.9 L875.3,1318.0 L877.6,1316.9 L880.0,1315.7 L882.6,1314.3 L885.4,1312.7 L888.3,1311.0 L891.3,1309.3 L894.4,1307.5 L897.6,1305.7 L900.8,1303.8 L904.0,1302.1 L907.3,1300.4 L910.5,1298.8 L913.7,1297.3 L916.8,1296.0 L919.7,1294.9 L922.5,1293.9 L925.0,1293.1 L927.6,1292.4 L930.1,1291.8 L932.7,1291.2 L935.4,1290.6 L938.3,1289.9 L941.5,1289.2 L945.1,1288.4 L949.0,1287.4 L953.5,1286.3 L958.7,1284.9 L964.8,1283.3 L971.6,1281.5 L978.9,1279.6 L986.4,1277.6 L994.0,1275.5 L1001.5,1273.6 L1008.7,1271.7 L1015.3,1269.9 L1021.2,1268.3 L1026.2,1267.0 L1030.0,1266.0" fill="none" stroke="#0000ff" stroke-width="3.5" stroke-linejoin="round" stroke-linecap="round" />
<rect x="218.6" y="1071.5" width="920.9" height="904.5" fill="none" stroke="#000" stroke-width="8.5"/>
<line x1="218.6" y1="1071.5" x2="200.6" y2="1071.5" stroke="#000" stroke-width="7" />
<line x1="218.6" y1="1184.8" x2="207.6" y2="1184.8" stroke="#000" stroke-width="6" />
<line x1="218.6" y1="1298.0" x2="200.6" y2="1298.0" stroke="#000" stroke-width="7" />
<line x1="218.6" y1="1411.0" x2="207.6" y2="1411.0" stroke="#000" stroke-width="6" />
<line x1="218.6" y1="1524.5" x2="200.6" y2="1524.5" stroke="#000" stroke-width="7" />
<line x1="218.6" y1="1637.6" x2="207.6" y2="1637.6" stroke="#000" stroke-width="6" />
<line x1="218.6" y1="1750.7" x2="200.6" y2="1750.7" stroke="#000" stroke-width="7" />
<line x1="218.6" y1="1863.5" x2="207.6" y2="1863.5" stroke="#000" stroke-width="6" />
<line x1="218.6" y1="1976.0" x2="200.6" y2="1976.0" stroke="#000" stroke-width="7" />
<line x1="218.6" y1="1976.0" x2="218.6" y2="1987.0" stroke="#000" stroke-width="6" />
<line x1="372.5" y1="1976.0" x2="372.5" y2="1994.0" stroke="#000" stroke-width="7" />
<line x1="525.7" y1="1976.0" x2="525.7" y2="1987.0" stroke="#000" stroke-width="6" />
<line x1="679.0" y1="1976.0" x2="679.0" y2="1994.0" stroke="#000" stroke-width="7" />
<line x1="831.5" y1="1976.0" x2="831.5" y2="1987.0" stroke="#000" stroke-width="6" />
<line x1="984.0" y1="1976.0" x2="984.0" y2="1994.0" stroke="#000" stroke-width="7" />
<line x1="1139.5" y1="1976.0" x2="1139.5" y2="1987.0" stroke="#000" stroke-width="6" />
<text x="128.4" y="1090.2" style="font-size:58px" text-anchor="start" fill="#000" >60</text>
<text x="128.4" y="1316.7" style="font-size:58px" text-anchor="start" fill="#000" >30</text>
<text x="160.6" y="1540.3" style="font-size:58px" text-anchor="start" fill="#000" >0</text>
<text x="107.1" y="1768.6" style="font-size:58px" text-anchor="start" fill="#000" >-30</text>
<text x="107.1" y="1994.0" style="font-size:58px" text-anchor="start" fill="#000" >-60</text>
<text x="342.1" y="2047.7" style="font-size:58px" text-anchor="start" fill="#000" >-1</text>
<text x="661.2" y="2047.7" style="font-size:58px" text-anchor="start" fill="#000" >0</text>
<text x="965.9" y="2047.7" style="font-size:58px" text-anchor="start" fill="#000" >1</text>
<text x="14.6" y="1092.2" style="font-size:80px" text-anchor="start" fill="#000" >(c)</text>
<text x="604" y="2116" style="font-size:79px"><tspan style="font-style:italic">H</tspan>(T)</text>
<text transform="translate(90,1739) rotate(-90)" style="font-size:79px"><tspan style="font-style:italic">M</tspan>(emu/g)</text>
<text x="239.6" y="1136.7" style="font-size:59px">(a) ZnFe<tspan dy="23" style="font-size:33px">2</tspan><tspan dy="-23">O</tspan><tspan dy="23" style="font-size:33px">4</tspan></text>
<text x="239.6" y="1232" style="font-size:59px">(b) SrFe<tspan dy="23" style="font-size:33px">12</tspan><tspan dy="-23">O</tspan><tspan dy="23" style="font-size:33px">19</tspan></text>
<text x="239.6" y="1327" style="font-size:59px">(c) ZnFe<tspan dy="23" style="font-size:33px">2</tspan><tspan dy="-23">O</tspan><tspan dy="23" style="font-size:33px">4</tspan><tspan dy="-23">/SrFe</tspan><tspan dy="23" style="font-size:33px">12</tspan><tspan dy="-23">O</tspan><tspan dy="23" style="font-size:33px">19</tspan></text>
<text x="1042.1" y="1175.4" style="font-size:63px" text-anchor="start" fill="#000" >(b)</text>
<text x="1042.1" y="1288.0" style="font-size:63px" text-anchor="start" fill="#000" >(c)</text>
<text x="1042.1" y="1530.0" style="font-size:63px" text-anchor="start" fill="#000" >(a)</text>
<line x1="1798.3" y1="1074.0" x2="1798.3" y2="1956.0" stroke="#efefef" stroke-width="16" />
<line x1="1364.0" y1="1228.9" x2="2233.0" y2="1228.9" stroke="#efefef" stroke-width="16" />
<line x1="1364.0" y1="1384.4" x2="2233.0" y2="1384.4" stroke="#efefef" stroke-width="16" />
<line x1="1364.0" y1="1511.7" x2="2233.0" y2="1511.7" stroke="#efefef" stroke-width="16" />
<line x1="1364.0" y1="1641.2" x2="2233.0" y2="1641.2" stroke="#efefef" stroke-width="16" />
<line x1="1364.0" y1="1797.6" x2="2233.0" y2="1797.6" stroke="#efefef" stroke-width="16" />
<line x1="1798.3" y1="1074.0" x2="1798.3" y2="1956.0" stroke="#c6c6c6" stroke-width="10.5" />
<line x1="1364.0" y1="1228.9" x2="2233.0" y2="1228.9" stroke="#c3c3c3" stroke-width="10.5" />
<line x1="1364.0" y1="1384.4" x2="2233.0" y2="1384.4" stroke="#c3c3c3" stroke-width="10.5" />
<line x1="1364.0" y1="1511.7" x2="2233.0" y2="1511.7" stroke="#c3c3c3" stroke-width="10.5" />
<line x1="1364.0" y1="1641.2" x2="2233.0" y2="1641.2" stroke="#c3c3c3" stroke-width="10.5" />
<line x1="1364.0" y1="1797.6" x2="2233.0" y2="1797.6" stroke="#c3c3c3" stroke-width="10.5" />
<line x1="1364.0" y1="1951.0" x2="2233.0" y2="1951.0" stroke="#c4c4c4" stroke-width="7" />
<line x1="1364.0" y1="1228.9" x2="2233.0" y2="1228.9" stroke="#949494" stroke-width="4.5" />
<line x1="1364.0" y1="1384.4" x2="2233.0" y2="1384.4" stroke="#949494" stroke-width="4.5" />
<line x1="1364.0" y1="1511.7" x2="2233.0" y2="1511.7" stroke="#949494" stroke-width="4.5" />
<line x1="1364.0" y1="1641.2" x2="2233.0" y2="1641.2" stroke="#949494" stroke-width="4.5" />
<line x1="1364.0" y1="1797.6" x2="2233.0" y2="1797.6" stroke="#949494" stroke-width="4.5" />
<line x1="1798.3" y1="1074.0" x2="1798.3" y2="1956.0" stroke="#9a9a9a" stroke-width="4.5" />
<path d="M2231.0,1090.6 L2227.1,1090.9 L2222.3,1091.3 L2216.6,1091.7 L2210.1,1092.2 L2203.2,1092.7 L2195.8,1093.3 L2188.2,1093.8 L2180.4,1094.4 L2172.7,1095.0 L2165.2,1095.6 L2158.1,1096.2 L2151.4,1096.7 L2145.0,1097.2 L2138.5,1097.7 L2132.0,1098.3 L2125.6,1098.8 L2119.1,1099.3 L2112.8,1099.8 L2106.5,1100.3 L2100.4,1100.9 L2094.5,1101.4 L2088.7,1101.9 L2083.2,1102.3 L2078.0,1102.8 L2073.1,1103.3 L2068.4,1103.7 L2064.0,1104.1 L2059.9,1104.5 L2055.9,1104.9 L2052.0,1105.3 L2048.2,1105.7 L2044.4,1106.1 L2040.7,1106.5 L2036.9,1106.9 L2033.0,1107.3 L2029.0,1107.7 L2024.9,1108.1 L2020.8,1108.5 L2016.8,1108.9 L2012.7,1109.3 L2008.6,1109.7 L2004.5,1110.1 L2000.4,1110.5 L1996.3,1110.9 L1992.2,1111.3 L1988.2,1111.7 L1984.1,1112.1 L1980.0,1112.6 L1975.9,1113.1 L1971.8,1113.6 L1967.7,1114.1 L1963.7,1114.6 L1959.6,1115.1 L1955.5,1115.6 L1951.4,1116.2 L1947.3,1116.7 L1943.2,1117.2 L1939.1,1117.7 L1935.1,1118.2 L1931.0,1118.7 L1926.9,1119.1 L1922.9,1119.5 L1918.8,1119.9 L1914.8,1120.2 L1910.7,1120.6 L1906.6,1120.9 L1902.6,1121.3 L1898.5,1121.6 L1894.5,1122.1 L1890.4,1122.5 L1886.4,1123.0 L1882.3,1123.6 L1878.2,1124.2 L1873.9,1124.9 L1869.5,1125.7 L1865.1,1126.5 L1860.7,1127.3 L1856.3,1128.1 L1852.0,1129.0 L1847.9,1129.9 L1843.9,1130.8 L1840.1,1131.6 L1836.6,1132.5 L1833.4,1133.4 L1830.5,1134.3 L1827.7,1135.2 L1825.2,1136.1 L1822.9,1137.1 L1820.7,1138.0 L1818.7,1139.0 L1816.8,1139.9 L1815.1,1140.9 L1813.4,1141.8 L1811.9,1142.7 L1810.4,1143.6 L1809.0,1144.4 L1807.7,1145.2 L1806.6,1145.9 L1805.6,1146.5 L1804.8,1147.1 L1804.0,1147.7 L1803.4,1148.3 L1802.8,1148.9 L1802.3,1149.6 L1801.8,1150.3 L1801.4,1151.1 L1800.9,1152.0 L1800.4,1153.0 L1799.9,1154.1 L1799.5,1155.3 L1799.1,1156.5 L1798.8,1157.8 L1798.5,1159.1 L1798.2,1160.5 L1797.9,1162.0 L1797.7,1163.5 L1797.4,1165.0 L1797.2,1166.6 L1797.0,1168.3 L1796.7,1170.0 L1796.4,1171.8 L1796.2,1173.7 L1796.0,1175.8 L1795.8,1177.9 L1795.6,1180.0 L1795.4,1182.2 L1795.2,1184.4 L1795.0,1186.6 L1794.8,1188.7 L1794.6,1190.8 L1794.4,1192.7 L1794.2,1194.5 L1794.0,1196.2 L1793.8,1197.8 L1793.6,1199.4 L1793.5,1200.9 L1793.3,1202.3 L1793.1,1203.7 L1793.0,1205.1 L1792.8,1206.4 L1792.6,1207.8 L1792.3,1209.1 L1792.1,1210.4 L1791.8,1211.7 L1791.5,1213.0 L1791.3,1214.3 L1791.0,1215.5 L1790.7,1216.8 L1790.5,1218.0 L1790.2,1219.2 L1789.8,1220.3 L1789.4,1221.5 L1789.0,1222.7 L1788.4,1223.9 L1787.8,1225.1 L1787.0,1226.3 L1786.1,1227.5 L1785.2,1228.8 L1784.1,1230.0 L1783.0,1231.3 L1781.9,1232.6 L1780.6,1233.8 L1779.3,1235.1 L1778.0,1236.3 L1776.6,1237.5 L1775.1,1238.7 L1773.7,1239.9 L1772.2,1241.0 L1770.7,1242.1 L1769.2,1243.1 L1767.6,1244.0 L1766.1,1244.9 L1764.5,1245.8 L1762.8,1246.7 L1761.1,1247.6 L1759.3,1248.5 L1757.4,1249.5 L1755.4,1250.6 L1753.4,1251.7 L1751.2,1253.0 L1748.9,1254.4 L1746.4,1255.8 L1743.7,1257.3 L1740.9,1258.9 L1738.1,1260.6 L1735.2,1262.3 L1732.3,1264.0 L1729.4,1265.7 L1726.6,1267.5 L1723.9,1269.2 L1721.4,1270.9 L1719.0,1272.5 L1716.8,1274.1 L1714.6,1275.8 L1712.5,1277.4 L1710.5,1279.1 L1708.5,1280.8 L1706.7,1282.4 L1704.8,1284.1 L1703.0,1285.7 L1701.3,1287.3 L1699.6,1288.9 L1697.9,1290.4 L1696.3,1291.9 L1694.8,1293.3 L1693.4,1294.7 L1692.2,1296.0 L1691.1,1297.3 L1690.0,1298.5 L1688.9,1299.8 L1687.8,1301.0 L1686.6,1302.3 L1685.3,1303.6 L1683.7,1305.0 L1682.0,1306.4 L1680.0,1308.0 L1677.7,1309.7 L1675.3,1311.5 L1672.6,1313.4 L1669.8,1315.4 L1666.8,1317.4 L1663.8,1319.5 L1660.6,1321.5 L1657.4,1323.5 L1654.2,1325.5 L1651.0,1327.3 L1647.8,1329.0 L1644.7,1330.6 L1641.6,1332.0 L1638.6,1333.4 L1635.5,1334.7 L1632.4,1335.9 L1629.3,1337.0 L1626.2,1338.1 L1623.0,1339.1 L1619.8,1340.0 L1616.4,1341.0 L1613.1,1341.8 L1609.6,1342.7 L1606.0,1343.5 L1602.3,1344.3 L1598.3,1345.0 L1594.2,1345.7 L1590.0,1346.3 L1585.7,1346.9 L1581.4,1347.4 L1577.1,1347.9 L1572.8,1348.4 L1568.7,1348.8 L1564.8,1349.2 L1561.0,1349.6 L1557.5,1350.0 L1554.3,1350.3 L1551.5,1350.6 L1549.0,1350.8 L1546.7,1350.9 L1544.4,1351.1 L1542.2,1351.2 L1540.0,1351.3 L1537.6,1351.4 L1535.0,1351.6 L1532.1,1351.8 L1528.8,1352.1 L1525.0,1352.5 L1520.8,1353.0 L1516.5,1353.5 L1511.8,1354.1 L1507.0,1354.7 L1501.9,1355.3 L1496.6,1356.0 L1491.1,1356.7 L1485.4,1357.4 L1479.5,1358.1 L1473.4,1358.8 L1467.1,1359.4 L1460.6,1360.0 L1453.5,1360.6 L1445.6,1361.2 L1437.1,1361.7 L1428.1,1362.3 L1418.9,1362.9 L1409.8,1363.5 L1400.8,1364.0 L1392.3,1364.5 L1384.5,1365.0 L1377.5,1365.4 L1371.6,1365.7 L1367.0,1366.0" fill="none" stroke="#f0d4d4" stroke-width="16" stroke-linejoin="round" stroke-linecap="round" stroke-opacity="0.6"/>
<path d="M1367.0,1367.0 L1371.6,1366.7 L1377.5,1366.4 L1384.5,1366.0 L1392.3,1365.5 L1400.8,1365.0 L1409.8,1364.5 L1418.9,1363.9 L1428.1,1363.4 L1437.1,1362.8 L1445.6,1362.2 L1453.5,1361.6 L1460.6,1361.0 L1467.0,1360.4 L1473.2,1359.8 L1479.1,1359.1 L1484.8,1358.4 L1490.3,1357.7 L1495.6,1357.0 L1500.8,1356.3 L1505.8,1355.6 L1510.7,1354.9 L1515.5,1354.2 L1520.3,1353.6 L1525.0,1353.0 L1529.6,1352.5 L1534.0,1351.9 L1538.3,1351.4 L1542.4,1351.0 L1546.4,1350.5 L1550.3,1350.1 L1554.2,1349.7 L1558.0,1349.2 L1561.8,1348.8 L1565.7,1348.4 L1569.6,1348.0 L1573.6,1347.5 L1577.6,1347.0 L1581.5,1346.6 L1585.3,1346.1 L1589.1,1345.6 L1593.0,1345.2 L1596.8,1344.7 L1600.7,1344.3 L1604.7,1343.8 L1608.8,1343.3 L1613.0,1342.9 L1617.4,1342.4 L1622.0,1342.0 L1626.9,1341.6 L1632.0,1341.2 L1637.4,1340.8 L1642.9,1340.4 L1648.6,1340.0 L1654.3,1339.7 L1660.0,1339.3 L1665.7,1338.9 L1671.2,1338.4 L1676.6,1338.0 L1681.7,1337.5 L1686.6,1337.0 L1691.3,1336.4 L1695.8,1335.9 L1700.2,1335.3 L1704.5,1334.7 L1708.7,1334.0 L1712.8,1333.4 L1716.8,1332.7 L1720.7,1332.0 L1724.4,1331.3 L1728.0,1330.6 L1731.6,1329.8 L1735.0,1329.0 L1738.3,1328.2 L1741.5,1327.3 L1744.6,1326.3 L1747.6,1325.4 L1750.4,1324.4 L1753.2,1323.4 L1755.8,1322.4 L1758.3,1321.4 L1760.8,1320.4 L1763.1,1319.4 L1765.3,1318.5 L1767.4,1317.7 L1769.4,1316.9 L1771.2,1316.1 L1772.9,1315.4 L1774.4,1314.7 L1775.9,1314.0 L1777.2,1313.3 L1778.5,1312.7 L1779.7,1312.1 L1780.9,1311.4 L1782.1,1310.8 L1783.3,1310.1 L1784.5,1309.5 L1785.7,1308.9 L1786.9,1308.4 L1788.1,1308.0 L1789.2,1307.6 L1790.3,1307.1 L1791.4,1306.7 L1792.4,1306.3 L1793.4,1305.7 L1794.3,1305.1 L1795.1,1304.3 L1796.0,1303.3 L1796.7,1302.2 L1797.4,1300.9 L1798.0,1299.4 L1798.6,1297.9 L1799.1,1296.2 L1799.5,1294.4 L1799.9,1292.5 L1800.3,1290.5 L1800.6,1288.5 L1800.9,1286.4 L1801.2,1284.3 L1801.4,1282.1 L1801.6,1280.0 L1801.8,1277.8 L1801.8,1275.5 L1801.8,1273.1 L1801.8,1270.6 L1801.7,1268.1 L1801.6,1265.5 L1801.5,1263.0 L1801.4,1260.4 L1801.4,1257.9 L1801.4,1255.5 L1801.4,1253.1 L1801.6,1250.8 L1801.8,1248.6 L1802.0,1246.3 L1802.3,1244.1 L1802.5,1241.8 L1802.8,1239.6 L1803.1,1237.5 L1803.5,1235.4 L1804.0,1233.4 L1804.5,1231.5 L1805.1,1229.6 L1805.7,1227.9 L1806.5,1226.3 L1807.3,1224.8 L1808.2,1223.5 L1809.2,1222.4 L1810.2,1221.3 L1811.3,1220.3 L1812.5,1219.4 L1813.8,1218.5 L1815.1,1217.6 L1816.4,1216.8 L1817.9,1215.9 L1819.4,1215.0 L1821.0,1214.0 L1822.7,1213.0 L1824.5,1212.0 L1826.4,1211.0 L1828.5,1210.0 L1830.5,1209.0 L1832.7,1208.0 L1834.9,1207.0 L1837.0,1206.0 L1839.2,1205.0 L1841.4,1204.0 L1843.5,1203.0 L1845.6,1202.0 L1847.7,1201.0 L1849.8,1200.0 L1852.0,1198.9 L1854.2,1197.9 L1856.4,1196.9 L1858.6,1195.8 L1860.7,1194.8 L1862.8,1193.7 L1864.8,1192.7 L1866.6,1191.7 L1868.4,1190.6 L1870.0,1189.6 L1871.4,1188.6 L1872.7,1187.5 L1873.9,1186.5 L1874.9,1185.4 L1875.9,1184.4 L1876.8,1183.3 L1877.6,1182.3 L1878.5,1181.3 L1879.3,1180.3 L1880.3,1179.3 L1881.2,1178.3 L1882.3,1177.4 L1883.4,1176.5 L1884.5,1175.7 L1885.6,1175.0 L1886.8,1174.3 L1887.9,1173.6 L1889.0,1173.0 L1890.2,1172.3 L1891.5,1171.5 L1892.8,1170.7 L1894.1,1169.8 L1895.5,1168.8 L1897.0,1167.6 L1898.6,1166.3 L1900.3,1164.8 L1902.1,1163.2 L1904.0,1161.4 L1905.9,1159.6 L1907.9,1157.8 L1909.8,1156.0 L1911.8,1154.2 L1913.7,1152.4 L1915.5,1150.8 L1917.3,1149.3 L1919.0,1148.0 L1920.5,1146.9 L1921.9,1145.9 L1923.2,1145.0 L1924.5,1144.2 L1925.7,1143.5 L1926.9,1142.8 L1928.1,1142.2 L1929.4,1141.5 L1930.8,1140.8 L1932.4,1140.1 L1934.1,1139.3 L1936.0,1138.3 L1938.2,1137.2 L1940.6,1136.1 L1943.1,1134.9 L1945.8,1133.6 L1948.7,1132.3 L1951.5,1131.0 L1954.4,1129.6 L1957.3,1128.3 L1960.2,1127.0 L1962.9,1125.8 L1965.6,1124.7 L1968.0,1123.6 L1970.3,1122.6 L1972.4,1121.7 L1974.3,1120.7 L1976.2,1119.9 L1978.1,1119.0 L1979.9,1118.2 L1981.8,1117.5 L1983.6,1116.7 L1985.6,1116.0 L1987.7,1115.2 L1990.0,1114.5 L1992.4,1113.8 L1995.0,1113.1 L1997.7,1112.4 L2000.4,1111.7 L2003.2,1111.1 L2006.2,1110.5 L2009.2,1109.9 L2012.3,1109.3 L2015.4,1108.7 L2018.7,1108.1 L2022.0,1107.6 L2025.5,1107.0 L2029.0,1106.5 L2032.6,1106.0 L2036.2,1105.5 L2039.8,1105.1 L2043.5,1104.7 L2047.3,1104.3 L2051.2,1103.9 L2055.2,1103.5 L2059.4,1103.2 L2063.7,1102.8 L2068.3,1102.4 L2073.0,1101.9 L2078.0,1101.5 L2083.2,1101.0 L2088.7,1100.6 L2094.5,1100.1 L2100.4,1099.6 L2106.5,1099.1 L2112.8,1098.6 L2119.1,1098.1 L2125.6,1097.5 L2132.0,1097.0 L2138.5,1096.5 L2145.0,1096.0 L2151.4,1095.5 L2158.1,1095.0 L2165.2,1094.4 L2172.7,1093.9 L2180.4,1093.3 L2188.2,1092.7 L2195.8,1092.1 L2203.2,1091.6 L2210.1,1091.1 L2216.6,1090.6 L2222.3,1090.2 L2227.1,1089.8 L2231.0,1089.5" fill="none" stroke="#f0d4d4" stroke-width="16" stroke-linejoin="round" stroke-linecap="round" stroke-opacity="0.6"/>
<path d="M2231.0,1090.6 L2227.1,1090.9 L2222.3,1091.3 L2216.6,1091.7 L2210.1,1092.2 L2203.2,1092.7 L2195.8,1093.3 L2188.2,1093.8 L2180.4,1094.4 L2172.7,1095.0 L2165.2,1095.6 L2158.1,1096.2 L2151.4,1096.7 L2145.0,1097.2 L2138.5,1097.7 L2132.0,1098.3 L2125.6,1098.8 L2119.1,1099.3 L2112.8,1099.8 L2106.5,1100.3 L2100.4,1100.9 L2094.5,1101.4 L2088.7,1101.9 L2083.2,1102.3 L2078.0,1102.8 L2073.1,1103.3 L2068.4,1103.7 L2064.0,1104.1 L2059.9,1104.5 L2055.9,1104.9 L2052.0,1105.3 L2048.2,1105.7 L2044.4,1106.1 L2040.7,1106.5 L2036.9,1106.9 L2033.0,1107.3 L2029.0,1107.7 L2024.9,1108.1 L2020.8,1108.5 L2016.8,1108.9 L2012.7,1109.3 L2008.6,1109.7 L2004.5,1110.1 L2000.4,1110.5 L1996.3,1110.9 L1992.2,1111.3 L1988.2,1111.7 L1984.1,1112.1 L1980.0,1112.6 L1975.9,1113.1 L1971.8,1113.6 L1967.7,1114.1 L1963.7,1114.6 L1959.6,1115.1 L1955.5,1115.6 L1951.4,1116.2 L1947.3,1116.7 L1943.2,1117.2 L1939.1,1117.7 L1935.1,1118.2 L1931.0,1118.7 L1926.9,1119.1 L1922.9,1119.5 L1918.8,1119.9 L1914.8,1120.2 L1910.7,1120.6 L1906.6,1120.9 L1902.6,1121.3 L1898.5,1121.6 L1894.5,1122.1 L1890.4,1122.5 L1886.4,1123.0 L1882.3,1123.6 L1878.2,1124.2 L1873.9,1124.9 L1869.5,1125.7 L1865.1,1126.5 L1860.7,1127.3 L1856.3,1128.1 L1852.0,1129.0 L1847.9,1129.9 L1843.9,1130.8 L1840.1,1131.6 L1836.6,1132.5 L1833.4,1133.4 L1830.5,1134.3 L1827.7,1135.2 L1825.2,1136.1 L1822.9,1137.1 L1820.7,1138.0 L1818.7,1139.0 L1816.8,1139.9 L1815.1,1140.9 L1813.4,1141.8 L1811.9,1142.7 L1810.4,1143.6 L1809.0,1144.4 L1807.7,1145.2 L1806.6,1145.9 L1805.6,1146.5 L1804.8,1147.1 L1804.0,1147.7 L1803.4,1148.3 L1802.8,1148.9 L1802.3,1149.6 L1801.8,1150.3 L1801.4,1151.1 L1800.9,1152.0 L1800.4,1153.0 L1799.9,1154.1 L1799.5,1155.3 L1799.1,1156.5 L1798.8,1157.8 L1798.5,1159.1 L1798.2,1160.5 L1797.9,1162.0 L1797.7,1163.5 L1797.4,1165.0 L1797.2,1166.6 L1797.0,1168.3 L1796.7,1170.0 L1796.4,1171.8 L1796.2,1173.7 L1796.0,1175.8 L1795.8,1177.9 L1795.6,1180.0 L1795.4,1182.2 L1795.2,1184.4 L1795.0,1186.6 L1794.8,1188.7 L1794.6,1190.8 L1794.4,1192.7 L1794.2,1194.5 L1794.0,1196.2 L1793.8,1197.8 L1793.6,1199.4 L1793.5,1200.9 L1793.3,1202.3 L1793.1,1203.7 L1793.0,1205.1 L1792.8,1206.4 L1792.6,1207.8 L1792.3,1209.1 L1792.1,1210.4 L1791.8,1211.7 L1791.5,1213.0 L1791.3,1214.3 L1791.0,1215.5 L1790.7,1216.8 L1790.5,1218.0 L1790.2,1219.2 L1789.8,1220.3 L1789.4,1221.5 L1789.0,1222.7 L1788.4,1223.9 L1787.8,1225.1 L1787.0,1226.3 L1786.1,1227.5 L1785.2,1228.8 L1784.1,1230.0 L1783.0,1231.3 L1781.9,1232.6 L1780.6,1233.8 L1779.3,1235.1 L1778.0,1236.3 L1776.6,1237.5 L1775.1,1238.7 L1773.7,1239.9 L1772.2,1241.0 L1770.7,1242.1 L1769.2,1243.1 L1767.6,1244.0 L1766.1,1244.9 L1764.5,1245.8 L1762.8,1246.7 L1761.1,1247.6 L1759.3,1248.5 L1757.4,1249.5 L1755.4,1250.6 L1753.4,1251.7 L1751.2,1253.0 L1748.9,1254.4 L1746.4,1255.8 L1743.7,1257.3 L1740.9,1258.9 L1738.1,1260.6 L1735.2,1262.3 L1732.3,1264.0 L1729.4,1265.7 L1726.6,1267.5 L1723.9,1269.2 L1721.4,1270.9 L1719.0,1272.5 L1716.8,1274.1 L1714.6,1275.8 L1712.5,1277.4 L1710.5,1279.1 L1708.5,1280.8 L1706.7,1282.4 L1704.8,1284.1 L1703.0,1285.7 L1701.3,1287.3 L1699.6,1288.9 L1697.9,1290.4 L1696.3,1291.9 L1694.8,1293.3 L1693.4,1294.7 L1692.2,1296.0 L1691.1,1297.3 L1690.0,1298.5 L1688.9,1299.8 L1687.8,1301.0 L1686.6,1302.3 L1685.3,1303.6 L1683.7,1305.0 L1682.0,1306.4 L1680.0,1308.0 L1677.7,1309.7 L1675.3,1311.5 L1672.6,1313.4 L1669.8,1315.4 L1666.8,1317.4 L1663.8,1319.5 L1660.6,1321.5 L1657.4,1323.5 L1654.2,1325.5 L1651.0,1327.3 L1647.8,1329.0 L1644.7,1330.6 L1641.6,1332.0 L1638.6,1333.4 L1635.5,1334.7 L1632.4,1335.9 L1629.3,1337.0 L1626.2,1338.1 L1623.0,1339.1 L1619.8,1340.0 L1616.4,1341.0 L1613.1,1341.8 L1609.6,1342.7 L1606.0,1343.5 L1602.3,1344.3 L1598.3,1345.0 L1594.2,1345.7 L1590.0,1346.3 L1585.7,1346.9 L1581.4,1347.4 L1577.1,1347.9 L1572.8,1348.4 L1568.7,1348.8 L1564.8,1349.2 L1561.0,1349.6 L1557.5,1350.0 L1554.3,1350.3 L1551.5,1350.6 L1549.0,1350.8 L1546.7,1350.9 L1544.4,1351.1 L1542.2,1351.2 L1540.0,1351.3 L1537.6,1351.4 L1535.0,1351.6 L1532.1,1351.8 L1528.8,1352.1 L1525.0,1352.5 L1520.8,1353.0 L1516.5,1353.5 L1511.8,1354.1 L1507.0,1354.7 L1501.9,1355.3 L1496.6,1356.0 L1491.1,1356.7 L1485.4,1357.4 L1479.5,1358.1 L1473.4,1358.8 L1467.1,1359.4 L1460.6,1360.0 L1453.5,1360.6 L1445.6,1361.2 L1437.1,1361.7 L1428.1,1362.3 L1418.9,1362.9 L1409.8,1363.5 L1400.8,1364.0 L1392.3,1364.5 L1384.5,1365.0 L1377.5,1365.4 L1371.6,1365.7 L1367.0,1366.0" fill="none" stroke="#cc6a6a" stroke-width="11" stroke-linejoin="round" stroke-linecap="round" stroke-opacity="0.55"/>
<path d="M1367.0,1367.0 L1371.6,1366.7 L1377.5,1366.4 L1384.5,1366.0 L1392.3,1365.5 L1400.8,1365.0 L1409.8,1364.5 L1418.9,1363.9 L1428.1,1363.4 L1437.1,1362.8 L1445.6,1362.2 L1453.5,1361.6 L1460.6,1361.0 L1467.0,1360.4 L1473.2,1359.8 L1479.1,1359.1 L1484.8,1358.4 L1490.3,1357.7 L1495.6,1357.0 L1500.8,1356.3 L1505.8,1355.6 L1510.7,1354.9 L1515.5,1354.2 L1520.3,1353.6 L1525.0,1353.0 L1529.6,1352.5 L1534.0,1351.9 L1538.3,1351.4 L1542.4,1351.0 L1546.4,1350.5 L1550.3,1350.1 L1554.2,1349.7 L1558.0,1349.2 L1561.8,1348.8 L1565.7,1348.4 L1569.6,1348.0 L1573.6,1347.5 L1577.6,1347.0 L1581.5,1346.6 L1585.3,1346.1 L1589.1,1345.6 L1593.0,1345.2 L1596.8,1344.7 L1600.7,1344.3 L1604.7,1343.8 L1608.8,1343.3 L1613.0,1342.9 L1617.4,1342.4 L1622.0,1342.0 L1626.9,1341.6 L1632.0,1341.2 L1637.4,1340.8 L1642.9,1340.4 L1648.6,1340.0 L1654.3,1339.7 L1660.0,1339.3 L1665.7,1338.9 L1671.2,1338.4 L1676.6,1338.0 L1681.7,1337.5 L1686.6,1337.0 L1691.3,1336.4 L1695.8,1335.9 L1700.2,1335.3 L1704.5,1334.7 L1708.7,1334.0 L1712.8,1333.4 L1716.8,1332.7 L1720.7,1332.0 L1724.4,1331.3 L1728.0,1330.6 L1731.6,1329.8 L1735.0,1329.0 L1738.3,1328.2 L1741.5,1327.3 L1744.6,1326.3 L1747.6,1325.4 L1750.4,1324.4 L1753.2,1323.4 L1755.8,1322.4 L1758.3,1321.4 L1760.8,1320.4 L1763.1,1319.4 L1765.3,1318.5 L1767.4,1317.7 L1769.4,1316.9 L1771.2,1316.1 L1772.9,1315.4 L1774.4,1314.7 L1775.9,1314.0 L1777.2,1313.3 L1778.5,1312.7 L1779.7,1312.1 L1780.9,1311.4 L1782.1,1310.8 L1783.3,1310.1 L1784.5,1309.5 L1785.7,1308.9 L1786.9,1308.4 L1788.1,1308.0 L1789.2,1307.6 L1790.3,1307.1 L1791.4,1306.7 L1792.4,1306.3 L1793.4,1305.7 L1794.3,1305.1 L1795.1,1304.3 L1796.0,1303.3 L1796.7,1302.2 L1797.4,1300.9 L1798.0,1299.4 L1798.6,1297.9 L1799.1,1296.2 L1799.5,1294.4 L1799.9,1292.5 L1800.3,1290.5 L1800.6,1288.5 L1800.9,1286.4 L1801.2,1284.3 L1801.4,1282.1 L1801.6,1280.0 L1801.8,1277.8 L1801.8,1275.5 L1801.8,1273.1 L1801.8,1270.6 L1801.7,1268.1 L1801.6,1265.5 L1801.5,1263.0 L1801.4,1260.4 L1801.4,1257.9 L1801.4,1255.5 L1801.4,1253.1 L1801.6,1250.8 L1801.8,1248.6 L1802.0,1246.3 L1802.3,1244.1 L1802.5,1241.8 L1802.8,1239.6 L1803.1,1237.5 L1803.5,1235.4 L1804.0,1233.4 L1804.5,1231.5 L1805.1,1229.6 L1805.7,1227.9 L1806.5,1226.3 L1807.3,1224.8 L1808.2,1223.5 L1809.2,1222.4 L1810.2,1221.3 L1811.3,1220.3 L1812.5,1219.4 L1813.8,1218.5 L1815.1,1217.6 L1816.4,1216.8 L1817.9,1215.9 L1819.4,1215.0 L1821.0,1214.0 L1822.7,1213.0 L1824.5,1212.0 L1826.4,1211.0 L1828.5,1210.0 L1830.5,1209.0 L1832.7,1208.0 L1834.9,1207.0 L1837.0,1206.0 L1839.2,1205.0 L1841.4,1204.0 L1843.5,1203.0 L1845.6,1202.0 L1847.7,1201.0 L1849.8,1200.0 L1852.0,1198.9 L1854.2,1197.9 L1856.4,1196.9 L1858.6,1195.8 L1860.7,1194.8 L1862.8,1193.7 L1864.8,1192.7 L1866.6,1191.7 L1868.4,1190.6 L1870.0,1189.6 L1871.4,1188.6 L1872.7,1187.5 L1873.9,1186.5 L1874.9,1185.4 L1875.9,1184.4 L1876.8,1183.3 L1877.6,1182.3 L1878.5,1181.3 L1879.3,1180.3 L1880.3,1179.3 L1881.2,1178.3 L1882.3,1177.4 L1883.4,1176.5 L1884.5,1175.7 L1885.6,1175.0 L1886.8,1174.3 L1887.9,1173.6 L1889.0,1173.0 L1890.2,1172.3 L1891.5,1171.5 L1892.8,1170.7 L1894.1,1169.8 L1895.5,1168.8 L1897.0,1167.6 L1898.6,1166.3 L1900.3,1164.8 L1902.1,1163.2 L1904.0,1161.4 L1905.9,1159.6 L1907.9,1157.8 L1909.8,1156.0 L1911.8,1154.2 L1913.7,1152.4 L1915.5,1150.8 L1917.3,1149.3 L1919.0,1148.0 L1920.5,1146.9 L1921.9,1145.9 L1923.2,1145.0 L1924.5,1144.2 L1925.7,1143.5 L1926.9,1142.8 L1928.1,1142.2 L1929.4,1141.5 L1930.8,1140.8 L1932.4,1140.1 L1934.1,1139.3 L1936.0,1138.3 L1938.2,1137.2 L1940.6,1136.1 L1943.1,1134.9 L1945.8,1133.6 L1948.7,1132.3 L1951.5,1131.0 L1954.4,1129.6 L1957.3,1128.3 L1960.2,1127.0 L1962.9,1125.8 L1965.6,1124.7 L1968.0,1123.6 L1970.3,1122.6 L1972.4,1121.7 L1974.3,1120.7 L1976.2,1119.9 L1978.1,1119.0 L1979.9,1118.2 L1981.8,1117.5 L1983.6,1116.7 L1985.6,1116.0 L1987.7,1115.2 L1990.0,1114.5 L1992.4,1113.8 L1995.0,1113.1 L1997.7,1112.4 L2000.4,1111.7 L2003.2,1111.1 L2006.2,1110.5 L2009.2,1109.9 L2012.3,1109.3 L2015.4,1108.7 L2018.7,1108.1 L2022.0,1107.6 L2025.5,1107.0 L2029.0,1106.5 L2032.6,1106.0 L2036.2,1105.5 L2039.8,1105.1 L2043.5,1104.7 L2047.3,1104.3 L2051.2,1103.9 L2055.2,1103.5 L2059.4,1103.2 L2063.7,1102.8 L2068.3,1102.4 L2073.0,1101.9 L2078.0,1101.5 L2083.2,1101.0 L2088.7,1100.6 L2094.5,1100.1 L2100.4,1099.6 L2106.5,1099.1 L2112.8,1098.6 L2119.1,1098.1 L2125.6,1097.5 L2132.0,1097.0 L2138.5,1096.5 L2145.0,1096.0 L2151.4,1095.5 L2158.1,1095.0 L2165.2,1094.4 L2172.7,1093.9 L2180.4,1093.3 L2188.2,1092.7 L2195.8,1092.1 L2203.2,1091.6 L2210.1,1091.1 L2216.6,1090.6 L2222.3,1090.2 L2227.1,1089.8 L2231.0,1089.5" fill="none" stroke="#cc6a6a" stroke-width="11" stroke-linejoin="round" stroke-linecap="round" stroke-opacity="0.55"/>
<path d="M2231.0,1090.6 L2227.1,1090.9 L2222.3,1091.3 L2216.6,1091.7 L2210.1,1092.2 L2203.2,1092.7 L2195.8,1093.3 L2188.2,1093.8 L2180.4,1094.4 L2172.7,1095.0 L2165.2,1095.6 L2158.1,1096.2 L2151.4,1096.7 L2145.0,1097.2 L2138.5,1097.7 L2132.0,1098.3 L2125.6,1098.8 L2119.1,1099.3 L2112.8,1099.8 L2106.5,1100.3 L2100.4,1100.9 L2094.5,1101.4 L2088.7,1101.9 L2083.2,1102.3 L2078.0,1102.8 L2073.1,1103.3 L2068.4,1103.7 L2064.0,1104.1 L2059.9,1104.5 L2055.9,1104.9 L2052.0,1105.3 L2048.2,1105.7 L2044.4,1106.1 L2040.7,1106.5 L2036.9,1106.9 L2033.0,1107.3 L2029.0,1107.7 L2024.9,1108.1 L2020.8,1108.5 L2016.8,1108.9 L2012.7,1109.3 L2008.6,1109.7 L2004.5,1110.1 L2000.4,1110.5 L1996.3,1110.9 L1992.2,1111.3 L1988.2,1111.7 L1984.1,1112.1 L1980.0,1112.6 L1975.9,1113.1 L1971.8,1113.6 L1967.7,1114.1 L1963.7,1114.6 L1959.6,1115.1 L1955.5,1115.6 L1951.4,1116.2 L1947.3,1116.7 L1943.2,1117.2 L1939.1,1117.7 L1935.1,1118.2 L1931.0,1118.7 L1926.9,1119.1 L1922.9,1119.5 L1918.8,1119.9 L1914.8,1120.2 L1910.7,1120.6 L1906.6,1120.9 L1902.6,1121.3 L1898.5,1121.6 L1894.5,1122.1 L1890.4,1122.5 L1886.4,1123.0 L1882.3,1123.6 L1878.2,1124.2 L1873.9,1124.9 L1869.5,1125.7 L1865.1,1126.5 L1860.7,1127.3 L1856.3,1128.1 L1852.0,1129.0 L1847.9,1129.9 L1843.9,1130.8 L1840.1,1131.6 L1836.6,1132.5 L1833.4,1133.4 L1830.5,1134.3 L1827.7,1135.2 L1825.2,1136.1 L1822.9,1137.1 L1820.7,1138.0 L1818.7,1139.0 L1816.8,1139.9 L1815.1,1140.9 L1813.4,1141.8 L1811.9,1142.7 L1810.4,1143.6 L1809.0,1144.4 L1807.7,1145.2 L1806.6,1145.9 L1805.6,1146.5 L1804.8,1147.1 L1804.0,1147.7 L1803.4,1148.3 L1802.8,1148.9 L1802.3,1149.6 L1801.8,1150.3 L1801.4,1151.1 L1800.9,1152.0 L1800.4,1153.0 L1799.9,1154.1 L1799.5,1155.3 L1799.1,1156.5 L1798.8,1157.8 L1798.5,1159.1 L1798.2,1160.5 L1797.9,1162.0 L1797.7,1163.5 L1797.4,1165.0 L1797.2,1166.6 L1797.0,1168.3 L1796.7,1170.0 L1796.4,1171.8 L1796.2,1173.7 L1796.0,1175.8 L1795.8,1177.9 L1795.6,1180.0 L1795.4,1182.2 L1795.2,1184.4 L1795.0,1186.6 L1794.8,1188.7 L1794.6,1190.8 L1794.4,1192.7 L1794.2,1194.5 L1794.0,1196.2 L1793.8,1197.8 L1793.6,1199.4 L1793.5,1200.9 L1793.3,1202.3 L1793.1,1203.7 L1793.0,1205.1 L1792.8,1206.4 L1792.6,1207.8 L1792.3,1209.1 L1792.1,1210.4 L1791.8,1211.7 L1791.5,1213.0 L1791.3,1214.3 L1791.0,1215.5 L1790.7,1216.8 L1790.5,1218.0 L1790.2,1219.2 L1789.8,1220.3 L1789.4,1221.5 L1789.0,1222.7 L1788.4,1223.9 L1787.8,1225.1 L1787.0,1226.3 L1786.1,1227.5 L1785.2,1228.8 L1784.1,1230.0 L1783.0,1231.3 L1781.9,1232.6 L1780.6,1233.8 L1779.3,1235.1 L1778.0,1236.3 L1776.6,1237.5 L1775.1,1238.7 L1773.7,1239.9 L1772.2,1241.0 L1770.7,1242.1 L1769.2,1243.1 L1767.6,1244.0 L1766.1,1244.9 L1764.5,1245.8 L1762.8,1246.7 L1761.1,1247.6 L1759.3,1248.5 L1757.4,1249.5 L1755.4,1250.6 L1753.4,1251.7 L1751.2,1253.0 L1748.9,1254.4 L1746.4,1255.8 L1743.7,1257.3 L1740.9,1258.9 L1738.1,1260.6 L1735.2,1262.3 L1732.3,1264.0 L1729.4,1265.7 L1726.6,1267.5 L1723.9,1269.2 L1721.4,1270.9 L1719.0,1272.5 L1716.8,1274.1 L1714.6,1275.8 L1712.5,1277.4 L1710.5,1279.1 L1708.5,1280.8 L1706.7,1282.4 L1704.8,1284.1 L1703.0,1285.7 L1701.3,1287.3 L1699.6,1288.9 L1697.9,1290.4 L1696.3,1291.9 L1694.8,1293.3 L1693.4,1294.7 L1692.2,1296.0 L1691.1,1297.3 L1690.0,1298.5 L1688.9,1299.8 L1687.8,1301.0 L1686.6,1302.3 L1685.3,1303.6 L1683.7,1305.0 L1682.0,1306.4 L1680.0,1308.0 L1677.7,1309.7 L1675.3,1311.5 L1672.6,1313.4 L1669.8,1315.4 L1666.8,1317.4 L1663.8,1319.5 L1660.6,1321.5 L1657.4,1323.5 L1654.2,1325.5 L1651.0,1327.3 L1647.8,1329.0 L1644.7,1330.6 L1641.6,1332.0 L1638.6,1333.4 L1635.5,1334.7 L1632.4,1335.9 L1629.3,1337.0 L1626.2,1338.1 L1623.0,1339.1 L1619.8,1340.0 L1616.4,1341.0 L1613.1,1341.8 L1609.6,1342.7 L1606.0,1343.5 L1602.3,1344.3 L1598.3,1345.0 L1594.2,1345.7 L1590.0,1346.3 L1585.7,1346.9 L1581.4,1347.4 L1577.1,1347.9 L1572.8,1348.4 L1568.7,1348.8 L1564.8,1349.2 L1561.0,1349.6 L1557.5,1350.0 L1554.3,1350.3 L1551.5,1350.6 L1549.0,1350.8 L1546.7,1350.9 L1544.4,1351.1 L1542.2,1351.2 L1540.0,1351.3 L1537.6,1351.4 L1535.0,1351.6 L1532.1,1351.8 L1528.8,1352.1 L1525.0,1352.5 L1520.8,1353.0 L1516.5,1353.5 L1511.8,1354.1 L1507.0,1354.7 L1501.9,1355.3 L1496.6,1356.0 L1491.1,1356.7 L1485.4,1357.4 L1479.5,1358.1 L1473.4,1358.8 L1467.1,1359.4 L1460.6,1360.0 L1453.5,1360.6 L1445.6,1361.2 L1437.1,1361.7 L1428.1,1362.3 L1418.9,1362.9 L1409.8,1363.5 L1400.8,1364.0 L1392.3,1364.5 L1384.5,1365.0 L1377.5,1365.4 L1371.6,1365.7 L1367.0,1366.0" fill="none" stroke="#9a0a0e" stroke-width="5" stroke-linejoin="round" stroke-linecap="round" stroke-opacity="1"/>
<path d="M1367.0,1367.0 L1371.6,1366.7 L1377.5,1366.4 L1384.5,1366.0 L1392.3,1365.5 L1400.8,1365.0 L1409.8,1364.5 L1418.9,1363.9 L1428.1,1363.4 L1437.1,1362.8 L1445.6,1362.2 L1453.5,1361.6 L1460.6,1361.0 L1467.0,1360.4 L1473.2,1359.8 L1479.1,1359.1 L1484.8,1358.4 L1490.3,1357.7 L1495.6,1357.0 L1500.8,1356.3 L1505.8,1355.6 L1510.7,1354.9 L1515.5,1354.2 L1520.3,1353.6 L1525.0,1353.0 L1529.6,1352.5 L1534.0,1351.9 L1538.3,1351.4 L1542.4,1351.0 L1546.4,1350.5 L1550.3,1350.1 L1554.2,1349.7 L1558.0,1349.2 L1561.8,1348.8 L1565.7,1348.4 L1569.6,1348.0 L1573.6,1347.5 L1577.6,1347.0 L1581.5,1346.6 L1585.3,1346.1 L1589.1,1345.6 L1593.0,1345.2 L1596.8,1344.7 L1600.7,1344.3 L1604.7,1343.8 L1608.8,1343.3 L1613.0,1342.9 L1617.4,1342.4 L1622.0,1342.0 L1626.9,1341.6 L1632.0,1341.2 L1637.4,1340.8 L1642.9,1340.4 L1648.6,1340.0 L1654.3,1339.7 L1660.0,1339.3 L1665.7,1338.9 L1671.2,1338.4 L1676.6,1338.0 L1681.7,1337.5 L1686.6,1337.0 L1691.3,1336.4 L1695.8,1335.9 L1700.2,1335.3 L1704.5,1334.7 L1708.7,1334.0 L1712.8,1333.4 L1716.8,1332.7 L1720.7,1332.0 L1724.4,1331.3 L1728.0,1330.6 L1731.6,1329.8 L1735.0,1329.0 L1738.3,1328.2 L1741.5,1327.3 L1744.6,1326.3 L1747.6,1325.4 L1750.4,1324.4 L1753.2,1323.4 L1755.8,1322.4 L1758.3,1321.4 L1760.8,1320.4 L1763.1,1319.4 L1765.3,1318.5 L1767.4,1317.7 L1769.4,1316.9 L1771.2,1316.1 L1772.9,1315.4 L1774.4,1314.7 L1775.9,1314.0 L1777.2,1313.3 L1778.5,1312.7 L1779.7,1312.1 L1780.9,1311.4 L1782.1,1310.8 L1783.3,1310.1 L1784.5,1309.5 L1785.7,1308.9 L1786.9,1308.4 L1788.1,1308.0 L1789.2,1307.6 L1790.3,1307.1 L1791.4,1306.7 L1792.4,1306.3 L1793.4,1305.7 L1794.3,1305.1 L1795.1,1304.3 L1796.0,1303.3 L1796.7,1302.2 L1797.4,1300.9 L1798.0,1299.4 L1798.6,1297.9 L1799.1,1296.2 L1799.5,1294.4 L1799.9,1292.5 L1800.3,1290.5 L1800.6,1288.5 L1800.9,1286.4 L1801.2,1284.3 L1801.4,1282.1 L1801.6,1280.0 L1801.8,1277.8 L1801.8,1275.5 L1801.8,1273.1 L1801.8,1270.6 L1801.7,1268.1 L1801.6,1265.5 L1801.5,1263.0 L1801.4,1260.4 L1801.4,1257.9 L1801.4,1255.5 L1801.4,1253.1 L1801.6,1250.8 L1801.8,1248.6 L1802.0,1246.3 L1802.3,1244.1 L1802.5,1241.8 L1802.8,1239.6 L1803.1,1237.5 L1803.5,1235.4 L1804.0,1233.4 L1804.5,1231.5 L1805.1,1229.6 L1805.7,1227.9 L1806.5,1226.3 L1807.3,1224.8 L1808.2,1223.5 L1809.2,1222.4 L1810.2,1221.3 L1811.3,1220.3 L1812.5,1219.4 L1813.8,1218.5 L1815.1,1217.6 L1816.4,1216.8 L1817.9,1215.9 L1819.4,1215.0 L1821.0,1214.0 L1822.7,1213.0 L1824.5,1212.0 L1826.4,1211.0 L1828.5,1210.0 L1830.5,1209.0 L1832.7,1208.0 L1834.9,1207.0 L1837.0,1206.0 L1839.2,1205.0 L1841.4,1204.0 L1843.5,1203.0 L1845.6,1202.0 L1847.7,1201.0 L1849.8,1200.0 L1852.0,1198.9 L1854.2,1197.9 L1856.4,1196.9 L1858.6,1195.8 L1860.7,1194.8 L1862.8,1193.7 L1864.8,1192.7 L1866.6,1191.7 L1868.4,1190.6 L1870.0,1189.6 L1871.4,1188.6 L1872.7,1187.5 L1873.9,1186.5 L1874.9,1185.4 L1875.9,1184.4 L1876.8,1183.3 L1877.6,1182.3 L1878.5,1181.3 L1879.3,1180.3 L1880.3,1179.3 L1881.2,1178.3 L1882.3,1177.4 L1883.4,1176.5 L1884.5,1175.7 L1885.6,1175.0 L1886.8,1174.3 L1887.9,1173.6 L1889.0,1173.0 L1890.2,1172.3 L1891.5,1171.5 L1892.8,1170.7 L1894.1,1169.8 L1895.5,1168.8 L1897.0,1167.6 L1898.6,1166.3 L1900.3,1164.8 L1902.1,1163.2 L1904.0,1161.4 L1905.9,1159.6 L1907.9,1157.8 L1909.8,1156.0 L1911.8,1154.2 L1913.7,1152.4 L1915.5,1150.8 L1917.3,1149.3 L1919.0,1148.0 L1920.5,1146.9 L1921.9,1145.9 L1923.2,1145.0 L1924.5,1144.2 L1925.7,1143.5 L1926.9,1142.8 L1928.1,1142.2 L1929.4,1141.5 L1930.8,1140.8 L1932.4,1140.1 L1934.1,1139.3 L1936.0,1138.3 L1938.2,1137.2 L1940.6,1136.1 L1943.1,1134.9 L1945.8,1133.6 L1948.7,1132.3 L1951.5,1131.0 L1954.4,1129.6 L1957.3,1128.3 L1960.2,1127.0 L1962.9,1125.8 L1965.6,1124.7 L1968.0,1123.6 L1970.3,1122.6 L1972.4,1121.7 L1974.3,1120.7 L1976.2,1119.9 L1978.1,1119.0 L1979.9,1118.2 L1981.8,1117.5 L1983.6,1116.7 L1985.6,1116.0 L1987.7,1115.2 L1990.0,1114.5 L1992.4,1113.8 L1995.0,1113.1 L1997.7,1112.4 L2000.4,1111.7 L2003.2,1111.1 L2006.2,1110.5 L2009.2,1109.9 L2012.3,1109.3 L2015.4,1108.7 L2018.7,1108.1 L2022.0,1107.6 L2025.5,1107.0 L2029.0,1106.5 L2032.6,1106.0 L2036.2,1105.5 L2039.8,1105.1 L2043.5,1104.7 L2047.3,1104.3 L2051.2,1103.9 L2055.2,1103.5 L2059.4,1103.2 L2063.7,1102.8 L2068.3,1102.4 L2073.0,1101.9 L2078.0,1101.5 L2083.2,1101.0 L2088.7,1100.6 L2094.5,1100.1 L2100.4,1099.6 L2106.5,1099.1 L2112.8,1098.6 L2119.1,1098.1 L2125.6,1097.5 L2132.0,1097.0 L2138.5,1096.5 L2145.0,1096.0 L2151.4,1095.5 L2158.1,1095.0 L2165.2,1094.4 L2172.7,1093.9 L2180.4,1093.3 L2188.2,1092.7 L2195.8,1092.1 L2203.2,1091.6 L2210.1,1091.1 L2216.6,1090.6 L2222.3,1090.2 L2227.1,1089.8 L2231.0,1089.5" fill="none" stroke="#9a0a0e" stroke-width="5" stroke-linejoin="round" stroke-linecap="round" stroke-opacity="1"/>
<path d="M1367.3,1635.0 L1372.3,1634.8 L1378.6,1634.5 L1386.0,1634.1 L1394.3,1633.8 L1403.3,1633.3 L1412.9,1632.9 L1422.8,1632.4 L1432.8,1632.0 L1442.8,1631.5 L1452.6,1631.1 L1461.9,1630.6 L1470.6,1630.2 L1478.9,1629.8 L1487.1,1629.4 L1495.3,1629.1 L1503.4,1628.7 L1511.4,1628.4 L1519.5,1628.0 L1527.5,1627.6 L1535.4,1627.2 L1543.4,1626.8 L1551.4,1626.4 L1559.4,1625.9 L1567.5,1625.4 L1575.7,1624.8 L1584.0,1624.2 L1592.5,1623.6 L1601.0,1622.9 L1609.5,1622.3 L1617.9,1621.6 L1626.2,1620.8 L1634.4,1620.1 L1642.4,1619.4 L1650.0,1618.7 L1657.4,1618.0 L1664.3,1617.3 L1670.9,1616.6 L1677.3,1615.9 L1683.5,1615.3 L1689.4,1614.6 L1695.2,1613.9 L1700.7,1613.2 L1706.0,1612.5 L1711.0,1611.9 L1715.9,1611.2 L1720.5,1610.5 L1724.8,1609.9 L1729.0,1609.3 L1732.9,1608.7 L1736.4,1608.2 L1739.6,1607.7 L1742.5,1607.3 L1745.2,1606.8 L1747.7,1606.4 L1750.1,1605.9 L1752.4,1605.4 L1754.6,1604.8 L1756.8,1604.2 L1759.0,1603.6 L1761.2,1602.8 L1763.5,1602.0 L1765.7,1601.1 L1767.8,1600.1 L1769.9,1599.1 L1772.0,1598.0 L1773.9,1597.0 L1775.8,1595.8 L1777.6,1594.7 L1779.3,1593.5 L1780.9,1592.3 L1782.4,1591.1 L1783.8,1589.9 L1785.1,1588.7 L1786.2,1587.6 L1787.2,1586.5 L1788.2,1585.3 L1789.0,1584.2 L1789.8,1583.0 L1790.5,1581.8 L1791.1,1580.4 L1791.7,1579.0 L1792.3,1577.4 L1792.9,1575.6 L1793.5,1573.7 L1794.1,1571.6 L1794.6,1569.4 L1795.2,1567.1 L1795.6,1564.7 L1796.1,1562.2 L1796.5,1559.6 L1796.9,1556.8 L1797.2,1554.0 L1797.6,1551.0 L1797.8,1547.9 L1798.1,1544.7 L1798.3,1541.4 L1798.5,1537.9 L1798.6,1534.2 L1798.6,1530.2 L1798.7,1526.1 L1798.6,1521.9 L1798.6,1517.6 L1798.5,1513.3 L1798.5,1509.0 L1798.4,1504.8 L1798.4,1500.7 L1798.3,1496.7 L1798.3,1493.0 L1798.3,1489.4 L1798.2,1485.7 L1798.2,1482.1 L1798.1,1478.6 L1798.1,1475.1 L1798.0,1471.6 L1798.0,1468.3 L1797.9,1465.2 L1798.0,1462.2 L1798.0,1459.3 L1798.1,1456.7 L1798.3,1454.3 L1798.5,1452.1 L1798.8,1450.2 L1799.1,1448.5 L1799.4,1447.0 L1799.8,1445.7 L1800.1,1444.4 L1800.6,1443.3 L1801.0,1442.2 L1801.5,1441.2 L1802.0,1440.2 L1802.6,1439.1 L1803.2,1438.0 L1803.8,1436.9 L1804.3,1435.8 L1804.9,1434.8 L1805.4,1433.9 L1806.0,1433.0 L1806.7,1432.1 L1807.4,1431.2 L1808.2,1430.4 L1809.1,1429.5 L1810.2,1428.6 L1811.5,1427.7 L1812.9,1426.8 L1814.5,1425.8 L1816.2,1424.9 L1818.1,1423.9 L1820.1,1422.8 L1822.2,1421.8 L1824.4,1420.8 L1826.7,1419.8 L1829.2,1418.9 L1831.7,1417.9 L1834.4,1417.1 L1837.2,1416.2 L1840.0,1415.5 L1842.7,1414.8 L1845.2,1414.2 L1847.6,1413.7 L1850.0,1413.2 L1852.5,1412.8 L1855.2,1412.4 L1858.2,1412.0 L1861.7,1411.6 L1865.7,1411.2 L1870.4,1410.8 L1875.9,1410.3 L1882.3,1409.8 L1889.7,1409.2 L1898.1,1408.7 L1907.2,1408.1 L1917.1,1407.4 L1927.6,1406.8 L1938.4,1406.2 L1949.6,1405.5 L1960.9,1404.9 L1972.1,1404.3 L1983.3,1403.7 L1994.2,1403.1 L2004.6,1402.5 L2014.9,1401.9 L2025.2,1401.4 L2035.6,1400.9 L2046.1,1400.3 L2056.5,1399.8 L2066.9,1399.3 L2077.3,1398.8 L2087.6,1398.3 L2097.7,1397.8 L2107.7,1397.3 L2117.4,1396.9 L2127.0,1396.4 L2136.6,1395.9 L2146.6,1395.5 L2156.7,1395.0 L2166.9,1394.5 L2176.9,1394.0 L2186.7,1393.6 L2196.0,1393.1 L2204.7,1392.7 L2212.7,1392.4 L2219.9,1392.0 L2226.0,1391.7 L2231.0,1391.5" fill="none" stroke="#dcdcff" stroke-width="18" stroke-linejoin="round" stroke-linecap="round" stroke-opacity="0.6"/>
<path d="M1367.3,1635.0 L1372.3,1634.8 L1378.6,1634.5 L1386.0,1634.1 L1394.3,1633.8 L1403.3,1633.3 L1412.9,1632.9 L1422.8,1632.4 L1432.8,1632.0 L1442.8,1631.5 L1452.6,1631.1 L1461.9,1630.6 L1470.6,1630.2 L1478.9,1629.8 L1487.1,1629.4 L1495.3,1629.1 L1503.4,1628.7 L1511.4,1628.4 L1519.5,1628.0 L1527.5,1627.6 L1535.4,1627.2 L1543.4,1626.8 L1551.4,1626.4 L1559.4,1625.9 L1567.5,1625.4 L1575.7,1624.8 L1584.0,1624.2 L1592.5,1623.6 L1601.0,1622.9 L1609.5,1622.3 L1617.9,1621.6 L1626.2,1620.8 L1634.4,1620.1 L1642.4,1619.4 L1650.0,1618.7 L1657.4,1618.0 L1664.3,1617.3 L1670.9,1616.6 L1677.3,1615.9 L1683.5,1615.3 L1689.4,1614.6 L1695.2,1613.9 L1700.7,1613.2 L1706.0,1612.5 L1711.0,1611.9 L1715.9,1611.2 L1720.5,1610.5 L1724.8,1609.9 L1729.0,1609.3 L1732.9,1608.7 L1736.4,1608.2 L1739.6,1607.7 L1742.5,1607.3 L1745.2,1606.8 L1747.7,1606.4 L1750.1,1605.9 L1752.4,1605.4 L1754.6,1604.8 L1756.8,1604.2 L1759.0,1603.6 L1761.2,1602.8 L1763.5,1602.0 L1765.7,1601.1 L1767.8,1600.1 L1769.9,1599.1 L1772.0,1598.0 L1773.9,1597.0 L1775.8,1595.8 L1777.6,1594.7 L1779.3,1593.5 L1780.9,1592.3 L1782.4,1591.1 L1783.8,1589.9 L1785.1,1588.7 L1786.2,1587.6 L1787.2,1586.5 L1788.2,1585.3 L1789.0,1584.2 L1789.8,1583.0 L1790.5,1581.8 L1791.1,1580.4 L1791.7,1579.0 L1792.3,1577.4 L1792.9,1575.6 L1793.5,1573.7 L1794.1,1571.6 L1794.6,1569.4 L1795.2,1567.1 L1795.6,1564.7 L1796.1,1562.2 L1796.5,1559.6 L1796.9,1556.8 L1797.2,1554.0 L1797.6,1551.0 L1797.8,1547.9 L1798.1,1544.7 L1798.3,1541.4 L1798.5,1537.9 L1798.6,1534.2 L1798.6,1530.2 L1798.7,1526.1 L1798.6,1521.9 L1798.6,1517.6 L1798.5,1513.3 L1798.5,1509.0 L1798.4,1504.8 L1798.4,1500.7 L1798.3,1496.7 L1798.3,1493.0 L1798.3,1489.4 L1798.2,1485.7 L1798.2,1482.1 L1798.1,1478.6 L1798.1,1475.1 L1798.0,1471.6 L1798.0,1468.3 L1797.9,1465.2 L1798.0,1462.2 L1798.0,1459.3 L1798.1,1456.7 L1798.3,1454.3 L1798.5,1452.1 L1798.8,1450.2 L1799.1,1448.5 L1799.4,1447.0 L1799.8,1445.7 L1800.1,1444.4 L1800.6,1443.3 L1801.0,1442.2 L1801.5,1441.2 L1802.0,1440.2 L1802.6,1439.1 L1803.2,1438.0 L1803.8,1436.9 L1804.3,1435.8 L1804.9,1434.8 L1805.4,1433.9 L1806.0,1433.0 L1806.7,1432.1 L1807.4,1431.2 L1808.2,1430.4 L1809.1,1429.5 L1810.2,1428.6 L1811.5,1427.7 L1812.9,1426.8 L1814.5,1425.8 L1816.2,1424.9 L1818.1,1423.9 L1820.1,1422.8 L1822.2,1421.8 L1824.4,1420.8 L1826.7,1419.8 L1829.2,1418.9 L1831.7,1417.9 L1834.4,1417.1 L1837.2,1416.2 L1840.0,1415.5 L1842.7,1414.8 L1845.2,1414.2 L1847.6,1413.7 L1850.0,1413.2 L1852.5,1412.8 L1855.2,1412.4 L1858.2,1412.0 L1861.7,1411.6 L1865.7,1411.2 L1870.4,1410.8 L1875.9,1410.3 L1882.3,1409.8 L1889.7,1409.2 L1898.1,1408.7 L1907.2,1408.1 L1917.1,1407.4 L1927.6,1406.8 L1938.4,1406.2 L1949.6,1405.5 L1960.9,1404.9 L1972.1,1404.3 L1983.3,1403.7 L1994.2,1403.1 L2004.6,1402.5 L2014.9,1401.9 L2025.2,1401.4 L2035.6,1400.9 L2046.1,1400.3 L2056.5,1399.8 L2066.9,1399.3 L2077.3,1398.8 L2087.6,1398.3 L2097.7,1397.8 L2107.7,1397.3 L2117.4,1396.9 L2127.0,1396.4 L2136.6,1395.9 L2146.6,1395.5 L2156.7,1395.0 L2166.9,1394.5 L2176.9,1394.0 L2186.7,1393.6 L2196.0,1393.1 L2204.7,1392.7 L2212.7,1392.4 L2219.9,1392.0 L2226.0,1391.7 L2231.0,1391.5" fill="none" stroke="#9a9af8" stroke-width="13" stroke-linejoin="round" stroke-linecap="round" stroke-opacity="0.6"/>
<path d="M1367.3,1635.0 L1372.3,1634.8 L1378.6,1634.5 L1386.0,1634.1 L1394.3,1633.8 L1403.3,1633.3 L1412.9,1632.9 L1422.8,1632.4 L1432.8,1632.0 L1442.8,1631.5 L1452.6,1631.1 L1461.9,1630.6 L1470.6,1630.2 L1478.9,1629.8 L1487.1,1629.4 L1495.3,1629.1 L1503.4,1628.7 L1511.4,1628.4 L1519.5,1628.0 L1527.5,1627.6 L1535.4,1627.2 L1543.4,1626.8 L1551.4,1626.4 L1559.4,1625.9 L1567.5,1625.4 L1575.7,1624.8 L1584.0,1624.2 L1592.5,1623.6 L1601.0,1622.9 L1609.5,1622.3 L1617.9,1621.6 L1626.2,1620.8 L1634.4,1620.1 L1642.4,1619.4 L1650.0,1618.7 L1657.4,1618.0 L1664.3,1617.3 L1670.9,1616.6 L1677.3,1615.9 L1683.5,1615.3 L1689.4,1614.6 L1695.2,1613.9 L1700.7,1613.2 L1706.0,1612.5 L1711.0,1611.9 L1715.9,1611.2 L1720.5,1610.5 L1724.8,1609.9 L1729.0,1609.3 L1732.9,1608.7 L1736.4,1608.2 L1739.6,1607.7 L1742.5,1607.3 L1745.2,1606.8 L1747.7,1606.4 L1750.1,1605.9 L1752.4,1605.4 L1754.6,1604.8 L1756.8,1604.2 L1759.0,1603.6 L1761.2,1602.8 L1763.5,1602.0 L1765.7,1601.1 L1767.8,1600.1 L1769.9,1599.1 L1772.0,1598.0 L1773.9,1597.0 L1775.8,1595.8 L1777.6,1594.7 L1779.3,1593.5 L1780.9,1592.3 L1782.4,1591.1 L1783.8,1589.9 L1785.1,1588.7 L1786.2,1587.6 L1787.2,1586.5 L1788.2,1585.3 L1789.0,1584.2 L1789.8,1583.0 L1790.5,1581.8 L1791.1,1580.4 L1791.7,1579.0 L1792.3,1577.4 L1792.9,1575.6 L1793.5,1573.7 L1794.1,1571.6 L1794.6,1569.4 L1795.2,1567.1 L1795.6,1564.7 L1796.1,1562.2 L1796.5,1559.6 L1796.9,1556.8 L1797.2,1554.0 L1797.6,1551.0 L1797.8,1547.9 L1798.1,1544.7 L1798.3,1541.4 L1798.5,1537.9 L1798.6,1534.2 L1798.6,1530.2 L1798.7,1526.1 L1798.6,1521.9 L1798.6,1517.6 L1798.5,1513.3 L1798.5,1509.0 L1798.4,1504.8 L1798.4,1500.7 L1798.3,1496.7 L1798.3,1493.0 L1798.3,1489.4 L1798.2,1485.7 L1798.2,1482.1 L1798.1,1478.6 L1798.1,1475.1 L1798.0,1471.6 L1798.0,1468.3 L1797.9,1465.2 L1798.0,1462.2 L1798.0,1459.3 L1798.1,1456.7 L1798.3,1454.3 L1798.5,1452.1 L1798.8,1450.2 L1799.1,1448.5 L1799.4,1447.0 L1799.8,1445.7 L1800.1,1444.4 L1800.6,1443.3 L1801.0,1442.2 L1801.5,1441.2 L1802.0,1440.2 L1802.6,1439.1 L1803.2,1438.0 L1803.8,1436.9 L1804.3,1435.8 L1804.9,1434.8 L1805.4,1433.9 L1806.0,1433.0 L1806.7,1432.1 L1807.4,1431.2 L1808.2,1430.4 L1809.1,1429.5 L1810.2,1428.6 L1811.5,1427.7 L1812.9,1426.8 L1814.5,1425.8 L1816.2,1424.9 L1818.1,1423.9 L1820.1,1422.8 L1822.2,1421.8 L1824.4,1420.8 L1826.7,1419.8 L1829.2,1418.9 L1831.7,1417.9 L1834.4,1417.1 L1837.2,1416.2 L1840.0,1415.5 L1842.7,1414.8 L1845.2,1414.2 L1847.6,1413.7 L1850.0,1413.2 L1852.5,1412.8 L1855.2,1412.4 L1858.2,1412.0 L1861.7,1411.6 L1865.7,1411.2 L1870.4,1410.8 L1875.9,1410.3 L1882.3,1409.8 L1889.7,1409.2 L1898.1,1408.7 L1907.2,1408.1 L1917.1,1407.4 L1927.6,1406.8 L1938.4,1406.2 L1949.6,1405.5 L1960.9,1404.9 L1972.1,1404.3 L1983.3,1403.7 L1994.2,1403.1 L2004.6,1402.5 L2014.9,1401.9 L2025.2,1401.4 L2035.6,1400.9 L2046.1,1400.3 L2056.5,1399.8 L2066.9,1399.3 L2077.3,1398.8 L2087.6,1398.3 L2097.7,1397.8 L2107.7,1397.3 L2117.4,1396.9 L2127.0,1396.4 L2136.6,1395.9 L2146.6,1395.5 L2156.7,1395.0 L2166.9,1394.5 L2176.9,1394.0 L2186.7,1393.6 L2196.0,1393.1 L2204.7,1392.7 L2212.7,1392.4 L2219.9,1392.0 L2226.0,1391.7 L2231.0,1391.5" fill="none" stroke="#4848ff" stroke-width="8" stroke-linejoin="round" stroke-linecap="round" stroke-opacity="1"/>
<path d="M1367.3,1635.0 L1372.3,1634.8 L1378.6,1634.5 L1386.0,1634.1 L1394.3,1633.8 L1403.3,1633.3 L1412.9,1632.9 L1422.8,1632.4 L1432.8,1632.0 L1442.8,1631.5 L1452.6,1631.1 L1461.9,1630.6 L1470.6,1630.2 L1478.9,1629.8 L1487.1,1629.4 L1495.3,1629.1 L1503.4,1628.7 L1511.4,1628.4 L1519.5,1628.0 L1527.5,1627.6 L1535.4,1627.2 L1543.4,1626.8 L1551.4,1626.4 L1559.4,1625.9 L1567.5,1625.4 L1575.7,1624.8 L1584.0,1624.2 L1592.5,1623.6 L1601.0,1622.9 L1609.5,1622.3 L1617.9,1621.6 L1626.2,1620.8 L1634.4,1620.1 L1642.4,1619.4 L1650.0,1618.7 L1657.4,1618.0 L1664.3,1617.3 L1670.9,1616.6 L1677.3,1615.9 L1683.5,1615.3 L1689.4,1614.6 L1695.2,1613.9 L1700.7,1613.2 L1706.0,1612.5 L1711.0,1611.9 L1715.9,1611.2 L1720.5,1610.5 L1724.8,1609.9 L1729.0,1609.3 L1732.9,1608.7 L1736.4,1608.2 L1739.6,1607.7 L1742.5,1607.3 L1745.2,1606.8 L1747.7,1606.4 L1750.1,1605.9 L1752.4,1605.4 L1754.6,1604.8 L1756.8,1604.2 L1759.0,1603.6 L1761.2,1602.8 L1763.5,1602.0 L1765.7,1601.1 L1767.8,1600.1 L1769.9,1599.1 L1772.0,1598.0 L1773.9,1597.0 L1775.8,1595.8 L1777.6,1594.7 L1779.3,1593.5 L1780.9,1592.3 L1782.4,1591.1 L1783.8,1589.9 L1785.1,1588.7 L1786.2,1587.6 L1787.2,1586.5 L1788.2,1585.3 L1789.0,1584.2 L1789.8,1583.0 L1790.5,1581.8 L1791.1,1580.4 L1791.7,1579.0 L1792.3,1577.4 L1792.9,1575.6 L1793.5,1573.7 L1794.1,1571.6 L1794.6,1569.4 L1795.2,1567.1 L1795.6,1564.7 L1796.1,1562.2 L1796.5,1559.6 L1796.9,1556.8 L1797.2,1554.0 L1797.6,1551.0 L1797.8,1547.9 L1798.1,1544.7 L1798.3,1541.4 L1798.5,1537.9 L1798.6,1534.2 L1798.6,1530.2 L1798.7,1526.1 L1798.6,1521.9 L1798.6,1517.6 L1798.5,1513.3 L1798.5,1509.0 L1798.4,1504.8 L1798.4,1500.7 L1798.3,1496.7 L1798.3,1493.0 L1798.3,1489.4 L1798.2,1485.7 L1798.2,1482.1 L1798.1,1478.6 L1798.1,1475.1 L1798.0,1471.6 L1798.0,1468.3 L1797.9,1465.2 L1798.0,1462.2 L1798.0,1459.3 L1798.1,1456.7 L1798.3,1454.3 L1798.5,1452.1 L1798.8,1450.2 L1799.1,1448.5 L1799.4,1447.0 L1799.8,1445.7 L1800.1,1444.4 L1800.6,1443.3 L1801.0,1442.2 L1801.5,1441.2 L1802.0,1440.2 L1802.6,1439.1 L1803.2,1438.0 L1803.8,1436.9 L1804.3,1435.8 L1804.9,1434.8 L1805.4,1433.9 L1806.0,1433.0 L1806.7,1432.1 L1807.4,1431.2 L1808.2,1430.4 L1809.1,1429.5 L1810.2,1428.6 L1811.5,1427.7 L1812.9,1426.8 L1814.5,1425.8 L1816.2,1424.9 L1818.1,1423.9 L1820.1,1422.8 L1822.2,1421.8 L1824.4,1420.8 L1826.7,1419.8 L1829.2,1418.9 L1831.7,1417.9 L1834.4,1417.1 L1837.2,1416.2 L1840.0,1415.5 L1842.7,1414.8 L1845.2,1414.2 L1847.6,1413.7 L1850.0,1413.2 L1852.5,1412.8 L1855.2,1412.4 L1858.2,1412.0 L1861.7,1411.6 L1865.7,1411.2 L1870.4,1410.8 L1875.9,1410.3 L1882.3,1409.8 L1889.7,1409.2 L1898.1,1408.7 L1907.2,1408.1 L1917.1,1407.4 L1927.6,1406.8 L1938.4,1406.2 L1949.6,1405.5 L1960.9,1404.9 L1972.1,1404.3 L1983.3,1403.7 L1994.2,1403.1 L2004.6,1402.5 L2014.9,1401.9 L2025.2,1401.4 L2035.6,1400.9 L2046.1,1400.3 L2056.5,1399.8 L2066.9,1399.3 L2077.3,1398.8 L2087.6,1398.3 L2097.7,1397.8 L2107.7,1397.3 L2117.4,1396.9 L2127.0,1396.4 L2136.6,1395.9 L2146.6,1395.5 L2156.7,1395.0 L2166.9,1394.5 L2176.9,1394.0 L2186.7,1393.6 L2196.0,1393.1 L2204.7,1392.7 L2212.7,1392.4 L2219.9,1392.0 L2226.0,1391.7 L2231.0,1391.5" fill="none" stroke="#1a1aff" stroke-width="4.5" stroke-linejoin="round" stroke-linecap="round" stroke-opacity="1"/>
<path d="M2229.6,1652.0 L2224.6,1652.4 L2218.2,1652.8 L2210.6,1653.4 L2202.0,1654.0 L2192.7,1654.7 L2183.0,1655.4 L2173.1,1656.1 L2163.3,1656.8 L2153.7,1657.5 L2144.7,1658.2 L2136.4,1658.8 L2129.2,1659.3 L2122.9,1659.8 L2117.1,1660.2 L2111.7,1660.5 L2106.7,1660.9 L2102.0,1661.2 L2097.5,1661.5 L2093.1,1661.8 L2088.8,1662.2 L2084.6,1662.5 L2080.2,1662.8 L2075.7,1663.2 L2071.0,1663.6 L2066.2,1664.0 L2061.3,1664.5 L2056.4,1664.9 L2051.6,1665.3 L2046.8,1665.8 L2041.9,1666.3 L2037.0,1666.8 L2032.2,1667.3 L2027.3,1667.8 L2022.5,1668.3 L2017.7,1668.9 L2012.8,1669.5 L2008.0,1670.1 L2003.1,1670.8 L1998.2,1671.4 L1993.4,1672.1 L1988.5,1672.8 L1983.7,1673.5 L1978.8,1674.2 L1974.0,1675.0 L1969.1,1675.8 L1964.3,1676.5 L1959.4,1677.4 L1954.6,1678.2 L1949.8,1679.1 L1944.9,1679.9 L1940.0,1680.8 L1935.2,1681.7 L1930.3,1682.7 L1925.5,1683.6 L1920.6,1684.6 L1915.8,1685.6 L1911.0,1686.6 L1906.1,1687.7 L1901.2,1688.7 L1896.4,1689.8 L1891.5,1690.9 L1886.5,1692.1 L1881.4,1693.2 L1876.4,1694.4 L1871.3,1695.7 L1866.2,1696.9 L1861.2,1698.2 L1856.3,1699.4 L1851.5,1700.7 L1846.9,1701.9 L1842.4,1703.2 L1838.2,1704.4 L1834.2,1705.6 L1830.4,1706.8 L1826.7,1708.0 L1823.2,1709.2 L1819.8,1710.4 L1816.5,1711.5 L1813.3,1712.7 L1810.1,1713.9 L1807.0,1715.2 L1803.8,1716.4 L1800.7,1717.7 L1797.5,1719.0 L1794.3,1720.3 L1791.1,1721.7 L1788.0,1723.1 L1784.9,1724.5 L1781.9,1725.9 L1778.8,1727.3 L1775.8,1728.7 L1772.8,1730.2 L1769.9,1731.7 L1767.0,1733.2 L1764.1,1734.7 L1761.2,1736.2 L1758.3,1737.7 L1755.5,1739.3 L1752.6,1740.8 L1749.8,1742.4 L1747.0,1744.0 L1744.3,1745.6 L1741.5,1747.2 L1738.9,1748.8 L1736.3,1750.5 L1733.8,1752.2 L1731.3,1753.9 L1729.0,1755.6 L1726.7,1757.4 L1724.5,1759.3 L1722.4,1761.2 L1720.2,1763.1 L1718.2,1765.1 L1716.2,1767.1 L1714.4,1769.1 L1712.6,1771.0 L1710.8,1772.9 L1709.2,1774.8 L1707.7,1776.5 L1706.3,1778.2 L1705.0,1779.8 L1703.9,1781.2 L1703.0,1782.6 L1702.1,1784.0 L1701.3,1785.2 L1700.6,1786.5 L1700.0,1787.8 L1699.3,1789.0 L1698.7,1790.3 L1698.1,1791.6 L1697.4,1793.0 L1696.6,1794.4 L1695.8,1795.9 L1695.1,1797.5 L1694.3,1799.1 L1693.6,1800.7 L1692.9,1802.4 L1692.2,1804.0 L1691.5,1805.7 L1690.7,1807.4 L1689.9,1809.0 L1689.0,1810.6 L1688.0,1812.2 L1687.0,1813.7 L1685.9,1815.2 L1684.7,1816.6 L1683.4,1818.0 L1682.1,1819.4 L1680.7,1820.7 L1679.3,1822.1 L1677.9,1823.4 L1676.4,1824.7 L1675.0,1826.0 L1673.6,1827.3 L1672.2,1828.7 L1670.8,1830.0 L1669.4,1831.3 L1668.1,1832.6 L1666.7,1833.9 L1665.4,1835.1 L1664.0,1836.4 L1662.7,1837.6 L1661.3,1838.9 L1660.0,1840.2 L1658.6,1841.5 L1657.3,1843.0 L1655.9,1844.4 L1654.6,1846.0 L1653.3,1847.7 L1652.0,1849.4 L1650.7,1851.3 L1649.5,1853.2 L1648.2,1855.1 L1646.9,1857.1 L1645.7,1859.1 L1644.3,1861.1 L1643.0,1863.0 L1641.6,1864.9 L1640.1,1866.8 L1638.5,1868.6 L1636.9,1870.3 L1635.2,1872.1 L1633.6,1873.8 L1631.8,1875.4 L1630.1,1877.1 L1628.3,1878.7 L1626.4,1880.3 L1624.5,1881.9 L1622.5,1883.5 L1620.4,1885.0 L1618.2,1886.5 L1616.0,1888.0 L1613.6,1889.5 L1611.2,1890.9 L1608.6,1892.3 L1605.9,1893.8 L1603.2,1895.1 L1600.4,1896.5 L1597.6,1897.8 L1594.8,1899.1 L1591.9,1900.4 L1589.1,1901.6 L1586.3,1902.8 L1583.6,1904.0 L1581.0,1905.1 L1578.4,1906.2 L1575.9,1907.2 L1573.4,1908.2 L1570.9,1909.2 L1568.4,1910.1 L1565.9,1911.0 L1563.2,1911.9 L1560.5,1912.8 L1557.6,1913.7 L1554.6,1914.5 L1551.3,1915.4 L1547.9,1916.3 L1544.4,1917.1 L1540.7,1918.0 L1537.0,1918.8 L1533.1,1919.7 L1529.2,1920.5 L1525.1,1921.3 L1520.9,1922.1 L1516.6,1922.9 L1512.2,1923.6 L1507.7,1924.3 L1503.0,1925.0 L1498.2,1925.7 L1493.2,1926.3 L1488.1,1926.9 L1482.9,1927.4 L1477.5,1928.0 L1472.1,1928.5 L1466.5,1929.0 L1460.9,1929.5 L1455.3,1930.0 L1449.6,1930.5 L1444.0,1931.1 L1438.3,1931.6 L1432.4,1932.2 L1426.0,1932.8 L1419.3,1933.4 L1412.5,1934.0 L1405.6,1934.6 L1398.8,1935.2 L1392.2,1935.8 L1385.9,1936.3 L1380.2,1936.9 L1375.1,1937.3 L1370.8,1937.7 L1367.3,1938.0" fill="none" stroke="#d0d0d0" stroke-width="11" stroke-linejoin="round" stroke-linecap="round" stroke-opacity="0.5"/>
<path d="M1367.3,1938.5 L1370.8,1938.2 L1375.1,1937.8 L1380.2,1937.4 L1385.9,1936.9 L1392.2,1936.4 L1398.8,1935.9 L1405.6,1935.3 L1412.5,1934.7 L1419.3,1934.1 L1426.0,1933.6 L1432.4,1933.0 L1438.3,1932.5 L1443.9,1932.0 L1449.5,1931.5 L1454.9,1931.0 L1460.3,1930.5 L1465.7,1929.9 L1471.1,1929.4 L1476.4,1928.9 L1481.7,1928.4 L1487.0,1928.0 L1492.3,1927.5 L1497.6,1927.1 L1503.0,1926.7 L1508.4,1926.4 L1513.8,1926.1 L1519.1,1925.8 L1524.5,1925.6 L1529.9,1925.3 L1535.3,1925.1 L1540.6,1924.9 L1546.0,1924.7 L1551.4,1924.5 L1556.8,1924.2 L1562.1,1923.9 L1567.5,1923.5 L1572.9,1923.1 L1578.2,1922.7 L1583.6,1922.2 L1589.0,1921.8 L1594.4,1921.3 L1599.7,1920.8 L1605.1,1920.2 L1610.5,1919.6 L1615.9,1919.0 L1621.2,1918.4 L1626.6,1917.7 L1632.0,1917.0 L1637.4,1916.2 L1642.9,1915.4 L1648.5,1914.5 L1654.1,1913.6 L1659.7,1912.7 L1665.3,1911.7 L1670.8,1910.7 L1676.3,1909.7 L1681.6,1908.7 L1686.8,1907.7 L1691.8,1906.8 L1696.6,1905.8 L1701.2,1904.9 L1705.7,1904.0 L1710.0,1903.1 L1714.2,1902.2 L1718.2,1901.3 L1722.2,1900.5 L1726.1,1899.6 L1729.9,1898.6 L1733.7,1897.7 L1737.5,1896.7 L1741.2,1895.6 L1745.0,1894.5 L1748.8,1893.3 L1752.6,1892.0 L1756.4,1890.6 L1760.2,1889.2 L1763.9,1887.8 L1767.6,1886.3 L1771.2,1884.8 L1774.7,1883.4 L1778.0,1882.0 L1781.2,1880.7 L1784.2,1879.4 L1787.0,1878.3 L1789.6,1877.3 L1791.9,1876.3 L1794.1,1875.4 L1796.1,1874.6 L1797.9,1873.8 L1799.7,1873.1 L1801.4,1872.3 L1803.0,1871.6 L1804.6,1870.9 L1806.2,1870.2 L1807.9,1869.4 L1809.6,1868.6 L1811.3,1867.8 L1812.9,1867.1 L1814.4,1866.4 L1815.9,1865.8 L1817.3,1865.1 L1818.8,1864.5 L1820.3,1863.7 L1821.9,1862.9 L1823.5,1862.0 L1825.3,1861.0 L1827.3,1859.9 L1829.5,1858.6 L1831.9,1857.1 L1834.6,1855.4 L1837.5,1853.6 L1840.6,1851.6 L1843.7,1849.5 L1846.9,1847.4 L1850.1,1845.3 L1853.3,1843.1 L1856.3,1841.0 L1859.2,1839.0 L1862.0,1837.1 L1864.4,1835.3 L1866.6,1833.7 L1868.7,1832.1 L1870.7,1830.6 L1872.6,1829.2 L1874.4,1827.8 L1876.1,1826.4 L1877.7,1825.1 L1879.2,1823.7 L1880.7,1822.3 L1882.1,1820.9 L1883.5,1819.4 L1884.8,1817.9 L1886.1,1816.3 L1887.3,1814.7 L1888.4,1813.0 L1889.4,1811.3 L1890.4,1809.6 L1891.3,1807.9 L1892.2,1806.2 L1893.1,1804.4 L1893.9,1802.7 L1894.7,1800.9 L1895.6,1799.2 L1896.4,1797.5 L1897.2,1795.8 L1898.0,1794.1 L1898.7,1792.3 L1899.4,1790.6 L1900.0,1788.8 L1900.7,1787.1 L1901.3,1785.3 L1902.0,1783.6 L1902.7,1781.9 L1903.4,1780.2 L1904.2,1778.6 L1905.0,1777.0 L1905.8,1775.5 L1906.6,1774.1 L1907.4,1772.7 L1908.2,1771.4 L1909.0,1770.2 L1909.8,1768.9 L1910.7,1767.6 L1911.7,1766.2 L1912.8,1764.8 L1914.0,1763.2 L1915.3,1761.5 L1916.8,1759.7 L1918.5,1757.7 L1920.4,1755.4 L1922.5,1753.0 L1924.7,1750.4 L1927.0,1747.8 L1929.4,1745.2 L1931.8,1742.5 L1934.2,1739.9 L1936.5,1737.3 L1938.8,1734.9 L1941.0,1732.7 L1943.0,1730.6 L1944.8,1728.7 L1946.4,1727.1 L1947.8,1725.5 L1949.1,1724.1 L1950.4,1722.7 L1951.7,1721.4 L1953.1,1720.1 L1954.6,1718.9 L1956.3,1717.5 L1958.3,1716.1 L1960.6,1714.6 L1963.3,1713.0 L1966.4,1711.2 L1969.9,1709.4 L1973.8,1707.4 L1977.9,1705.4 L1982.2,1703.3 L1986.6,1701.2 L1991.1,1699.1 L1995.7,1697.1 L2000.2,1695.1 L2004.6,1693.2 L2008.8,1691.4 L2012.8,1689.8 L2016.6,1688.3 L2020.4,1686.8 L2024.1,1685.5 L2027.8,1684.2 L2031.4,1683.0 L2035.0,1681.8 L2038.5,1680.7 L2042.1,1679.6 L2045.6,1678.5 L2049.2,1677.5 L2052.8,1676.4 L2056.4,1675.3 L2060.0,1674.2 L2063.5,1673.1 L2067.0,1672.0 L2070.4,1671.0 L2073.8,1669.9 L2077.3,1668.9 L2080.8,1667.9 L2084.4,1667.0 L2088.1,1666.0 L2091.9,1665.2 L2095.9,1664.4 L2100.0,1663.6 L2104.3,1662.9 L2108.7,1662.3 L2113.2,1661.7 L2117.9,1661.2 L2122.6,1660.7 L2127.4,1660.3 L2132.3,1659.9 L2137.4,1659.5 L2142.5,1659.1 L2147.7,1658.7 L2152.9,1658.2 L2158.3,1657.8 L2164.0,1657.3 L2170.3,1656.8 L2176.9,1656.3 L2183.7,1655.8 L2190.7,1655.3 L2197.6,1654.8 L2204.3,1654.3 L2210.6,1653.9 L2216.5,1653.4 L2221.7,1653.1 L2226.1,1652.8 L2229.6,1652.5" fill="none" stroke="#d0d0d0" stroke-width="11" stroke-linejoin="round" stroke-linecap="round" stroke-opacity="0.5"/>
<path d="M2229.6,1652.0 L2224.6,1652.4 L2218.2,1652.8 L2210.6,1653.4 L2202.0,1654.0 L2192.7,1654.7 L2183.0,1655.4 L2173.1,1656.1 L2163.3,1656.8 L2153.7,1657.5 L2144.7,1658.2 L2136.4,1658.8 L2129.2,1659.3 L2122.9,1659.8 L2117.1,1660.2 L2111.7,1660.5 L2106.7,1660.9 L2102.0,1661.2 L2097.5,1661.5 L2093.1,1661.8 L2088.8,1662.2 L2084.6,1662.5 L2080.2,1662.8 L2075.7,1663.2 L2071.0,1663.6 L2066.2,1664.0 L2061.3,1664.5 L2056.4,1664.9 L2051.6,1665.3 L2046.8,1665.8 L2041.9,1666.3 L2037.0,1666.8 L2032.2,1667.3 L2027.3,1667.8 L2022.5,1668.3 L2017.7,1668.9 L2012.8,1669.5 L2008.0,1670.1 L2003.1,1670.8 L1998.2,1671.4 L1993.4,1672.1 L1988.5,1672.8 L1983.7,1673.5 L1978.8,1674.2 L1974.0,1675.0 L1969.1,1675.8 L1964.3,1676.5 L1959.4,1677.4 L1954.6,1678.2 L1949.8,1679.1 L1944.9,1679.9 L1940.0,1680.8 L1935.2,1681.7 L1930.3,1682.7 L1925.5,1683.6 L1920.6,1684.6 L1915.8,1685.6 L1911.0,1686.6 L1906.1,1687.7 L1901.2,1688.7 L1896.4,1689.8 L1891.5,1690.9 L1886.5,1692.1 L1881.4,1693.2 L1876.4,1694.4 L1871.3,1695.7 L1866.2,1696.9 L1861.2,1698.2 L1856.3,1699.4 L1851.5,1700.7 L1846.9,1701.9 L1842.4,1703.2 L1838.2,1704.4 L1834.2,1705.6 L1830.4,1706.8 L1826.7,1708.0 L1823.2,1709.2 L1819.8,1710.4 L1816.5,1711.5 L1813.3,1712.7 L1810.1,1713.9 L1807.0,1715.2 L1803.8,1716.4 L1800.7,1717.7 L1797.5,1719.0 L1794.3,1720.3 L1791.1,1721.7 L1788.0,1723.1 L1784.9,1724.5 L1781.9,1725.9 L1778.8,1727.3 L1775.8,1728.7 L1772.8,1730.2 L1769.9,1731.7 L1767.0,1733.2 L1764.1,1734.7 L1761.2,1736.2 L1758.3,1737.7 L1755.5,1739.3 L1752.6,1740.8 L1749.8,1742.4 L1747.0,1744.0 L1744.3,1745.6 L1741.5,1747.2 L1738.9,1748.8 L1736.3,1750.5 L1733.8,1752.2 L1731.3,1753.9 L1729.0,1755.6 L1726.7,1757.4 L1724.5,1759.3 L1722.4,1761.2 L1720.2,1763.1 L1718.2,1765.1 L1716.2,1767.1 L1714.4,1769.1 L1712.6,1771.0 L1710.8,1772.9 L1709.2,1774.8 L1707.7,1776.5 L1706.3,1778.2 L1705.0,1779.8 L1703.9,1781.2 L1703.0,1782.6 L1702.1,1784.0 L1701.3,1785.2 L1700.6,1786.5 L1700.0,1787.8 L1699.3,1789.0 L1698.7,1790.3 L1698.1,1791.6 L1697.4,1793.0 L1696.6,1794.4 L1695.8,1795.9 L1695.1,1797.5 L1694.3,1799.1 L1693.6,1800.7 L1692.9,1802.4 L1692.2,1804.0 L1691.5,1805.7 L1690.7,1807.4 L1689.9,1809.0 L1689.0,1810.6 L1688.0,1812.2 L1687.0,1813.7 L1685.9,1815.2 L1684.7,1816.6 L1683.4,1818.0 L1682.1,1819.4 L1680.7,1820.7 L1679.3,1822.1 L1677.9,1823.4 L1676.4,1824.7 L1675.0,1826.0 L1673.6,1827.3 L1672.2,1828.7 L1670.8,1830.0 L1669.4,1831.3 L1668.1,1832.6 L1666.7,1833.9 L1665.4,1835.1 L1664.0,1836.4 L1662.7,1837.6 L1661.3,1838.9 L1660.0,1840.2 L1658.6,1841.5 L1657.3,1843.0 L1655.9,1844.4 L1654.6,1846.0 L1653.3,1847.7 L1652.0,1849.4 L1650.7,1851.3 L1649.5,1853.2 L1648.2,1855.1 L1646.9,1857.1 L1645.7,1859.1 L1644.3,1861.1 L1643.0,1863.0 L1641.6,1864.9 L1640.1,1866.8 L1638.5,1868.6 L1636.9,1870.3 L1635.2,1872.1 L1633.6,1873.8 L1631.8,1875.4 L1630.1,1877.1 L1628.3,1878.7 L1626.4,1880.3 L1624.5,1881.9 L1622.5,1883.5 L1620.4,1885.0 L1618.2,1886.5 L1616.0,1888.0 L1613.6,1889.5 L1611.2,1890.9 L1608.6,1892.3 L1605.9,1893.8 L1603.2,1895.1 L1600.4,1896.5 L1597.6,1897.8 L1594.8,1899.1 L1591.9,1900.4 L1589.1,1901.6 L1586.3,1902.8 L1583.6,1904.0 L1581.0,1905.1 L1578.4,1906.2 L1575.9,1907.2 L1573.4,1908.2 L1570.9,1909.2 L1568.4,1910.1 L1565.9,1911.0 L1563.2,1911.9 L1560.5,1912.8 L1557.6,1913.7 L1554.6,1914.5 L1551.3,1915.4 L1547.9,1916.3 L1544.4,1917.1 L1540.7,1918.0 L1537.0,1918.8 L1533.1,1919.7 L1529.2,1920.5 L1525.1,1921.3 L1520.9,1922.1 L1516.6,1922.9 L1512.2,1923.6 L1507.7,1924.3 L1503.0,1925.0 L1498.2,1925.7 L1493.2,1926.3 L1488.1,1926.9 L1482.9,1927.4 L1477.5,1928.0 L1472.1,1928.5 L1466.5,1929.0 L1460.9,1929.5 L1455.3,1930.0 L1449.6,1930.5 L1444.0,1931.1 L1438.3,1931.6 L1432.4,1932.2 L1426.0,1932.8 L1419.3,1933.4 L1412.5,1934.0 L1405.6,1934.6 L1398.8,1935.2 L1392.2,1935.8 L1385.9,1936.3 L1380.2,1936.9 L1375.1,1937.3 L1370.8,1937.7 L1367.3,1938.0" fill="none" stroke="#707070" stroke-width="7" stroke-linejoin="round" stroke-linecap="round" stroke-opacity="0.6"/>
<path d="M1367.3,1938.5 L1370.8,1938.2 L1375.1,1937.8 L1380.2,1937.4 L1385.9,1936.9 L1392.2,1936.4 L1398.8,1935.9 L1405.6,1935.3 L1412.5,1934.7 L1419.3,1934.1 L1426.0,1933.6 L1432.4,1933.0 L1438.3,1932.5 L1443.9,1932.0 L1449.5,1931.5 L1454.9,1931.0 L1460.3,1930.5 L1465.7,1929.9 L1471.1,1929.4 L1476.4,1928.9 L1481.7,1928.4 L1487.0,1928.0 L1492.3,1927.5 L1497.6,1927.1 L1503.0,1926.7 L1508.4,1926.4 L1513.8,1926.1 L1519.1,1925.8 L1524.5,1925.6 L1529.9,1925.3 L1535.3,1925.1 L1540.6,1924.9 L1546.0,1924.7 L1551.4,1924.5 L1556.8,1924.2 L1562.1,1923.9 L1567.5,1923.5 L1572.9,1923.1 L1578.2,1922.7 L1583.6,1922.2 L1589.0,1921.8 L1594.4,1921.3 L1599.7,1920.8 L1605.1,1920.2 L1610.5,1919.6 L1615.9,1919.0 L1621.2,1918.4 L1626.6,1917.7 L1632.0,1917.0 L1637.4,1916.2 L1642.9,1915.4 L1648.5,1914.5 L1654.1,1913.6 L1659.7,1912.7 L1665.3,1911.7 L1670.8,1910.7 L1676.3,1909.7 L1681.6,1908.7 L1686.8,1907.7 L1691.8,1906.8 L1696.6,1905.8 L1701.2,1904.9 L1705.7,1904.0 L1710.0,1903.1 L1714.2,1902.2 L1718.2,1901.3 L1722.2,1900.5 L1726.1,1899.6 L1729.9,1898.6 L1733.7,1897.7 L1737.5,1896.7 L1741.2,1895.6 L1745.0,1894.5 L1748.8,1893.3 L1752.6,1892.0 L1756.4,1890.6 L1760.2,1889.2 L1763.9,1887.8 L1767.6,1886.3 L1771.2,1884.8 L1774.7,1883.4 L1778.0,1882.0 L1781.2,1880.7 L1784.2,1879.4 L1787.0,1878.3 L1789.6,1877.3 L1791.9,1876.3 L1794.1,1875.4 L1796.1,1874.6 L1797.9,1873.8 L1799.7,1873.1 L1801.4,1872.3 L1803.0,1871.6 L1804.6,1870.9 L1806.2,1870.2 L1807.9,1869.4 L1809.6,1868.6 L1811.3,1867.8 L1812.9,1867.1 L1814.4,1866.4 L1815.9,1865.8 L1817.3,1865.1 L1818.8,1864.5 L1820.3,1863.7 L1821.9,1862.9 L1823.5,1862.0 L1825.3,1861.0 L1827.3,1859.9 L1829.5,1858.6 L1831.9,1857.1 L1834.6,1855.4 L1837.5,1853.6 L1840.6,1851.6 L1843.7,1849.5 L1846.9,1847.4 L1850.1,1845.3 L1853.3,1843.1 L1856.3,1841.0 L1859.2,1839.0 L1862.0,1837.1 L1864.4,1835.3 L1866.6,1833.7 L1868.7,1832.1 L1870.7,1830.6 L1872.6,1829.2 L1874.4,1827.8 L1876.1,1826.4 L1877.7,1825.1 L1879.2,1823.7 L1880.7,1822.3 L1882.1,1820.9 L1883.5,1819.4 L1884.8,1817.9 L1886.1,1816.3 L1887.3,1814.7 L1888.4,1813.0 L1889.4,1811.3 L1890.4,1809.6 L1891.3,1807.9 L1892.2,1806.2 L1893.1,1804.4 L1893.9,1802.7 L1894.7,1800.9 L1895.6,1799.2 L1896.4,1797.5 L1897.2,1795.8 L1898.0,1794.1 L1898.7,1792.3 L1899.4,1790.6 L1900.0,1788.8 L1900.7,1787.1 L1901.3,1785.3 L1902.0,1783.6 L1902.7,1781.9 L1903.4,1780.2 L1904.2,1778.6 L1905.0,1777.0 L1905.8,1775.5 L1906.6,1774.1 L1907.4,1772.7 L1908.2,1771.4 L1909.0,1770.2 L1909.8,1768.9 L1910.7,1767.6 L1911.7,1766.2 L1912.8,1764.8 L1914.0,1763.2 L1915.3,1761.5 L1916.8,1759.7 L1918.5,1757.7 L1920.4,1755.4 L1922.5,1753.0 L1924.7,1750.4 L1927.0,1747.8 L1929.4,1745.2 L1931.8,1742.5 L1934.2,1739.9 L1936.5,1737.3 L1938.8,1734.9 L1941.0,1732.7 L1943.0,1730.6 L1944.8,1728.7 L1946.4,1727.1 L1947.8,1725.5 L1949.1,1724.1 L1950.4,1722.7 L1951.7,1721.4 L1953.1,1720.1 L1954.6,1718.9 L1956.3,1717.5 L1958.3,1716.1 L1960.6,1714.6 L1963.3,1713.0 L1966.4,1711.2 L1969.9,1709.4 L1973.8,1707.4 L1977.9,1705.4 L1982.2,1703.3 L1986.6,1701.2 L1991.1,1699.1 L1995.7,1697.1 L2000.2,1695.1 L2004.6,1693.2 L2008.8,1691.4 L2012.8,1689.8 L2016.6,1688.3 L2020.4,1686.8 L2024.1,1685.5 L2027.8,1684.2 L2031.4,1683.0 L2035.0,1681.8 L2038.5,1680.7 L2042.1,1679.6 L2045.6,1678.5 L2049.2,1677.5 L2052.8,1676.4 L2056.4,1675.3 L2060.0,1674.2 L2063.5,1673.1 L2067.0,1672.0 L2070.4,1671.0 L2073.8,1669.9 L2077.3,1668.9 L2080.8,1667.9 L2084.4,1667.0 L2088.1,1666.0 L2091.9,1665.2 L2095.9,1664.4 L2100.0,1663.6 L2104.3,1662.9 L2108.7,1662.3 L2113.2,1661.7 L2117.9,1661.2 L2122.6,1660.7 L2127.4,1660.3 L2132.3,1659.9 L2137.4,1659.5 L2142.5,1659.1 L2147.7,1658.7 L2152.9,1658.2 L2158.3,1657.8 L2164.0,1657.3 L2170.3,1656.8 L2176.9,1656.3 L2183.7,1655.8 L2190.7,1655.3 L2197.6,1654.8 L2204.3,1654.3 L2210.6,1653.9 L2216.5,1653.4 L2221.7,1653.1 L2226.1,1652.8 L2229.6,1652.5" fill="none" stroke="#707070" stroke-width="7" stroke-linejoin="round" stroke-linecap="round" stroke-opacity="0.6"/>
<path d="M2229.6,1652.0 L2224.6,1652.4 L2218.2,1652.8 L2210.6,1653.4 L2202.0,1654.0 L2192.7,1654.7 L2183.0,1655.4 L2173.1,1656.1 L2163.3,1656.8 L2153.7,1657.5 L2144.7,1658.2 L2136.4,1658.8 L2129.2,1659.3 L2122.9,1659.8 L2117.1,1660.2 L2111.7,1660.5 L2106.7,1660.9 L2102.0,1661.2 L2097.5,1661.5 L2093.1,1661.8 L2088.8,1662.2 L2084.6,1662.5 L2080.2,1662.8 L2075.7,1663.2 L2071.0,1663.6 L2066.2,1664.0 L2061.3,1664.5 L2056.4,1664.9 L2051.6,1665.3 L2046.8,1665.8 L2041.9,1666.3 L2037.0,1666.8 L2032.2,1667.3 L2027.3,1667.8 L2022.5,1668.3 L2017.7,1668.9 L2012.8,1669.5 L2008.0,1670.1 L2003.1,1670.8 L1998.2,1671.4 L1993.4,1672.1 L1988.5,1672.8 L1983.7,1673.5 L1978.8,1674.2 L1974.0,1675.0 L1969.1,1675.8 L1964.3,1676.5 L1959.4,1677.4 L1954.6,1678.2 L1949.8,1679.1 L1944.9,1679.9 L1940.0,1680.8 L1935.2,1681.7 L1930.3,1682.7 L1925.5,1683.6 L1920.6,1684.6 L1915.8,1685.6 L1911.0,1686.6 L1906.1,1687.7 L1901.2,1688.7 L1896.4,1689.8 L1891.5,1690.9 L1886.5,1692.1 L1881.4,1693.2 L1876.4,1694.4 L1871.3,1695.7 L1866.2,1696.9 L1861.2,1698.2 L1856.3,1699.4 L1851.5,1700.7 L1846.9,1701.9 L1842.4,1703.2 L1838.2,1704.4 L1834.2,1705.6 L1830.4,1706.8 L1826.7,1708.0 L1823.2,1709.2 L1819.8,1710.4 L1816.5,1711.5 L1813.3,1712.7 L1810.1,1713.9 L1807.0,1715.2 L1803.8,1716.4 L1800.7,1717.7 L1797.5,1719.0 L1794.3,1720.3 L1791.1,1721.7 L1788.0,1723.1 L1784.9,1724.5 L1781.9,1725.9 L1778.8,1727.3 L1775.8,1728.7 L1772.8,1730.2 L1769.9,1731.7 L1767.0,1733.2 L1764.1,1734.7 L1761.2,1736.2 L1758.3,1737.7 L1755.5,1739.3 L1752.6,1740.8 L1749.8,1742.4 L1747.0,1744.0 L1744.3,1745.6 L1741.5,1747.2 L1738.9,1748.8 L1736.3,1750.5 L1733.8,1752.2 L1731.3,1753.9 L1729.0,1755.6 L1726.7,1757.4 L1724.5,1759.3 L1722.4,1761.2 L1720.2,1763.1 L1718.2,1765.1 L1716.2,1767.1 L1714.4,1769.1 L1712.6,1771.0 L1710.8,1772.9 L1709.2,1774.8 L1707.7,1776.5 L1706.3,1778.2 L1705.0,1779.8 L1703.9,1781.2 L1703.0,1782.6 L1702.1,1784.0 L1701.3,1785.2 L1700.6,1786.5 L1700.0,1787.8 L1699.3,1789.0 L1698.7,1790.3 L1698.1,1791.6 L1697.4,1793.0 L1696.6,1794.4 L1695.8,1795.9 L1695.1,1797.5 L1694.3,1799.1 L1693.6,1800.7 L1692.9,1802.4 L1692.2,1804.0 L1691.5,1805.7 L1690.7,1807.4 L1689.9,1809.0 L1689.0,1810.6 L1688.0,1812.2 L1687.0,1813.7 L1685.9,1815.2 L1684.7,1816.6 L1683.4,1818.0 L1682.1,1819.4 L1680.7,1820.7 L1679.3,1822.1 L1677.9,1823.4 L1676.4,1824.7 L1675.0,1826.0 L1673.6,1827.3 L1672.2,1828.7 L1670.8,1830.0 L1669.4,1831.3 L1668.1,1832.6 L1666.7,1833.9 L1665.4,1835.1 L1664.0,1836.4 L1662.7,1837.6 L1661.3,1838.9 L1660.0,1840.2 L1658.6,1841.5 L1657.3,1843.0 L1655.9,1844.4 L1654.6,1846.0 L1653.3,1847.7 L1652.0,1849.4 L1650.7,1851.3 L1649.5,1853.2 L1648.2,1855.1 L1646.9,1857.1 L1645.7,1859.1 L1644.3,1861.1 L1643.0,1863.0 L1641.6,1864.9 L1640.1,1866.8 L1638.5,1868.6 L1636.9,1870.3 L1635.2,1872.1 L1633.6,1873.8 L1631.8,1875.4 L1630.1,1877.1 L1628.3,1878.7 L1626.4,1880.3 L1624.5,1881.9 L1622.5,1883.5 L1620.4,1885.0 L1618.2,1886.5 L1616.0,1888.0 L1613.6,1889.5 L1611.2,1890.9 L1608.6,1892.3 L1605.9,1893.8 L1603.2,1895.1 L1600.4,1896.5 L1597.6,1897.8 L1594.8,1899.1 L1591.9,1900.4 L1589.1,1901.6 L1586.3,1902.8 L1583.6,1904.0 L1581.0,1905.1 L1578.4,1906.2 L1575.9,1907.2 L1573.4,1908.2 L1570.9,1909.2 L1568.4,1910.1 L1565.9,1911.0 L1563.2,1911.9 L1560.5,1912.8 L1557.6,1913.7 L1554.6,1914.5 L1551.3,1915.4 L1547.9,1916.3 L1544.4,1917.1 L1540.7,1918.0 L1537.0,1918.8 L1533.1,1919.7 L1529.2,1920.5 L1525.1,1921.3 L1520.9,1922.1 L1516.6,1922.9 L1512.2,1923.6 L1507.7,1924.3 L1503.0,1925.0 L1498.2,1925.7 L1493.2,1926.3 L1488.1,1926.9 L1482.9,1927.4 L1477.5,1928.0 L1472.1,1928.5 L1466.5,1929.0 L1460.9,1929.5 L1455.3,1930.0 L1449.6,1930.5 L1444.0,1931.1 L1438.3,1931.6 L1432.4,1932.2 L1426.0,1932.8 L1419.3,1933.4 L1412.5,1934.0 L1405.6,1934.6 L1398.8,1935.2 L1392.2,1935.8 L1385.9,1936.3 L1380.2,1936.9 L1375.1,1937.3 L1370.8,1937.7 L1367.3,1938.0" fill="none" stroke="#111" stroke-width="3.5" stroke-linejoin="round" stroke-linecap="round" stroke-opacity="1"/>
<path d="M1367.3,1938.5 L1370.8,1938.2 L1375.1,1937.8 L1380.2,1937.4 L1385.9,1936.9 L1392.2,1936.4 L1398.8,1935.9 L1405.6,1935.3 L1412.5,1934.7 L1419.3,1934.1 L1426.0,1933.6 L1432.4,1933.0 L1438.3,1932.5 L1443.9,1932.0 L1449.5,1931.5 L1454.9,1931.0 L1460.3,1930.5 L1465.7,1929.9 L1471.1,1929.4 L1476.4,1928.9 L1481.7,1928.4 L1487.0,1928.0 L1492.3,1927.5 L1497.6,1927.1 L1503.0,1926.7 L1508.4,1926.4 L1513.8,1926.1 L1519.1,1925.8 L1524.5,1925.6 L1529.9,1925.3 L1535.3,1925.1 L1540.6,1924.9 L1546.0,1924.7 L1551.4,1924.5 L1556.8,1924.2 L1562.1,1923.9 L1567.5,1923.5 L1572.9,1923.1 L1578.2,1922.7 L1583.6,1922.2 L1589.0,1921.8 L1594.4,1921.3 L1599.7,1920.8 L1605.1,1920.2 L1610.5,1919.6 L1615.9,1919.0 L1621.2,1918.4 L1626.6,1917.7 L1632.0,1917.0 L1637.4,1916.2 L1642.9,1915.4 L1648.5,1914.5 L1654.1,1913.6 L1659.7,1912.7 L1665.3,1911.7 L1670.8,1910.7 L1676.3,1909.7 L1681.6,1908.7 L1686.8,1907.7 L1691.8,1906.8 L1696.6,1905.8 L1701.2,1904.9 L1705.7,1904.0 L1710.0,1903.1 L1714.2,1902.2 L1718.2,1901.3 L1722.2,1900.5 L1726.1,1899.6 L1729.9,1898.6 L1733.7,1897.7 L1737.5,1896.7 L1741.2,1895.6 L1745.0,1894.5 L1748.8,1893.3 L1752.6,1892.0 L1756.4,1890.6 L1760.2,1889.2 L1763.9,1887.8 L1767.6,1886.3 L1771.2,1884.8 L1774.7,1883.4 L1778.0,1882.0 L1781.2,1880.7 L1784.2,1879.4 L1787.0,1878.3 L1789.6,1877.3 L1791.9,1876.3 L1794.1,1875.4 L1796.1,1874.6 L1797.9,1873.8 L1799.7,1873.1 L1801.4,1872.3 L1803.0,1871.6 L1804.6,1870.9 L1806.2,1870.2 L1807.9,1869.4 L1809.6,1868.6 L1811.3,1867.8 L1812.9,1867.1 L1814.4,1866.4 L1815.9,1865.8 L1817.3,1865.1 L1818.8,1864.5 L1820.3,1863.7 L1821.9,1862.9 L1823.5,1862.0 L1825.3,1861.0 L1827.3,1859.9 L1829.5,1858.6 L1831.9,1857.1 L1834.6,1855.4 L1837.5,1853.6 L1840.6,1851.6 L1843.7,1849.5 L1846.9,1847.4 L1850.1,1845.3 L1853.3,1843.1 L1856.3,1841.0 L1859.2,1839.0 L1862.0,1837.1 L1864.4,1835.3 L1866.6,1833.7 L1868.7,1832.1 L1870.7,1830.6 L1872.6,1829.2 L1874.4,1827.8 L1876.1,1826.4 L1877.7,1825.1 L1879.2,1823.7 L1880.7,1822.3 L1882.1,1820.9 L1883.5,1819.4 L1884.8,1817.9 L1886.1,1816.3 L1887.3,1814.7 L1888.4,1813.0 L1889.4,1811.3 L1890.4,1809.6 L1891.3,1807.9 L1892.2,1806.2 L1893.1,1804.4 L1893.9,1802.7 L1894.7,1800.9 L1895.6,1799.2 L1896.4,1797.5 L1897.2,1795.8 L1898.0,1794.1 L1898.7,1792.3 L1899.4,1790.6 L1900.0,1788.8 L1900.7,1787.1 L1901.3,1785.3 L1902.0,1783.6 L1902.7,1781.9 L1903.4,1780.2 L1904.2,1778.6 L1905.0,1777.0 L1905.8,1775.5 L1906.6,1774.1 L1907.4,1772.7 L1908.2,1771.4 L1909.0,1770.2 L1909.8,1768.9 L1910.7,1767.6 L1911.7,1766.2 L1912.8,1764.8 L1914.0,1763.2 L1915.3,1761.5 L1916.8,1759.7 L1918.5,1757.7 L1920.4,1755.4 L1922.5,1753.0 L1924.7,1750.4 L1927.0,1747.8 L1929.4,1745.2 L1931.8,1742.5 L1934.2,1739.9 L1936.5,1737.3 L1938.8,1734.9 L1941.0,1732.7 L1943.0,1730.6 L1944.8,1728.7 L1946.4,1727.1 L1947.8,1725.5 L1949.1,1724.1 L1950.4,1722.7 L1951.7,1721.4 L1953.1,1720.1 L1954.6,1718.9 L1956.3,1717.5 L1958.3,1716.1 L1960.6,1714.6 L1963.3,1713.0 L1966.4,1711.2 L1969.9,1709.4 L1973.8,1707.4 L1977.9,1705.4 L1982.2,1703.3 L1986.6,1701.2 L1991.1,1699.1 L1995.7,1697.1 L2000.2,1695.1 L2004.6,1693.2 L2008.8,1691.4 L2012.8,1689.8 L2016.6,1688.3 L2020.4,1686.8 L2024.1,1685.5 L2027.8,1684.2 L2031.4,1683.0 L2035.0,1681.8 L2038.5,1680.7 L2042.1,1679.6 L2045.6,1678.5 L2049.2,1677.5 L2052.8,1676.4 L2056.4,1675.3 L2060.0,1674.2 L2063.5,1673.1 L2067.0,1672.0 L2070.4,1671.0 L2073.8,1669.9 L2077.3,1668.9 L2080.8,1667.9 L2084.4,1667.0 L2088.1,1666.0 L2091.9,1665.2 L2095.9,1664.4 L2100.0,1663.6 L2104.3,1662.9 L2108.7,1662.3 L2113.2,1661.7 L2117.9,1661.2 L2122.6,1660.7 L2127.4,1660.3 L2132.3,1659.9 L2137.4,1659.5 L2142.5,1659.1 L2147.7,1658.7 L2152.9,1658.2 L2158.3,1657.8 L2164.0,1657.3 L2170.3,1656.8 L2176.9,1656.3 L2183.7,1655.8 L2190.7,1655.3 L2197.6,1654.8 L2204.3,1654.3 L2210.6,1653.9 L2216.5,1653.4 L2221.7,1653.1 L2226.1,1652.8 L2229.6,1652.5" fill="none" stroke="#111" stroke-width="3.5" stroke-linejoin="round" stroke-linecap="round" stroke-opacity="1"/>
<rect x="1359" y="1068" width="878.5" height="892.5" fill="none" stroke="#000" stroke-width="9"/>
<line x1="1359.0" y1="1960.5" x2="1359.0" y2="1977.5" stroke="#000" stroke-width="7" />
<line x1="1469.0" y1="1960.5" x2="1469.0" y2="1971.5" stroke="#000" stroke-width="6" />
<line x1="1578.8" y1="1960.5" x2="1578.8" y2="1977.5" stroke="#000" stroke-width="7" />
<line x1="1688.6" y1="1960.5" x2="1688.6" y2="1971.5" stroke="#000" stroke-width="6" />
<line x1="1798.3" y1="1960.5" x2="1798.3" y2="1977.5" stroke="#000" stroke-width="7" />
<line x1="1908.0" y1="1960.5" x2="1908.0" y2="1971.5" stroke="#000" stroke-width="6" />
<line x1="2018.0" y1="1960.5" x2="2018.0" y2="1977.5" stroke="#000" stroke-width="7" />
<line x1="2127.7" y1="1960.5" x2="2127.7" y2="1971.5" stroke="#000" stroke-width="6" />
<line x1="2237.0" y1="1960.5" x2="2237.0" y2="1977.5" stroke="#000" stroke-width="7" />
<text x="1304.2" y="1106.2" style="font-size:64px" text-anchor="start" fill="#000" >4</text>
<text x="1305.0" y="1240.2" style="font-size:64px" text-anchor="start" fill="#000" >0</text>
<text x="1279.7" y="1375.8" style="font-size:64px" text-anchor="start" fill="#000" >-4</text>
<text x="1306.7" y="1427.5" style="font-size:64px" text-anchor="start" fill="#000" >6</text>
<text x="1305.0" y="1527.0" style="font-size:64px" text-anchor="start" fill="#000" >0</text>
<text x="1283.4" y="1612.5" style="font-size:64px" text-anchor="start" fill="#000" >-6</text>
<text x="1301.3" y="1678.7" style="font-size:64px" text-anchor="start" fill="#000" >4</text>
<text x="1302.0" y="1815.0" style="font-size:64px" text-anchor="start" fill="#000" >0</text>
<text x="1276.8" y="1955.8" style="font-size:64px" text-anchor="start" fill="#000" >-4</text>
<text x="1333.6" y="2033.3" style="font-size:57px" text-anchor="start" fill="#000" >-8</text>
<text x="1551.7" y="2033.3" style="font-size:57px" text-anchor="start" fill="#000" >-4</text>
<text x="1781.7" y="2033.3" style="font-size:57px" text-anchor="start" fill="#000" >0</text>
<text x="2000.9" y="2033.3" style="font-size:57px" text-anchor="start" fill="#000" >4</text>
<text x="2220.1" y="2033.3" style="font-size:57px" text-anchor="start" fill="#000" >8</text>
<text x="1172.5" y="1099.4" style="font-size:80px" text-anchor="start" fill="#000" >(d)</text>
<text x="1728" y="2110.8" style="font-size:79px"><tspan style="font-style:italic">H</tspan>(T)</text>
<text transform="translate(1244,1633) rotate(-90)" style="font-size:81.5px">4<tspan style="font-style:italic;font-weight:normal;font-family:'Liberation Serif',serif">π</tspan>M (kG)</text>
<text x="1347.5" y="1127.2" style="font-size:59px">CoFe<tspan dy="24" style="font-size:33px">2</tspan><tspan dy="-24">O</tspan><tspan dy="24" style="font-size:33px">4</tspan><tspan dy="-24">/ZnFe</tspan><tspan dy="24" style="font-size:33px">2</tspan><tspan dy="-24">O</tspan><tspan dy="24" style="font-size:33px">4</tspan></text>
<text x="1446" y="1465.6" style="font-size:59px">ZnFe<tspan dy="24" style="font-size:33px">2</tspan><tspan dy="-24">O</tspan><tspan dy="24" style="font-size:33px">4</tspan></text>
<text x="1444" y="1757.2" style="font-size:59px">CoFe<tspan dy="24" style="font-size:33px">2</tspan><tspan dy="-24">O</tspan><tspan dy="24" style="font-size:33px">4</tspan></text>
</svg>
</body></html>
